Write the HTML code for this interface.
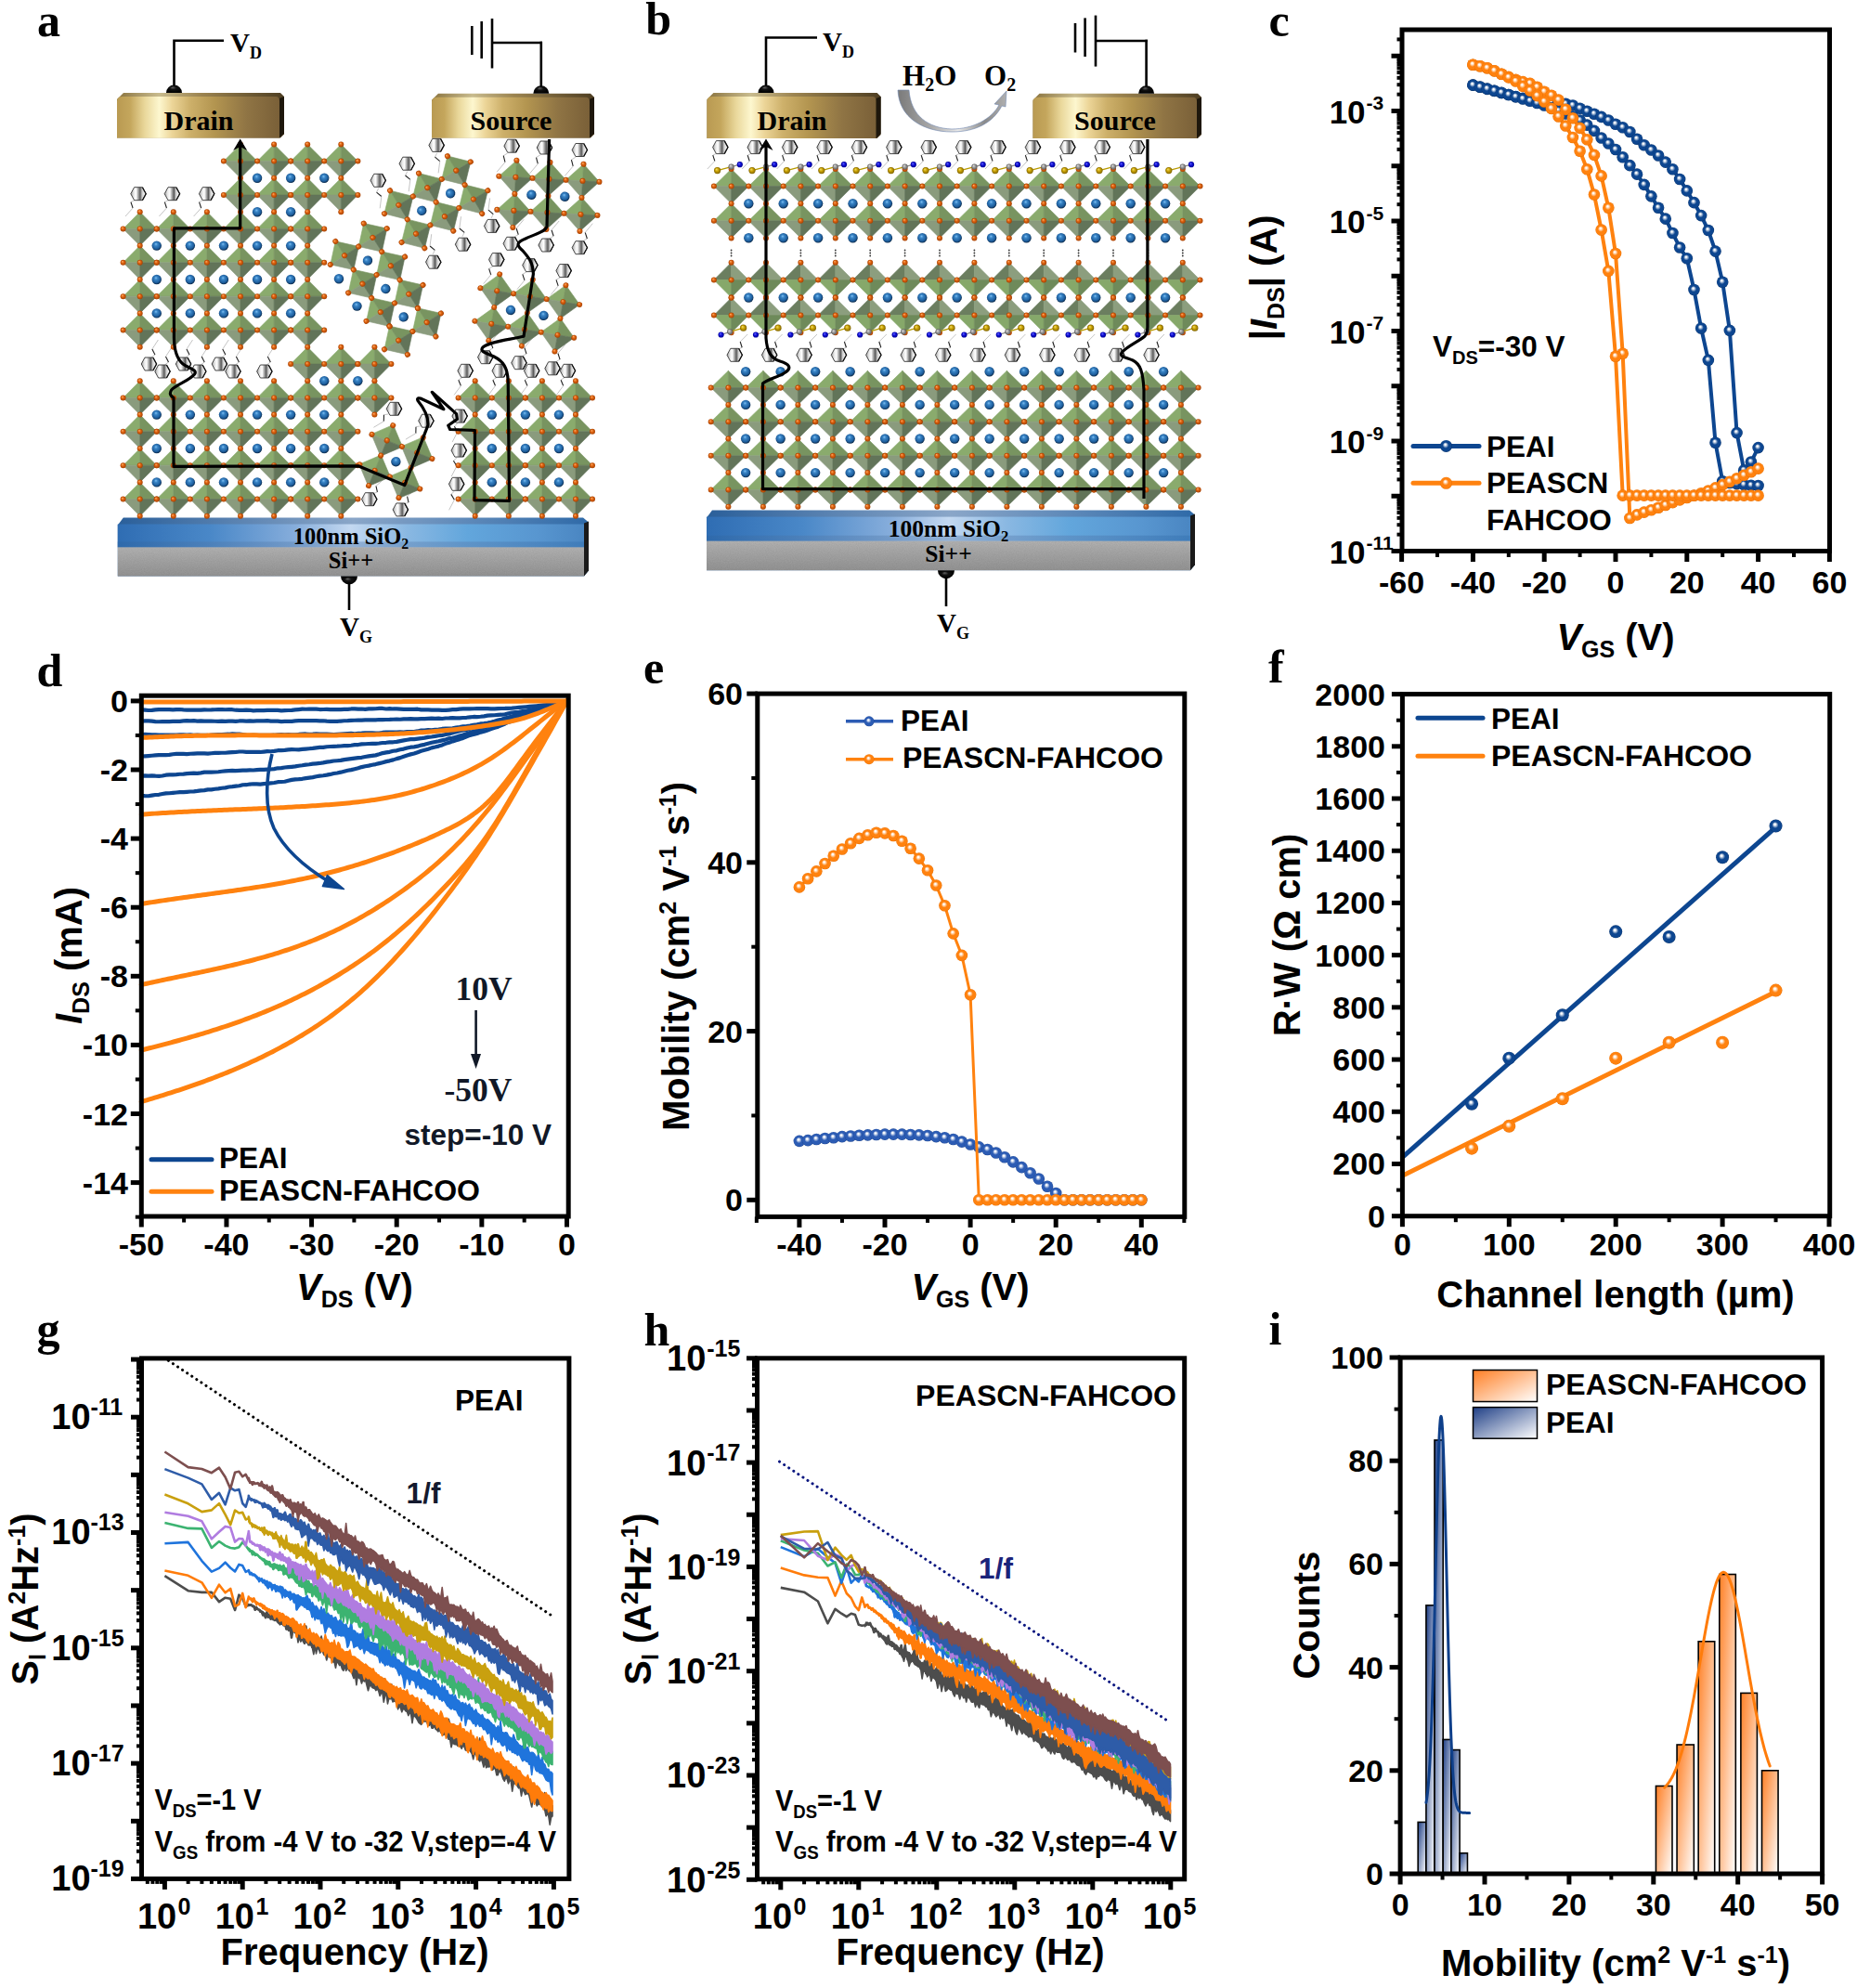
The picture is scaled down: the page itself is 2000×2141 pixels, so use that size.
<!DOCTYPE html><html><head><meta charset="utf-8"><title>Figure</title><style>html,body{margin:0;padding:0;background:#fff;}svg{display:block;}</style></head><body>
<svg xmlns="http://www.w3.org/2000/svg" width="2000" height="2141" viewBox="0 0 2000 2141">
<rect width="2000" height="2141" fill="#fff"/>
<defs>
<radialGradient id="bO" cx="0.5" cy="0.5" r="0.5" fx="0.42" fy="0.36"><stop offset="0" stop-color="#fff"/><stop offset="0.12" stop-color="#fff" stop-opacity="0.95"/><stop offset="0.5" stop-color="#ff820f"/><stop offset="0.88" stop-color="#ff820f"/><stop offset="1" stop-color="#e86e00"/></radialGradient>
<radialGradient id="bN" cx="0.5" cy="0.5" r="0.5" fx="0.42" fy="0.36"><stop offset="0" stop-color="#fff"/><stop offset="0.12" stop-color="#fff" stop-opacity="0.95"/><stop offset="0.5" stop-color="#0d4690"/><stop offset="0.88" stop-color="#0d4690"/><stop offset="1" stop-color="#08336c"/></radialGradient>
<radialGradient id="bR" cx="0.5" cy="0.5" r="0.5" fx="0.42" fy="0.36"><stop offset="0" stop-color="#fff"/><stop offset="0.12" stop-color="#fff" stop-opacity="0.95"/><stop offset="0.5" stop-color="#2c5cb4"/><stop offset="0.88" stop-color="#2c5cb4"/><stop offset="1" stop-color="#1d4590"/></radialGradient>
<linearGradient id="hO" x1="0" y1="0" x2="1" y2="1"><stop offset="0" stop-color="#ff7f24"/><stop offset="1" stop-color="#fff"/></linearGradient>
<linearGradient id="hN" x1="0" y1="0" x2="1" y2="1"><stop offset="0" stop-color="#1f3f86"/><stop offset="1" stop-color="#fff"/></linearGradient>
<linearGradient id="hOb" x1="0" y1="0" x2="1" y2="0"><stop offset="0" stop-color="#ff8a3a"/><stop offset="1" stop-color="#fff"/></linearGradient>
<linearGradient id="hNb" x1="0" y1="0" x2="1" y2="0"><stop offset="0" stop-color="#2a4a8e"/><stop offset="1" stop-color="#fff"/></linearGradient>
</defs>
<defs>
<linearGradient id="gold" x1="0" y1="0" x2="1" y2="0"><stop offset="0" stop-color="#b99a52"/><stop offset="0.08" stop-color="#c4a65c"/><stop offset="0.17" stop-color="#e9d79a"/><stop offset="0.26" stop-color="#fdf7cf"/><stop offset="0.34" stop-color="#ecd598"/><stop offset="0.45" stop-color="#cdb06a"/><stop offset="0.6" stop-color="#b39550"/><stop offset="0.8" stop-color="#8f7444"/><stop offset="1" stop-color="#7a6038"/></linearGradient>
<linearGradient id="goldtop" x1="0" y1="0" x2="1" y2="0"><stop offset="0" stop-color="#8a733e"/><stop offset="0.25" stop-color="#c8bb8e"/><stop offset="0.5" stop-color="#9c8450"/><stop offset="1" stop-color="#4e3e22"/></linearGradient>
<linearGradient id="sio2" x1="0" y1="0" x2="1" y2="0"><stop offset="0" stop-color="#2f6db3"/><stop offset="0.2" stop-color="#4a88c8"/><stop offset="0.38" stop-color="#86addb"/><stop offset="0.5" stop-color="#c3d8f1"/><stop offset="0.62" stop-color="#8ab8e2"/><stop offset="0.75" stop-color="#62a6dc"/><stop offset="0.9" stop-color="#5896d0"/><stop offset="1" stop-color="#4a86c2"/></linearGradient>
<linearGradient id="sio2b" x1="0" y1="0" x2="1" y2="0"><stop offset="0" stop-color="#2e68a8"/><stop offset="0.5" stop-color="#7d9fc8"/><stop offset="1" stop-color="#3a78b6"/></linearGradient>
<linearGradient id="sio2t" x1="0" y1="0" x2="1" y2="0"><stop offset="0" stop-color="#2a5f9a"/><stop offset="0.5" stop-color="#8aa6c8"/><stop offset="1" stop-color="#2f6aa8"/></linearGradient>
<linearGradient id="si" x1="0" y1="0" x2="0" y2="1"><stop offset="0" stop-color="#b4b4b4"/><stop offset="0.5" stop-color="#a4a4a4"/><stop offset="1" stop-color="#959595"/></linearGradient>
<filter id="grain" x="0" y="0" width="1" height="1"><feTurbulence type="fractalNoise" baseFrequency="0.9" numOctaves="2" seed="3" result="n"/><feColorMatrix type="matrix" values="0 0 0 0 0.5  0 0 0 0 0.5  0 0 0 0 0.5  0 0 0 0.35 0" in="n" result="m"/><feComposite in="m" in2="SourceGraphic" operator="in" result="c"/><feBlend in="SourceGraphic" in2="c" mode="multiply"/></filter>
<radialGradient id="gOr" cx="0.5" cy="0.5" r="0.5" fx="0.35" fy="0.3"><stop offset="0" stop-color="#ffb070"/><stop offset="0.45" stop-color="#e06612"/><stop offset="1" stop-color="#a84000"/></radialGradient>
<radialGradient id="gBl" cx="0.46" cy="0.44" r="0.56" fx="0.42" fy="0.32"><stop offset="0" stop-color="#7fc0f4"/><stop offset="0.3" stop-color="#3a85c6"/><stop offset="0.75" stop-color="#1d5d9c"/><stop offset="1" stop-color="#0a2848"/></radialGradient>
<radialGradient id="gS" cx="0.5" cy="0.5" r="0.5" fx="0.35" fy="0.3"><stop offset="0" stop-color="#f4e070"/><stop offset="0.5" stop-color="#c8a000"/><stop offset="1" stop-color="#806400"/></radialGradient>
<radialGradient id="gN" cx="0.5" cy="0.5" r="0.5" fx="0.35" fy="0.3"><stop offset="0" stop-color="#7070ff"/><stop offset="0.5" stop-color="#1010d8"/><stop offset="1" stop-color="#000090"/></radialGradient>
<radialGradient id="gC" cx="0.5" cy="0.5" r="0.5" fx="0.35" fy="0.3"><stop offset="0" stop-color="#e0e0e0"/><stop offset="0.5" stop-color="#9a9a9a"/><stop offset="1" stop-color="#5a5a5a"/></radialGradient>
<radialGradient id="gK" cx="0.5" cy="0.5" r="0.5" fx="0.4" fy="0.3"><stop offset="0" stop-color="#666"/><stop offset="0.4" stop-color="#111"/><stop offset="1" stop-color="#000"/></radialGradient>
<linearGradient id="hx" x1="0" y1="0" x2="1" y2="0"><stop offset="0" stop-color="#9a9a9a"/><stop offset="0.2" stop-color="#e8e8e8"/><stop offset="0.35" stop-color="#fff"/><stop offset="0.5" stop-color="#a0a0a0"/><stop offset="0.62" stop-color="#5a5a5a"/><stop offset="0.75" stop-color="#d0d0d0"/><stop offset="0.9" stop-color="#f4f4f4"/><stop offset="1" stop-color="#b0b0b0"/></linearGradient>
<linearGradient id="arr" x1="0" y1="0" x2="1" y2="0"><stop offset="0" stop-color="#7a7a7a"/><stop offset="0.3" stop-color="#a8a8a8"/><stop offset="0.55" stop-color="#e8e8e8"/><stop offset="0.8" stop-color="#8a8a8a"/><stop offset="1" stop-color="#b0b0b0"/></linearGradient>
<g id="oA"><polygon points="-18.05,0 0,-18.2 0,0" fill="#8aab6d" stroke="#8aab6d" stroke-width="0.6" stroke-linejoin="bevel"/><polygon points="0,-18.2 18.05,0 0,0" fill="#789460" stroke="#789460" stroke-width="0.6" stroke-linejoin="bevel"/><polygon points="-18.05,0 0,18.2 0,0" fill="#8a9b7d" stroke="#8a9b7d" stroke-width="0.6" stroke-linejoin="bevel"/><polygon points="0,18.2 18.05,0 0,0" fill="#627459" stroke="#627459" stroke-width="0.6" stroke-linejoin="bevel"/></g>
<g id="oB"><polygon points="-18.7,0 0,-18.3 0,0" fill="#8aab6d" stroke="#8aab6d" stroke-width="0.6" stroke-linejoin="bevel"/><polygon points="0,-18.3 18.7,0 0,0" fill="#789460" stroke="#789460" stroke-width="0.6" stroke-linejoin="bevel"/><polygon points="-18.7,0 0,18.3 0,0" fill="#8a9b7d" stroke="#8a9b7d" stroke-width="0.6" stroke-linejoin="bevel"/><polygon points="0,18.3 18.7,0 0,0" fill="#627459" stroke="#627459" stroke-width="0.6" stroke-linejoin="bevel"/></g>
<g id="oB1"><polygon points="-18.7,0 0,-18.6 0,0" fill="#8aab6d" stroke="#8aab6d" stroke-width="0.6" stroke-linejoin="bevel"/><polygon points="0,-18.6 18.7,0 0,0" fill="#789460" stroke="#789460" stroke-width="0.6" stroke-linejoin="bevel"/><polygon points="-18.7,0 0,18.6 0,0" fill="#8a9b7d" stroke="#8a9b7d" stroke-width="0.6" stroke-linejoin="bevel"/><polygon points="0,18.6 18.7,0 0,0" fill="#627459" stroke="#627459" stroke-width="0.6" stroke-linejoin="bevel"/></g>
<g id="oB2"><polygon points="-18.7,0 0,-18.8 0,0" fill="#6b7e5f" stroke="#6b7e5f" stroke-width="0.6" stroke-linejoin="bevel"/><polygon points="0,-18.8 18.7,0 0,0" fill="#8c9e7e" stroke="#8c9e7e" stroke-width="0.6" stroke-linejoin="bevel"/><polygon points="-18.7,0 0,18.8 0,0" fill="#86a86a" stroke="#86a86a" stroke-width="0.6" stroke-linejoin="bevel"/><polygon points="0,18.8 18.7,0 0,0" fill="#6e8a5a" stroke="#6e8a5a" stroke-width="0.6" stroke-linejoin="bevel"/></g>
<circle id="od" r="3" fill="url(#gOr)"/>
<circle id="bd" r="5.2" fill="url(#gBl)"/>
<g id="hex"><polygon points="-8.2,0 -4.4,-7 4.4,-7 8.2,0 4.4,7 -4.4,7" fill="url(#hx)" stroke="#333" stroke-width="0.9"/><polyline points="4.4,-7 8.2,0 4.4,7" fill="none" stroke="#111" stroke-width="1.3"/></g>
</defs>
<text x="40" y="38.6" font-size="50" text-anchor="start" fill="#000" font-family="'Liberation Serif','Times New Roman',serif" font-weight="bold" >a</text>
<polyline points="187.5,94 187.5,43.7 241,43.7" fill="none" stroke="#000" stroke-width="2.6"/>
<text x="248" y="56" font-size="29" font-family="'Liberation Serif','Times New Roman',serif" font-weight="bold">V<tspan font-size="18" dy="7">D</tspan></text>
<line x1="508.3" y1="28" x2="508.3" y2="59" stroke="#000" stroke-width="2.6" />
<line x1="518.7" y1="23" x2="518.7" y2="63" stroke="#000" stroke-width="2.6" />
<line x1="530" y1="20" x2="530" y2="73.5" stroke="#000" stroke-width="2.6" />
<line x1="530" y1="46" x2="584" y2="46" stroke="#000" stroke-width="2.6" />
<line x1="582.8" y1="44.7" x2="582.8" y2="94" stroke="#000" stroke-width="2.6" />
<path d="M126,107 L133,100 L302,100 L306,104 L306,144.5 L302,148.5 L126,148.5 Z" fill="url(#goldtop)"/>
<path d="M126,109 Q126,104 132,104 L297,104 Q301,104 301,109 L301,148.5 L126,148.5 Z" fill="url(#gold)"/>
<path d="M301,106 L306,104 L306,143.5 L301,148.5 Z" fill="#1e170c"/>
<text x="214" y="139.5" font-size="30" text-anchor="middle" fill="#000" font-family="'Liberation Serif','Times New Roman',serif" font-weight="bold" >Drain</text>
<path d="M465,107.8 L472,100.8 L636,100.8 L640,104.8 L640,144.5 L636,148.5 L465,148.5 Z" fill="url(#goldtop)"/>
<path d="M465,109.8 Q465,104.8 471,104.8 L631,104.8 Q635,104.8 635,109.8 L635,148.5 L465,148.5 Z" fill="url(#gold)"/>
<path d="M635,106.8 L640,104.8 L640,143.5 L635,148.5 Z" fill="#1e170c"/>
<text x="550.5" y="139.5" font-size="30" text-anchor="middle" fill="#000" font-family="'Liberation Serif','Times New Roman',serif" font-weight="bold" >Source</text>
<path d="M179,100 A8.5,8.5 0 0 1 196,100 Z" fill="url(#gK)"/>
<path d="M574.3,100.8 A8.5,8.5 0 0 1 591.3,100.8 Z" fill="url(#gK)"/>
<path d="M126.8,565.5 L132.8,557.5 L628,557.5 L634,562.5 L634,614.5 L629,620.5 L126.8,620.5 Z" fill="url(#sio2t)"/>
<rect x="126.8" y="564.5" width="502.2" height="24.9" fill="url(#sio2)"/>
<rect x="126.8" y="583.4" width="502.2" height="6" fill="url(#sio2b)" opacity="0.7"/>
<rect x="126.8" y="589.4" width="502.2" height="31.1" fill="url(#si)" filter="url(#grain)"/>
<path d="M629,563.5 L634,561.5 L634,614.5 L629,620.5 Z" fill="#1a1a1a"/>
<text x="378" y="586" font-size="24.5" text-anchor="middle" font-family="'Liberation Serif','Times New Roman',serif" font-weight="bold">100nm SiO<tspan font-size="15.9" dy="5">2</tspan></text>
<text x="378" y="612" font-size="24.5" text-anchor="middle" font-family="'Liberation Serif','Times New Roman',serif" font-weight="bold">Si++</text>
<path d="M367,620.5 A9,9 0 0 0 385,620.5 Z" fill="url(#gK)"/>
<line x1="376" y1="627" x2="376" y2="657" stroke="#000" stroke-width="2.6" />
<text x="366" y="684.5" font-size="29" font-family="'Liberation Serif','Times New Roman',serif" font-weight="bold">V<tspan font-size="18" dy="7">G</tspan></text>
<polyline points="145.08,215.5 140.95,217.66" fill="none" stroke="#bdbdbd" stroke-width="0.9"/>
<polyline points="140.95,217.66 143.05,224.04" fill="none" stroke="#222" stroke-width="1.1"/>
<polyline points="143.05,224.04 135,233" fill="none" stroke="#bdbdbd" stroke-width="0.9"/>
<use href="#hex" transform="translate(149,208.7)"/>
<polyline points="181.48,215.5 177.35,217.66" fill="none" stroke="#bdbdbd" stroke-width="0.9"/>
<polyline points="177.35,217.66 179.45,224.04" fill="none" stroke="#222" stroke-width="1.1"/>
<polyline points="179.45,224.04 171.4,233" fill="none" stroke="#bdbdbd" stroke-width="0.9"/>
<use href="#hex" transform="translate(185.4,208.7)"/>
<polyline points="218.68,215.5 214.55,217.66" fill="none" stroke="#bdbdbd" stroke-width="0.9"/>
<polyline points="214.55,217.66 216.65,224.04" fill="none" stroke="#222" stroke-width="1.1"/>
<polyline points="216.65,224.04 208.6,233" fill="none" stroke="#bdbdbd" stroke-width="0.9"/>
<use href="#hex" transform="translate(222.6,208.7)"/>
<polyline points="163.2,384.72 166.93,381.98" fill="none" stroke="#bdbdbd" stroke-width="0.9"/>
<polyline points="166.93,381.98 163.87,376.02" fill="none" stroke="#222" stroke-width="1.1"/>
<polyline points="163.87,376.02 170.4,366" fill="none" stroke="#bdbdbd" stroke-width="0.9"/>
<use href="#hex" transform="translate(160.4,392)"/>
<polyline points="177.8,392.72 181.53,389.98" fill="none" stroke="#bdbdbd" stroke-width="0.9"/>
<polyline points="181.53,389.98 178.47,384.02" fill="none" stroke="#222" stroke-width="1.1"/>
<polyline points="178.47,384.02 185,374" fill="none" stroke="#bdbdbd" stroke-width="0.9"/>
<use href="#hex" transform="translate(175,400)"/>
<polyline points="200.3,384.72 204.03,381.98" fill="none" stroke="#bdbdbd" stroke-width="0.9"/>
<polyline points="204.03,381.98 200.97,376.02" fill="none" stroke="#222" stroke-width="1.1"/>
<polyline points="200.97,376.02 207.5,366" fill="none" stroke="#bdbdbd" stroke-width="0.9"/>
<use href="#hex" transform="translate(197.5,392)"/>
<polyline points="216.5,392.72 220.23,389.98" fill="none" stroke="#bdbdbd" stroke-width="0.9"/>
<polyline points="220.23,389.98 217.17,384.02" fill="none" stroke="#222" stroke-width="1.1"/>
<polyline points="217.17,384.02 223.7,374" fill="none" stroke="#bdbdbd" stroke-width="0.9"/>
<use href="#hex" transform="translate(213.7,400)"/>
<polyline points="239.1,384.72 242.83,381.98" fill="none" stroke="#bdbdbd" stroke-width="0.9"/>
<polyline points="242.83,381.98 239.77,376.02" fill="none" stroke="#222" stroke-width="1.1"/>
<polyline points="239.77,376.02 246.3,366" fill="none" stroke="#bdbdbd" stroke-width="0.9"/>
<use href="#hex" transform="translate(236.3,392)"/>
<polyline points="253.7,392.72 257.43,389.98" fill="none" stroke="#bdbdbd" stroke-width="0.9"/>
<polyline points="257.43,389.98 254.37,384.02" fill="none" stroke="#222" stroke-width="1.1"/>
<polyline points="254.37,384.02 260.9,374" fill="none" stroke="#bdbdbd" stroke-width="0.9"/>
<use href="#hex" transform="translate(250.9,400)"/>
<polyline points="287.6,392.72 291.33,389.98" fill="none" stroke="#bdbdbd" stroke-width="0.9"/>
<polyline points="291.33,389.98 288.27,384.02" fill="none" stroke="#222" stroke-width="1.1"/>
<polyline points="288.27,384.02 294.8,374" fill="none" stroke="#bdbdbd" stroke-width="0.9"/>
<use href="#hex" transform="translate(284.8,400)"/>
<polyline points="470.66,164.8 468.45,169.17" fill="none" stroke="#bdbdbd" stroke-width="0.9"/>
<polyline points="468.45,169.17 473.75,173.63" fill="none" stroke="#222" stroke-width="1.1"/>
<polyline points="473.75,173.63 472.1,186.4" fill="none" stroke="#bdbdbd" stroke-width="0.9"/>
<use href="#hex" transform="translate(470.1,156.4)"/>
<polyline points="438.76,184.6 436.55,188.97" fill="none" stroke="#bdbdbd" stroke-width="0.9"/>
<polyline points="436.55,188.97 441.85,193.43" fill="none" stroke="#222" stroke-width="1.1"/>
<polyline points="441.85,193.43 440.2,206.2" fill="none" stroke="#bdbdbd" stroke-width="0.9"/>
<use href="#hex" transform="translate(438.2,176.2)"/>
<polyline points="407.76,202.7 405.55,207.07" fill="none" stroke="#bdbdbd" stroke-width="0.9"/>
<polyline points="405.55,207.07 410.85,211.53" fill="none" stroke="#222" stroke-width="1.1"/>
<polyline points="410.85,211.53 409.2,224.3" fill="none" stroke="#bdbdbd" stroke-width="0.9"/>
<use href="#hex" transform="translate(407.2,194.3)"/>
<polyline points="529.04,235 531.25,230.63" fill="none" stroke="#bdbdbd" stroke-width="0.9"/>
<polyline points="531.25,230.63 525.95,226.17" fill="none" stroke="#222" stroke-width="1.1"/>
<polyline points="525.95,226.17 527.6,213.4" fill="none" stroke="#bdbdbd" stroke-width="0.9"/>
<use href="#hex" transform="translate(529.6,243.4)"/>
<polyline points="497.94,254.8 500.15,250.43" fill="none" stroke="#bdbdbd" stroke-width="0.9"/>
<polyline points="500.15,250.43 494.85,245.97" fill="none" stroke="#222" stroke-width="1.1"/>
<polyline points="494.85,245.97 496.5,233.2" fill="none" stroke="#bdbdbd" stroke-width="0.9"/>
<use href="#hex" transform="translate(498.5,263.2)"/>
<polyline points="466.14,273.8 468.35,269.43" fill="none" stroke="#bdbdbd" stroke-width="0.9"/>
<polyline points="468.35,269.43 463.05,264.97" fill="none" stroke="#222" stroke-width="1.1"/>
<polyline points="463.05,264.97 464.7,252.2" fill="none" stroke="#bdbdbd" stroke-width="0.9"/>
<use href="#hex" transform="translate(466.7,282.2)"/>
<polyline points="546.62,165.04 542.21,167.72" fill="none" stroke="#bdbdbd" stroke-width="0.9"/>
<polyline points="542.21,167.72 543.99,174.68" fill="none" stroke="#222" stroke-width="1.1"/>
<polyline points="543.99,174.68 535.1,185.2" fill="none" stroke="#bdbdbd" stroke-width="0.9"/>
<use href="#hex" transform="translate(551.1,157.2)"/>
<polyline points="581.92,166.84 577.51,169.52" fill="none" stroke="#bdbdbd" stroke-width="0.9"/>
<polyline points="577.51,169.52 579.29,176.48" fill="none" stroke="#222" stroke-width="1.1"/>
<polyline points="579.29,176.48 570.4,187" fill="none" stroke="#bdbdbd" stroke-width="0.9"/>
<use href="#hex" transform="translate(586.4,159)"/>
<polyline points="619.82,169.34 615.41,172.02" fill="none" stroke="#bdbdbd" stroke-width="0.9"/>
<polyline points="615.41,172.02 617.19,178.98" fill="none" stroke="#222" stroke-width="1.1"/>
<polyline points="617.19,178.98 608.3,189.5" fill="none" stroke="#bdbdbd" stroke-width="0.9"/>
<use href="#hex" transform="translate(624.3,161.5)"/>
<polyline points="554.12,255.02 558.28,252.57" fill="none" stroke="#bdbdbd" stroke-width="0.9"/>
<polyline points="558.28,252.57 556.12,246.03" fill="none" stroke="#222" stroke-width="1.1"/>
<polyline points="556.12,246.03 564.2,236.3" fill="none" stroke="#bdbdbd" stroke-width="0.9"/>
<use href="#hex" transform="translate(550.2,262.3)"/>
<polyline points="592.02,256.72 596.18,254.27" fill="none" stroke="#bdbdbd" stroke-width="0.9"/>
<polyline points="596.18,254.27 594.02,247.73" fill="none" stroke="#222" stroke-width="1.1"/>
<polyline points="594.02,247.73 602.1,238" fill="none" stroke="#bdbdbd" stroke-width="0.9"/>
<use href="#hex" transform="translate(588.1,264)"/>
<polyline points="628.22,259.42 632.38,256.97" fill="none" stroke="#bdbdbd" stroke-width="0.9"/>
<polyline points="632.38,256.97 630.22,250.43" fill="none" stroke="#222" stroke-width="1.1"/>
<polyline points="630.22,250.43 638.3,240.7" fill="none" stroke="#bdbdbd" stroke-width="0.9"/>
<use href="#hex" transform="translate(624.3,266.7)"/>
<polyline points="530.78,286.88 526.62,289.33" fill="none" stroke="#bdbdbd" stroke-width="0.9"/>
<polyline points="526.62,289.33 528.78,295.87" fill="none" stroke="#222" stroke-width="1.1"/>
<polyline points="528.78,295.87 520.7,305.6" fill="none" stroke="#bdbdbd" stroke-width="0.9"/>
<use href="#hex" transform="translate(534.7,279.6)"/>
<polyline points="566.98,292.88 562.82,295.33" fill="none" stroke="#bdbdbd" stroke-width="0.9"/>
<polyline points="562.82,295.33 564.98,301.87" fill="none" stroke="#222" stroke-width="1.1"/>
<polyline points="564.98,301.87 556.9,311.6" fill="none" stroke="#bdbdbd" stroke-width="0.9"/>
<use href="#hex" transform="translate(570.9,285.6)"/>
<polyline points="603.18,298.88 599.02,301.33" fill="none" stroke="#bdbdbd" stroke-width="0.9"/>
<polyline points="599.02,301.33 601.18,307.87" fill="none" stroke="#222" stroke-width="1.1"/>
<polyline points="601.18,307.87 593.1,317.6" fill="none" stroke="#bdbdbd" stroke-width="0.9"/>
<use href="#hex" transform="translate(607.1,291.6)"/>
<polyline points="526.62,377.42 530.78,374.97" fill="none" stroke="#bdbdbd" stroke-width="0.9"/>
<polyline points="530.78,374.97 528.62,368.43" fill="none" stroke="#222" stroke-width="1.1"/>
<polyline points="528.62,368.43 536.7,358.7" fill="none" stroke="#bdbdbd" stroke-width="0.9"/>
<use href="#hex" transform="translate(522.7,384.7)"/>
<polyline points="562.82,383.42 566.98,380.97" fill="none" stroke="#bdbdbd" stroke-width="0.9"/>
<polyline points="566.98,380.97 564.82,374.43" fill="none" stroke="#222" stroke-width="1.1"/>
<polyline points="564.82,374.43 572.9,364.7" fill="none" stroke="#bdbdbd" stroke-width="0.9"/>
<use href="#hex" transform="translate(558.9,390.7)"/>
<polyline points="598.92,389.52 603.08,387.07" fill="none" stroke="#bdbdbd" stroke-width="0.9"/>
<polyline points="603.08,387.07 600.92,380.53" fill="none" stroke="#222" stroke-width="1.1"/>
<polyline points="600.92,380.53 609,370.8" fill="none" stroke="#bdbdbd" stroke-width="0.9"/>
<use href="#hex" transform="translate(595,396.8)"/>
<polyline points="497.74,406.58 493.79,409.17" fill="none" stroke="#bdbdbd" stroke-width="0.9"/>
<polyline points="493.79,409.17 496.41,415.43" fill="none" stroke="#222" stroke-width="1.1"/>
<polyline points="496.41,415.43 489.1,425.3" fill="none" stroke="#bdbdbd" stroke-width="0.9"/>
<use href="#hex" transform="translate(501.1,399.3)"/>
<polyline points="534.84,406.58 530.89,409.17" fill="none" stroke="#bdbdbd" stroke-width="0.9"/>
<polyline points="530.89,409.17 533.51,415.43" fill="none" stroke="#222" stroke-width="1.1"/>
<polyline points="533.51,415.43 526.2,425.3" fill="none" stroke="#bdbdbd" stroke-width="0.9"/>
<use href="#hex" transform="translate(538.2,399.3)"/>
<polyline points="569.24,406.58 565.29,409.17" fill="none" stroke="#bdbdbd" stroke-width="0.9"/>
<polyline points="565.29,409.17 567.91,415.43" fill="none" stroke="#222" stroke-width="1.1"/>
<polyline points="567.91,415.43 560.6,425.3" fill="none" stroke="#bdbdbd" stroke-width="0.9"/>
<use href="#hex" transform="translate(572.6,399.3)"/>
<polyline points="608.04,406.58 604.09,409.17" fill="none" stroke="#bdbdbd" stroke-width="0.9"/>
<polyline points="604.09,409.17 606.71,415.43" fill="none" stroke="#222" stroke-width="1.1"/>
<polyline points="606.71,415.43 599.4,425.3" fill="none" stroke="#bdbdbd" stroke-width="0.9"/>
<use href="#hex" transform="translate(611.4,399.3)"/>
<polyline points="492.86,455.94 489.34,459.17" fill="none" stroke="#bdbdbd" stroke-width="0.9"/>
<polyline points="489.34,459.17 492.86,465.03" fill="none" stroke="#222" stroke-width="1.1"/>
<polyline points="492.86,465.03 487.1,476.1" fill="none" stroke="#bdbdbd" stroke-width="0.9"/>
<use href="#hex" transform="translate(495.1,448.1)"/>
<polyline points="491.96,492.94 488.44,496.17" fill="none" stroke="#bdbdbd" stroke-width="0.9"/>
<polyline points="488.44,496.17 491.96,502.03" fill="none" stroke="#222" stroke-width="1.1"/>
<polyline points="491.96,502.03 486.2,513.1" fill="none" stroke="#bdbdbd" stroke-width="0.9"/>
<use href="#hex" transform="translate(494.2,485.1)"/>
<polyline points="489.36,529.14 485.84,532.37" fill="none" stroke="#bdbdbd" stroke-width="0.9"/>
<polyline points="485.84,532.37 489.36,538.23" fill="none" stroke="#222" stroke-width="1.1"/>
<polyline points="489.36,538.23 483.6,549.3" fill="none" stroke="#bdbdbd" stroke-width="0.9"/>
<use href="#hex" transform="translate(491.6,521.3)"/>
<polyline points="418.24,445.9 413.48,446.85" fill="none" stroke="#bdbdbd" stroke-width="0.9"/>
<polyline points="413.48,446.85 413.32,453.75" fill="none" stroke="#222" stroke-width="1.1"/>
<polyline points="413.32,453.75 402.4,460.3" fill="none" stroke="#bdbdbd" stroke-width="0.9"/>
<use href="#hex" transform="translate(424.4,440.3)"/>
<polyline points="452.74,458.8 447.98,459.75" fill="none" stroke="#bdbdbd" stroke-width="0.9"/>
<polyline points="447.98,459.75 447.82,466.65" fill="none" stroke="#222" stroke-width="1.1"/>
<polyline points="447.82,466.65 436.9,473.2" fill="none" stroke="#bdbdbd" stroke-width="0.9"/>
<use href="#hex" transform="translate(458.9,453.2)"/>
<polyline points="402.18,531.54 406.44,529.93" fill="none" stroke="#bdbdbd" stroke-width="0.9"/>
<polyline points="406.44,529.93 404.96,523.47" fill="none" stroke="#222" stroke-width="1.1"/>
<polyline points="404.96,523.47 413.7,515.7" fill="none" stroke="#bdbdbd" stroke-width="0.9"/>
<use href="#hex" transform="translate(397.7,537.7)"/>
<polyline points="435.78,542.74 440.04,541.13" fill="none" stroke="#bdbdbd" stroke-width="0.9"/>
<polyline points="440.04,541.13 438.56,534.67" fill="none" stroke="#222" stroke-width="1.1"/>
<polyline points="438.56,534.67 447.3,526.9" fill="none" stroke="#bdbdbd" stroke-width="0.9"/>
<use href="#hex" transform="translate(431.3,548.9)"/>
<use href="#oA" x="259" y="173.6" />
<use href="#oA" x="295.1" y="173.6" />
<use href="#oA" x="331.2" y="173.6" />
<use href="#oA" x="367.3" y="173.6" />
<use href="#oA" x="259" y="210" />
<use href="#oA" x="295.1" y="210" />
<use href="#oA" x="331.2" y="210" />
<use href="#oA" x="367.3" y="210" />
<use href="#oA" x="150.7" y="246.4" />
<use href="#oA" x="186.8" y="246.4" />
<use href="#oA" x="222.9" y="246.4" />
<use href="#oA" x="259" y="246.4" />
<use href="#oA" x="295.1" y="246.4" />
<use href="#oA" x="331.2" y="246.4" />
<use href="#oA" x="150.7" y="282.8" />
<use href="#oA" x="186.8" y="282.8" />
<use href="#oA" x="222.9" y="282.8" />
<use href="#oA" x="259" y="282.8" />
<use href="#oA" x="295.1" y="282.8" />
<use href="#oA" x="331.2" y="282.8" />
<use href="#oA" x="150.7" y="319.2" />
<use href="#oA" x="186.8" y="319.2" />
<use href="#oA" x="222.9" y="319.2" />
<use href="#oA" x="259" y="319.2" />
<use href="#oA" x="295.1" y="319.2" />
<use href="#oA" x="331.2" y="319.2" />
<use href="#oA" x="150.7" y="355.6" />
<use href="#oA" x="186.8" y="355.6" />
<use href="#oA" x="222.9" y="355.6" />
<use href="#oA" x="259" y="355.6" />
<use href="#oA" x="295.1" y="355.6" />
<use href="#oA" x="331.2" y="355.6" />
<use href="#oA" x="331.2" y="392" />
<use href="#oA" x="367.3" y="392" />
<use href="#oA" x="403.4" y="392" />
<use href="#oA" x="150.7" y="428.4" />
<use href="#oA" x="186.8" y="428.4" />
<use href="#oA" x="222.9" y="428.4" />
<use href="#oA" x="259" y="428.4" />
<use href="#oA" x="295.1" y="428.4" />
<use href="#oA" x="331.2" y="428.4" />
<use href="#oA" x="367.3" y="428.4" />
<use href="#oA" x="403.4" y="428.4" />
<use href="#oA" x="150.7" y="464.8" />
<use href="#oA" x="186.8" y="464.8" />
<use href="#oA" x="222.9" y="464.8" />
<use href="#oA" x="259" y="464.8" />
<use href="#oA" x="295.1" y="464.8" />
<use href="#oA" x="331.2" y="464.8" />
<use href="#oA" x="367.3" y="464.8" />
<use href="#oA" x="150.7" y="501.2" />
<use href="#oA" x="186.8" y="501.2" />
<use href="#oA" x="222.9" y="501.2" />
<use href="#oA" x="259" y="501.2" />
<use href="#oA" x="295.1" y="501.2" />
<use href="#oA" x="331.2" y="501.2" />
<use href="#oA" x="367.3" y="501.2" />
<use href="#oA" x="150.7" y="537.6" />
<use href="#oA" x="186.8" y="537.6" />
<use href="#oA" x="222.9" y="537.6" />
<use href="#oA" x="259" y="537.6" />
<use href="#oA" x="295.1" y="537.6" />
<use href="#oA" x="331.2" y="537.6" />
<use href="#oA" x="367.3" y="537.6" />
<use href="#bd" x="313.15" y="191.8" />
<use href="#bd" x="313.15" y="519.4" />
<use href="#bd" x="277.05" y="446.6" />
<use href="#bd" x="240.95" y="264.6" />
<use href="#bd" x="204.85" y="519.4" />
<use href="#bd" x="240.95" y="483" />
<use href="#bd" x="313.15" y="264.6" />
<use href="#bd" x="277.05" y="191.8" />
<use href="#bd" x="277.05" y="519.4" />
<use href="#bd" x="349.25" y="410.2" />
<use href="#bd" x="313.15" y="483" />
<use href="#bd" x="168.75" y="446.6" />
<use href="#bd" x="240.95" y="337.4" />
<use href="#bd" x="204.85" y="264.6" />
<use href="#bd" x="168.75" y="337.4" />
<use href="#bd" x="204.85" y="483" />
<use href="#bd" x="277.05" y="264.6" />
<use href="#bd" x="313.15" y="228.2" />
<use href="#bd" x="277.05" y="483" />
<use href="#bd" x="168.75" y="519.4" />
<use href="#bd" x="204.85" y="337.4" />
<use href="#bd" x="240.95" y="301" />
<use href="#bd" x="385.35" y="410.2" />
<use href="#bd" x="277.05" y="337.4" />
<use href="#bd" x="313.15" y="301" />
<use href="#bd" x="277.05" y="228.2" />
<use href="#bd" x="349.25" y="446.6" />
<use href="#bd" x="168.75" y="264.6" />
<use href="#bd" x="168.75" y="483" />
<use href="#bd" x="204.85" y="301" />
<use href="#bd" x="277.05" y="301" />
<use href="#bd" x="349.25" y="191.8" />
<use href="#bd" x="349.25" y="519.4" />
<use href="#bd" x="240.95" y="446.6" />
<use href="#bd" x="313.15" y="446.6" />
<use href="#bd" x="313.15" y="337.4" />
<use href="#bd" x="349.25" y="483" />
<use href="#bd" x="168.75" y="301" />
<use href="#bd" x="240.95" y="519.4" />
<use href="#bd" x="204.85" y="446.6" />
<use href="#od" x="259" y="155.4" />
<use href="#od" x="295.1" y="155.4" />
<use href="#od" x="367.3" y="155.4" />
<use href="#od" x="331.2" y="155.4" />
<use href="#od" x="277.1" y="173.6" />
<use href="#od" x="331.2" y="173.6" />
<use href="#od" x="259" y="173.6" />
<use href="#od" x="295.1" y="173.6" />
<use href="#od" x="240.9" y="173.6" />
<use href="#od" x="367.3" y="173.6" />
<use href="#od" x="349.2" y="173.6" />
<use href="#od" x="385.4" y="173.6" />
<use href="#od" x="313.1" y="173.6" />
<use href="#od" x="313.2" y="173.6" />
<use href="#od" x="367.3" y="191.8" />
<use href="#od" x="259" y="191.8" />
<use href="#od" x="295.1" y="191.8" />
<use href="#od" x="331.2" y="191.8" />
<use href="#od" x="295.1" y="210" />
<use href="#od" x="240.9" y="210" />
<use href="#od" x="367.3" y="210" />
<use href="#od" x="349.2" y="210" />
<use href="#od" x="259" y="210" />
<use href="#od" x="385.4" y="210" />
<use href="#od" x="313.1" y="210" />
<use href="#od" x="313.2" y="210" />
<use href="#od" x="277.1" y="210" />
<use href="#od" x="331.2" y="210" />
<use href="#od" x="222.9" y="228.2" />
<use href="#od" x="331.2" y="228.2" />
<use href="#od" x="295.1" y="228.2" />
<use href="#od" x="367.3" y="228.2" />
<use href="#od" x="259" y="228.2" />
<use href="#od" x="150.7" y="228.2" />
<use href="#od" x="186.8" y="228.2" />
<use href="#od" x="168.8" y="246.4" />
<use href="#od" x="204.8" y="246.4" />
<use href="#od" x="259" y="246.4" />
<use href="#od" x="349.2" y="246.4" />
<use href="#od" x="150.7" y="246.4" />
<use href="#od" x="295.1" y="246.4" />
<use href="#od" x="186.8" y="246.4" />
<use href="#od" x="240.9" y="246.4" />
<use href="#od" x="132.6" y="246.4" />
<use href="#od" x="313.1" y="246.4" />
<use href="#od" x="313.2" y="246.4" />
<use href="#od" x="168.7" y="246.4" />
<use href="#od" x="331.2" y="246.4" />
<use href="#od" x="277.1" y="246.4" />
<use href="#od" x="222.9" y="246.4" />
<use href="#od" x="295.1" y="264.6" />
<use href="#od" x="259" y="264.6" />
<use href="#od" x="150.7" y="264.6" />
<use href="#od" x="186.8" y="264.6" />
<use href="#od" x="222.9" y="264.6" />
<use href="#od" x="331.2" y="264.6" />
<use href="#od" x="168.8" y="282.8" />
<use href="#od" x="331.2" y="282.8" />
<use href="#od" x="204.8" y="282.8" />
<use href="#od" x="295.1" y="282.8" />
<use href="#od" x="240.9" y="282.8" />
<use href="#od" x="132.6" y="282.8" />
<use href="#od" x="349.2" y="282.8" />
<use href="#od" x="259" y="282.8" />
<use href="#od" x="150.7" y="282.8" />
<use href="#od" x="186.8" y="282.8" />
<use href="#od" x="168.7" y="282.8" />
<use href="#od" x="313.1" y="282.8" />
<use href="#od" x="313.2" y="282.8" />
<use href="#od" x="277.1" y="282.8" />
<use href="#od" x="222.9" y="282.8" />
<use href="#od" x="222.9" y="301" />
<use href="#od" x="259" y="301" />
<use href="#od" x="150.7" y="301" />
<use href="#od" x="186.8" y="301" />
<use href="#od" x="295.1" y="301" />
<use href="#od" x="331.2" y="301" />
<use href="#od" x="313.1" y="319.2" />
<use href="#od" x="168.7" y="319.2" />
<use href="#od" x="331.2" y="319.2" />
<use href="#od" x="313.2" y="319.2" />
<use href="#od" x="277.1" y="319.2" />
<use href="#od" x="222.9" y="319.2" />
<use href="#od" x="168.8" y="319.2" />
<use href="#od" x="204.8" y="319.2" />
<use href="#od" x="349.2" y="319.2" />
<use href="#od" x="259" y="319.2" />
<use href="#od" x="150.7" y="319.2" />
<use href="#od" x="186.8" y="319.2" />
<use href="#od" x="295.1" y="319.2" />
<use href="#od" x="240.9" y="319.2" />
<use href="#od" x="132.6" y="319.2" />
<use href="#od" x="259" y="337.4" />
<use href="#od" x="150.7" y="337.4" />
<use href="#od" x="295.1" y="337.4" />
<use href="#od" x="186.8" y="337.4" />
<use href="#od" x="331.2" y="337.4" />
<use href="#od" x="222.9" y="337.4" />
<use href="#od" x="204.8" y="355.6" />
<use href="#od" x="349.2" y="355.6" />
<use href="#od" x="259" y="355.6" />
<use href="#od" x="150.7" y="355.6" />
<use href="#od" x="295.1" y="355.6" />
<use href="#od" x="186.8" y="355.6" />
<use href="#od" x="240.9" y="355.6" />
<use href="#od" x="132.6" y="355.6" />
<use href="#od" x="313.1" y="355.6" />
<use href="#od" x="313.2" y="355.6" />
<use href="#od" x="168.7" y="355.6" />
<use href="#od" x="331.2" y="355.6" />
<use href="#od" x="277.1" y="355.6" />
<use href="#od" x="222.9" y="355.6" />
<use href="#od" x="168.8" y="355.6" />
<use href="#od" x="331.2" y="373.8" />
<use href="#od" x="403.4" y="373.8" />
<use href="#od" x="222.9" y="373.8" />
<use href="#od" x="367.3" y="373.8" />
<use href="#od" x="259" y="373.8" />
<use href="#od" x="150.7" y="373.8" />
<use href="#od" x="295.1" y="373.8" />
<use href="#od" x="186.8" y="373.8" />
<use href="#od" x="385.4" y="392" />
<use href="#od" x="331.2" y="392" />
<use href="#od" x="367.3" y="392" />
<use href="#od" x="349.2" y="392" />
<use href="#od" x="421.4" y="392" />
<use href="#od" x="385.3" y="392" />
<use href="#od" x="313.1" y="392" />
<use href="#od" x="403.4" y="392" />
<use href="#od" x="367.3" y="410.2" />
<use href="#od" x="259" y="410.2" />
<use href="#od" x="150.7" y="410.2" />
<use href="#od" x="186.8" y="410.2" />
<use href="#od" x="403.4" y="410.2" />
<use href="#od" x="222.9" y="410.2" />
<use href="#od" x="331.2" y="410.2" />
<use href="#od" x="295.1" y="410.2" />
<use href="#od" x="204.8" y="428.4" />
<use href="#od" x="295.1" y="428.4" />
<use href="#od" x="240.9" y="428.4" />
<use href="#od" x="132.6" y="428.4" />
<use href="#od" x="367.3" y="428.4" />
<use href="#od" x="259" y="428.4" />
<use href="#od" x="349.2" y="428.4" />
<use href="#od" x="421.4" y="428.4" />
<use href="#od" x="150.7" y="428.4" />
<use href="#od" x="385.3" y="428.4" />
<use href="#od" x="186.8" y="428.4" />
<use href="#od" x="168.7" y="428.4" />
<use href="#od" x="313.1" y="428.4" />
<use href="#od" x="403.4" y="428.4" />
<use href="#od" x="313.2" y="428.4" />
<use href="#od" x="385.4" y="428.4" />
<use href="#od" x="277.1" y="428.4" />
<use href="#od" x="222.9" y="428.4" />
<use href="#od" x="168.8" y="428.4" />
<use href="#od" x="331.2" y="428.4" />
<use href="#od" x="331.2" y="446.6" />
<use href="#od" x="295.1" y="446.6" />
<use href="#od" x="367.3" y="446.6" />
<use href="#od" x="259" y="446.6" />
<use href="#od" x="150.7" y="446.6" />
<use href="#od" x="186.8" y="446.6" />
<use href="#od" x="403.4" y="446.6" />
<use href="#od" x="222.9" y="446.6" />
<use href="#od" x="186.8" y="464.8" />
<use href="#od" x="168.7" y="464.8" />
<use href="#od" x="313.1" y="464.8" />
<use href="#od" x="313.2" y="464.8" />
<use href="#od" x="385.4" y="464.8" />
<use href="#od" x="277.1" y="464.8" />
<use href="#od" x="222.9" y="464.8" />
<use href="#od" x="168.8" y="464.8" />
<use href="#od" x="331.2" y="464.8" />
<use href="#od" x="204.8" y="464.8" />
<use href="#od" x="295.1" y="464.8" />
<use href="#od" x="240.9" y="464.8" />
<use href="#od" x="132.6" y="464.8" />
<use href="#od" x="367.3" y="464.8" />
<use href="#od" x="349.2" y="464.8" />
<use href="#od" x="259" y="464.8" />
<use href="#od" x="150.7" y="464.8" />
<use href="#od" x="186.8" y="483" />
<use href="#od" x="222.9" y="483" />
<use href="#od" x="331.2" y="483" />
<use href="#od" x="367.3" y="483" />
<use href="#od" x="259" y="483" />
<use href="#od" x="150.7" y="483" />
<use href="#od" x="295.1" y="483" />
<use href="#od" x="367.3" y="501.2" />
<use href="#od" x="259" y="501.2" />
<use href="#od" x="150.7" y="501.2" />
<use href="#od" x="295.1" y="501.2" />
<use href="#od" x="240.9" y="501.2" />
<use href="#od" x="132.6" y="501.2" />
<use href="#od" x="349.2" y="501.2" />
<use href="#od" x="313.1" y="501.2" />
<use href="#od" x="385.4" y="501.2" />
<use href="#od" x="186.8" y="501.2" />
<use href="#od" x="168.7" y="501.2" />
<use href="#od" x="313.2" y="501.2" />
<use href="#od" x="277.1" y="501.2" />
<use href="#od" x="222.9" y="501.2" />
<use href="#od" x="168.8" y="501.2" />
<use href="#od" x="331.2" y="501.2" />
<use href="#od" x="204.8" y="501.2" />
<use href="#od" x="222.9" y="519.4" />
<use href="#od" x="331.2" y="519.4" />
<use href="#od" x="367.3" y="519.4" />
<use href="#od" x="259" y="519.4" />
<use href="#od" x="150.7" y="519.4" />
<use href="#od" x="295.1" y="519.4" />
<use href="#od" x="186.8" y="519.4" />
<use href="#od" x="331.2" y="537.6" />
<use href="#od" x="313.2" y="537.6" />
<use href="#od" x="277.1" y="537.6" />
<use href="#od" x="222.9" y="537.6" />
<use href="#od" x="168.8" y="537.6" />
<use href="#od" x="204.8" y="537.6" />
<use href="#od" x="367.3" y="537.6" />
<use href="#od" x="259" y="537.6" />
<use href="#od" x="150.7" y="537.6" />
<use href="#od" x="295.1" y="537.6" />
<use href="#od" x="240.9" y="537.6" />
<use href="#od" x="132.6" y="537.6" />
<use href="#od" x="349.2" y="537.6" />
<use href="#od" x="313.1" y="537.6" />
<use href="#od" x="385.4" y="537.6" />
<use href="#od" x="186.8" y="537.6" />
<use href="#od" x="168.7" y="537.6" />
<use href="#od" x="331.2" y="555.8" />
<use href="#od" x="367.3" y="555.8" />
<use href="#od" x="259" y="555.8" />
<use href="#od" x="150.7" y="555.8" />
<use href="#od" x="295.1" y="555.8" />
<use href="#od" x="186.8" y="555.8" />
<use href="#od" x="222.9" y="555.8" />
<use href="#oA" x="511.7" y="428.4" />
<use href="#oA" x="547.8" y="428.4" />
<use href="#oA" x="583.9" y="428.4" />
<use href="#oA" x="620" y="428.4" />
<use href="#oA" x="511.7" y="464.8" />
<use href="#oA" x="547.8" y="464.8" />
<use href="#oA" x="583.9" y="464.8" />
<use href="#oA" x="620" y="464.8" />
<use href="#oA" x="511.7" y="501.2" />
<use href="#oA" x="547.8" y="501.2" />
<use href="#oA" x="583.9" y="501.2" />
<use href="#oA" x="620" y="501.2" />
<use href="#oA" x="511.7" y="537.6" />
<use href="#oA" x="547.8" y="537.6" />
<use href="#oA" x="583.9" y="537.6" />
<use href="#oA" x="620" y="537.6" />
<use href="#bd" x="565.85" y="446.6" />
<use href="#bd" x="601.95" y="446.6" />
<use href="#bd" x="529.75" y="483" />
<use href="#bd" x="529.75" y="519.4" />
<use href="#bd" x="565.85" y="483" />
<use href="#bd" x="601.95" y="483" />
<use href="#bd" x="565.85" y="519.4" />
<use href="#bd" x="529.75" y="446.6" />
<use href="#bd" x="601.95" y="519.4" />
<use href="#od" x="620" y="410.2" />
<use href="#od" x="511.7" y="410.2" />
<use href="#od" x="583.9" y="410.2" />
<use href="#od" x="547.8" y="410.2" />
<use href="#od" x="583.9" y="428.4" />
<use href="#od" x="565.9" y="428.4" />
<use href="#od" x="565.8" y="428.4" />
<use href="#od" x="547.8" y="428.4" />
<use href="#od" x="638" y="428.4" />
<use href="#od" x="529.8" y="428.4" />
<use href="#od" x="620" y="428.4" />
<use href="#od" x="511.7" y="428.4" />
<use href="#od" x="493.6" y="428.4" />
<use href="#od" x="602" y="428.4" />
<use href="#od" x="583.9" y="446.6" />
<use href="#od" x="511.7" y="446.6" />
<use href="#od" x="547.8" y="446.6" />
<use href="#od" x="620" y="446.6" />
<use href="#od" x="565.9" y="464.8" />
<use href="#od" x="565.8" y="464.8" />
<use href="#od" x="547.8" y="464.8" />
<use href="#od" x="638" y="464.8" />
<use href="#od" x="529.8" y="464.8" />
<use href="#od" x="620" y="464.8" />
<use href="#od" x="511.7" y="464.8" />
<use href="#od" x="493.6" y="464.8" />
<use href="#od" x="602" y="464.8" />
<use href="#od" x="583.9" y="464.8" />
<use href="#od" x="583.9" y="483" />
<use href="#od" x="547.8" y="483" />
<use href="#od" x="620" y="483" />
<use href="#od" x="511.7" y="483" />
<use href="#od" x="547.8" y="501.2" />
<use href="#od" x="638" y="501.2" />
<use href="#od" x="529.8" y="501.2" />
<use href="#od" x="620" y="501.2" />
<use href="#od" x="511.7" y="501.2" />
<use href="#od" x="493.6" y="501.2" />
<use href="#od" x="602" y="501.2" />
<use href="#od" x="583.9" y="501.2" />
<use href="#od" x="565.9" y="501.2" />
<use href="#od" x="565.8" y="501.2" />
<use href="#od" x="583.9" y="519.4" />
<use href="#od" x="547.8" y="519.4" />
<use href="#od" x="620" y="519.4" />
<use href="#od" x="511.7" y="519.4" />
<use href="#od" x="529.8" y="537.6" />
<use href="#od" x="620" y="537.6" />
<use href="#od" x="511.7" y="537.6" />
<use href="#od" x="493.6" y="537.6" />
<use href="#od" x="602" y="537.6" />
<use href="#od" x="583.9" y="537.6" />
<use href="#od" x="565.9" y="537.6" />
<use href="#od" x="565.8" y="537.6" />
<use href="#od" x="547.8" y="537.6" />
<use href="#od" x="638" y="537.6" />
<use href="#od" x="620" y="555.8" />
<use href="#od" x="511.7" y="555.8" />
<use href="#od" x="583.9" y="555.8" />
<use href="#od" x="547.8" y="555.8" />
<g transform="translate(491.3,183.6) rotate(-31)">
<use href="#oA" x="0" y="0" />
<use href="#oA" x="-36.1" y="0" />
<use href="#oA" x="-72.2" y="0" />
<use href="#oA" x="0" y="36.1" />
<use href="#oA" x="-36.1" y="36.1" />
<use href="#oA" x="-72.2" y="36.1" />
<use href="#bd" x="-18" y="18" />
<use href="#bd" x="-54" y="18" />
<use href="#od" x="-36.1" y="36.1" />
<use href="#od" x="18.1" y="36.1" />
<use href="#od" x="-90.2" y="0" />
<use href="#od" x="-36.1" y="54.2" />
<use href="#od" x="-90.2" y="36.1" />
<use href="#od" x="-18.1" y="0" />
<use href="#od" x="-54.2" y="0" />
<use href="#od" x="-72.2" y="-18.1" />
<use href="#od" x="-18.1" y="36.1" />
<use href="#od" x="-72.2" y="0" />
<use href="#od" x="0" y="-18.1" />
<use href="#od" x="-72.2" y="18.1" />
<use href="#od" x="-54.2" y="36.1" />
<use href="#od" x="0" y="0" />
<use href="#od" x="-72.2" y="36.1" />
<use href="#od" x="-36.1" y="-18.1" />
<use href="#od" x="0" y="18.1" />
<use href="#od" x="-72.2" y="54.2" />
<use href="#od" x="18.1" y="0" />
<use href="#od" x="-36.1" y="0" />
<use href="#od" x="0" y="36.1" />
<use href="#od" x="-36.1" y="18.1" />
<use href="#od" x="0" y="54.2" />
</g>
<g transform="translate(401.5,255.8) rotate(-32.5)">
<use href="#oA" x="0" y="0" />
<use href="#oA" x="-36.1" y="0" />
<use href="#oA" x="0" y="36.1" />
<use href="#oA" x="-36.1" y="36.1" />
<use href="#oA" x="0" y="72.2" />
<use href="#oA" x="-36.1" y="72.2" />
<use href="#oA" x="0" y="108.3" />
<use href="#oA" x="-36.1" y="108.3" />
<use href="#bd" x="-18" y="18" />
<use href="#bd" x="-18" y="54" />
<use href="#bd" x="-18" y="90" />
<use href="#od" x="-36.1" y="36.1" />
<use href="#od" x="18.1" y="36.1" />
<use href="#od" x="0" y="72.2" />
<use href="#od" x="-36.1" y="54.2" />
<use href="#od" x="18.1" y="72.2" />
<use href="#od" x="0" y="90.2" />
<use href="#od" x="-36.1" y="72.2" />
<use href="#od" x="-36.1" y="90.2" />
<use href="#od" x="-18.1" y="108.3" />
<use href="#od" x="0" y="126.4" />
<use href="#od" x="-54.2" y="108.3" />
<use href="#od" x="-36.1" y="126.4" />
<use href="#od" x="0" y="90.3" />
<use href="#od" x="-18.1" y="0" />
<use href="#od" x="0" y="108.3" />
<use href="#od" x="-36.1" y="90.3" />
<use href="#od" x="-54.2" y="0" />
<use href="#od" x="-36.1" y="108.3" />
<use href="#od" x="18.1" y="108.3" />
<use href="#od" x="-18.1" y="36.1" />
<use href="#od" x="0" y="-18.1" />
<use href="#od" x="-54.2" y="36.1" />
<use href="#od" x="0" y="0" />
<use href="#od" x="-18.1" y="72.2" />
<use href="#od" x="-36.1" y="-18.1" />
<use href="#od" x="0" y="18.1" />
<use href="#od" x="18.1" y="0" />
<use href="#od" x="-54.2" y="72.2" />
<use href="#od" x="-36.1" y="0" />
<use href="#od" x="0" y="36.1" />
<use href="#od" x="-36.1" y="18.1" />
<use href="#od" x="0" y="54.2" />
</g>
<use href="#bd" x="365" y="300.3" />
<use href="#bd" x="384.5" y="329.6" />
<g transform="translate(416.7,474.4) rotate(22)">
<use href="#oA" x="0" y="0" />
<use href="#oA" x="35" y="0" />
<use href="#oA" x="0" y="35" />
<use href="#oA" x="35" y="35" />
<use href="#bd" x="17.5" y="17.5" />
<use href="#od" x="0" y="52.5" />
<use href="#od" x="17.5" y="0" />
<use href="#od" x="35" y="17.5" />
<use href="#od" x="17.5" y="35" />
<use href="#od" x="0" y="0" />
<use href="#od" x="35" y="52.5" />
<use href="#od" x="52.5" y="0" />
<use href="#od" x="0" y="35" />
<use href="#od" x="-17.5" y="0" />
<use href="#od" x="52.5" y="35" />
<use href="#od" x="35" y="0" />
<use href="#od" x="0" y="-17.5" />
<use href="#od" x="35" y="35" />
<use href="#od" x="-17.5" y="35" />
<use href="#od" x="35" y="-17.5" />
<use href="#od" x="0" y="17.5" />
</g>
<g transform="translate(555.4,190.8) rotate(3.2)">
<use href="#oA" x="0" y="0" />
<use href="#oA" x="36.1" y="0" />
<use href="#oA" x="72.2" y="0" />
<use href="#oA" x="0" y="36.1" />
<use href="#oA" x="36.1" y="36.1" />
<use href="#oA" x="72.2" y="36.1" />
<use href="#bd" x="18" y="18" />
<use href="#bd" x="54" y="18" />
<use href="#od" x="18.1" y="36.1" />
<use href="#od" x="72.2" y="54.2" />
<use href="#od" x="-18.1" y="0" />
<use href="#od" x="90.2" y="0" />
<use href="#od" x="90.2" y="36.1" />
<use href="#od" x="72.2" y="-18.1" />
<use href="#od" x="-18.1" y="36.1" />
<use href="#od" x="36.1" y="-18.1" />
<use href="#od" x="36.1" y="0" />
<use href="#od" x="36.1" y="18.1" />
<use href="#od" x="72.2" y="0" />
<use href="#od" x="0" y="-18.1" />
<use href="#od" x="72.2" y="18.1" />
<use href="#od" x="0" y="0" />
<use href="#od" x="54.2" y="0" />
<use href="#od" x="36.1" y="36.1" />
<use href="#od" x="0" y="18.1" />
<use href="#od" x="36.1" y="54.2" />
<use href="#od" x="72.2" y="36.1" />
<use href="#od" x="18.1" y="0" />
<use href="#od" x="54.2" y="36.1" />
<use href="#od" x="0" y="36.1" />
<use href="#od" x="0" y="54.2" />
</g>
<g transform="translate(535.2,313.2) rotate(9.5)">
<use href="#oA" x="0" y="0" />
<use href="#oA" x="36.1" y="0" />
<use href="#oA" x="72.2" y="0" />
<use href="#oA" x="0" y="36.1" />
<use href="#oA" x="36.1" y="36.1" />
<use href="#oA" x="72.2" y="36.1" />
<use href="#bd" x="18" y="18" />
<use href="#bd" x="54" y="18" />
<use href="#od" x="18.1" y="36.1" />
<use href="#od" x="72.2" y="54.2" />
<use href="#od" x="-18.1" y="0" />
<use href="#od" x="90.2" y="0" />
<use href="#od" x="90.2" y="36.1" />
<use href="#od" x="72.2" y="-18.1" />
<use href="#od" x="-18.1" y="36.1" />
<use href="#od" x="36.1" y="-18.1" />
<use href="#od" x="36.1" y="0" />
<use href="#od" x="36.1" y="18.1" />
<use href="#od" x="72.2" y="0" />
<use href="#od" x="0" y="-18.1" />
<use href="#od" x="72.2" y="18.1" />
<use href="#od" x="0" y="0" />
<use href="#od" x="54.2" y="0" />
<use href="#od" x="36.1" y="36.1" />
<use href="#od" x="0" y="18.1" />
<use href="#od" x="36.1" y="54.2" />
<use href="#od" x="72.2" y="36.1" />
<use href="#od" x="18.1" y="0" />
<use href="#od" x="54.2" y="36.1" />
<use href="#od" x="0" y="36.1" />
<use href="#od" x="0" y="54.2" />
</g>
<path d="M258.7,158 L258.7,245.8 L187.4,245.8 L187.4,364 C187.6,376 190,386 197,392 C204,397 213,398 209.5,403 C204,410 190,414 184.6,420 C182,424 184,427 187,428.5 L187,502.3 L385.8,501.8 L435.7,522.6 L460.9,458.2 C461.5,450 457,440 450,431.5 C448.5,428.5 451.5,428 455,430 L477.9,440.7 L465.3,422.3 L491.5,445.6 L492.4,451.4 L482.7,458.2 L484.7,462.5 L511.5,463.5 L511,538.6 L548.5,539.4 L547.2,410 C546.5,396 542,389 532,384 C524,380 516,379 520,374 C527,368 548,366 564,362.3 L574.4,295 C574,283 570,278 563,270 C556,264 556,261 566,257 C576,252 588,250 589,243.4 L591.6,150" fill="none" stroke="#000" stroke-width="3.2" stroke-linejoin="round"/>
<path d="M258.7,149.5 L266.2,162 L258.7,158 L251.2,162 Z" fill="#000"/>
<text x="695.3" y="36.7" font-size="50" text-anchor="start" fill="#000" font-family="'Liberation Serif','Times New Roman',serif" font-weight="bold" >b</text>
<polyline points="825,94 825,40.5 880,40.5" fill="none" stroke="#000" stroke-width="2.6"/>
<text x="886" y="55" font-size="29" font-family="'Liberation Serif','Times New Roman',serif" font-weight="bold">V<tspan font-size="18" dy="7">D</tspan></text>
<line x1="1158" y1="25" x2="1158" y2="56.5" stroke="#000" stroke-width="2.6" />
<line x1="1168.6" y1="19.4" x2="1168.6" y2="61" stroke="#000" stroke-width="2.6" />
<line x1="1180" y1="16.6" x2="1180" y2="71.6" stroke="#000" stroke-width="2.6" />
<line x1="1180" y1="44" x2="1236" y2="44" stroke="#000" stroke-width="2.6" />
<line x1="1234.6" y1="42.7" x2="1234.6" y2="94" stroke="#000" stroke-width="2.6" />
<path d="M761.4,107 L768.4,100 L944.6,100 L948.6,104 L948.6,145 L944.6,149 L761.4,149 Z" fill="url(#goldtop)"/>
<path d="M761.4,109 Q761.4,104 767.4,104 L939.6,104 Q943.6,104 943.6,109 L943.6,149 L761.4,149 Z" fill="url(#gold)"/>
<path d="M943.6,106 L948.6,104 L948.6,144 L943.6,149 Z" fill="#1e170c"/>
<text x="853" y="139.5" font-size="30" text-anchor="middle" fill="#000" font-family="'Liberation Serif','Times New Roman',serif" font-weight="bold" >Drain</text>
<path d="M1112.5,107.8 L1119.5,100.8 L1290,100.8 L1294,104.8 L1294,145 L1290,149 L1112.5,149 Z" fill="url(#goldtop)"/>
<path d="M1112.5,109.8 Q1112.5,104.8 1118.5,104.8 L1285,104.8 Q1289,104.8 1289,109.8 L1289,149 L1112.5,149 Z" fill="url(#gold)"/>
<path d="M1289,106.8 L1294,104.8 L1294,144 L1289,149 Z" fill="#1e170c"/>
<text x="1201" y="139.5" font-size="30" text-anchor="middle" fill="#000" font-family="'Liberation Serif','Times New Roman',serif" font-weight="bold" >Source</text>
<path d="M816.5,100 A8.5,8.5 0 0 1 833.5,100 Z" fill="url(#gK)"/>
<path d="M1226.1,100.8 A8.5,8.5 0 0 1 1243.1,100.8 Z" fill="url(#gK)"/>
<path d="M967,97 L979,97 C981,125 1000,138 1025,139 C1048,139 1068,128 1076,113 L1071,112 L1084,98 L1083,115 L1079,114 C1069,133 1050,142 1025,142 C995,142 968,127 967,97 Z" fill="url(#arr)" stroke="#6f86b0" stroke-width="0.6"/>
<text x="972" y="92" font-size="31" font-family="'Liberation Serif','Times New Roman',serif" font-weight="bold">H<tspan font-size="20" dy="6">2</tspan><tspan dy="-6">O</tspan></text>
<text x="1060" y="92" font-size="31" font-family="'Liberation Serif','Times New Roman',serif" font-weight="bold">O<tspan font-size="20" dy="6">2</tspan></text>
<path d="M761,557.6 L767,549.6 L1281,549.6 L1287,554.6 L1287,608.2 L1282,614.2 L761,614.2 Z" fill="url(#sio2t)"/>
<rect x="761" y="556.6" width="521" height="26.1" fill="url(#sio2)"/>
<rect x="761" y="576.7" width="521" height="6" fill="url(#sio2b)" opacity="0.7"/>
<rect x="761" y="582.7" width="521" height="31.5" fill="url(#si)" filter="url(#grain)"/>
<path d="M1282,555.6 L1287,553.6 L1287,608.2 L1282,614.2 Z" fill="#1a1a1a"/>
<text x="1021.5" y="578" font-size="25.5" text-anchor="middle" font-family="'Liberation Serif','Times New Roman',serif" font-weight="bold">100nm SiO<tspan font-size="16.6" dy="5">2</tspan></text>
<text x="1021.5" y="605.4" font-size="25.5" text-anchor="middle" font-family="'Liberation Serif','Times New Roman',serif" font-weight="bold">Si++</text>
<path d="M1010,614.2 A9,9 0 0 0 1028,614.2 Z" fill="url(#gK)"/>
<line x1="1019" y1="621" x2="1019" y2="653" stroke="#000" stroke-width="2.6" />
<text x="1009" y="680.5" font-size="29" font-family="'Liberation Serif','Times New Roman',serif" font-weight="bold">V<tspan font-size="18" dy="7">G</tspan></text>
<polyline points="771.88,165.15 767.77,167.14" fill="none" stroke="#bdbdbd" stroke-width="0.9"/>
<polyline points="767.77,167.14 769.83,173.46" fill="none" stroke="#222" stroke-width="1.1"/>
<polyline points="769.83,173.46 761.8,182" fill="none" stroke="#bdbdbd" stroke-width="0.9"/>
<use href="#hex" transform="translate(775.8,158.6)"/>
<polyline points="809.28,165.15 805.17,167.14" fill="none" stroke="#bdbdbd" stroke-width="0.9"/>
<polyline points="805.17,167.14 807.23,173.46" fill="none" stroke="#222" stroke-width="1.1"/>
<polyline points="807.23,173.46 799.2,182" fill="none" stroke="#bdbdbd" stroke-width="0.9"/>
<use href="#hex" transform="translate(813.2,158.6)"/>
<polyline points="846.68,165.15 842.57,167.14" fill="none" stroke="#bdbdbd" stroke-width="0.9"/>
<polyline points="842.57,167.14 844.63,173.46" fill="none" stroke="#222" stroke-width="1.1"/>
<polyline points="844.63,173.46 836.6,182" fill="none" stroke="#bdbdbd" stroke-width="0.9"/>
<use href="#hex" transform="translate(850.6,158.6)"/>
<polyline points="884.08,165.15 879.97,167.14" fill="none" stroke="#bdbdbd" stroke-width="0.9"/>
<polyline points="879.97,167.14 882.03,173.46" fill="none" stroke="#222" stroke-width="1.1"/>
<polyline points="882.03,173.46 874,182" fill="none" stroke="#bdbdbd" stroke-width="0.9"/>
<use href="#hex" transform="translate(888,158.6)"/>
<polyline points="921.48,165.15 917.37,167.14" fill="none" stroke="#bdbdbd" stroke-width="0.9"/>
<polyline points="917.37,167.14 919.43,173.46" fill="none" stroke="#222" stroke-width="1.1"/>
<polyline points="919.43,173.46 911.4,182" fill="none" stroke="#bdbdbd" stroke-width="0.9"/>
<use href="#hex" transform="translate(925.4,158.6)"/>
<polyline points="958.88,165.15 954.77,167.14" fill="none" stroke="#bdbdbd" stroke-width="0.9"/>
<polyline points="954.77,167.14 956.83,173.46" fill="none" stroke="#222" stroke-width="1.1"/>
<polyline points="956.83,173.46 948.8,182" fill="none" stroke="#bdbdbd" stroke-width="0.9"/>
<use href="#hex" transform="translate(962.8,158.6)"/>
<polyline points="996.28,165.15 992.17,167.14" fill="none" stroke="#bdbdbd" stroke-width="0.9"/>
<polyline points="992.17,167.14 994.23,173.46" fill="none" stroke="#222" stroke-width="1.1"/>
<polyline points="994.23,173.46 986.2,182" fill="none" stroke="#bdbdbd" stroke-width="0.9"/>
<use href="#hex" transform="translate(1000.2,158.6)"/>
<polyline points="1033.68,165.15 1029.57,167.14" fill="none" stroke="#bdbdbd" stroke-width="0.9"/>
<polyline points="1029.57,167.14 1031.63,173.46" fill="none" stroke="#222" stroke-width="1.1"/>
<polyline points="1031.63,173.46 1023.6,182" fill="none" stroke="#bdbdbd" stroke-width="0.9"/>
<use href="#hex" transform="translate(1037.6,158.6)"/>
<polyline points="1071.08,165.15 1066.97,167.14" fill="none" stroke="#bdbdbd" stroke-width="0.9"/>
<polyline points="1066.97,167.14 1069.03,173.46" fill="none" stroke="#222" stroke-width="1.1"/>
<polyline points="1069.03,173.46 1061,182" fill="none" stroke="#bdbdbd" stroke-width="0.9"/>
<use href="#hex" transform="translate(1075,158.6)"/>
<polyline points="1108.48,165.15 1104.37,167.14" fill="none" stroke="#bdbdbd" stroke-width="0.9"/>
<polyline points="1104.37,167.14 1106.43,173.46" fill="none" stroke="#222" stroke-width="1.1"/>
<polyline points="1106.43,173.46 1098.4,182" fill="none" stroke="#bdbdbd" stroke-width="0.9"/>
<use href="#hex" transform="translate(1112.4,158.6)"/>
<polyline points="1145.88,165.15 1141.77,167.14" fill="none" stroke="#bdbdbd" stroke-width="0.9"/>
<polyline points="1141.77,167.14 1143.83,173.46" fill="none" stroke="#222" stroke-width="1.1"/>
<polyline points="1143.83,173.46 1135.8,182" fill="none" stroke="#bdbdbd" stroke-width="0.9"/>
<use href="#hex" transform="translate(1149.8,158.6)"/>
<polyline points="1183.28,165.15 1179.17,167.14" fill="none" stroke="#bdbdbd" stroke-width="0.9"/>
<polyline points="1179.17,167.14 1181.23,173.46" fill="none" stroke="#222" stroke-width="1.1"/>
<polyline points="1181.23,173.46 1173.2,182" fill="none" stroke="#bdbdbd" stroke-width="0.9"/>
<use href="#hex" transform="translate(1187.2,158.6)"/>
<polyline points="1220.68,165.15 1216.57,167.14" fill="none" stroke="#bdbdbd" stroke-width="0.9"/>
<polyline points="1216.57,167.14 1218.63,173.46" fill="none" stroke="#222" stroke-width="1.1"/>
<polyline points="1218.63,173.46 1210.6,182" fill="none" stroke="#bdbdbd" stroke-width="0.9"/>
<use href="#hex" transform="translate(1224.6,158.6)"/>
<line x1="772.6" y1="183.6" x2="787.6" y2="179.6" stroke="#b89a00" stroke-width="1.3"/>
<line x1="787.6" y1="179.6" x2="796.8" y2="177.2" stroke="#888" stroke-width="1.3"/>
<line x1="810" y1="183.6" x2="825" y2="179.6" stroke="#b89a00" stroke-width="1.3"/>
<line x1="825" y1="179.6" x2="834.2" y2="177.2" stroke="#888" stroke-width="1.3"/>
<line x1="847.4" y1="183.6" x2="862.4" y2="179.6" stroke="#b89a00" stroke-width="1.3"/>
<line x1="862.4" y1="179.6" x2="871.6" y2="177.2" stroke="#888" stroke-width="1.3"/>
<line x1="884.8" y1="183.6" x2="899.8" y2="179.6" stroke="#b89a00" stroke-width="1.3"/>
<line x1="899.8" y1="179.6" x2="909" y2="177.2" stroke="#888" stroke-width="1.3"/>
<line x1="922.2" y1="183.6" x2="937.2" y2="179.6" stroke="#b89a00" stroke-width="1.3"/>
<line x1="937.2" y1="179.6" x2="946.4" y2="177.2" stroke="#888" stroke-width="1.3"/>
<line x1="959.6" y1="183.6" x2="974.6" y2="179.6" stroke="#b89a00" stroke-width="1.3"/>
<line x1="974.6" y1="179.6" x2="983.8" y2="177.2" stroke="#888" stroke-width="1.3"/>
<line x1="997" y1="183.6" x2="1012" y2="179.6" stroke="#b89a00" stroke-width="1.3"/>
<line x1="1012" y1="179.6" x2="1021.2" y2="177.2" stroke="#888" stroke-width="1.3"/>
<line x1="1034.4" y1="183.6" x2="1049.4" y2="179.6" stroke="#b89a00" stroke-width="1.3"/>
<line x1="1049.4" y1="179.6" x2="1058.6" y2="177.2" stroke="#888" stroke-width="1.3"/>
<line x1="1071.8" y1="183.6" x2="1086.8" y2="179.6" stroke="#b89a00" stroke-width="1.3"/>
<line x1="1086.8" y1="179.6" x2="1096" y2="177.2" stroke="#888" stroke-width="1.3"/>
<line x1="1109.2" y1="183.6" x2="1124.2" y2="179.6" stroke="#b89a00" stroke-width="1.3"/>
<line x1="1124.2" y1="179.6" x2="1133.4" y2="177.2" stroke="#888" stroke-width="1.3"/>
<line x1="1146.6" y1="183.6" x2="1161.6" y2="179.6" stroke="#b89a00" stroke-width="1.3"/>
<line x1="1161.6" y1="179.6" x2="1170.8" y2="177.2" stroke="#888" stroke-width="1.3"/>
<line x1="1184" y1="183.6" x2="1199" y2="179.6" stroke="#b89a00" stroke-width="1.3"/>
<line x1="1199" y1="179.6" x2="1208.2" y2="177.2" stroke="#888" stroke-width="1.3"/>
<line x1="1221.4" y1="183.6" x2="1236.4" y2="179.6" stroke="#b89a00" stroke-width="1.3"/>
<line x1="1236.4" y1="179.6" x2="1245.6" y2="177.2" stroke="#888" stroke-width="1.3"/>
<line x1="1258.8" y1="183.6" x2="1273.8" y2="179.6" stroke="#b89a00" stroke-width="1.3"/>
<line x1="1273.8" y1="179.6" x2="1283" y2="177.2" stroke="#888" stroke-width="1.3"/>
<use href="#oB1" x="787.6" y="200.6" />
<use href="#oB1" x="825" y="200.6" />
<use href="#oB1" x="862.4" y="200.6" />
<use href="#oB1" x="899.8" y="200.6" />
<use href="#oB1" x="937.2" y="200.6" />
<use href="#oB1" x="974.6" y="200.6" />
<use href="#oB1" x="1012" y="200.6" />
<use href="#oB1" x="1049.4" y="200.6" />
<use href="#oB1" x="1086.8" y="200.6" />
<use href="#oB1" x="1124.2" y="200.6" />
<use href="#oB1" x="1161.6" y="200.6" />
<use href="#oB1" x="1199" y="200.6" />
<use href="#oB1" x="1236.4" y="200.6" />
<use href="#oB1" x="1273.8" y="200.6" />
<use href="#oB1" x="787.6" y="237.8" />
<use href="#oB1" x="825" y="237.8" />
<use href="#oB1" x="862.4" y="237.8" />
<use href="#oB1" x="899.8" y="237.8" />
<use href="#oB1" x="937.2" y="237.8" />
<use href="#oB1" x="974.6" y="237.8" />
<use href="#oB1" x="1012" y="237.8" />
<use href="#oB1" x="1049.4" y="237.8" />
<use href="#oB1" x="1086.8" y="237.8" />
<use href="#oB1" x="1124.2" y="237.8" />
<use href="#oB1" x="1161.6" y="237.8" />
<use href="#oB1" x="1199" y="237.8" />
<use href="#oB1" x="1236.4" y="237.8" />
<use href="#oB1" x="1273.8" y="237.8" />
<use href="#bd" x="955.9" y="219.2" />
<use href="#bd" x="1068.1" y="219.2" />
<use href="#bd" x="1105.5" y="219.2" />
<use href="#bd" x="1180.3" y="219.2" />
<use href="#bd" x="843.7" y="219.2" />
<use href="#bd" x="1142.9" y="219.2" />
<use href="#bd" x="806.3" y="219.2" />
<use href="#bd" x="1217.7" y="219.2" />
<use href="#bd" x="1255.1" y="219.2" />
<use href="#bd" x="881.1" y="219.2" />
<use href="#bd" x="918.5" y="219.2" />
<use href="#bd" x="993.3" y="219.2" />
<use href="#bd" x="1030.7" y="219.2" />
<use href="#od" x="974.6" y="182" />
<use href="#od" x="1273.8" y="182" />
<use href="#od" x="787.6" y="182" />
<use href="#od" x="825" y="182" />
<use href="#od" x="1012" y="182" />
<use href="#od" x="1086.8" y="182" />
<use href="#od" x="1199" y="182" />
<use href="#od" x="1161.6" y="182" />
<use href="#od" x="1049.4" y="182" />
<use href="#od" x="1236.4" y="182" />
<use href="#od" x="937.2" y="182" />
<use href="#od" x="1124.2" y="182" />
<use href="#od" x="862.4" y="182" />
<use href="#od" x="899.8" y="182" />
<use href="#od" x="1255.1" y="200.6" />
<use href="#od" x="768.9" y="200.6" />
<use href="#od" x="955.9" y="200.6" />
<use href="#od" x="993.3" y="200.6" />
<use href="#od" x="1068.1" y="200.6" />
<use href="#od" x="974.6" y="200.6" />
<use href="#od" x="1012" y="200.6" />
<use href="#od" x="1273.8" y="200.6" />
<use href="#od" x="1161.6" y="200.6" />
<use href="#od" x="1292.5" y="200.6" />
<use href="#od" x="806.3" y="200.6" />
<use href="#od" x="1180.3" y="200.6" />
<use href="#od" x="787.6" y="200.6" />
<use href="#od" x="1124.2" y="200.6" />
<use href="#od" x="825" y="200.6" />
<use href="#od" x="899.8" y="200.6" />
<use href="#od" x="1086.8" y="200.6" />
<use href="#od" x="1199" y="200.6" />
<use href="#od" x="1030.7" y="200.6" />
<use href="#od" x="1105.5" y="200.6" />
<use href="#od" x="918.5" y="200.6" />
<use href="#od" x="1049.4" y="200.6" />
<use href="#od" x="1236.4" y="200.6" />
<use href="#od" x="937.2" y="200.6" />
<use href="#od" x="862.4" y="200.6" />
<use href="#od" x="1142.9" y="200.6" />
<use href="#od" x="843.7" y="200.6" />
<use href="#od" x="881.1" y="200.6" />
<use href="#od" x="1217.7" y="200.6" />
<use href="#od" x="974.6" y="219.2" />
<use href="#od" x="1273.8" y="219.2" />
<use href="#od" x="787.6" y="219.2" />
<use href="#od" x="825" y="219.2" />
<use href="#od" x="1012" y="219.2" />
<use href="#od" x="1086.8" y="219.2" />
<use href="#od" x="1199" y="219.2" />
<use href="#od" x="1161.6" y="219.2" />
<use href="#od" x="1049.4" y="219.2" />
<use href="#od" x="1236.4" y="219.2" />
<use href="#od" x="937.2" y="219.2" />
<use href="#od" x="1124.2" y="219.2" />
<use href="#od" x="862.4" y="219.2" />
<use href="#od" x="899.8" y="219.2" />
<use href="#od" x="1161.6" y="237.8" />
<use href="#od" x="1105.5" y="237.8" />
<use href="#od" x="1292.5" y="237.8" />
<use href="#od" x="918.5" y="237.8" />
<use href="#od" x="1049.4" y="237.8" />
<use href="#od" x="937.2" y="237.8" />
<use href="#od" x="1124.2" y="237.8" />
<use href="#od" x="899.8" y="237.8" />
<use href="#od" x="843.7" y="237.8" />
<use href="#od" x="1030.7" y="237.8" />
<use href="#od" x="1217.7" y="237.8" />
<use href="#od" x="1236.4" y="237.8" />
<use href="#od" x="862.4" y="237.8" />
<use href="#od" x="1142.9" y="237.8" />
<use href="#od" x="881.1" y="237.8" />
<use href="#od" x="955.9" y="237.8" />
<use href="#od" x="974.6" y="237.8" />
<use href="#od" x="1068.1" y="237.8" />
<use href="#od" x="1255.1" y="237.8" />
<use href="#od" x="1273.8" y="237.8" />
<use href="#od" x="768.9" y="237.8" />
<use href="#od" x="806.3" y="237.8" />
<use href="#od" x="993.3" y="237.8" />
<use href="#od" x="1180.3" y="237.8" />
<use href="#od" x="787.6" y="237.8" />
<use href="#od" x="825" y="237.8" />
<use href="#od" x="1012" y="237.8" />
<use href="#od" x="1086.8" y="237.8" />
<use href="#od" x="1199" y="237.8" />
<use href="#od" x="974.6" y="256.4" />
<use href="#od" x="1273.8" y="256.4" />
<use href="#od" x="787.6" y="256.4" />
<use href="#od" x="825" y="256.4" />
<use href="#od" x="1012" y="256.4" />
<use href="#od" x="1086.8" y="256.4" />
<use href="#od" x="1199" y="256.4" />
<use href="#od" x="1161.6" y="256.4" />
<use href="#od" x="1049.4" y="256.4" />
<use href="#od" x="1236.4" y="256.4" />
<use href="#od" x="937.2" y="256.4" />
<use href="#od" x="1124.2" y="256.4" />
<use href="#od" x="862.4" y="256.4" />
<use href="#od" x="899.8" y="256.4" />
<use href="#bd" x="806.3" y="256.3" />
<use href="#bd" x="843.7" y="256.3" />
<use href="#bd" x="881.1" y="256.3" />
<use href="#bd" x="918.5" y="256.3" />
<use href="#bd" x="955.9" y="256.3" />
<use href="#bd" x="993.3" y="256.3" />
<use href="#bd" x="1030.7" y="256.3" />
<use href="#bd" x="1068.1" y="256.3" />
<use href="#bd" x="1105.5" y="256.3" />
<use href="#bd" x="1142.9" y="256.3" />
<use href="#bd" x="1180.3" y="256.3" />
<use href="#bd" x="1217.7" y="256.3" />
<use href="#bd" x="1255.1" y="256.3" />
<circle cx="772.6" cy="183.6" r="3.6" fill="url(#gS)"/>
<circle cx="787.6" cy="179.6" r="3.1" fill="url(#gC)"/>
<circle cx="796.8" cy="177.2" r="3.1" fill="url(#gN)"/>
<circle cx="810" cy="183.6" r="3.6" fill="url(#gS)"/>
<circle cx="825" cy="179.6" r="3.1" fill="url(#gC)"/>
<circle cx="834.2" cy="177.2" r="3.1" fill="url(#gN)"/>
<circle cx="847.4" cy="183.6" r="3.6" fill="url(#gS)"/>
<circle cx="862.4" cy="179.6" r="3.1" fill="url(#gC)"/>
<circle cx="871.6" cy="177.2" r="3.1" fill="url(#gN)"/>
<circle cx="884.8" cy="183.6" r="3.6" fill="url(#gS)"/>
<circle cx="899.8" cy="179.6" r="3.1" fill="url(#gC)"/>
<circle cx="909" cy="177.2" r="3.1" fill="url(#gN)"/>
<circle cx="922.2" cy="183.6" r="3.6" fill="url(#gS)"/>
<circle cx="937.2" cy="179.6" r="3.1" fill="url(#gC)"/>
<circle cx="946.4" cy="177.2" r="3.1" fill="url(#gN)"/>
<circle cx="959.6" cy="183.6" r="3.6" fill="url(#gS)"/>
<circle cx="974.6" cy="179.6" r="3.1" fill="url(#gC)"/>
<circle cx="983.8" cy="177.2" r="3.1" fill="url(#gN)"/>
<circle cx="997" cy="183.6" r="3.6" fill="url(#gS)"/>
<circle cx="1012" cy="179.6" r="3.1" fill="url(#gC)"/>
<circle cx="1021.2" cy="177.2" r="3.1" fill="url(#gN)"/>
<circle cx="1034.4" cy="183.6" r="3.6" fill="url(#gS)"/>
<circle cx="1049.4" cy="179.6" r="3.1" fill="url(#gC)"/>
<circle cx="1058.6" cy="177.2" r="3.1" fill="url(#gN)"/>
<circle cx="1071.8" cy="183.6" r="3.6" fill="url(#gS)"/>
<circle cx="1086.8" cy="179.6" r="3.1" fill="url(#gC)"/>
<circle cx="1096" cy="177.2" r="3.1" fill="url(#gN)"/>
<circle cx="1109.2" cy="183.6" r="3.6" fill="url(#gS)"/>
<circle cx="1124.2" cy="179.6" r="3.1" fill="url(#gC)"/>
<circle cx="1133.4" cy="177.2" r="3.1" fill="url(#gN)"/>
<circle cx="1146.6" cy="183.6" r="3.6" fill="url(#gS)"/>
<circle cx="1161.6" cy="179.6" r="3.1" fill="url(#gC)"/>
<circle cx="1170.8" cy="177.2" r="3.1" fill="url(#gN)"/>
<circle cx="1184" cy="183.6" r="3.6" fill="url(#gS)"/>
<circle cx="1199" cy="179.6" r="3.1" fill="url(#gC)"/>
<circle cx="1208.2" cy="177.2" r="3.1" fill="url(#gN)"/>
<circle cx="1221.4" cy="183.6" r="3.6" fill="url(#gS)"/>
<circle cx="1236.4" cy="179.6" r="3.1" fill="url(#gC)"/>
<circle cx="1245.6" cy="177.2" r="3.1" fill="url(#gN)"/>
<circle cx="1258.8" cy="183.6" r="3.6" fill="url(#gS)"/>
<circle cx="1273.8" cy="179.6" r="3.1" fill="url(#gC)"/>
<circle cx="1283" cy="177.2" r="3.1" fill="url(#gN)"/>
<circle cx="787.6" cy="269.5" r="0.9" fill="#333"/>
<circle cx="787.6" cy="272.5" r="0.9" fill="#333"/>
<circle cx="787.6" cy="275.5" r="0.9" fill="#333"/>
<circle cx="825" cy="269.5" r="0.9" fill="#333"/>
<circle cx="825" cy="272.5" r="0.9" fill="#333"/>
<circle cx="825" cy="275.5" r="0.9" fill="#333"/>
<circle cx="862.4" cy="269.5" r="0.9" fill="#333"/>
<circle cx="862.4" cy="272.5" r="0.9" fill="#333"/>
<circle cx="862.4" cy="275.5" r="0.9" fill="#333"/>
<circle cx="899.8" cy="269.5" r="0.9" fill="#333"/>
<circle cx="899.8" cy="272.5" r="0.9" fill="#333"/>
<circle cx="899.8" cy="275.5" r="0.9" fill="#333"/>
<circle cx="937.2" cy="269.5" r="0.9" fill="#333"/>
<circle cx="937.2" cy="272.5" r="0.9" fill="#333"/>
<circle cx="937.2" cy="275.5" r="0.9" fill="#333"/>
<circle cx="974.6" cy="269.5" r="0.9" fill="#333"/>
<circle cx="974.6" cy="272.5" r="0.9" fill="#333"/>
<circle cx="974.6" cy="275.5" r="0.9" fill="#333"/>
<circle cx="1012" cy="269.5" r="0.9" fill="#333"/>
<circle cx="1012" cy="272.5" r="0.9" fill="#333"/>
<circle cx="1012" cy="275.5" r="0.9" fill="#333"/>
<circle cx="1049.4" cy="269.5" r="0.9" fill="#333"/>
<circle cx="1049.4" cy="272.5" r="0.9" fill="#333"/>
<circle cx="1049.4" cy="275.5" r="0.9" fill="#333"/>
<circle cx="1086.8" cy="269.5" r="0.9" fill="#333"/>
<circle cx="1086.8" cy="272.5" r="0.9" fill="#333"/>
<circle cx="1086.8" cy="275.5" r="0.9" fill="#333"/>
<circle cx="1124.2" cy="269.5" r="0.9" fill="#333"/>
<circle cx="1124.2" cy="272.5" r="0.9" fill="#333"/>
<circle cx="1124.2" cy="275.5" r="0.9" fill="#333"/>
<circle cx="1161.6" cy="269.5" r="0.9" fill="#333"/>
<circle cx="1161.6" cy="272.5" r="0.9" fill="#333"/>
<circle cx="1161.6" cy="275.5" r="0.9" fill="#333"/>
<circle cx="1199" cy="269.5" r="0.9" fill="#333"/>
<circle cx="1199" cy="272.5" r="0.9" fill="#333"/>
<circle cx="1199" cy="275.5" r="0.9" fill="#333"/>
<circle cx="1236.4" cy="269.5" r="0.9" fill="#333"/>
<circle cx="1236.4" cy="272.5" r="0.9" fill="#333"/>
<circle cx="1236.4" cy="275.5" r="0.9" fill="#333"/>
<circle cx="1273.8" cy="269.5" r="0.9" fill="#333"/>
<circle cx="1273.8" cy="272.5" r="0.9" fill="#333"/>
<circle cx="1273.8" cy="275.5" r="0.9" fill="#333"/>
<use href="#oB2" x="787.6" y="301.5" />
<use href="#oB2" x="825" y="301.5" />
<use href="#oB2" x="862.4" y="301.5" />
<use href="#oB2" x="899.8" y="301.5" />
<use href="#oB2" x="937.2" y="301.5" />
<use href="#oB2" x="974.6" y="301.5" />
<use href="#oB2" x="1012" y="301.5" />
<use href="#oB2" x="1049.4" y="301.5" />
<use href="#oB2" x="1086.8" y="301.5" />
<use href="#oB2" x="1124.2" y="301.5" />
<use href="#oB2" x="1161.6" y="301.5" />
<use href="#oB2" x="1199" y="301.5" />
<use href="#oB2" x="1236.4" y="301.5" />
<use href="#oB2" x="1273.8" y="301.5" />
<use href="#oB2" x="787.6" y="339.5" />
<use href="#oB2" x="825" y="339.5" />
<use href="#oB2" x="862.4" y="339.5" />
<use href="#oB2" x="899.8" y="339.5" />
<use href="#oB2" x="937.2" y="339.5" />
<use href="#oB2" x="974.6" y="339.5" />
<use href="#oB2" x="1012" y="339.5" />
<use href="#oB2" x="1049.4" y="339.5" />
<use href="#oB2" x="1086.8" y="339.5" />
<use href="#oB2" x="1124.2" y="339.5" />
<use href="#oB2" x="1161.6" y="339.5" />
<use href="#oB2" x="1199" y="339.5" />
<use href="#oB2" x="1236.4" y="339.5" />
<use href="#oB2" x="1273.8" y="339.5" />
<use href="#bd" x="955.9" y="320.5" />
<use href="#bd" x="1068.1" y="320.5" />
<use href="#bd" x="1105.5" y="320.5" />
<use href="#bd" x="1180.3" y="320.5" />
<use href="#bd" x="843.7" y="320.5" />
<use href="#bd" x="1142.9" y="320.5" />
<use href="#bd" x="806.3" y="320.5" />
<use href="#bd" x="1217.7" y="320.5" />
<use href="#bd" x="1255.1" y="320.5" />
<use href="#bd" x="881.1" y="320.5" />
<use href="#bd" x="918.5" y="320.5" />
<use href="#bd" x="993.3" y="320.5" />
<use href="#bd" x="1030.7" y="320.5" />
<use href="#od" x="1199" y="282.7" />
<use href="#od" x="1236.4" y="282.7" />
<use href="#od" x="937.2" y="282.7" />
<use href="#od" x="862.4" y="282.7" />
<use href="#od" x="787.6" y="282.7" />
<use href="#od" x="974.6" y="282.7" />
<use href="#od" x="1012" y="282.7" />
<use href="#od" x="1086.8" y="282.7" />
<use href="#od" x="1273.8" y="282.7" />
<use href="#od" x="1161.6" y="282.7" />
<use href="#od" x="1049.4" y="282.7" />
<use href="#od" x="1124.2" y="282.7" />
<use href="#od" x="825" y="282.7" />
<use href="#od" x="899.8" y="282.7" />
<use href="#od" x="974.6" y="301.5" />
<use href="#od" x="1068.1" y="301.5" />
<use href="#od" x="1012" y="301.5" />
<use href="#od" x="1273.8" y="301.5" />
<use href="#od" x="1161.6" y="301.5" />
<use href="#od" x="1292.5" y="301.5" />
<use href="#od" x="768.9" y="301.5" />
<use href="#od" x="806.3" y="301.5" />
<use href="#od" x="1180.3" y="301.5" />
<use href="#od" x="787.6" y="301.5" />
<use href="#od" x="1124.2" y="301.5" />
<use href="#od" x="825" y="301.5" />
<use href="#od" x="899.8" y="301.5" />
<use href="#od" x="1086.8" y="301.5" />
<use href="#od" x="1199" y="301.5" />
<use href="#od" x="1030.7" y="301.5" />
<use href="#od" x="1105.5" y="301.5" />
<use href="#od" x="918.5" y="301.5" />
<use href="#od" x="1049.4" y="301.5" />
<use href="#od" x="1236.4" y="301.5" />
<use href="#od" x="937.2" y="301.5" />
<use href="#od" x="862.4" y="301.5" />
<use href="#od" x="1142.9" y="301.5" />
<use href="#od" x="843.7" y="301.5" />
<use href="#od" x="881.1" y="301.5" />
<use href="#od" x="1217.7" y="301.5" />
<use href="#od" x="1255.1" y="301.5" />
<use href="#od" x="955.9" y="301.5" />
<use href="#od" x="993.3" y="301.5" />
<use href="#od" x="1236.4" y="320.3" />
<use href="#od" x="862.4" y="320.3" />
<use href="#od" x="974.6" y="320.3" />
<use href="#od" x="1273.8" y="320.3" />
<use href="#od" x="787.6" y="320.3" />
<use href="#od" x="825" y="320.3" />
<use href="#od" x="1012" y="320.3" />
<use href="#od" x="1086.8" y="320.3" />
<use href="#od" x="1199" y="320.3" />
<use href="#od" x="1161.6" y="320.3" />
<use href="#od" x="1049.4" y="320.3" />
<use href="#od" x="937.2" y="320.3" />
<use href="#od" x="1124.2" y="320.3" />
<use href="#od" x="899.8" y="320.3" />
<use href="#od" x="787.6" y="320.7" />
<use href="#od" x="974.6" y="320.7" />
<use href="#od" x="1012" y="320.7" />
<use href="#od" x="1086.8" y="320.7" />
<use href="#od" x="1273.8" y="320.7" />
<use href="#od" x="1199" y="320.7" />
<use href="#od" x="1161.6" y="320.7" />
<use href="#od" x="1049.4" y="320.7" />
<use href="#od" x="1124.2" y="320.7" />
<use href="#od" x="825" y="320.7" />
<use href="#od" x="899.8" y="320.7" />
<use href="#od" x="1236.4" y="320.7" />
<use href="#od" x="937.2" y="320.7" />
<use href="#od" x="862.4" y="320.7" />
<use href="#od" x="881.1" y="339.5" />
<use href="#od" x="1217.7" y="339.5" />
<use href="#od" x="1255.1" y="339.5" />
<use href="#od" x="768.9" y="339.5" />
<use href="#od" x="955.9" y="339.5" />
<use href="#od" x="993.3" y="339.5" />
<use href="#od" x="974.6" y="339.5" />
<use href="#od" x="1068.1" y="339.5" />
<use href="#od" x="1012" y="339.5" />
<use href="#od" x="1273.8" y="339.5" />
<use href="#od" x="1161.6" y="339.5" />
<use href="#od" x="1292.5" y="339.5" />
<use href="#od" x="806.3" y="339.5" />
<use href="#od" x="1180.3" y="339.5" />
<use href="#od" x="787.6" y="339.5" />
<use href="#od" x="1124.2" y="339.5" />
<use href="#od" x="825" y="339.5" />
<use href="#od" x="899.8" y="339.5" />
<use href="#od" x="1086.8" y="339.5" />
<use href="#od" x="1199" y="339.5" />
<use href="#od" x="1030.7" y="339.5" />
<use href="#od" x="1105.5" y="339.5" />
<use href="#od" x="918.5" y="339.5" />
<use href="#od" x="1049.4" y="339.5" />
<use href="#od" x="1236.4" y="339.5" />
<use href="#od" x="937.2" y="339.5" />
<use href="#od" x="862.4" y="339.5" />
<use href="#od" x="1142.9" y="339.5" />
<use href="#od" x="843.7" y="339.5" />
<use href="#od" x="825" y="358.3" />
<use href="#od" x="1012" y="358.3" />
<use href="#od" x="1086.8" y="358.3" />
<use href="#od" x="1199" y="358.3" />
<use href="#od" x="1161.6" y="358.3" />
<use href="#od" x="1049.4" y="358.3" />
<use href="#od" x="937.2" y="358.3" />
<use href="#od" x="1124.2" y="358.3" />
<use href="#od" x="899.8" y="358.3" />
<use href="#od" x="1236.4" y="358.3" />
<use href="#od" x="862.4" y="358.3" />
<use href="#od" x="974.6" y="358.3" />
<use href="#od" x="1273.8" y="358.3" />
<use href="#od" x="787.6" y="358.3" />
<polyline points="795.12,376.06 799.2,374.26" fill="none" stroke="#bdbdbd" stroke-width="0.9"/>
<polyline points="799.2,374.26 797.2,368.04" fill="none" stroke="#222" stroke-width="1.1"/>
<polyline points="797.2,368.04 805.2,360" fill="none" stroke="#bdbdbd" stroke-width="0.9"/>
<use href="#hex" transform="translate(791.2,382.3)"/>
<polyline points="832.52,376.06 836.6,374.26" fill="none" stroke="#bdbdbd" stroke-width="0.9"/>
<polyline points="836.6,374.26 834.6,368.04" fill="none" stroke="#222" stroke-width="1.1"/>
<polyline points="834.6,368.04 842.6,360" fill="none" stroke="#bdbdbd" stroke-width="0.9"/>
<use href="#hex" transform="translate(828.6,382.3)"/>
<polyline points="869.92,376.06 874,374.26" fill="none" stroke="#bdbdbd" stroke-width="0.9"/>
<polyline points="874,374.26 872,368.04" fill="none" stroke="#222" stroke-width="1.1"/>
<polyline points="872,368.04 880,360" fill="none" stroke="#bdbdbd" stroke-width="0.9"/>
<use href="#hex" transform="translate(866,382.3)"/>
<polyline points="907.32,376.06 911.4,374.26" fill="none" stroke="#bdbdbd" stroke-width="0.9"/>
<polyline points="911.4,374.26 909.4,368.04" fill="none" stroke="#222" stroke-width="1.1"/>
<polyline points="909.4,368.04 917.4,360" fill="none" stroke="#bdbdbd" stroke-width="0.9"/>
<use href="#hex" transform="translate(903.4,382.3)"/>
<polyline points="944.72,376.06 948.8,374.26" fill="none" stroke="#bdbdbd" stroke-width="0.9"/>
<polyline points="948.8,374.26 946.8,368.04" fill="none" stroke="#222" stroke-width="1.1"/>
<polyline points="946.8,368.04 954.8,360" fill="none" stroke="#bdbdbd" stroke-width="0.9"/>
<use href="#hex" transform="translate(940.8,382.3)"/>
<polyline points="982.12,376.06 986.2,374.26" fill="none" stroke="#bdbdbd" stroke-width="0.9"/>
<polyline points="986.2,374.26 984.2,368.04" fill="none" stroke="#222" stroke-width="1.1"/>
<polyline points="984.2,368.04 992.2,360" fill="none" stroke="#bdbdbd" stroke-width="0.9"/>
<use href="#hex" transform="translate(978.2,382.3)"/>
<polyline points="1019.52,376.06 1023.6,374.26" fill="none" stroke="#bdbdbd" stroke-width="0.9"/>
<polyline points="1023.6,374.26 1021.6,368.04" fill="none" stroke="#222" stroke-width="1.1"/>
<polyline points="1021.6,368.04 1029.6,360" fill="none" stroke="#bdbdbd" stroke-width="0.9"/>
<use href="#hex" transform="translate(1015.6,382.3)"/>
<polyline points="1056.92,376.06 1061,374.26" fill="none" stroke="#bdbdbd" stroke-width="0.9"/>
<polyline points="1061,374.26 1059,368.04" fill="none" stroke="#222" stroke-width="1.1"/>
<polyline points="1059,368.04 1067,360" fill="none" stroke="#bdbdbd" stroke-width="0.9"/>
<use href="#hex" transform="translate(1053,382.3)"/>
<polyline points="1094.32,376.06 1098.4,374.26" fill="none" stroke="#bdbdbd" stroke-width="0.9"/>
<polyline points="1098.4,374.26 1096.4,368.04" fill="none" stroke="#222" stroke-width="1.1"/>
<polyline points="1096.4,368.04 1104.4,360" fill="none" stroke="#bdbdbd" stroke-width="0.9"/>
<use href="#hex" transform="translate(1090.4,382.3)"/>
<polyline points="1131.72,376.06 1135.8,374.26" fill="none" stroke="#bdbdbd" stroke-width="0.9"/>
<polyline points="1135.8,374.26 1133.8,368.04" fill="none" stroke="#222" stroke-width="1.1"/>
<polyline points="1133.8,368.04 1141.8,360" fill="none" stroke="#bdbdbd" stroke-width="0.9"/>
<use href="#hex" transform="translate(1127.8,382.3)"/>
<polyline points="1169.12,376.06 1173.2,374.26" fill="none" stroke="#bdbdbd" stroke-width="0.9"/>
<polyline points="1173.2,374.26 1171.2,368.04" fill="none" stroke="#222" stroke-width="1.1"/>
<polyline points="1171.2,368.04 1179.2,360" fill="none" stroke="#bdbdbd" stroke-width="0.9"/>
<use href="#hex" transform="translate(1165.2,382.3)"/>
<polyline points="1206.52,376.06 1210.6,374.26" fill="none" stroke="#bdbdbd" stroke-width="0.9"/>
<polyline points="1210.6,374.26 1208.6,368.04" fill="none" stroke="#222" stroke-width="1.1"/>
<polyline points="1208.6,368.04 1216.6,360" fill="none" stroke="#bdbdbd" stroke-width="0.9"/>
<use href="#hex" transform="translate(1202.6,382.3)"/>
<polyline points="1243.92,376.06 1248,374.26" fill="none" stroke="#bdbdbd" stroke-width="0.9"/>
<polyline points="1248,374.26 1246,368.04" fill="none" stroke="#222" stroke-width="1.1"/>
<polyline points="1246,368.04 1254,360" fill="none" stroke="#bdbdbd" stroke-width="0.9"/>
<use href="#hex" transform="translate(1240,382.3)"/>
<line x1="800.6" y1="353.2" x2="786.1" y2="357.3" stroke="#b89a00" stroke-width="1.3"/>
<line x1="786.1" y1="357.3" x2="776.6" y2="360.5" stroke="#888" stroke-width="1.3"/>
<circle cx="800.6" cy="353.2" r="3.6" fill="url(#gS)"/>
<circle cx="786.1" cy="357.3" r="3.1" fill="url(#gC)"/>
<circle cx="776.6" cy="360.5" r="3.1" fill="url(#gN)"/>
<line x1="838" y1="353.2" x2="823.5" y2="357.3" stroke="#b89a00" stroke-width="1.3"/>
<line x1="823.5" y1="357.3" x2="814" y2="360.5" stroke="#888" stroke-width="1.3"/>
<circle cx="838" cy="353.2" r="3.6" fill="url(#gS)"/>
<circle cx="823.5" cy="357.3" r="3.1" fill="url(#gC)"/>
<circle cx="814" cy="360.5" r="3.1" fill="url(#gN)"/>
<line x1="875.4" y1="353.2" x2="860.9" y2="357.3" stroke="#b89a00" stroke-width="1.3"/>
<line x1="860.9" y1="357.3" x2="851.4" y2="360.5" stroke="#888" stroke-width="1.3"/>
<circle cx="875.4" cy="353.2" r="3.6" fill="url(#gS)"/>
<circle cx="860.9" cy="357.3" r="3.1" fill="url(#gC)"/>
<circle cx="851.4" cy="360.5" r="3.1" fill="url(#gN)"/>
<line x1="912.8" y1="353.2" x2="898.3" y2="357.3" stroke="#b89a00" stroke-width="1.3"/>
<line x1="898.3" y1="357.3" x2="888.8" y2="360.5" stroke="#888" stroke-width="1.3"/>
<circle cx="912.8" cy="353.2" r="3.6" fill="url(#gS)"/>
<circle cx="898.3" cy="357.3" r="3.1" fill="url(#gC)"/>
<circle cx="888.8" cy="360.5" r="3.1" fill="url(#gN)"/>
<line x1="950.2" y1="353.2" x2="935.7" y2="357.3" stroke="#b89a00" stroke-width="1.3"/>
<line x1="935.7" y1="357.3" x2="926.2" y2="360.5" stroke="#888" stroke-width="1.3"/>
<circle cx="950.2" cy="353.2" r="3.6" fill="url(#gS)"/>
<circle cx="935.7" cy="357.3" r="3.1" fill="url(#gC)"/>
<circle cx="926.2" cy="360.5" r="3.1" fill="url(#gN)"/>
<line x1="987.6" y1="353.2" x2="973.1" y2="357.3" stroke="#b89a00" stroke-width="1.3"/>
<line x1="973.1" y1="357.3" x2="963.6" y2="360.5" stroke="#888" stroke-width="1.3"/>
<circle cx="987.6" cy="353.2" r="3.6" fill="url(#gS)"/>
<circle cx="973.1" cy="357.3" r="3.1" fill="url(#gC)"/>
<circle cx="963.6" cy="360.5" r="3.1" fill="url(#gN)"/>
<line x1="1025" y1="353.2" x2="1010.5" y2="357.3" stroke="#b89a00" stroke-width="1.3"/>
<line x1="1010.5" y1="357.3" x2="1001" y2="360.5" stroke="#888" stroke-width="1.3"/>
<circle cx="1025" cy="353.2" r="3.6" fill="url(#gS)"/>
<circle cx="1010.5" cy="357.3" r="3.1" fill="url(#gC)"/>
<circle cx="1001" cy="360.5" r="3.1" fill="url(#gN)"/>
<line x1="1062.4" y1="353.2" x2="1047.9" y2="357.3" stroke="#b89a00" stroke-width="1.3"/>
<line x1="1047.9" y1="357.3" x2="1038.4" y2="360.5" stroke="#888" stroke-width="1.3"/>
<circle cx="1062.4" cy="353.2" r="3.6" fill="url(#gS)"/>
<circle cx="1047.9" cy="357.3" r="3.1" fill="url(#gC)"/>
<circle cx="1038.4" cy="360.5" r="3.1" fill="url(#gN)"/>
<line x1="1099.8" y1="353.2" x2="1085.3" y2="357.3" stroke="#b89a00" stroke-width="1.3"/>
<line x1="1085.3" y1="357.3" x2="1075.8" y2="360.5" stroke="#888" stroke-width="1.3"/>
<circle cx="1099.8" cy="353.2" r="3.6" fill="url(#gS)"/>
<circle cx="1085.3" cy="357.3" r="3.1" fill="url(#gC)"/>
<circle cx="1075.8" cy="360.5" r="3.1" fill="url(#gN)"/>
<line x1="1137.2" y1="353.2" x2="1122.7" y2="357.3" stroke="#b89a00" stroke-width="1.3"/>
<line x1="1122.7" y1="357.3" x2="1113.2" y2="360.5" stroke="#888" stroke-width="1.3"/>
<circle cx="1137.2" cy="353.2" r="3.6" fill="url(#gS)"/>
<circle cx="1122.7" cy="357.3" r="3.1" fill="url(#gC)"/>
<circle cx="1113.2" cy="360.5" r="3.1" fill="url(#gN)"/>
<line x1="1174.6" y1="353.2" x2="1160.1" y2="357.3" stroke="#b89a00" stroke-width="1.3"/>
<line x1="1160.1" y1="357.3" x2="1150.6" y2="360.5" stroke="#888" stroke-width="1.3"/>
<circle cx="1174.6" cy="353.2" r="3.6" fill="url(#gS)"/>
<circle cx="1160.1" cy="357.3" r="3.1" fill="url(#gC)"/>
<circle cx="1150.6" cy="360.5" r="3.1" fill="url(#gN)"/>
<line x1="1212" y1="353.2" x2="1197.5" y2="357.3" stroke="#b89a00" stroke-width="1.3"/>
<line x1="1197.5" y1="357.3" x2="1188" y2="360.5" stroke="#888" stroke-width="1.3"/>
<circle cx="1212" cy="353.2" r="3.6" fill="url(#gS)"/>
<circle cx="1197.5" cy="357.3" r="3.1" fill="url(#gC)"/>
<circle cx="1188" cy="360.5" r="3.1" fill="url(#gN)"/>
<line x1="1249.4" y1="353.2" x2="1234.9" y2="357.3" stroke="#b89a00" stroke-width="1.3"/>
<line x1="1234.9" y1="357.3" x2="1225.4" y2="360.5" stroke="#888" stroke-width="1.3"/>
<circle cx="1249.4" cy="353.2" r="3.6" fill="url(#gS)"/>
<circle cx="1234.9" cy="357.3" r="3.1" fill="url(#gC)"/>
<circle cx="1225.4" cy="360.5" r="3.1" fill="url(#gN)"/>
<line x1="1286.8" y1="353.2" x2="1272.3" y2="357.3" stroke="#b89a00" stroke-width="1.3"/>
<line x1="1272.3" y1="357.3" x2="1262.8" y2="360.5" stroke="#888" stroke-width="1.3"/>
<circle cx="1286.8" cy="353.2" r="3.6" fill="url(#gS)"/>
<circle cx="1272.3" cy="357.3" r="3.1" fill="url(#gC)"/>
<circle cx="1262.8" cy="360.5" r="3.1" fill="url(#gN)"/>
<use href="#bd" x="803.15" y="400.2" />
<use href="#bd" x="840.65" y="400.2" />
<use href="#bd" x="878.15" y="400.2" />
<use href="#bd" x="915.65" y="400.2" />
<use href="#bd" x="953.15" y="400.2" />
<use href="#bd" x="990.65" y="400.2" />
<use href="#bd" x="1028.15" y="400.2" />
<use href="#bd" x="1065.65" y="400.2" />
<use href="#bd" x="1103.15" y="400.2" />
<use href="#bd" x="1140.65" y="400.2" />
<use href="#bd" x="1178.15" y="400.2" />
<use href="#bd" x="1215.65" y="400.2" />
<use href="#bd" x="1253.15" y="400.2" />
<use href="#oB" x="784.4" y="417.6" />
<use href="#oB" x="821.9" y="417.6" />
<use href="#oB" x="859.4" y="417.6" />
<use href="#oB" x="896.9" y="417.6" />
<use href="#oB" x="934.4" y="417.6" />
<use href="#oB" x="971.9" y="417.6" />
<use href="#oB" x="1009.4" y="417.6" />
<use href="#oB" x="1046.9" y="417.6" />
<use href="#oB" x="1084.4" y="417.6" />
<use href="#oB" x="1121.9" y="417.6" />
<use href="#oB" x="1159.4" y="417.6" />
<use href="#oB" x="1196.9" y="417.6" />
<use href="#oB" x="1234.4" y="417.6" />
<use href="#oB" x="1271.9" y="417.6" />
<use href="#oB" x="784.4" y="454.2" />
<use href="#oB" x="821.9" y="454.2" />
<use href="#oB" x="859.4" y="454.2" />
<use href="#oB" x="896.9" y="454.2" />
<use href="#oB" x="934.4" y="454.2" />
<use href="#oB" x="971.9" y="454.2" />
<use href="#oB" x="1009.4" y="454.2" />
<use href="#oB" x="1046.9" y="454.2" />
<use href="#oB" x="1084.4" y="454.2" />
<use href="#oB" x="1121.9" y="454.2" />
<use href="#oB" x="1159.4" y="454.2" />
<use href="#oB" x="1196.9" y="454.2" />
<use href="#oB" x="1234.4" y="454.2" />
<use href="#oB" x="1271.9" y="454.2" />
<use href="#oB" x="784.4" y="490.8" />
<use href="#oB" x="821.9" y="490.8" />
<use href="#oB" x="859.4" y="490.8" />
<use href="#oB" x="896.9" y="490.8" />
<use href="#oB" x="934.4" y="490.8" />
<use href="#oB" x="971.9" y="490.8" />
<use href="#oB" x="1009.4" y="490.8" />
<use href="#oB" x="1046.9" y="490.8" />
<use href="#oB" x="1084.4" y="490.8" />
<use href="#oB" x="1121.9" y="490.8" />
<use href="#oB" x="1159.4" y="490.8" />
<use href="#oB" x="1196.9" y="490.8" />
<use href="#oB" x="1234.4" y="490.8" />
<use href="#oB" x="1271.9" y="490.8" />
<use href="#oB" x="784.4" y="527.4" />
<use href="#oB" x="821.9" y="527.4" />
<use href="#oB" x="859.4" y="527.4" />
<use href="#oB" x="896.9" y="527.4" />
<use href="#oB" x="934.4" y="527.4" />
<use href="#oB" x="971.9" y="527.4" />
<use href="#oB" x="1009.4" y="527.4" />
<use href="#oB" x="1046.9" y="527.4" />
<use href="#oB" x="1084.4" y="527.4" />
<use href="#oB" x="1121.9" y="527.4" />
<use href="#oB" x="1159.4" y="527.4" />
<use href="#oB" x="1196.9" y="527.4" />
<use href="#oB" x="1234.4" y="527.4" />
<use href="#oB" x="1271.9" y="527.4" />
<use href="#bd" x="953.15" y="435.9" />
<use href="#bd" x="1253.15" y="472.5" />
<use href="#bd" x="915.65" y="472.5" />
<use href="#bd" x="990.65" y="472.5" />
<use href="#bd" x="1103.15" y="435.9" />
<use href="#bd" x="1140.65" y="509.1" />
<use href="#bd" x="803.15" y="509.1" />
<use href="#bd" x="1178.15" y="435.9" />
<use href="#bd" x="1215.65" y="509.1" />
<use href="#bd" x="878.15" y="509.1" />
<use href="#bd" x="840.65" y="435.9" />
<use href="#bd" x="1028.15" y="509.1" />
<use href="#bd" x="1065.65" y="472.5" />
<use href="#bd" x="1253.15" y="435.9" />
<use href="#bd" x="953.15" y="509.1" />
<use href="#bd" x="915.65" y="435.9" />
<use href="#bd" x="990.65" y="435.9" />
<use href="#bd" x="1103.15" y="509.1" />
<use href="#bd" x="1140.65" y="472.5" />
<use href="#bd" x="1178.15" y="509.1" />
<use href="#bd" x="803.15" y="472.5" />
<use href="#bd" x="1215.65" y="472.5" />
<use href="#bd" x="840.65" y="509.1" />
<use href="#bd" x="878.15" y="472.5" />
<use href="#bd" x="1028.15" y="472.5" />
<use href="#bd" x="1065.65" y="435.9" />
<use href="#bd" x="1253.15" y="509.1" />
<use href="#bd" x="915.65" y="509.1" />
<use href="#bd" x="953.15" y="472.5" />
<use href="#bd" x="990.65" y="509.1" />
<use href="#bd" x="1140.65" y="435.9" />
<use href="#bd" x="803.15" y="435.9" />
<use href="#bd" x="1103.15" y="472.5" />
<use href="#bd" x="1215.65" y="435.9" />
<use href="#bd" x="840.65" y="472.5" />
<use href="#bd" x="878.15" y="435.9" />
<use href="#bd" x="1178.15" y="472.5" />
<use href="#bd" x="1065.65" y="509.1" />
<use href="#bd" x="1028.15" y="435.9" />
<use href="#od" x="1159.4" y="417.6" />
<use href="#od" x="1140.6" y="417.6" />
<use href="#od" x="878.1" y="417.6" />
<use href="#od" x="1046.9" y="417.6" />
<use href="#od" x="803.1" y="417.6" />
<use href="#od" x="1215.7" y="417.6" />
<use href="#od" x="971.9" y="417.6" />
<use href="#od" x="859.4" y="417.6" />
<use href="#od" x="1103.2" y="417.6" />
<use href="#od" x="990.6" y="417.6" />
<use href="#od" x="915.7" y="417.6" />
<use href="#od" x="1234.4" y="417.6" />
<use href="#od" x="803.2" y="417.6" />
<use href="#od" x="1215.6" y="417.6" />
<use href="#od" x="953.1" y="417.6" />
<use href="#od" x="1103.1" y="417.6" />
<use href="#od" x="934.4" y="417.6" />
<use href="#od" x="1178.2" y="417.6" />
<use href="#od" x="990.7" y="417.6" />
<use href="#od" x="1121.9" y="417.6" />
<use href="#od" x="878.2" y="417.6" />
<use href="#od" x="1290.6" y="417.6" />
<use href="#od" x="840.6" y="417.6" />
<use href="#od" x="1178.1" y="417.6" />
<use href="#od" x="1084.4" y="417.6" />
<use href="#od" x="1253.2" y="417.6" />
<use href="#od" x="821.9" y="417.6" />
<use href="#od" x="1009.4" y="417.6" />
<use href="#od" x="1065.7" y="417.6" />
<use href="#od" x="784.4" y="417.6" />
<use href="#od" x="1196.9" y="417.6" />
<use href="#od" x="953.2" y="417.6" />
<use href="#od" x="765.7" y="417.6" />
<use href="#od" x="915.6" y="417.6" />
<use href="#od" x="1253.1" y="417.6" />
<use href="#od" x="1028.1" y="417.6" />
<use href="#od" x="1065.6" y="417.6" />
<use href="#od" x="896.9" y="417.6" />
<use href="#od" x="1140.7" y="417.6" />
<use href="#od" x="1028.2" y="417.6" />
<use href="#od" x="1271.9" y="417.6" />
<use href="#od" x="840.7" y="417.6" />
<use href="#od" x="971.9" y="435.9" />
<use href="#od" x="896.9" y="435.9" />
<use href="#od" x="1271.9" y="435.9" />
<use href="#od" x="1159.4" y="435.9" />
<use href="#od" x="1046.9" y="435.9" />
<use href="#od" x="859.4" y="435.9" />
<use href="#od" x="1234.4" y="435.9" />
<use href="#od" x="1009.4" y="435.9" />
<use href="#od" x="934.4" y="435.9" />
<use href="#od" x="1121.9" y="435.9" />
<use href="#od" x="1084.4" y="435.9" />
<use href="#od" x="821.9" y="435.9" />
<use href="#od" x="784.4" y="435.9" />
<use href="#od" x="1196.9" y="435.9" />
<use href="#od" x="1121.9" y="454.2" />
<use href="#od" x="878.2" y="454.2" />
<use href="#od" x="1290.6" y="454.2" />
<use href="#od" x="1178.1" y="454.2" />
<use href="#od" x="1009.4" y="454.2" />
<use href="#od" x="821.9" y="454.2" />
<use href="#od" x="1065.7" y="454.2" />
<use href="#od" x="990.7" y="454.2" />
<use href="#od" x="1196.9" y="454.2" />
<use href="#od" x="953.2" y="454.2" />
<use href="#od" x="765.7" y="454.2" />
<use href="#od" x="915.6" y="454.2" />
<use href="#od" x="1253.1" y="454.2" />
<use href="#od" x="840.6" y="454.2" />
<use href="#od" x="1028.1" y="454.2" />
<use href="#od" x="1084.4" y="454.2" />
<use href="#od" x="1065.6" y="454.2" />
<use href="#od" x="896.9" y="454.2" />
<use href="#od" x="1253.2" y="454.2" />
<use href="#od" x="1140.7" y="454.2" />
<use href="#od" x="784.4" y="454.2" />
<use href="#od" x="1271.9" y="454.2" />
<use href="#od" x="840.7" y="454.2" />
<use href="#od" x="1159.4" y="454.2" />
<use href="#od" x="1140.6" y="454.2" />
<use href="#od" x="803.1" y="454.2" />
<use href="#od" x="971.9" y="454.2" />
<use href="#od" x="859.4" y="454.2" />
<use href="#od" x="1103.2" y="454.2" />
<use href="#od" x="1028.2" y="454.2" />
<use href="#od" x="990.6" y="454.2" />
<use href="#od" x="915.7" y="454.2" />
<use href="#od" x="1234.4" y="454.2" />
<use href="#od" x="803.2" y="454.2" />
<use href="#od" x="1215.6" y="454.2" />
<use href="#od" x="953.1" y="454.2" />
<use href="#od" x="878.1" y="454.2" />
<use href="#od" x="1046.9" y="454.2" />
<use href="#od" x="1103.1" y="454.2" />
<use href="#od" x="1215.7" y="454.2" />
<use href="#od" x="934.4" y="454.2" />
<use href="#od" x="1178.2" y="454.2" />
<use href="#od" x="1084.4" y="472.5" />
<use href="#od" x="1009.4" y="472.5" />
<use href="#od" x="821.9" y="472.5" />
<use href="#od" x="784.4" y="472.5" />
<use href="#od" x="1196.9" y="472.5" />
<use href="#od" x="896.9" y="472.5" />
<use href="#od" x="1271.9" y="472.5" />
<use href="#od" x="1159.4" y="472.5" />
<use href="#od" x="971.9" y="472.5" />
<use href="#od" x="859.4" y="472.5" />
<use href="#od" x="1234.4" y="472.5" />
<use href="#od" x="1046.9" y="472.5" />
<use href="#od" x="934.4" y="472.5" />
<use href="#od" x="1121.9" y="472.5" />
<use href="#od" x="1253.2" y="490.8" />
<use href="#od" x="821.9" y="490.8" />
<use href="#od" x="1065.7" y="490.8" />
<use href="#od" x="784.4" y="490.8" />
<use href="#od" x="1271.9" y="490.8" />
<use href="#od" x="1196.9" y="490.8" />
<use href="#od" x="765.7" y="490.8" />
<use href="#od" x="953.2" y="490.8" />
<use href="#od" x="915.6" y="490.8" />
<use href="#od" x="1253.1" y="490.8" />
<use href="#od" x="803.1" y="490.8" />
<use href="#od" x="971.9" y="490.8" />
<use href="#od" x="896.9" y="490.8" />
<use href="#od" x="1140.7" y="490.8" />
<use href="#od" x="1028.2" y="490.8" />
<use href="#od" x="990.6" y="490.8" />
<use href="#od" x="840.7" y="490.8" />
<use href="#od" x="1159.4" y="490.8" />
<use href="#od" x="1140.6" y="490.8" />
<use href="#od" x="878.1" y="490.8" />
<use href="#od" x="1046.9" y="490.8" />
<use href="#od" x="1103.1" y="490.8" />
<use href="#od" x="1215.7" y="490.8" />
<use href="#od" x="859.4" y="490.8" />
<use href="#od" x="1103.2" y="490.8" />
<use href="#od" x="915.7" y="490.8" />
<use href="#od" x="1234.4" y="490.8" />
<use href="#od" x="803.2" y="490.8" />
<use href="#od" x="1215.6" y="490.8" />
<use href="#od" x="953.1" y="490.8" />
<use href="#od" x="1009.4" y="490.8" />
<use href="#od" x="934.4" y="490.8" />
<use href="#od" x="1178.2" y="490.8" />
<use href="#od" x="990.7" y="490.8" />
<use href="#od" x="1121.9" y="490.8" />
<use href="#od" x="878.2" y="490.8" />
<use href="#od" x="1290.6" y="490.8" />
<use href="#od" x="840.6" y="490.8" />
<use href="#od" x="1178.1" y="490.8" />
<use href="#od" x="1028.1" y="490.8" />
<use href="#od" x="1084.4" y="490.8" />
<use href="#od" x="1065.6" y="490.8" />
<use href="#od" x="1046.9" y="509.1" />
<use href="#od" x="934.4" y="509.1" />
<use href="#od" x="1121.9" y="509.1" />
<use href="#od" x="821.9" y="509.1" />
<use href="#od" x="1009.4" y="509.1" />
<use href="#od" x="1196.9" y="509.1" />
<use href="#od" x="1084.4" y="509.1" />
<use href="#od" x="896.9" y="509.1" />
<use href="#od" x="784.4" y="509.1" />
<use href="#od" x="1271.9" y="509.1" />
<use href="#od" x="1159.4" y="509.1" />
<use href="#od" x="971.9" y="509.1" />
<use href="#od" x="859.4" y="509.1" />
<use href="#od" x="1234.4" y="509.1" />
<use href="#od" x="971.9" y="527.4" />
<use href="#od" x="859.4" y="527.4" />
<use href="#od" x="1103.2" y="527.4" />
<use href="#od" x="990.6" y="527.4" />
<use href="#od" x="915.7" y="527.4" />
<use href="#od" x="1234.4" y="527.4" />
<use href="#od" x="803.2" y="527.4" />
<use href="#od" x="1215.6" y="527.4" />
<use href="#od" x="953.1" y="527.4" />
<use href="#od" x="1046.9" y="527.4" />
<use href="#od" x="1103.1" y="527.4" />
<use href="#od" x="1215.7" y="527.4" />
<use href="#od" x="934.4" y="527.4" />
<use href="#od" x="1178.2" y="527.4" />
<use href="#od" x="990.7" y="527.4" />
<use href="#od" x="1121.9" y="527.4" />
<use href="#od" x="878.2" y="527.4" />
<use href="#od" x="1290.6" y="527.4" />
<use href="#od" x="840.6" y="527.4" />
<use href="#od" x="1178.1" y="527.4" />
<use href="#od" x="821.9" y="527.4" />
<use href="#od" x="1009.4" y="527.4" />
<use href="#od" x="1065.7" y="527.4" />
<use href="#od" x="784.4" y="527.4" />
<use href="#od" x="1196.9" y="527.4" />
<use href="#od" x="953.2" y="527.4" />
<use href="#od" x="765.7" y="527.4" />
<use href="#od" x="915.6" y="527.4" />
<use href="#od" x="1253.1" y="527.4" />
<use href="#od" x="1028.1" y="527.4" />
<use href="#od" x="1084.4" y="527.4" />
<use href="#od" x="1065.6" y="527.4" />
<use href="#od" x="896.9" y="527.4" />
<use href="#od" x="1253.2" y="527.4" />
<use href="#od" x="1140.7" y="527.4" />
<use href="#od" x="1028.2" y="527.4" />
<use href="#od" x="1271.9" y="527.4" />
<use href="#od" x="840.7" y="527.4" />
<use href="#od" x="1159.4" y="527.4" />
<use href="#od" x="1140.6" y="527.4" />
<use href="#od" x="878.1" y="527.4" />
<use href="#od" x="803.1" y="527.4" />
<use href="#od" x="1121.9" y="545.7" />
<use href="#od" x="1084.4" y="545.7" />
<use href="#od" x="896.9" y="545.7" />
<use href="#od" x="821.9" y="545.7" />
<use href="#od" x="784.4" y="545.7" />
<use href="#od" x="1271.9" y="545.7" />
<use href="#od" x="1196.9" y="545.7" />
<use href="#od" x="971.9" y="545.7" />
<use href="#od" x="1159.4" y="545.7" />
<use href="#od" x="1046.9" y="545.7" />
<use href="#od" x="934.4" y="545.7" />
<use href="#od" x="859.4" y="545.7" />
<use href="#od" x="1234.4" y="545.7" />
<use href="#od" x="1009.4" y="545.7" />
<path d="M825,158 L825,364 C826,378 830,386 840,389 C850,392 853,396 846,401 C838,406 826,409 821.5,413 L821.5,526.7 L1232,526.7 L1232,537 M1232,526.7 L1232,420 C1231,400 1228,392 1220,388 C1213,385 1205,384 1208,380 C1212,374 1226,368 1233,362 C1235.5,359 1235.9,357 1235.9,352 L1235.9,150" fill="none" stroke="#000" stroke-width="3.2" stroke-linejoin="round"/>
<path d="M825,149.5 L832.5,162 L825,158 L817.5,162 Z" fill="#000"/>
<text x="1366.6" y="38.8" font-size="50" text-anchor="start" fill="#000" font-family="'Liberation Serif','Times New Roman',serif" font-weight="bold" >c</text>
<line x1="1509.6" y1="593.5" x2="1509.6" y2="605" stroke="#000" stroke-width="5" />
<line x1="1586.4" y1="593.5" x2="1586.4" y2="605" stroke="#000" stroke-width="5" />
<line x1="1663.2" y1="593.5" x2="1663.2" y2="605" stroke="#000" stroke-width="5" />
<line x1="1740" y1="593.5" x2="1740" y2="605" stroke="#000" stroke-width="5" />
<line x1="1816.8" y1="593.5" x2="1816.8" y2="605" stroke="#000" stroke-width="5" />
<line x1="1893.6" y1="593.5" x2="1893.6" y2="605" stroke="#000" stroke-width="5" />
<line x1="1970.4" y1="593.5" x2="1970.4" y2="605" stroke="#000" stroke-width="5" />
<line x1="1548" y1="593.5" x2="1548" y2="600" stroke="#000" stroke-width="4" />
<line x1="1624.8" y1="593.5" x2="1624.8" y2="600" stroke="#000" stroke-width="4" />
<line x1="1701.6" y1="593.5" x2="1701.6" y2="600" stroke="#000" stroke-width="4" />
<line x1="1778.4" y1="593.5" x2="1778.4" y2="600" stroke="#000" stroke-width="4" />
<line x1="1855.2" y1="593.5" x2="1855.2" y2="600" stroke="#000" stroke-width="4" />
<line x1="1932" y1="593.5" x2="1932" y2="600" stroke="#000" stroke-width="4" />
<line x1="1510" y1="593.5" x2="1498.5" y2="593.5" stroke="#000" stroke-width="5" />
<line x1="1510" y1="534.25" x2="1498.5" y2="534.25" stroke="#000" stroke-width="5" />
<line x1="1510" y1="475" x2="1498.5" y2="475" stroke="#000" stroke-width="5" />
<line x1="1510" y1="415.75" x2="1498.5" y2="415.75" stroke="#000" stroke-width="5" />
<line x1="1510" y1="356.5" x2="1498.5" y2="356.5" stroke="#000" stroke-width="5" />
<line x1="1510" y1="297.25" x2="1498.5" y2="297.25" stroke="#000" stroke-width="5" />
<line x1="1510" y1="238" x2="1498.5" y2="238" stroke="#000" stroke-width="5" />
<line x1="1510" y1="178.75" x2="1498.5" y2="178.75" stroke="#000" stroke-width="5" />
<line x1="1510" y1="119.5" x2="1498.5" y2="119.5" stroke="#000" stroke-width="5" />
<line x1="1510" y1="60.25" x2="1498.5" y2="60.25" stroke="#000" stroke-width="5" />
<line x1="1510" y1="575.66" x2="1504.5" y2="575.66" stroke="#000" stroke-width="4" />
<line x1="1510" y1="565.23" x2="1504.5" y2="565.23" stroke="#000" stroke-width="4" />
<line x1="1510" y1="557.83" x2="1504.5" y2="557.83" stroke="#000" stroke-width="4" />
<line x1="1510" y1="552.09" x2="1504.5" y2="552.09" stroke="#000" stroke-width="4" />
<line x1="1510" y1="547.39" x2="1504.5" y2="547.39" stroke="#000" stroke-width="4" />
<line x1="1510" y1="543.43" x2="1504.5" y2="543.43" stroke="#000" stroke-width="4" />
<line x1="1510" y1="539.99" x2="1504.5" y2="539.99" stroke="#000" stroke-width="4" />
<line x1="1510" y1="536.96" x2="1504.5" y2="536.96" stroke="#000" stroke-width="4" />
<line x1="1510" y1="516.41" x2="1504.5" y2="516.41" stroke="#000" stroke-width="4" />
<line x1="1510" y1="505.98" x2="1504.5" y2="505.98" stroke="#000" stroke-width="4" />
<line x1="1510" y1="498.58" x2="1504.5" y2="498.58" stroke="#000" stroke-width="4" />
<line x1="1510" y1="492.84" x2="1504.5" y2="492.84" stroke="#000" stroke-width="4" />
<line x1="1510" y1="488.14" x2="1504.5" y2="488.14" stroke="#000" stroke-width="4" />
<line x1="1510" y1="484.18" x2="1504.5" y2="484.18" stroke="#000" stroke-width="4" />
<line x1="1510" y1="480.74" x2="1504.5" y2="480.74" stroke="#000" stroke-width="4" />
<line x1="1510" y1="477.71" x2="1504.5" y2="477.71" stroke="#000" stroke-width="4" />
<line x1="1510" y1="457.16" x2="1504.5" y2="457.16" stroke="#000" stroke-width="4" />
<line x1="1510" y1="446.73" x2="1504.5" y2="446.73" stroke="#000" stroke-width="4" />
<line x1="1510" y1="439.33" x2="1504.5" y2="439.33" stroke="#000" stroke-width="4" />
<line x1="1510" y1="433.59" x2="1504.5" y2="433.59" stroke="#000" stroke-width="4" />
<line x1="1510" y1="428.89" x2="1504.5" y2="428.89" stroke="#000" stroke-width="4" />
<line x1="1510" y1="424.93" x2="1504.5" y2="424.93" stroke="#000" stroke-width="4" />
<line x1="1510" y1="421.49" x2="1504.5" y2="421.49" stroke="#000" stroke-width="4" />
<line x1="1510" y1="418.46" x2="1504.5" y2="418.46" stroke="#000" stroke-width="4" />
<line x1="1510" y1="397.91" x2="1504.5" y2="397.91" stroke="#000" stroke-width="4" />
<line x1="1510" y1="387.48" x2="1504.5" y2="387.48" stroke="#000" stroke-width="4" />
<line x1="1510" y1="380.08" x2="1504.5" y2="380.08" stroke="#000" stroke-width="4" />
<line x1="1510" y1="374.34" x2="1504.5" y2="374.34" stroke="#000" stroke-width="4" />
<line x1="1510" y1="369.64" x2="1504.5" y2="369.64" stroke="#000" stroke-width="4" />
<line x1="1510" y1="365.68" x2="1504.5" y2="365.68" stroke="#000" stroke-width="4" />
<line x1="1510" y1="362.24" x2="1504.5" y2="362.24" stroke="#000" stroke-width="4" />
<line x1="1510" y1="359.21" x2="1504.5" y2="359.21" stroke="#000" stroke-width="4" />
<line x1="1510" y1="338.66" x2="1504.5" y2="338.66" stroke="#000" stroke-width="4" />
<line x1="1510" y1="328.23" x2="1504.5" y2="328.23" stroke="#000" stroke-width="4" />
<line x1="1510" y1="320.83" x2="1504.5" y2="320.83" stroke="#000" stroke-width="4" />
<line x1="1510" y1="315.09" x2="1504.5" y2="315.09" stroke="#000" stroke-width="4" />
<line x1="1510" y1="310.39" x2="1504.5" y2="310.39" stroke="#000" stroke-width="4" />
<line x1="1510" y1="306.43" x2="1504.5" y2="306.43" stroke="#000" stroke-width="4" />
<line x1="1510" y1="302.99" x2="1504.5" y2="302.99" stroke="#000" stroke-width="4" />
<line x1="1510" y1="299.96" x2="1504.5" y2="299.96" stroke="#000" stroke-width="4" />
<line x1="1510" y1="279.41" x2="1504.5" y2="279.41" stroke="#000" stroke-width="4" />
<line x1="1510" y1="268.98" x2="1504.5" y2="268.98" stroke="#000" stroke-width="4" />
<line x1="1510" y1="261.58" x2="1504.5" y2="261.58" stroke="#000" stroke-width="4" />
<line x1="1510" y1="255.84" x2="1504.5" y2="255.84" stroke="#000" stroke-width="4" />
<line x1="1510" y1="251.14" x2="1504.5" y2="251.14" stroke="#000" stroke-width="4" />
<line x1="1510" y1="247.18" x2="1504.5" y2="247.18" stroke="#000" stroke-width="4" />
<line x1="1510" y1="243.74" x2="1504.5" y2="243.74" stroke="#000" stroke-width="4" />
<line x1="1510" y1="240.71" x2="1504.5" y2="240.71" stroke="#000" stroke-width="4" />
<line x1="1510" y1="220.16" x2="1504.5" y2="220.16" stroke="#000" stroke-width="4" />
<line x1="1510" y1="209.73" x2="1504.5" y2="209.73" stroke="#000" stroke-width="4" />
<line x1="1510" y1="202.33" x2="1504.5" y2="202.33" stroke="#000" stroke-width="4" />
<line x1="1510" y1="196.59" x2="1504.5" y2="196.59" stroke="#000" stroke-width="4" />
<line x1="1510" y1="191.89" x2="1504.5" y2="191.89" stroke="#000" stroke-width="4" />
<line x1="1510" y1="187.93" x2="1504.5" y2="187.93" stroke="#000" stroke-width="4" />
<line x1="1510" y1="184.49" x2="1504.5" y2="184.49" stroke="#000" stroke-width="4" />
<line x1="1510" y1="181.46" x2="1504.5" y2="181.46" stroke="#000" stroke-width="4" />
<line x1="1510" y1="160.91" x2="1504.5" y2="160.91" stroke="#000" stroke-width="4" />
<line x1="1510" y1="150.48" x2="1504.5" y2="150.48" stroke="#000" stroke-width="4" />
<line x1="1510" y1="143.08" x2="1504.5" y2="143.08" stroke="#000" stroke-width="4" />
<line x1="1510" y1="137.34" x2="1504.5" y2="137.34" stroke="#000" stroke-width="4" />
<line x1="1510" y1="132.64" x2="1504.5" y2="132.64" stroke="#000" stroke-width="4" />
<line x1="1510" y1="128.68" x2="1504.5" y2="128.68" stroke="#000" stroke-width="4" />
<line x1="1510" y1="125.24" x2="1504.5" y2="125.24" stroke="#000" stroke-width="4" />
<line x1="1510" y1="122.21" x2="1504.5" y2="122.21" stroke="#000" stroke-width="4" />
<line x1="1510" y1="101.66" x2="1504.5" y2="101.66" stroke="#000" stroke-width="4" />
<line x1="1510" y1="91.23" x2="1504.5" y2="91.23" stroke="#000" stroke-width="4" />
<line x1="1510" y1="83.83" x2="1504.5" y2="83.83" stroke="#000" stroke-width="4" />
<line x1="1510" y1="78.09" x2="1504.5" y2="78.09" stroke="#000" stroke-width="4" />
<line x1="1510" y1="73.39" x2="1504.5" y2="73.39" stroke="#000" stroke-width="4" />
<line x1="1510" y1="69.43" x2="1504.5" y2="69.43" stroke="#000" stroke-width="4" />
<line x1="1510" y1="65.99" x2="1504.5" y2="65.99" stroke="#000" stroke-width="4" />
<line x1="1510" y1="62.96" x2="1504.5" y2="62.96" stroke="#000" stroke-width="4" />
<line x1="1510" y1="42.41" x2="1504.5" y2="42.41" stroke="#000" stroke-width="4" />
<text x="1509.6" y="639" font-size="34" text-anchor="middle" fill="#000" font-family="'Liberation Sans',Arial,sans-serif" font-weight="bold" >-60</text>
<text x="1586.4" y="639" font-size="34" text-anchor="middle" fill="#000" font-family="'Liberation Sans',Arial,sans-serif" font-weight="bold" >-40</text>
<text x="1663.2" y="639" font-size="34" text-anchor="middle" fill="#000" font-family="'Liberation Sans',Arial,sans-serif" font-weight="bold" >-20</text>
<text x="1740" y="639" font-size="34" text-anchor="middle" fill="#000" font-family="'Liberation Sans',Arial,sans-serif" font-weight="bold" >0</text>
<text x="1816.8" y="639" font-size="34" text-anchor="middle" fill="#000" font-family="'Liberation Sans',Arial,sans-serif" font-weight="bold" >20</text>
<text x="1893.6" y="639" font-size="34" text-anchor="middle" fill="#000" font-family="'Liberation Sans',Arial,sans-serif" font-weight="bold" >40</text>
<text x="1970.4" y="639" font-size="34" text-anchor="middle" fill="#000" font-family="'Liberation Sans',Arial,sans-serif" font-weight="bold" >60</text>
<text x="1470.6" y="132.5" font-size="35" text-anchor="end" font-family="'Liberation Sans',Arial,sans-serif" font-weight="bold">10</text>
<text x="1471.4" y="118" font-size="21" text-anchor="start" font-family="'Liberation Sans',Arial,sans-serif" font-weight="bold">-3</text>
<text x="1470.6" y="251" font-size="35" text-anchor="end" font-family="'Liberation Sans',Arial,sans-serif" font-weight="bold">10</text>
<text x="1471.4" y="236.5" font-size="21" text-anchor="start" font-family="'Liberation Sans',Arial,sans-serif" font-weight="bold">-5</text>
<text x="1470.6" y="369.5" font-size="35" text-anchor="end" font-family="'Liberation Sans',Arial,sans-serif" font-weight="bold">10</text>
<text x="1471.4" y="355" font-size="21" text-anchor="start" font-family="'Liberation Sans',Arial,sans-serif" font-weight="bold">-7</text>
<text x="1470.6" y="488" font-size="35" text-anchor="end" font-family="'Liberation Sans',Arial,sans-serif" font-weight="bold">10</text>
<text x="1471.4" y="473.5" font-size="21" text-anchor="start" font-family="'Liberation Sans',Arial,sans-serif" font-weight="bold">-9</text>
<text x="1470.6" y="606.5" font-size="35" text-anchor="end" font-family="'Liberation Sans',Arial,sans-serif" font-weight="bold">10</text>
<text x="1471.4" y="592" font-size="21" text-anchor="start" font-family="'Liberation Sans',Arial,sans-serif" font-weight="bold">-11</text>
<text x="1740" y="700" font-size="40" text-anchor="middle" font-family="'Liberation Sans',Arial,sans-serif" font-weight="bold"><tspan font-style="italic">V</tspan><tspan font-size="25" dy="8">GS</tspan><tspan dy="-8"> (V)</tspan></text>
<text transform="translate(1374.5,298.8) rotate(-90)" font-size="40" text-anchor="middle" font-family="'Liberation Sans',Arial,sans-serif" font-weight="bold">|<tspan font-style="italic">I</tspan><tspan font-size="25" dy="8">DS</tspan><tspan dy="-8">| (A)</tspan></text>
<polyline points="1586.4,91.65 1594.08,93.77 1601.76,95.85 1609.44,97.91 1617.12,99.95 1624.8,102.05 1632.48,104.13 1640.16,105.87 1647.84,107.23 1655.52,108.39 1663.2,109.43 1670.88,110.24 1678.56,110.91 1686.24,111.78 1693.92,113.43 1701.6,116.69 1709.28,119.77 1716.96,122.68 1724.64,125.92 1732.32,129.57 1740,133.72 1747.68,137.27 1755.36,142.01 1763.04,149.72 1770.72,156.24 1778.4,161.57 1786.08,167.49 1793.76,174.6 1801.44,182.3 1809.12,193.02 1816.8,205.41 1824.48,218.17 1832.16,232.08 1839.84,248.07 1847.52,270.59 1855.2,303.77 1862.88,355.91 1870.56,466.11 1878.24,506.4 1885.92,497.52 1893.6,482.11" fill="none" stroke="#0d4690" stroke-width="4" stroke-linejoin="round" stroke-linecap="round" />
<polyline points="1586.4,91.65 1594.08,93.62 1601.76,95.65 1609.44,97.73 1617.12,99.85 1624.8,102.02 1632.48,104.23 1640.16,106.46 1647.84,108.72 1655.52,111.06 1663.2,113.57 1670.88,116.33 1678.56,119.3 1686.24,122.46 1693.92,125.74 1701.6,129.57 1709.28,134.64 1716.96,140.83 1724.64,148.53 1732.32,154.46 1740,160.98 1747.68,169.27 1755.36,178.16 1763.04,187.64 1770.72,198.89 1778.4,211.34 1786.08,223.78 1793.76,235.63 1801.44,251.03 1809.12,266.44 1816.8,278.29 1824.48,312.06 1832.16,353.54 1839.84,387.9 1847.52,476.78 1855.2,518.25 1862.88,520.03 1870.56,521.13 1878.24,522.08 1885.92,522.74 1893.6,522.99" fill="none" stroke="#0d4690" stroke-width="4" stroke-linejoin="round" stroke-linecap="round" />
<circle cx="1586.4" cy="91.65" r="6.3" fill="url(#bN)"/>
<circle cx="1594.08" cy="93.77" r="6.3" fill="url(#bN)"/>
<circle cx="1601.76" cy="95.85" r="6.3" fill="url(#bN)"/>
<circle cx="1609.44" cy="97.91" r="6.3" fill="url(#bN)"/>
<circle cx="1617.12" cy="99.95" r="6.3" fill="url(#bN)"/>
<circle cx="1624.8" cy="102.05" r="6.3" fill="url(#bN)"/>
<circle cx="1632.48" cy="104.13" r="6.3" fill="url(#bN)"/>
<circle cx="1640.16" cy="105.87" r="6.3" fill="url(#bN)"/>
<circle cx="1647.84" cy="107.23" r="6.3" fill="url(#bN)"/>
<circle cx="1655.52" cy="108.39" r="6.3" fill="url(#bN)"/>
<circle cx="1663.2" cy="109.43" r="6.3" fill="url(#bN)"/>
<circle cx="1670.88" cy="110.24" r="6.3" fill="url(#bN)"/>
<circle cx="1678.56" cy="110.91" r="6.3" fill="url(#bN)"/>
<circle cx="1686.24" cy="111.78" r="6.3" fill="url(#bN)"/>
<circle cx="1693.92" cy="113.43" r="6.3" fill="url(#bN)"/>
<circle cx="1701.6" cy="116.69" r="6.3" fill="url(#bN)"/>
<circle cx="1709.28" cy="119.77" r="6.3" fill="url(#bN)"/>
<circle cx="1716.96" cy="122.68" r="6.3" fill="url(#bN)"/>
<circle cx="1724.64" cy="125.92" r="6.3" fill="url(#bN)"/>
<circle cx="1732.32" cy="129.57" r="6.3" fill="url(#bN)"/>
<circle cx="1740" cy="133.72" r="6.3" fill="url(#bN)"/>
<circle cx="1747.68" cy="137.27" r="6.3" fill="url(#bN)"/>
<circle cx="1755.36" cy="142.01" r="6.3" fill="url(#bN)"/>
<circle cx="1763.04" cy="149.72" r="6.3" fill="url(#bN)"/>
<circle cx="1770.72" cy="156.24" r="6.3" fill="url(#bN)"/>
<circle cx="1778.4" cy="161.57" r="6.3" fill="url(#bN)"/>
<circle cx="1786.08" cy="167.49" r="6.3" fill="url(#bN)"/>
<circle cx="1793.76" cy="174.6" r="6.3" fill="url(#bN)"/>
<circle cx="1801.44" cy="182.3" r="6.3" fill="url(#bN)"/>
<circle cx="1809.12" cy="193.02" r="6.3" fill="url(#bN)"/>
<circle cx="1816.8" cy="205.41" r="6.3" fill="url(#bN)"/>
<circle cx="1824.48" cy="218.17" r="6.3" fill="url(#bN)"/>
<circle cx="1832.16" cy="232.08" r="6.3" fill="url(#bN)"/>
<circle cx="1839.84" cy="248.07" r="6.3" fill="url(#bN)"/>
<circle cx="1847.52" cy="270.59" r="6.3" fill="url(#bN)"/>
<circle cx="1855.2" cy="303.77" r="6.3" fill="url(#bN)"/>
<circle cx="1862.88" cy="355.91" r="6.3" fill="url(#bN)"/>
<circle cx="1870.56" cy="466.11" r="6.3" fill="url(#bN)"/>
<circle cx="1878.24" cy="506.4" r="6.3" fill="url(#bN)"/>
<circle cx="1885.92" cy="497.52" r="6.3" fill="url(#bN)"/>
<circle cx="1893.6" cy="482.11" r="6.3" fill="url(#bN)"/>
<circle cx="1586.4" cy="91.65" r="6.3" fill="url(#bN)"/>
<circle cx="1594.08" cy="93.62" r="6.3" fill="url(#bN)"/>
<circle cx="1601.76" cy="95.65" r="6.3" fill="url(#bN)"/>
<circle cx="1609.44" cy="97.73" r="6.3" fill="url(#bN)"/>
<circle cx="1617.12" cy="99.85" r="6.3" fill="url(#bN)"/>
<circle cx="1624.8" cy="102.02" r="6.3" fill="url(#bN)"/>
<circle cx="1632.48" cy="104.23" r="6.3" fill="url(#bN)"/>
<circle cx="1640.16" cy="106.46" r="6.3" fill="url(#bN)"/>
<circle cx="1647.84" cy="108.72" r="6.3" fill="url(#bN)"/>
<circle cx="1655.52" cy="111.06" r="6.3" fill="url(#bN)"/>
<circle cx="1663.2" cy="113.57" r="6.3" fill="url(#bN)"/>
<circle cx="1670.88" cy="116.33" r="6.3" fill="url(#bN)"/>
<circle cx="1678.56" cy="119.3" r="6.3" fill="url(#bN)"/>
<circle cx="1686.24" cy="122.46" r="6.3" fill="url(#bN)"/>
<circle cx="1693.92" cy="125.74" r="6.3" fill="url(#bN)"/>
<circle cx="1701.6" cy="129.57" r="6.3" fill="url(#bN)"/>
<circle cx="1709.28" cy="134.64" r="6.3" fill="url(#bN)"/>
<circle cx="1716.96" cy="140.83" r="6.3" fill="url(#bN)"/>
<circle cx="1724.64" cy="148.53" r="6.3" fill="url(#bN)"/>
<circle cx="1732.32" cy="154.46" r="6.3" fill="url(#bN)"/>
<circle cx="1740" cy="160.98" r="6.3" fill="url(#bN)"/>
<circle cx="1747.68" cy="169.27" r="6.3" fill="url(#bN)"/>
<circle cx="1755.36" cy="178.16" r="6.3" fill="url(#bN)"/>
<circle cx="1763.04" cy="187.64" r="6.3" fill="url(#bN)"/>
<circle cx="1770.72" cy="198.89" r="6.3" fill="url(#bN)"/>
<circle cx="1778.4" cy="211.34" r="6.3" fill="url(#bN)"/>
<circle cx="1786.08" cy="223.78" r="6.3" fill="url(#bN)"/>
<circle cx="1793.76" cy="235.63" r="6.3" fill="url(#bN)"/>
<circle cx="1801.44" cy="251.03" r="6.3" fill="url(#bN)"/>
<circle cx="1809.12" cy="266.44" r="6.3" fill="url(#bN)"/>
<circle cx="1816.8" cy="278.29" r="6.3" fill="url(#bN)"/>
<circle cx="1824.48" cy="312.06" r="6.3" fill="url(#bN)"/>
<circle cx="1832.16" cy="353.54" r="6.3" fill="url(#bN)"/>
<circle cx="1839.84" cy="387.9" r="6.3" fill="url(#bN)"/>
<circle cx="1847.52" cy="476.78" r="6.3" fill="url(#bN)"/>
<circle cx="1855.2" cy="518.25" r="6.3" fill="url(#bN)"/>
<circle cx="1862.88" cy="520.03" r="6.3" fill="url(#bN)"/>
<circle cx="1870.56" cy="521.13" r="6.3" fill="url(#bN)"/>
<circle cx="1878.24" cy="522.08" r="6.3" fill="url(#bN)"/>
<circle cx="1885.92" cy="522.74" r="6.3" fill="url(#bN)"/>
<circle cx="1893.6" cy="522.99" r="6.3" fill="url(#bN)"/>
<polyline points="1586.4,69.73 1594.08,71.19 1601.76,73.29 1609.44,76.34 1617.12,79.8 1624.8,82.89 1632.48,85.73 1640.16,88.1 1647.84,89.88 1655.52,93.81 1663.2,98.76 1670.88,102.71 1678.56,107.65 1686.24,117.72 1693.92,127.2 1701.6,137.87 1709.28,150.31 1716.96,166.9 1724.64,189.41 1732.32,223.78 1740,272.96 1747.68,380.79 1755.36,557.95 1763.04,554.39 1770.72,551.63 1778.4,549.19 1786.08,546.69 1793.76,543.93 1801.44,541.09 1809.12,538.4 1816.8,536.01 1824.48,533.74 1832.16,531.29 1839.84,528.45 1847.52,525.36 1855.2,522.13 1862.88,518.74 1870.56,515.29 1878.24,511.8 1885.92,508.25 1893.6,504.62" fill="none" stroke="#ff820f" stroke-width="4" stroke-linejoin="round" stroke-linecap="round" />
<polyline points="1586.4,69.73 1594.08,71.19 1601.76,73.29 1609.44,76.24 1617.12,79.8 1624.8,83.4 1632.48,87.5 1640.16,92.84 1647.84,97.58 1655.52,103.1 1663.2,109.43 1670.88,116.87 1678.56,125.43 1686.24,135.5 1693.92,147.94 1701.6,162.75 1709.28,182.3 1716.96,209.56 1724.64,247.48 1732.32,291.92 1740,383.75 1747.68,533.66 1755.36,533.66 1763.04,533.66 1770.72,533.66 1778.4,533.66 1786.08,533.66 1793.76,533.66 1801.44,533.66 1809.12,533.66 1816.8,533.66 1824.48,533.66 1832.16,533.66 1839.84,533.66 1847.52,533.66 1855.2,533.66 1862.88,533.66 1870.56,533.66 1878.24,533.66 1885.92,533.66 1893.6,533.66" fill="none" stroke="#ff820f" stroke-width="4" stroke-linejoin="round" stroke-linecap="round" />
<circle cx="1586.4" cy="69.73" r="6.3" fill="url(#bO)"/>
<circle cx="1594.08" cy="71.19" r="6.3" fill="url(#bO)"/>
<circle cx="1601.76" cy="73.29" r="6.3" fill="url(#bO)"/>
<circle cx="1609.44" cy="76.34" r="6.3" fill="url(#bO)"/>
<circle cx="1617.12" cy="79.8" r="6.3" fill="url(#bO)"/>
<circle cx="1624.8" cy="82.89" r="6.3" fill="url(#bO)"/>
<circle cx="1632.48" cy="85.73" r="6.3" fill="url(#bO)"/>
<circle cx="1640.16" cy="88.1" r="6.3" fill="url(#bO)"/>
<circle cx="1647.84" cy="89.88" r="6.3" fill="url(#bO)"/>
<circle cx="1655.52" cy="93.81" r="6.3" fill="url(#bO)"/>
<circle cx="1663.2" cy="98.76" r="6.3" fill="url(#bO)"/>
<circle cx="1670.88" cy="102.71" r="6.3" fill="url(#bO)"/>
<circle cx="1678.56" cy="107.65" r="6.3" fill="url(#bO)"/>
<circle cx="1686.24" cy="117.72" r="6.3" fill="url(#bO)"/>
<circle cx="1693.92" cy="127.2" r="6.3" fill="url(#bO)"/>
<circle cx="1701.6" cy="137.87" r="6.3" fill="url(#bO)"/>
<circle cx="1709.28" cy="150.31" r="6.3" fill="url(#bO)"/>
<circle cx="1716.96" cy="166.9" r="6.3" fill="url(#bO)"/>
<circle cx="1724.64" cy="189.41" r="6.3" fill="url(#bO)"/>
<circle cx="1732.32" cy="223.78" r="6.3" fill="url(#bO)"/>
<circle cx="1740" cy="272.96" r="6.3" fill="url(#bO)"/>
<circle cx="1747.68" cy="380.79" r="6.3" fill="url(#bO)"/>
<circle cx="1755.36" cy="557.95" r="6.3" fill="url(#bO)"/>
<circle cx="1763.04" cy="554.39" r="6.3" fill="url(#bO)"/>
<circle cx="1770.72" cy="551.63" r="6.3" fill="url(#bO)"/>
<circle cx="1778.4" cy="549.19" r="6.3" fill="url(#bO)"/>
<circle cx="1786.08" cy="546.69" r="6.3" fill="url(#bO)"/>
<circle cx="1793.76" cy="543.93" r="6.3" fill="url(#bO)"/>
<circle cx="1801.44" cy="541.09" r="6.3" fill="url(#bO)"/>
<circle cx="1809.12" cy="538.4" r="6.3" fill="url(#bO)"/>
<circle cx="1816.8" cy="536.01" r="6.3" fill="url(#bO)"/>
<circle cx="1824.48" cy="533.74" r="6.3" fill="url(#bO)"/>
<circle cx="1832.16" cy="531.29" r="6.3" fill="url(#bO)"/>
<circle cx="1839.84" cy="528.45" r="6.3" fill="url(#bO)"/>
<circle cx="1847.52" cy="525.36" r="6.3" fill="url(#bO)"/>
<circle cx="1855.2" cy="522.13" r="6.3" fill="url(#bO)"/>
<circle cx="1862.88" cy="518.74" r="6.3" fill="url(#bO)"/>
<circle cx="1870.56" cy="515.29" r="6.3" fill="url(#bO)"/>
<circle cx="1878.24" cy="511.8" r="6.3" fill="url(#bO)"/>
<circle cx="1885.92" cy="508.25" r="6.3" fill="url(#bO)"/>
<circle cx="1893.6" cy="504.62" r="6.3" fill="url(#bO)"/>
<circle cx="1586.4" cy="69.73" r="6.3" fill="url(#bO)"/>
<circle cx="1594.08" cy="71.19" r="6.3" fill="url(#bO)"/>
<circle cx="1601.76" cy="73.29" r="6.3" fill="url(#bO)"/>
<circle cx="1609.44" cy="76.24" r="6.3" fill="url(#bO)"/>
<circle cx="1617.12" cy="79.8" r="6.3" fill="url(#bO)"/>
<circle cx="1624.8" cy="83.4" r="6.3" fill="url(#bO)"/>
<circle cx="1632.48" cy="87.5" r="6.3" fill="url(#bO)"/>
<circle cx="1640.16" cy="92.84" r="6.3" fill="url(#bO)"/>
<circle cx="1647.84" cy="97.58" r="6.3" fill="url(#bO)"/>
<circle cx="1655.52" cy="103.1" r="6.3" fill="url(#bO)"/>
<circle cx="1663.2" cy="109.43" r="6.3" fill="url(#bO)"/>
<circle cx="1670.88" cy="116.87" r="6.3" fill="url(#bO)"/>
<circle cx="1678.56" cy="125.43" r="6.3" fill="url(#bO)"/>
<circle cx="1686.24" cy="135.5" r="6.3" fill="url(#bO)"/>
<circle cx="1693.92" cy="147.94" r="6.3" fill="url(#bO)"/>
<circle cx="1701.6" cy="162.75" r="6.3" fill="url(#bO)"/>
<circle cx="1709.28" cy="182.3" r="6.3" fill="url(#bO)"/>
<circle cx="1716.96" cy="209.56" r="6.3" fill="url(#bO)"/>
<circle cx="1724.64" cy="247.48" r="6.3" fill="url(#bO)"/>
<circle cx="1732.32" cy="291.92" r="6.3" fill="url(#bO)"/>
<circle cx="1740" cy="383.75" r="6.3" fill="url(#bO)"/>
<circle cx="1747.68" cy="533.66" r="6.3" fill="url(#bO)"/>
<circle cx="1755.36" cy="533.66" r="6.3" fill="url(#bO)"/>
<circle cx="1763.04" cy="533.66" r="6.3" fill="url(#bO)"/>
<circle cx="1770.72" cy="533.66" r="6.3" fill="url(#bO)"/>
<circle cx="1778.4" cy="533.66" r="6.3" fill="url(#bO)"/>
<circle cx="1786.08" cy="533.66" r="6.3" fill="url(#bO)"/>
<circle cx="1793.76" cy="533.66" r="6.3" fill="url(#bO)"/>
<circle cx="1801.44" cy="533.66" r="6.3" fill="url(#bO)"/>
<circle cx="1809.12" cy="533.66" r="6.3" fill="url(#bO)"/>
<circle cx="1816.8" cy="533.66" r="6.3" fill="url(#bO)"/>
<circle cx="1824.48" cy="533.66" r="6.3" fill="url(#bO)"/>
<circle cx="1832.16" cy="533.66" r="6.3" fill="url(#bO)"/>
<circle cx="1839.84" cy="533.66" r="6.3" fill="url(#bO)"/>
<circle cx="1847.52" cy="533.66" r="6.3" fill="url(#bO)"/>
<circle cx="1855.2" cy="533.66" r="6.3" fill="url(#bO)"/>
<circle cx="1862.88" cy="533.66" r="6.3" fill="url(#bO)"/>
<circle cx="1870.56" cy="533.66" r="6.3" fill="url(#bO)"/>
<circle cx="1878.24" cy="533.66" r="6.3" fill="url(#bO)"/>
<circle cx="1885.92" cy="533.66" r="6.3" fill="url(#bO)"/>
<circle cx="1893.6" cy="533.66" r="6.3" fill="url(#bO)"/>
<rect x="1510" y="32" width="460.5" height="561.5" fill="none" stroke="#000" stroke-width="5" stroke-linejoin="miter"/>
<text x="1543" y="384" font-size="31.5" font-family="'Liberation Sans',Arial,sans-serif" font-weight="bold">V<tspan font-size="20" dy="8">DS</tspan><tspan dy="-8">=-30 V</tspan></text>
<line x1="1522" y1="480.4" x2="1593" y2="480.4" stroke="#0d4690" stroke-width="5" stroke-linecap="round"/>
<circle cx="1557.5" cy="480.4" r="6.5" fill="url(#bN)"/>
<line x1="1522" y1="520.3" x2="1593" y2="520.3" stroke="#ff820f" stroke-width="5" stroke-linecap="round"/>
<circle cx="1557.5" cy="520.3" r="6.5" fill="url(#bO)"/>
<text x="1601" y="491.7" font-size="31.5" text-anchor="start" fill="#000" font-family="'Liberation Sans',Arial,sans-serif" font-weight="bold" >PEAI</text>
<text x="1601" y="531.3" font-size="31.5" text-anchor="start" fill="#000" font-family="'Liberation Sans',Arial,sans-serif" font-weight="bold" >PEASCN</text>
<text x="1601" y="571" font-size="31.5" text-anchor="start" fill="#000" font-family="'Liberation Sans',Arial,sans-serif" font-weight="bold" >FAHCOO</text>
<text x="39.6" y="738.8" font-size="50" text-anchor="start" fill="#000" font-family="'Liberation Serif','Times New Roman',serif" font-weight="bold" >d</text>
<line x1="152.3" y1="1310" x2="152.3" y2="1321.5" stroke="#000" stroke-width="5" />
<line x1="243.94" y1="1310" x2="243.94" y2="1321.5" stroke="#000" stroke-width="5" />
<line x1="335.58" y1="1310" x2="335.58" y2="1321.5" stroke="#000" stroke-width="5" />
<line x1="427.22" y1="1310" x2="427.22" y2="1321.5" stroke="#000" stroke-width="5" />
<line x1="518.86" y1="1310" x2="518.86" y2="1321.5" stroke="#000" stroke-width="5" />
<line x1="610.5" y1="1310" x2="610.5" y2="1321.5" stroke="#000" stroke-width="5" />
<line x1="198.12" y1="1310" x2="198.12" y2="1316.5" stroke="#000" stroke-width="4" />
<line x1="289.76" y1="1310" x2="289.76" y2="1316.5" stroke="#000" stroke-width="4" />
<line x1="381.4" y1="1310" x2="381.4" y2="1316.5" stroke="#000" stroke-width="4" />
<line x1="473.04" y1="1310" x2="473.04" y2="1316.5" stroke="#000" stroke-width="4" />
<line x1="564.68" y1="1310" x2="564.68" y2="1316.5" stroke="#000" stroke-width="4" />
<line x1="152.3" y1="754.9" x2="140.8" y2="754.9" stroke="#000" stroke-width="5" />
<line x1="152.3" y1="829" x2="140.8" y2="829" stroke="#000" stroke-width="5" />
<line x1="152.3" y1="903.1" x2="140.8" y2="903.1" stroke="#000" stroke-width="5" />
<line x1="152.3" y1="977.2" x2="140.8" y2="977.2" stroke="#000" stroke-width="5" />
<line x1="152.3" y1="1051.3" x2="140.8" y2="1051.3" stroke="#000" stroke-width="5" />
<line x1="152.3" y1="1125.4" x2="140.8" y2="1125.4" stroke="#000" stroke-width="5" />
<line x1="152.3" y1="1199.5" x2="140.8" y2="1199.5" stroke="#000" stroke-width="5" />
<line x1="152.3" y1="1273.6" x2="140.8" y2="1273.6" stroke="#000" stroke-width="5" />
<line x1="152.3" y1="791.95" x2="145.8" y2="791.95" stroke="#000" stroke-width="4" />
<line x1="152.3" y1="866.05" x2="145.8" y2="866.05" stroke="#000" stroke-width="4" />
<line x1="152.3" y1="940.15" x2="145.8" y2="940.15" stroke="#000" stroke-width="4" />
<line x1="152.3" y1="1014.25" x2="145.8" y2="1014.25" stroke="#000" stroke-width="4" />
<line x1="152.3" y1="1088.35" x2="145.8" y2="1088.35" stroke="#000" stroke-width="4" />
<line x1="152.3" y1="1162.45" x2="145.8" y2="1162.45" stroke="#000" stroke-width="4" />
<line x1="152.3" y1="1236.55" x2="145.8" y2="1236.55" stroke="#000" stroke-width="4" />
<line x1="152.3" y1="1310.65" x2="145.8" y2="1310.65" stroke="#000" stroke-width="4" />
<text x="152.3" y="1352" font-size="34" text-anchor="middle" fill="#000" font-family="'Liberation Sans',Arial,sans-serif" font-weight="bold" >-50</text>
<text x="243.94" y="1352" font-size="34" text-anchor="middle" fill="#000" font-family="'Liberation Sans',Arial,sans-serif" font-weight="bold" >-40</text>
<text x="335.58" y="1352" font-size="34" text-anchor="middle" fill="#000" font-family="'Liberation Sans',Arial,sans-serif" font-weight="bold" >-30</text>
<text x="427.22" y="1352" font-size="34" text-anchor="middle" fill="#000" font-family="'Liberation Sans',Arial,sans-serif" font-weight="bold" >-20</text>
<text x="518.86" y="1352" font-size="34" text-anchor="middle" fill="#000" font-family="'Liberation Sans',Arial,sans-serif" font-weight="bold" >-10</text>
<text x="610.5" y="1352" font-size="34" text-anchor="middle" fill="#000" font-family="'Liberation Sans',Arial,sans-serif" font-weight="bold" >0</text>
<text x="138" y="766.9" font-size="34" text-anchor="end" fill="#000" font-family="'Liberation Sans',Arial,sans-serif" font-weight="bold" >0</text>
<text x="138" y="841" font-size="34" text-anchor="end" fill="#000" font-family="'Liberation Sans',Arial,sans-serif" font-weight="bold" >-2</text>
<text x="138" y="915.1" font-size="34" text-anchor="end" fill="#000" font-family="'Liberation Sans',Arial,sans-serif" font-weight="bold" >-4</text>
<text x="138" y="989.2" font-size="34" text-anchor="end" fill="#000" font-family="'Liberation Sans',Arial,sans-serif" font-weight="bold" >-6</text>
<text x="138" y="1063.3" font-size="34" text-anchor="end" fill="#000" font-family="'Liberation Sans',Arial,sans-serif" font-weight="bold" >-8</text>
<text x="138" y="1137.4" font-size="34" text-anchor="end" fill="#000" font-family="'Liberation Sans',Arial,sans-serif" font-weight="bold" >-10</text>
<text x="138" y="1211.5" font-size="34" text-anchor="end" fill="#000" font-family="'Liberation Sans',Arial,sans-serif" font-weight="bold" >-12</text>
<text x="138" y="1285.6" font-size="34" text-anchor="end" fill="#000" font-family="'Liberation Sans',Arial,sans-serif" font-weight="bold" >-14</text>
<text x="382" y="1400" font-size="40" text-anchor="middle" font-family="'Liberation Sans',Arial,sans-serif" font-weight="bold"><tspan font-style="italic">V</tspan><tspan font-size="25" dy="8">DS</tspan><tspan dy="-8"> (V)</tspan></text>
<text transform="translate(88,1029) rotate(-90)" font-size="40" text-anchor="middle" font-family="'Liberation Sans',Arial,sans-serif" font-weight="bold"><tspan font-style="italic">I</tspan><tspan font-size="25" dy="8">DS</tspan><tspan dy="-8"> (mA)</tspan></text>
<polyline points="152.3,764.32 156.07,764.69 159.83,764.98 163.6,764.85 167.36,764.39 171.13,764.07 174.89,764 178.66,764.05 182.43,764.04 186.19,764.29 189.96,764.04 193.72,764.01 197.49,764.35 201.25,764.53 205.02,764.56 208.79,764.53 212.55,764.63 216.32,764.66 220.08,764.3 223.85,764.48 227.61,764.43 231.38,764.27 235.15,764.11 238.91,764.03 242.68,764.27 246.44,764.2 250.21,764.22 253.97,764.71 257.74,764.84 261.51,764.88 265.27,764.65 269.04,764.79 272.8,765.38 276.57,765.07 280.33,765.02 284.1,765.17 287.87,764.87 291.63,764.81 295.4,764.78 299.16,764.95 302.93,765.3 306.69,765.07 310.46,765.01 314.23,764.8 317.99,764.33 321.76,764.04 325.52,763.69 329.29,763.73 333.05,763.59 336.82,763.52 340.59,763.57 344.35,764.04 348.12,764 351.88,763.96 355.65,764.17 359.41,764.11 363.18,764.03 366.95,764.14 370.71,763.8 374.48,763.87 378.24,763.47 382.01,763.32 385.77,763.7 389.54,763.51 393.31,763.82 397.07,763.41 400.84,763.34 404.6,763.25 408.37,762.95 412.13,762.97 415.9,763.51 419.67,763.1 423.43,763.47 427.2,763.39 430.96,763.57 434.73,763.78 438.49,763.85 442.26,763.75 446.03,763.79 449.79,763.69 453.56,764.39 457.32,764.31 461.09,764.43 464.85,764.6 468.62,764.61 472.39,764.56 476.15,764.83 479.92,764.83 483.68,764.55 487.45,764.2 491.21,764.07 494.98,763.6 498.75,763.36 502.51,763.4 506.28,763.45 510.04,763.25 513.81,763.01 517.57,763.08 521.34,763.01 525.11,763.06 528.87,763.29 532.64,763.34 536.4,763.12 540.17,762.99 543.93,762.96 547.7,762.81 551.47,762.68 555.23,762.23 559,761.87 562.76,761.57 566.53,761.27 570.29,760.96 574.06,760.63 577.83,760.25 581.59,759.85 585.36,759.42 589.12,758.97 592.89,758.5 596.65,758 600.42,757.49" fill="none" stroke="#0d4690" stroke-width="4.2" stroke-linejoin="round" stroke-linecap="round" />
<polyline points="152.3,776.71 156.07,776.47 159.83,776.43 163.6,776.68 167.36,777.14 171.13,777.26 174.89,777.15 178.66,777.03 182.43,777.07 186.19,776.87 189.96,776.93 193.72,776.86 197.49,776.44 201.25,776.21 205.02,776.36 208.79,776.19 212.55,776.59 216.32,776.46 220.08,776.57 223.85,776.56 227.61,776.64 231.38,776.77 235.15,776.87 238.91,776.55 242.68,776.84 246.44,776.62 250.21,776.66 253.97,776.86 257.74,776.47 261.51,776.35 265.27,776.58 269.04,776.3 272.8,776.63 276.57,776.42 280.33,776.27 284.1,776.32 287.87,776.16 291.63,776.67 295.4,776.66 299.16,776.66 302.93,777.08 306.69,776.9 310.46,776.77 314.23,776.79 317.99,776.38 321.76,776.17 325.52,776.14 329.29,776.12 333.05,776.16 336.82,776.09 340.59,776.21 344.35,776.31 348.12,776.28 351.88,776.63 355.65,776.82 359.41,776.96 363.18,776.94 366.95,776.53 370.71,776.27 374.48,776.2 378.24,775.89 382.01,775.77 385.77,775.67 389.54,775.63 393.31,775.39 397.07,775.32 400.84,775.33 404.6,775.29 408.37,774.99 412.13,775.05 415.9,775.01 419.67,774.96 423.43,774.75 427.2,774.7 430.96,774.75 434.73,774.36 438.49,774.43 442.26,774.14 446.03,774.33 449.79,774.38 453.56,774.08 457.32,774.03 461.09,773.78 464.85,773.6 468.62,773.87 472.39,773.68 476.15,773.98 479.92,773.5 483.68,773.42 487.45,773.15 491.21,773.43 494.98,773.32 498.75,773 502.51,772.78 506.28,772.38 510.04,771.97 513.81,772.07 517.57,771.76 521.34,771.35 525.11,770.64 528.87,770.36 532.64,770.25 536.4,769.8 540.17,769.72 543.93,769.3 547.7,768.24 551.47,767.47 555.23,767.12 559,766.88 562.76,766.16 566.53,765.44 570.29,764.73 574.06,763.98 577.83,763.2 581.59,762.38 585.36,761.53 589.12,760.65 592.89,759.75 596.65,758.82 600.42,757.86" fill="none" stroke="#0d4690" stroke-width="4.2" stroke-linejoin="round" stroke-linecap="round" />
<polyline points="152.3,791.24 156.07,790.87 159.83,790.99 163.6,791.31 167.36,791.39 171.13,791.56 174.89,791.6 178.66,791.7 182.43,791.57 186.19,791.53 189.96,791.67 193.72,791.41 197.49,791.37 201.25,791.69 205.02,791.47 208.79,791.73 212.55,791.52 216.32,791.77 220.08,791.74 223.85,791.97 227.61,791.65 231.38,791.4 235.15,791.1 238.91,791.09 242.68,790.91 246.44,790.72 250.21,790.37 253.97,790.64 257.74,790.57 261.51,791.01 265.27,791.54 269.04,791.74 272.8,791.64 276.57,791.84 280.33,791.76 284.1,791.88 287.87,791.81 291.63,791.84 295.4,791.72 299.16,791.26 302.93,791.08 306.69,791.34 310.46,791.11 314.23,791.24 317.99,791.45 321.76,790.96 325.52,790.7 329.29,790.47 333.05,790.79 336.82,790.6 340.59,790.32 344.35,790.62 348.12,790.58 351.88,790.7 355.65,790.91 359.41,791.13 363.18,790.81 366.95,790.55 370.71,790.33 374.48,790.09 378.24,789.86 382.01,790.22 385.77,789.9 389.54,789.68 393.31,789.35 397.07,789.47 400.84,789.3 404.6,789.61 408.37,789.61 412.13,788.95 415.9,788.53 419.67,788.65 423.43,788.66 427.2,788.55 430.96,788.41 434.73,788.48 438.49,787.98 442.26,788.14 446.03,788.06 449.79,787.43 453.56,786.59 457.32,786.5 461.09,786.07 464.85,786.31 468.62,785.8 472.39,785.49 476.15,784.96 479.92,784.7 483.68,784.57 487.45,784.22 491.21,783.52 494.98,783.07 498.75,782.4 502.51,782.11 506.28,781.63 510.04,780.83 513.81,780.29 517.57,779.43 521.34,779.07 525.11,778.46 528.87,777.75 532.64,776.73 536.4,775.61 540.17,774.71 543.93,773.54 547.7,772.55 551.47,771.54 555.23,770.31 559,769.52 562.76,768.43 566.53,767.37 570.29,766.34 574.06,765.3 577.83,764.26 581.59,763.21 585.36,762.15 589.12,761.09 592.89,760.02 596.65,758.94 600.42,757.86" fill="none" stroke="#0d4690" stroke-width="4.2" stroke-linejoin="round" stroke-linecap="round" />
<polyline points="152.3,814.51 156.07,814.33 159.83,814.07 163.6,813.77 167.36,813.43 171.13,813.15 174.89,812.98 178.66,813.05 182.43,812.9 186.19,812.24 189.96,811.87 193.72,811.93 197.49,811.96 201.25,812.05 205.02,811.74 208.79,811.59 212.55,811.4 216.32,811.4 220.08,811.46 223.85,811.64 227.61,811.22 231.38,810.94 235.15,810.81 238.91,810.77 242.68,810.74 246.44,810.43 250.21,810.22 253.97,810 257.74,809.52 261.51,809.5 265.27,809.82 269.04,809.81 272.8,809.95 276.57,809.95 280.33,809.97 284.1,809.57 287.87,809.13 291.63,809.23 295.4,808.88 299.16,808.2 302.93,808.16 306.69,807.87 310.46,807.43 314.23,807.06 317.99,807.27 321.76,807.39 325.52,806.91 329.29,806.63 333.05,806.28 336.82,805.9 340.59,805.33 344.35,804.95 348.12,804.93 351.88,804.27 355.65,803.99 359.41,803.78 363.18,803.71 366.95,803.51 370.71,803.11 374.48,803.15 378.24,802.78 382.01,802.19 385.77,802.05 389.54,801.44 393.31,801.25 397.07,800.99 400.84,800.92 404.6,800.84 408.37,800.52 412.13,799.99 415.9,799.78 419.67,799.31 423.43,799.28 427.2,798.88 430.96,798.08 434.73,797.38 438.49,796.77 442.26,796.19 446.03,796.13 449.79,795.59 453.56,795.21 457.32,794.62 461.09,793.9 464.85,793.47 468.62,792.94 472.39,792.25 476.15,791.83 479.92,791.05 483.68,790.36 487.45,789.28 491.21,788.21 494.98,787.25 498.75,786.49 502.51,785.91 506.28,784.74 510.04,783.32 513.81,782.54 517.57,781.35 521.34,780.28 525.11,779.55 528.87,778.4 532.64,777.44 536.4,776.35 540.17,775.32 543.93,774.5 547.7,773.38 551.47,772.26 555.23,771.77 559,770.61 562.76,769.57 566.53,768.5 570.29,767.4 574.06,766.29 577.83,765.14 581.59,763.98 585.36,762.8 589.12,761.59 592.89,760.37 596.65,759.12 600.42,757.86" fill="none" stroke="#0d4690" stroke-width="4.2" stroke-linejoin="round" stroke-linecap="round" />
<polyline points="152.3,835.59 156.07,835.38 159.83,835.59 163.6,835.3 167.36,835.67 171.13,835.83 174.89,835.52 178.66,834.71 182.43,834.38 186.19,834.44 189.96,834.18 193.72,833.76 197.49,833.59 201.25,833.18 205.02,832.91 208.79,832.71 212.55,832.79 216.32,832.37 220.08,831.64 223.85,831.62 227.61,831.58 231.38,831.5 235.15,831.23 238.91,830.76 242.68,830.44 246.44,830.2 250.21,829.97 253.97,830.06 257.74,829.83 261.51,829.72 265.27,829.59 269.04,829.43 272.8,829.52 276.57,829.19 280.33,828.9 284.1,828.89 287.87,828.71 291.63,828.48 295.4,828.07 299.16,827.28 302.93,827.16 306.69,826.5 310.46,826.14 314.23,825.79 317.99,825.4 321.76,824.74 325.52,824.26 329.29,823.61 333.05,823.25 336.82,822.62 340.59,822.32 344.35,821.96 348.12,821.34 351.88,820.58 355.65,820.09 359.41,819.51 363.18,819.26 366.95,818.93 370.71,818.15 374.48,817.64 378.24,817.1 382.01,816.64 385.77,816.11 389.54,815.8 393.31,815.01 397.07,814.41 400.84,813.92 404.6,813.38 408.37,812.31 412.13,811.11 415.9,810.44 419.67,809.83 423.43,808.77 427.2,808.34 430.96,807.25 434.73,806.6 438.49,805.52 442.26,804.71 446.03,804.33 449.79,803.66 453.56,802.6 457.32,801.84 461.09,800.71 464.85,799.83 468.62,798.99 472.39,798.26 476.15,797.4 479.92,796.48 483.68,795.34 487.45,794.76 491.21,793.65 494.98,792.55 498.75,791.54 502.51,790.23 506.28,789.01 510.04,787.82 513.81,786.64 517.57,785.34 521.34,783.78 525.11,782.45 528.87,781.27 532.64,780.13 536.4,778.93 540.17,777.87 543.93,776.78 547.7,775.48 551.47,774.47 555.23,773.42 559,772.57 562.76,771.31 566.53,770.03 570.29,768.74 574.06,767.43 577.83,766.1 581.59,764.77 585.36,763.41 589.12,762.05 592.89,760.67 596.65,759.27 600.42,757.86" fill="none" stroke="#0d4690" stroke-width="4.2" stroke-linejoin="round" stroke-linecap="round" />
<polyline points="152.3,857.08 156.07,857.22 159.83,857.23 163.6,856.59 167.36,856.02 171.13,855.8 174.89,855.04 178.66,854.39 182.43,854.24 186.19,853.9 189.96,853.51 193.72,853.07 197.49,853.11 201.25,852.8 205.02,852.48 208.79,852.32 212.55,851.92 216.32,851.34 220.08,851.11 223.85,850.36 227.61,850.41 231.38,849.73 235.15,849.38 238.91,848.78 242.68,848.41 246.44,847.49 250.21,847.12 253.97,846.55 257.74,846.26 261.51,845.26 265.27,845.21 269.04,844.53 272.8,844.27 276.57,844.31 280.33,844.63 284.1,844.2 287.87,843.82 291.63,843.37 295.4,843 299.16,842.18 302.93,841.98 306.69,841.72 310.46,840.75 314.23,839.88 317.99,839.38 321.76,839.17 325.52,838.81 329.29,838.1 333.05,837.6 336.82,837.1 340.59,836.27 344.35,835.61 348.12,835.23 351.88,834.65 355.65,833.92 359.41,833.04 363.18,832.46 366.95,831.68 370.71,830.7 374.48,829.8 378.24,829.14 382.01,828.25 385.77,827.33 389.54,826.12 393.31,825.21 397.07,824.65 400.84,823.77 404.6,823.07 408.37,822.12 412.13,821.16 415.9,820.13 419.67,819.34 423.43,818.37 427.2,817.13 430.96,816.12 434.73,814.71 438.49,813.47 442.26,812.38 446.03,811.49 449.79,810.16 453.56,808.84 457.32,807.76 461.09,806.65 464.85,805.37 468.62,804.57 472.39,803.6 476.15,802.4 479.92,800.83 483.68,799.78 487.45,798.4 491.21,797.21 494.98,796.12 498.75,794.9 502.51,793.24 506.28,791.84 510.04,790.95 513.81,790.02 517.57,788.61 521.34,787.66 525.11,786.42 528.87,785.1 532.64,783.85 536.4,782.66 540.17,781.04 543.93,779.45 547.7,777.66 551.47,776.63 555.23,775.13 559,773.68 562.76,772.24 566.53,770.8 570.29,769.38 574.06,767.95 577.83,766.52 581.59,765.08 585.36,763.64 589.12,762.2 592.89,760.76 596.65,759.31 600.42,757.86" fill="none" stroke="#0d4690" stroke-width="4.2" stroke-linejoin="round" stroke-linecap="round" />
<polyline points="152.3,756.01 155.18,756.01 158.06,756.01 160.95,756.01 163.83,756.01 166.71,756.01 169.59,756.01 172.47,756.01 175.35,756.01 178.24,756.01 181.12,756.01 184,756.01 186.88,756.01 189.76,756.01 192.64,756.01 195.53,756.01 198.41,756.01 201.29,756.01 204.17,756.01 207.05,756.01 209.94,756.01 212.82,756.01 215.7,756 218.58,756 221.46,756 224.34,756 227.23,756 230.11,756 232.99,755.99 235.87,755.99 238.75,755.99 241.63,755.99 244.52,755.99 247.4,755.98 250.28,755.98 253.16,755.98 256.04,755.98 258.93,755.97 261.81,755.97 264.69,755.97 267.57,755.96 270.45,755.96 273.33,755.96 276.22,755.95 279.1,755.95 281.98,755.95 284.86,755.94 287.74,755.94 290.62,755.94 293.51,755.93 296.39,755.93 299.27,755.92 302.15,755.92 305.03,755.92 307.92,755.91 310.8,755.91 313.68,755.9 316.56,755.9 319.44,755.89 322.32,755.89 325.21,755.88 328.09,755.88 330.97,755.87 333.85,755.87 336.73,755.86 339.61,755.86 342.5,755.85 345.38,755.84 348.26,755.84 351.14,755.83 354.02,755.83 356.91,755.82 359.79,755.81 362.67,755.81 365.55,755.8 368.43,755.79 371.31,755.79 374.2,755.78 377.08,755.77 379.96,755.77 382.84,755.76 385.72,755.75 388.6,755.75 391.49,755.74 394.37,755.73 397.25,755.72 400.13,755.72 403.01,755.71 405.89,755.7 408.78,755.69 411.66,755.69 414.54,755.68 417.42,755.67 420.3,755.66 423.19,755.65 426.07,755.64 428.95,755.64 431.83,755.63 434.71,755.62 437.59,755.61 440.48,755.6 443.36,755.59 446.24,755.58 449.12,755.57 452,755.56 454.88,755.55 457.77,755.54 460.65,755.54 463.53,755.53 466.41,755.52 469.29,755.51 472.18,755.5 475.06,755.49 477.94,755.48 480.82,755.47 483.7,755.45 486.58,755.44 489.47,755.43 492.35,755.42 495.23,755.41 498.11,755.4 500.99,755.39 503.87,755.38 506.76,755.37 509.64,755.36 512.52,755.35 515.4,755.33 518.28,755.32 521.17,755.31 524.05,755.3 526.93,755.29 529.81,755.27 532.69,755.26 535.57,755.25 538.46,755.24 541.34,755.23 544.22,755.21 547.1,755.2 549.98,755.19 552.86,755.18 555.75,755.16 558.63,755.15 561.51,755.14 564.39,755.12 567.27,755.11 570.16,755.1 573.04,755.08 575.92,755.07 578.8,755.06 581.68,755.04 584.56,755.03 587.45,755.01 590.33,755 593.21,754.99 596.09,754.97 598.97,754.96 601.85,754.94 604.74,754.93 607.62,754.91 610.5,754.9" fill="none" stroke="#ff820f" stroke-width="5" stroke-linejoin="round" stroke-linecap="round" />
<polyline points="152.3,794.54 155.18,794.37 158.06,794.21 160.95,794.06 163.83,793.91 166.71,793.77 169.59,793.63 172.47,793.5 175.35,793.38 178.24,793.26 181.12,793.15 184,793.05 186.88,792.95 189.76,792.85 192.64,792.76 195.53,792.68 198.41,792.6 201.29,792.53 204.17,792.46 207.05,792.39 209.94,792.33 212.82,792.28 215.7,792.23 218.58,792.18 221.46,792.14 224.34,792.1 227.23,792.06 230.11,792.03 232.99,792 235.87,791.97 238.75,791.95 241.63,791.93 244.52,791.91 247.4,791.9 250.28,791.89 253.16,791.88 256.04,791.87 258.93,791.87 261.81,791.86 264.69,791.86 267.57,791.86 270.45,791.86 273.33,791.87 276.22,791.87 279.1,791.88 281.98,791.88 284.86,791.89 287.74,791.9 290.62,791.91 293.51,791.91 296.39,791.92 299.27,791.93 302.15,791.94 305.03,791.95 307.92,791.96 310.8,791.97 313.68,791.98 316.56,791.98 319.44,791.99 322.32,791.99 325.21,792 328.09,792 330.97,792 333.85,792 336.73,792 339.61,791.99 342.5,791.99 345.38,791.98 348.26,791.97 351.14,791.95 354.02,791.94 356.91,791.92 359.79,791.9 362.67,791.88 365.55,791.85 368.43,791.82 371.31,791.78 374.2,791.75 377.08,791.7 379.96,791.66 382.84,791.61 385.72,791.56 388.6,791.5 391.49,791.44 394.37,791.37 397.25,791.3 400.13,791.22 403.01,791.14 405.89,791.05 408.78,790.96 411.66,790.87 414.54,790.76 417.42,790.66 420.3,790.54 423.19,790.42 426.07,790.29 428.95,790.16 431.83,790.02 434.71,789.88 437.59,789.73 440.48,789.57 443.36,789.4 446.24,789.23 449.12,789.05 452,788.86 454.88,788.67 457.77,788.46 460.65,788.25 463.53,788.03 466.41,787.81 469.29,787.57 472.18,787.33 475.06,787.08 477.94,786.82 480.82,786.55 483.7,786.27 486.58,785.98 489.47,785.69 492.35,785.38 495.23,785.07 498.11,784.74 500.99,784.41 503.87,784.06 506.76,783.7 509.64,783.34 512.52,782.96 515.4,782.57 518.28,782.18 521.17,781.77 524.05,781.35 526.93,780.92 529.81,780.47 532.69,780.02 535.57,779.55 538.46,779.06 541.34,778.54 544.22,778.01 547.1,777.44 549.98,776.84 552.86,776.21 555.75,775.53 558.63,774.81 561.51,774.05 564.39,773.23 567.27,772.36 570.16,771.44 573.04,770.46 575.92,769.43 578.8,768.36 581.68,767.25 584.56,766.1 587.45,764.92 590.33,763.71 593.21,762.49 596.09,761.24 598.97,759.98 601.85,758.71 604.74,757.44 607.62,756.17 610.5,754.9" fill="none" stroke="#ff820f" stroke-width="5" stroke-linejoin="round" stroke-linecap="round" />
<polyline points="152.3,877.16 155.18,876.95 158.06,876.73 160.95,876.53 163.83,876.33 166.71,876.13 169.59,875.94 172.47,875.75 175.35,875.57 178.24,875.39 181.12,875.22 184,875.05 186.88,874.89 189.76,874.73 192.64,874.57 195.53,874.42 198.41,874.27 201.29,874.13 204.17,873.98 207.05,873.84 209.94,873.71 212.82,873.57 215.7,873.44 218.58,873.31 221.46,873.18 224.34,873.06 227.23,872.93 230.11,872.81 232.99,872.69 235.87,872.57 238.75,872.45 241.63,872.33 244.52,872.21 247.4,872.1 250.28,871.98 253.16,871.87 256.04,871.75 258.93,871.63 261.81,871.52 264.69,871.4 267.57,871.28 270.45,871.16 273.33,871.05 276.22,870.93 279.1,870.8 281.98,870.68 284.86,870.56 287.74,870.43 290.62,870.3 293.51,870.17 296.39,870.04 299.27,869.9 302.15,869.77 305.03,869.63 307.92,869.48 310.8,869.34 313.68,869.19 316.56,869.03 319.44,868.87 322.32,868.71 325.21,868.55 328.09,868.38 330.97,868.21 333.85,868.03 336.73,867.85 339.61,867.66 342.5,867.47 345.38,867.27 348.26,867.07 351.14,866.86 354.02,866.65 356.91,866.43 359.79,866.2 362.67,865.96 365.55,865.72 368.43,865.47 371.31,865.2 374.2,864.93 377.08,864.65 379.96,864.35 382.84,864.04 385.72,863.71 388.6,863.37 391.49,863.01 394.37,862.64 397.25,862.25 400.13,861.84 403.01,861.42 405.89,860.97 408.78,860.51 411.66,860.02 414.54,859.51 417.42,858.98 420.3,858.42 423.19,857.84 426.07,857.24 428.95,856.61 431.83,855.95 434.71,855.27 437.59,854.56 440.48,853.82 443.36,853.06 446.24,852.27 449.12,851.45 452,850.61 454.88,849.74 457.77,848.85 460.65,847.92 463.53,846.97 466.41,846 469.29,845 472.18,843.97 475.06,842.91 477.94,841.83 480.82,840.72 483.7,839.58 486.58,838.41 489.47,837.21 492.35,835.97 495.23,834.7 498.11,833.4 500.99,832.05 503.87,830.66 506.76,829.23 509.64,827.76 512.52,826.24 515.4,824.67 518.28,823.06 521.17,821.39 524.05,819.67 526.93,817.89 529.81,816.06 532.69,814.17 535.57,812.23 538.46,810.23 541.34,808.19 544.22,806.11 547.1,803.99 549.98,801.83 552.86,799.64 555.75,797.43 558.63,795.19 561.51,792.93 564.39,790.65 567.27,788.37 570.16,786.08 573.04,783.78 575.92,781.48 578.8,779.18 581.68,776.89 584.56,774.6 587.45,772.33 590.33,770.07 593.21,767.83 596.09,765.6 598.97,763.4 601.85,761.23 604.74,759.09 607.62,756.98 610.5,754.9" fill="none" stroke="#ff820f" stroke-width="5" stroke-linejoin="round" stroke-linecap="round" />
<polyline points="152.3,973.5 155.18,973.02 158.06,972.55 160.95,972.09 163.83,971.64 166.71,971.19 169.59,970.75 172.47,970.31 175.35,969.88 178.24,969.45 181.12,969.03 184,968.61 186.88,968.19 189.76,967.78 192.64,967.38 195.53,966.97 198.41,966.57 201.29,966.17 204.17,965.77 207.05,965.38 209.94,964.98 212.82,964.59 215.7,964.2 218.58,963.8 221.46,963.41 224.34,963.02 227.23,962.63 230.11,962.23 232.99,961.84 235.87,961.44 238.75,961.04 241.63,960.64 244.52,960.24 247.4,959.84 250.28,959.43 253.16,959.01 256.04,958.6 258.93,958.18 261.81,957.76 264.69,957.33 267.57,956.89 270.45,956.46 273.33,956.01 276.22,955.56 279.1,955.11 281.98,954.64 284.86,954.17 287.74,953.7 290.62,953.21 293.51,952.72 296.39,952.22 299.27,951.71 302.15,951.19 305.03,950.67 307.92,950.13 310.8,949.59 313.68,949.03 316.56,948.47 319.44,947.89 322.32,947.3 325.21,946.7 328.09,946.09 330.97,945.47 333.85,944.84 336.73,944.19 339.61,943.53 342.5,942.86 345.38,942.17 348.26,941.47 351.14,940.76 354.02,940.03 356.91,939.28 359.79,938.53 362.67,937.75 365.55,936.97 368.43,936.17 371.31,935.35 374.2,934.52 377.08,933.68 379.96,932.82 382.84,931.95 385.72,931.06 388.6,930.16 391.49,929.25 394.37,928.32 397.25,927.38 400.13,926.43 403.01,925.46 405.89,924.47 408.78,923.48 411.66,922.47 414.54,921.45 417.42,920.41 420.3,919.36 423.19,918.3 426.07,917.22 428.95,916.13 431.83,915.03 434.71,913.91 437.59,912.78 440.48,911.63 443.36,910.47 446.24,909.3 449.12,908.1 452,906.9 454.88,905.67 457.77,904.43 460.65,903.17 463.53,901.9 466.41,900.6 469.29,899.29 472.18,897.96 475.06,896.61 477.94,895.24 480.82,893.85 483.7,892.43 486.58,890.97 489.47,889.48 492.35,887.93 495.23,886.32 498.11,884.65 500.99,882.9 503.87,881.07 506.76,879.14 509.64,877.11 512.52,874.98 515.4,872.73 518.28,870.35 521.17,867.84 524.05,865.19 526.93,862.39 529.81,859.43 532.69,856.31 535.57,853.04 538.46,849.63 541.34,846.1 544.22,842.47 547.1,838.75 549.98,834.95 552.86,831.09 555.75,827.19 558.63,823.25 561.51,819.31 564.39,815.36 567.27,811.43 570.16,807.53 573.04,803.65 575.92,799.81 578.8,795.99 581.68,792.19 584.56,788.41 587.45,784.65 590.33,780.9 593.21,777.17 596.09,773.45 598.97,769.73 601.85,766.02 604.74,762.31 607.62,758.61 610.5,754.9" fill="none" stroke="#ff820f" stroke-width="5" stroke-linejoin="round" stroke-linecap="round" />
<polyline points="152.3,1060.56 155.18,1059.91 158.06,1059.26 160.95,1058.62 163.83,1057.99 166.71,1057.36 169.59,1056.74 172.47,1056.12 175.35,1055.51 178.24,1054.9 181.12,1054.29 184,1053.69 186.88,1053.09 189.76,1052.49 192.64,1051.89 195.53,1051.29 198.41,1050.7 201.29,1050.1 204.17,1049.5 207.05,1048.9 209.94,1048.3 212.82,1047.7 215.7,1047.1 218.58,1046.49 221.46,1045.88 224.34,1045.26 227.23,1044.64 230.11,1044.02 232.99,1043.39 235.87,1042.75 238.75,1042.11 241.63,1041.46 244.52,1040.8 247.4,1040.13 250.28,1039.46 253.16,1038.78 256.04,1038.09 258.93,1037.39 261.81,1036.68 264.69,1035.95 267.57,1035.22 270.45,1034.47 273.33,1033.72 276.22,1032.95 279.1,1032.16 281.98,1031.37 284.86,1030.56 287.74,1029.73 290.62,1028.89 293.51,1028.03 296.39,1027.16 299.27,1026.27 302.15,1025.37 305.03,1024.44 307.92,1023.5 310.8,1022.54 313.68,1021.56 316.56,1020.56 319.44,1019.54 322.32,1018.51 325.21,1017.45 328.09,1016.36 330.97,1015.26 333.85,1014.14 336.73,1012.99 339.61,1011.82 342.5,1010.62 345.38,1009.4 348.26,1008.16 351.14,1006.89 354.02,1005.59 356.91,1004.27 359.79,1002.92 362.67,1001.55 365.55,1000.15 368.43,998.72 371.31,997.27 374.2,995.79 377.08,994.29 379.96,992.75 382.84,991.2 385.72,989.61 388.6,988 391.49,986.36 394.37,984.69 397.25,983 400.13,981.28 403.01,979.53 405.89,977.75 408.78,975.95 411.66,974.12 414.54,972.26 417.42,970.38 420.3,968.46 423.19,966.52 426.07,964.55 428.95,962.55 431.83,960.53 434.71,958.47 437.59,956.39 440.48,954.27 443.36,952.12 446.24,949.93 449.12,947.71 452,945.45 454.88,943.16 457.77,940.82 460.65,938.45 463.53,936.03 466.41,933.57 469.29,931.07 472.18,928.52 475.06,925.93 477.94,923.29 480.82,920.6 483.7,917.87 486.58,915.08 489.47,912.24 492.35,909.35 495.23,906.41 498.11,903.42 500.99,900.37 503.87,897.27 506.76,894.12 509.64,890.91 512.52,887.64 515.4,884.32 518.28,880.94 521.17,877.51 524.05,874.01 526.93,870.46 529.81,866.85 532.69,863.18 535.57,859.45 538.46,855.67 541.34,851.85 544.22,847.99 547.1,844.09 549.98,840.16 552.86,836.21 555.75,832.24 558.63,828.25 561.51,824.25 564.39,820.25 567.27,816.25 570.16,812.25 573.04,808.25 575.92,804.26 578.8,800.26 581.68,796.25 584.56,792.22 587.45,788.19 590.33,784.13 593.21,780.05 596.09,775.94 598.97,771.81 601.85,767.64 604.74,763.43 607.62,759.19 610.5,754.9" fill="none" stroke="#ff820f" stroke-width="5" stroke-linejoin="round" stroke-linecap="round" />
<polyline points="152.3,1130.96 155.18,1130.24 158.06,1129.52 160.95,1128.79 163.83,1128.06 166.71,1127.33 169.59,1126.59 172.47,1125.84 175.35,1125.09 178.24,1124.34 181.12,1123.58 184,1122.81 186.88,1122.04 189.76,1121.26 192.64,1120.47 195.53,1119.68 198.41,1118.88 201.29,1118.07 204.17,1117.25 207.05,1116.43 209.94,1115.59 212.82,1114.75 215.7,1113.9 218.58,1113.03 221.46,1112.16 224.34,1111.28 227.23,1110.39 230.11,1109.48 232.99,1108.57 235.87,1107.64 238.75,1106.7 241.63,1105.75 244.52,1104.79 247.4,1103.81 250.28,1102.83 253.16,1101.82 256.04,1100.81 258.93,1099.78 261.81,1098.74 264.69,1097.68 267.57,1096.61 270.45,1095.52 273.33,1094.42 276.22,1093.3 279.1,1092.16 281.98,1091.01 284.86,1089.85 287.74,1088.66 290.62,1087.46 293.51,1086.24 296.39,1085.01 299.27,1083.75 302.15,1082.48 305.03,1081.19 307.92,1079.88 310.8,1078.55 313.68,1077.2 316.56,1075.84 319.44,1074.45 322.32,1073.04 325.21,1071.61 328.09,1070.16 330.97,1068.69 333.85,1067.19 336.73,1065.68 339.61,1064.14 342.5,1062.58 345.38,1061 348.26,1059.39 351.14,1057.76 354.02,1056.11 356.91,1054.43 359.79,1052.73 362.67,1051 365.55,1049.25 368.43,1047.47 371.31,1045.67 374.2,1043.83 377.08,1041.97 379.96,1040.08 382.84,1038.17 385.72,1036.22 388.6,1034.24 391.49,1032.24 394.37,1030.2 397.25,1028.13 400.13,1026.03 403.01,1023.9 405.89,1021.74 408.78,1019.54 411.66,1017.31 414.54,1015.04 417.42,1012.74 420.3,1010.41 423.19,1008.03 426.07,1005.63 428.95,1003.18 431.83,1000.7 434.71,998.18 437.59,995.63 440.48,993.04 443.36,990.42 446.24,987.76 449.12,985.06 452,982.34 454.88,979.57 457.77,976.78 460.65,973.95 463.53,971.1 466.41,968.21 469.29,965.29 472.18,962.33 475.06,959.35 477.94,956.34 480.82,953.3 483.7,950.23 486.58,947.11 489.47,943.96 492.35,940.75 495.23,937.5 498.11,934.18 500.99,930.8 503.87,927.35 506.76,923.83 509.64,920.23 512.52,916.55 515.4,912.78 518.28,908.92 521.17,904.95 524.05,900.89 526.93,896.71 529.81,892.43 532.69,888.02 535.57,883.51 538.46,878.89 541.34,874.19 544.22,869.4 547.1,864.54 549.98,859.62 552.86,854.64 555.75,849.62 558.63,844.56 561.51,839.48 564.39,834.38 567.27,829.28 570.16,824.17 573.04,819.07 575.92,813.98 578.8,808.9 581.68,803.84 584.56,798.8 587.45,793.78 590.33,788.79 593.21,783.83 596.09,778.9 598.97,774.01 601.85,769.16 604.74,764.36 607.62,759.6 610.5,754.9" fill="none" stroke="#ff820f" stroke-width="5" stroke-linejoin="round" stroke-linecap="round" />
<polyline points="152.3,1186.53 155.18,1185.68 158.06,1184.82 160.95,1183.96 163.83,1183.09 166.71,1182.22 169.59,1181.34 172.47,1180.45 175.35,1179.56 178.24,1178.65 181.12,1177.74 184,1176.82 186.88,1175.9 189.76,1174.96 192.64,1174.02 195.53,1173.06 198.41,1172.1 201.29,1171.12 204.17,1170.14 207.05,1169.14 209.94,1168.14 212.82,1167.12 215.7,1166.09 218.58,1165.05 221.46,1163.99 224.34,1162.92 227.23,1161.84 230.11,1160.75 232.99,1159.64 235.87,1158.52 238.75,1157.39 241.63,1156.23 244.52,1155.07 247.4,1153.89 250.28,1152.69 253.16,1151.48 256.04,1150.25 258.93,1149.01 261.81,1147.74 264.69,1146.46 267.57,1145.17 270.45,1143.85 273.33,1142.52 276.22,1141.17 279.1,1139.79 281.98,1138.4 284.86,1136.99 287.74,1135.57 290.62,1134.12 293.51,1132.65 296.39,1131.15 299.27,1129.64 302.15,1128.11 305.03,1126.55 307.92,1124.97 310.8,1123.37 313.68,1121.74 316.56,1120.09 319.44,1118.42 322.32,1116.71 325.21,1114.98 328.09,1113.22 330.97,1111.43 333.85,1109.61 336.73,1107.76 339.61,1105.88 342.5,1103.96 345.38,1102.01 348.26,1100.03 351.14,1098.01 354.02,1095.96 356.91,1093.87 359.79,1091.74 362.67,1089.58 365.55,1087.37 368.43,1085.13 371.31,1082.85 374.2,1080.52 377.08,1078.15 379.96,1075.74 382.84,1073.29 385.72,1070.79 388.6,1068.25 391.49,1065.66 394.37,1063.04 397.25,1060.37 400.13,1057.65 403.01,1054.9 405.89,1052.1 408.78,1049.26 411.66,1046.37 414.54,1043.45 417.42,1040.48 420.3,1037.47 423.19,1034.41 426.07,1031.32 428.95,1028.18 431.83,1025 434.71,1021.78 437.59,1018.52 440.48,1015.22 443.36,1011.88 446.24,1008.5 449.12,1005.09 452,1001.63 454.88,998.15 457.77,994.63 460.65,991.07 463.53,987.49 466.41,983.87 469.29,980.22 472.18,976.54 475.06,972.83 477.94,969.09 480.82,965.32 483.7,961.53 486.58,957.7 489.47,953.84 492.35,949.94 495.23,946.01 498.11,942.03 500.99,938.01 503.87,933.95 506.76,929.84 509.64,925.68 512.52,921.47 515.4,917.21 518.28,912.89 521.17,908.52 524.05,904.08 526.93,899.58 529.81,895.02 532.69,890.4 535.57,885.71 538.46,880.96 541.34,876.17 544.22,871.32 547.1,866.44 549.98,861.52 552.86,856.56 555.75,851.58 558.63,846.58 561.51,841.56 564.39,836.53 567.27,831.5 570.16,826.45 573.04,821.41 575.92,816.36 578.8,811.31 581.68,806.25 584.56,801.18 587.45,796.1 590.33,791 593.21,785.9 596.09,780.78 598.97,775.64 601.85,770.49 604.74,765.31 607.62,760.12 610.5,754.9" fill="none" stroke="#ff820f" stroke-width="5" stroke-linejoin="round" stroke-linecap="round" />
<rect x="152.3" y="749.2" width="459.9" height="560.8" fill="none" stroke="#000" stroke-width="5" stroke-linejoin="miter"/>
<path d="M293,812 C286,840 285,870 295,892 C306,914 325,932 355,950" fill="none" stroke="#0d4690" stroke-width="3.6"/>
<path d="M370.5,957.5 L352.5,942.5 L347.4,954.6 Z" fill="#0d4690" stroke="#0d4690" stroke-width="1.5" stroke-linejoin="round"/>
<text x="521" y="1077" font-size="35.5" text-anchor="middle" fill="#111827" font-family="'Liberation Serif','Times New Roman',serif" font-weight="bold" >10V</text>
<line x1="512.6" y1="1088" x2="512.6" y2="1140" stroke="#111827" stroke-width="2.6" />
<path d="M507,1135 L518,1135 L512.6,1151 Z" fill="#111827"/>
<text x="515" y="1186" font-size="35.5" text-anchor="middle" fill="#111827" font-family="'Liberation Serif','Times New Roman',serif" font-weight="bold" >-50V</text>
<text x="594" y="1232.5" font-size="31.5" text-anchor="end" fill="#111827" font-family="'Liberation Sans',Arial,sans-serif" font-weight="bold" >step=-10 V</text>
<line x1="163" y1="1248.8" x2="228" y2="1248.8" stroke="#0d4690" stroke-width="5" stroke-linecap="round"/>
<line x1="163" y1="1283.2" x2="228" y2="1283.2" stroke="#ff820f" stroke-width="5" stroke-linecap="round"/>
<text x="236" y="1258" font-size="31.5" text-anchor="start" fill="#000" font-family="'Liberation Sans',Arial,sans-serif" font-weight="bold" >PEAI</text>
<text x="236" y="1292.5" font-size="32" text-anchor="start" fill="#000" font-family="'Liberation Sans',Arial,sans-serif" font-weight="bold" >PEASCN-FAHCOO</text>
<text x="692.9" y="736" font-size="50" text-anchor="start" fill="#000" font-family="'Liberation Serif','Times New Roman',serif" font-weight="bold" >e</text>
<line x1="860.9" y1="1310.4" x2="860.9" y2="1321.9" stroke="#000" stroke-width="5" />
<line x1="953" y1="1310.4" x2="953" y2="1321.9" stroke="#000" stroke-width="5" />
<line x1="1045.1" y1="1310.4" x2="1045.1" y2="1321.9" stroke="#000" stroke-width="5" />
<line x1="1137.2" y1="1310.4" x2="1137.2" y2="1321.9" stroke="#000" stroke-width="5" />
<line x1="1229.3" y1="1310.4" x2="1229.3" y2="1321.9" stroke="#000" stroke-width="5" />
<line x1="814.85" y1="1310.4" x2="814.85" y2="1316.9" stroke="#000" stroke-width="4" />
<line x1="906.95" y1="1310.4" x2="906.95" y2="1316.9" stroke="#000" stroke-width="4" />
<line x1="999.05" y1="1310.4" x2="999.05" y2="1316.9" stroke="#000" stroke-width="4" />
<line x1="1091.15" y1="1310.4" x2="1091.15" y2="1316.9" stroke="#000" stroke-width="4" />
<line x1="1183.25" y1="1310.4" x2="1183.25" y2="1316.9" stroke="#000" stroke-width="4" />
<line x1="1275.35" y1="1310.4" x2="1275.35" y2="1316.9" stroke="#000" stroke-width="4" />
<line x1="815.8" y1="1292.3" x2="804.3" y2="1292.3" stroke="#000" stroke-width="5" />
<line x1="815.8" y1="1110.56" x2="804.3" y2="1110.56" stroke="#000" stroke-width="5" />
<line x1="815.8" y1="928.82" x2="804.3" y2="928.82" stroke="#000" stroke-width="5" />
<line x1="815.8" y1="747.08" x2="804.3" y2="747.08" stroke="#000" stroke-width="5" />
<line x1="815.8" y1="1201.43" x2="809.3" y2="1201.43" stroke="#000" stroke-width="4" />
<line x1="815.8" y1="1019.69" x2="809.3" y2="1019.69" stroke="#000" stroke-width="4" />
<line x1="815.8" y1="837.95" x2="809.3" y2="837.95" stroke="#000" stroke-width="4" />
<text x="860.9" y="1352" font-size="34" text-anchor="middle" fill="#000" font-family="'Liberation Sans',Arial,sans-serif" font-weight="bold" >-40</text>
<text x="953" y="1352" font-size="34" text-anchor="middle" fill="#000" font-family="'Liberation Sans',Arial,sans-serif" font-weight="bold" >-20</text>
<text x="1045.1" y="1352" font-size="34" text-anchor="middle" fill="#000" font-family="'Liberation Sans',Arial,sans-serif" font-weight="bold" >0</text>
<text x="1137.2" y="1352" font-size="34" text-anchor="middle" fill="#000" font-family="'Liberation Sans',Arial,sans-serif" font-weight="bold" >20</text>
<text x="1229.3" y="1352" font-size="34" text-anchor="middle" fill="#000" font-family="'Liberation Sans',Arial,sans-serif" font-weight="bold" >40</text>
<text x="800" y="1304.3" font-size="34" text-anchor="end" fill="#000" font-family="'Liberation Sans',Arial,sans-serif" font-weight="bold" >0</text>
<text x="800" y="1122.56" font-size="34" text-anchor="end" fill="#000" font-family="'Liberation Sans',Arial,sans-serif" font-weight="bold" >20</text>
<text x="800" y="940.82" font-size="34" text-anchor="end" fill="#000" font-family="'Liberation Sans',Arial,sans-serif" font-weight="bold" >40</text>
<text x="800" y="759.08" font-size="34" text-anchor="end" fill="#000" font-family="'Liberation Sans',Arial,sans-serif" font-weight="bold" >60</text>
<text x="1045" y="1400" font-size="40" text-anchor="middle" font-family="'Liberation Sans',Arial,sans-serif" font-weight="bold"><tspan font-style="italic">V</tspan><tspan font-size="25" dy="8">GS</tspan><tspan dy="-8"> (V)</tspan></text>
<text transform="translate(742,1030) rotate(-90)" font-size="40" text-anchor="middle" font-family="'Liberation Sans',Arial,sans-serif" font-weight="bold">Mobility (cm<tspan font-size="25" dy="-14">2</tspan><tspan dy="14"> V</tspan><tspan font-size="25" dy="-14">-1</tspan><tspan dy="14"> s</tspan><tspan font-size="25" dy="-14">-1</tspan><tspan dy="14">)</tspan></text>
<polyline points="860.9,1228.87 870.11,1228.15 879.32,1227.06 888.53,1225.97 897.74,1225.25 906.95,1224.16 916.16,1223.44 925.37,1222.71 934.58,1222.35 943.79,1221.99 953,1221.63 962.21,1221.63 971.42,1221.63 980.63,1221.99 989.84,1222.35 999.05,1223.07 1008.26,1224.16 1017.47,1225.25 1026.68,1227.06 1035.89,1229.6 1045.1,1232.49 1054.31,1235.39 1063.52,1237.93 1072.73,1241.55 1081.94,1246.26 1091.15,1251.33 1100.36,1257.13 1109.57,1263.28 1118.78,1269.44 1127.99,1277.77 1137.2,1285.02 1146.41,1292.26 1155.62,1292.26 1164.83,1292.26 1174.04,1292.26 1183.25,1292.26 1192.46,1292.26 1201.67,1292.26 1210.88,1292.26 1220.09,1292.26 1229.3,1292.26" fill="none" stroke="#2c5cb4" stroke-width="3" stroke-linejoin="round" stroke-linecap="round" />
<circle cx="860.9" cy="1228.87" r="6.3" fill="url(#bR)"/>
<circle cx="870.11" cy="1228.15" r="6.3" fill="url(#bR)"/>
<circle cx="879.32" cy="1227.06" r="6.3" fill="url(#bR)"/>
<circle cx="888.53" cy="1225.97" r="6.3" fill="url(#bR)"/>
<circle cx="897.74" cy="1225.25" r="6.3" fill="url(#bR)"/>
<circle cx="906.95" cy="1224.16" r="6.3" fill="url(#bR)"/>
<circle cx="916.16" cy="1223.44" r="6.3" fill="url(#bR)"/>
<circle cx="925.37" cy="1222.71" r="6.3" fill="url(#bR)"/>
<circle cx="934.58" cy="1222.35" r="6.3" fill="url(#bR)"/>
<circle cx="943.79" cy="1221.99" r="6.3" fill="url(#bR)"/>
<circle cx="953" cy="1221.63" r="6.3" fill="url(#bR)"/>
<circle cx="962.21" cy="1221.63" r="6.3" fill="url(#bR)"/>
<circle cx="971.42" cy="1221.63" r="6.3" fill="url(#bR)"/>
<circle cx="980.63" cy="1221.99" r="6.3" fill="url(#bR)"/>
<circle cx="989.84" cy="1222.35" r="6.3" fill="url(#bR)"/>
<circle cx="999.05" cy="1223.07" r="6.3" fill="url(#bR)"/>
<circle cx="1008.26" cy="1224.16" r="6.3" fill="url(#bR)"/>
<circle cx="1017.47" cy="1225.25" r="6.3" fill="url(#bR)"/>
<circle cx="1026.68" cy="1227.06" r="6.3" fill="url(#bR)"/>
<circle cx="1035.89" cy="1229.6" r="6.3" fill="url(#bR)"/>
<circle cx="1045.1" cy="1232.49" r="6.3" fill="url(#bR)"/>
<circle cx="1054.31" cy="1235.39" r="6.3" fill="url(#bR)"/>
<circle cx="1063.52" cy="1237.93" r="6.3" fill="url(#bR)"/>
<circle cx="1072.73" cy="1241.55" r="6.3" fill="url(#bR)"/>
<circle cx="1081.94" cy="1246.26" r="6.3" fill="url(#bR)"/>
<circle cx="1091.15" cy="1251.33" r="6.3" fill="url(#bR)"/>
<circle cx="1100.36" cy="1257.13" r="6.3" fill="url(#bR)"/>
<circle cx="1109.57" cy="1263.28" r="6.3" fill="url(#bR)"/>
<circle cx="1118.78" cy="1269.44" r="6.3" fill="url(#bR)"/>
<circle cx="1127.99" cy="1277.77" r="6.3" fill="url(#bR)"/>
<circle cx="1137.2" cy="1285.02" r="6.3" fill="url(#bR)"/>
<circle cx="1146.41" cy="1292.26" r="6.3" fill="url(#bR)"/>
<circle cx="1155.62" cy="1292.26" r="6.3" fill="url(#bR)"/>
<circle cx="1164.83" cy="1292.26" r="6.3" fill="url(#bR)"/>
<circle cx="1174.04" cy="1292.26" r="6.3" fill="url(#bR)"/>
<circle cx="1183.25" cy="1292.26" r="6.3" fill="url(#bR)"/>
<circle cx="1192.46" cy="1292.26" r="6.3" fill="url(#bR)"/>
<circle cx="1201.67" cy="1292.26" r="6.3" fill="url(#bR)"/>
<circle cx="1210.88" cy="1292.26" r="6.3" fill="url(#bR)"/>
<circle cx="1220.09" cy="1292.26" r="6.3" fill="url(#bR)"/>
<circle cx="1229.3" cy="1292.26" r="6.3" fill="url(#bR)"/>
<polyline points="860.9,955.38 870.11,946.32 879.32,938.35 888.53,930.02 897.74,921.69 906.95,914.45 916.16,908.29 925.37,902.85 934.58,899.23 943.79,896.7 953,897.42 962.21,899.96 971.42,905.75 980.63,913.72 989.84,924.59 999.05,937.27 1008.26,953.57 1017.47,975.3 1026.68,1005.37 1035.89,1028.91 1045.1,1071.3 1054.31,1292.26 1063.52,1292.26 1072.73,1292.26 1081.94,1292.26 1091.15,1292.26 1100.36,1292.26 1109.57,1292.26 1118.78,1292.26 1127.99,1292.26 1137.2,1292.26 1146.41,1292.26 1155.62,1292.26 1164.83,1292.26 1174.04,1292.26 1183.25,1292.26 1192.46,1292.26 1201.67,1292.26 1210.88,1292.26 1220.09,1292.26 1229.3,1292.26" fill="none" stroke="#ff820f" stroke-width="3" stroke-linejoin="round" stroke-linecap="round" />
<circle cx="860.9" cy="955.38" r="6.3" fill="url(#bO)"/>
<circle cx="870.11" cy="946.32" r="6.3" fill="url(#bO)"/>
<circle cx="879.32" cy="938.35" r="6.3" fill="url(#bO)"/>
<circle cx="888.53" cy="930.02" r="6.3" fill="url(#bO)"/>
<circle cx="897.74" cy="921.69" r="6.3" fill="url(#bO)"/>
<circle cx="906.95" cy="914.45" r="6.3" fill="url(#bO)"/>
<circle cx="916.16" cy="908.29" r="6.3" fill="url(#bO)"/>
<circle cx="925.37" cy="902.85" r="6.3" fill="url(#bO)"/>
<circle cx="934.58" cy="899.23" r="6.3" fill="url(#bO)"/>
<circle cx="943.79" cy="896.7" r="6.3" fill="url(#bO)"/>
<circle cx="953" cy="897.42" r="6.3" fill="url(#bO)"/>
<circle cx="962.21" cy="899.96" r="6.3" fill="url(#bO)"/>
<circle cx="971.42" cy="905.75" r="6.3" fill="url(#bO)"/>
<circle cx="980.63" cy="913.72" r="6.3" fill="url(#bO)"/>
<circle cx="989.84" cy="924.59" r="6.3" fill="url(#bO)"/>
<circle cx="999.05" cy="937.27" r="6.3" fill="url(#bO)"/>
<circle cx="1008.26" cy="953.57" r="6.3" fill="url(#bO)"/>
<circle cx="1017.47" cy="975.3" r="6.3" fill="url(#bO)"/>
<circle cx="1026.68" cy="1005.37" r="6.3" fill="url(#bO)"/>
<circle cx="1035.89" cy="1028.91" r="6.3" fill="url(#bO)"/>
<circle cx="1045.1" cy="1071.3" r="6.3" fill="url(#bO)"/>
<circle cx="1054.31" cy="1292.26" r="6.3" fill="url(#bO)"/>
<circle cx="1063.52" cy="1292.26" r="6.3" fill="url(#bO)"/>
<circle cx="1072.73" cy="1292.26" r="6.3" fill="url(#bO)"/>
<circle cx="1081.94" cy="1292.26" r="6.3" fill="url(#bO)"/>
<circle cx="1091.15" cy="1292.26" r="6.3" fill="url(#bO)"/>
<circle cx="1100.36" cy="1292.26" r="6.3" fill="url(#bO)"/>
<circle cx="1109.57" cy="1292.26" r="6.3" fill="url(#bO)"/>
<circle cx="1118.78" cy="1292.26" r="6.3" fill="url(#bO)"/>
<circle cx="1127.99" cy="1292.26" r="6.3" fill="url(#bO)"/>
<circle cx="1137.2" cy="1292.26" r="6.3" fill="url(#bO)"/>
<circle cx="1146.41" cy="1292.26" r="6.3" fill="url(#bO)"/>
<circle cx="1155.62" cy="1292.26" r="6.3" fill="url(#bO)"/>
<circle cx="1164.83" cy="1292.26" r="6.3" fill="url(#bO)"/>
<circle cx="1174.04" cy="1292.26" r="6.3" fill="url(#bO)"/>
<circle cx="1183.25" cy="1292.26" r="6.3" fill="url(#bO)"/>
<circle cx="1192.46" cy="1292.26" r="6.3" fill="url(#bO)"/>
<circle cx="1201.67" cy="1292.26" r="6.3" fill="url(#bO)"/>
<circle cx="1210.88" cy="1292.26" r="6.3" fill="url(#bO)"/>
<circle cx="1220.09" cy="1292.26" r="6.3" fill="url(#bO)"/>
<circle cx="1229.3" cy="1292.26" r="6.3" fill="url(#bO)"/>
<rect x="815.8" y="747.1" width="460" height="563.3" fill="none" stroke="#000" stroke-width="5" stroke-linejoin="miter"/>
<line x1="911" y1="776.8" x2="962" y2="776.8" stroke="#2c5cb4" stroke-width="3.5" />
<circle cx="936" cy="776.8" r="5.5" fill="url(#bR)"/>
<line x1="911" y1="817.7" x2="962" y2="817.7" stroke="#ff820f" stroke-width="3.5" />
<circle cx="936" cy="817.7" r="5.5" fill="url(#bO)"/>
<text x="970" y="786.5" font-size="31.5" text-anchor="start" fill="#000" font-family="'Liberation Sans',Arial,sans-serif" font-weight="bold" >PEAI</text>
<text x="972" y="826.5" font-size="32" text-anchor="start" fill="#000" font-family="'Liberation Sans',Arial,sans-serif" font-weight="bold" >PEASCN-FAHCOO</text>
<text x="1366" y="734.8" font-size="50" text-anchor="start" fill="#000" font-family="'Liberation Serif','Times New Roman',serif" font-weight="bold" >f</text>
<line x1="1510.4" y1="1309.7" x2="1510.4" y2="1321.2" stroke="#000" stroke-width="5" />
<line x1="1625.3" y1="1309.7" x2="1625.3" y2="1321.2" stroke="#000" stroke-width="5" />
<line x1="1740.2" y1="1309.7" x2="1740.2" y2="1321.2" stroke="#000" stroke-width="5" />
<line x1="1855.1" y1="1309.7" x2="1855.1" y2="1321.2" stroke="#000" stroke-width="5" />
<line x1="1970" y1="1309.7" x2="1970" y2="1321.2" stroke="#000" stroke-width="5" />
<line x1="1567.85" y1="1309.7" x2="1567.85" y2="1316.2" stroke="#000" stroke-width="4" />
<line x1="1682.75" y1="1309.7" x2="1682.75" y2="1316.2" stroke="#000" stroke-width="4" />
<line x1="1797.65" y1="1309.7" x2="1797.65" y2="1316.2" stroke="#000" stroke-width="4" />
<line x1="1912.55" y1="1309.7" x2="1912.55" y2="1316.2" stroke="#000" stroke-width="4" />
<line x1="1510.4" y1="1309.7" x2="1498.9" y2="1309.7" stroke="#000" stroke-width="5" />
<line x1="1510.4" y1="1253.49" x2="1498.9" y2="1253.49" stroke="#000" stroke-width="5" />
<line x1="1510.4" y1="1197.28" x2="1498.9" y2="1197.28" stroke="#000" stroke-width="5" />
<line x1="1510.4" y1="1141.07" x2="1498.9" y2="1141.07" stroke="#000" stroke-width="5" />
<line x1="1510.4" y1="1084.86" x2="1498.9" y2="1084.86" stroke="#000" stroke-width="5" />
<line x1="1510.4" y1="1028.65" x2="1498.9" y2="1028.65" stroke="#000" stroke-width="5" />
<line x1="1510.4" y1="972.44" x2="1498.9" y2="972.44" stroke="#000" stroke-width="5" />
<line x1="1510.4" y1="916.23" x2="1498.9" y2="916.23" stroke="#000" stroke-width="5" />
<line x1="1510.4" y1="860.02" x2="1498.9" y2="860.02" stroke="#000" stroke-width="5" />
<line x1="1510.4" y1="803.81" x2="1498.9" y2="803.81" stroke="#000" stroke-width="5" />
<line x1="1510.4" y1="747.6" x2="1498.9" y2="747.6" stroke="#000" stroke-width="5" />
<line x1="1510.4" y1="1281.6" x2="1503.9" y2="1281.6" stroke="#000" stroke-width="4" />
<line x1="1510.4" y1="1225.38" x2="1503.9" y2="1225.38" stroke="#000" stroke-width="4" />
<line x1="1510.4" y1="1169.17" x2="1503.9" y2="1169.17" stroke="#000" stroke-width="4" />
<line x1="1510.4" y1="1112.97" x2="1503.9" y2="1112.97" stroke="#000" stroke-width="4" />
<line x1="1510.4" y1="1056.76" x2="1503.9" y2="1056.76" stroke="#000" stroke-width="4" />
<line x1="1510.4" y1="1000.55" x2="1503.9" y2="1000.55" stroke="#000" stroke-width="4" />
<line x1="1510.4" y1="944.34" x2="1503.9" y2="944.34" stroke="#000" stroke-width="4" />
<line x1="1510.4" y1="888.12" x2="1503.9" y2="888.12" stroke="#000" stroke-width="4" />
<line x1="1510.4" y1="831.91" x2="1503.9" y2="831.91" stroke="#000" stroke-width="4" />
<line x1="1510.4" y1="775.71" x2="1503.9" y2="775.71" stroke="#000" stroke-width="4" />
<text x="1510.4" y="1352" font-size="34" text-anchor="middle" fill="#000" font-family="'Liberation Sans',Arial,sans-serif" font-weight="bold" >0</text>
<text x="1625.3" y="1352" font-size="34" text-anchor="middle" fill="#000" font-family="'Liberation Sans',Arial,sans-serif" font-weight="bold" >100</text>
<text x="1740.2" y="1352" font-size="34" text-anchor="middle" fill="#000" font-family="'Liberation Sans',Arial,sans-serif" font-weight="bold" >200</text>
<text x="1855.1" y="1352" font-size="34" text-anchor="middle" fill="#000" font-family="'Liberation Sans',Arial,sans-serif" font-weight="bold" >300</text>
<text x="1970" y="1352" font-size="34" text-anchor="middle" fill="#000" font-family="'Liberation Sans',Arial,sans-serif" font-weight="bold" >400</text>
<text x="1492" y="1321.7" font-size="34" text-anchor="end" fill="#000" font-family="'Liberation Sans',Arial,sans-serif" font-weight="bold" >0</text>
<text x="1492" y="1265.49" font-size="34" text-anchor="end" fill="#000" font-family="'Liberation Sans',Arial,sans-serif" font-weight="bold" >200</text>
<text x="1492" y="1209.28" font-size="34" text-anchor="end" fill="#000" font-family="'Liberation Sans',Arial,sans-serif" font-weight="bold" >400</text>
<text x="1492" y="1153.07" font-size="34" text-anchor="end" fill="#000" font-family="'Liberation Sans',Arial,sans-serif" font-weight="bold" >600</text>
<text x="1492" y="1096.86" font-size="34" text-anchor="end" fill="#000" font-family="'Liberation Sans',Arial,sans-serif" font-weight="bold" >800</text>
<text x="1492" y="1040.65" font-size="34" text-anchor="end" fill="#000" font-family="'Liberation Sans',Arial,sans-serif" font-weight="bold" >1000</text>
<text x="1492" y="984.44" font-size="34" text-anchor="end" fill="#000" font-family="'Liberation Sans',Arial,sans-serif" font-weight="bold" >1200</text>
<text x="1492" y="928.23" font-size="34" text-anchor="end" fill="#000" font-family="'Liberation Sans',Arial,sans-serif" font-weight="bold" >1400</text>
<text x="1492" y="872.02" font-size="34" text-anchor="end" fill="#000" font-family="'Liberation Sans',Arial,sans-serif" font-weight="bold" >1600</text>
<text x="1492" y="815.81" font-size="34" text-anchor="end" fill="#000" font-family="'Liberation Sans',Arial,sans-serif" font-weight="bold" >1800</text>
<text x="1492" y="759.6" font-size="34" text-anchor="end" fill="#000" font-family="'Liberation Sans',Arial,sans-serif" font-weight="bold" >2000</text>
<text x="1740" y="1408" font-size="40" text-anchor="middle" fill="#000" font-family="'Liberation Sans',Arial,sans-serif" font-weight="bold" >Channel length (µm)</text>
<text transform="translate(1400,1007) rotate(-90)" font-size="40" text-anchor="middle" font-family="'Liberation Sans',Arial,sans-serif" font-weight="bold">R·W (Ω cm)</text>
<line x1="1510.4" y1="1246.46" x2="1912.55" y2="890.94" stroke="#0d4690" stroke-width="5" />
<line x1="1510.4" y1="1266.14" x2="1912.55" y2="1068" stroke="#ff820f" stroke-width="5" />
<circle cx="1585.09" cy="1188.85" r="7" fill="url(#bN)"/>
<circle cx="1625.3" cy="1139.66" r="7" fill="url(#bN)"/>
<circle cx="1682.75" cy="1093.29" r="7" fill="url(#bN)"/>
<circle cx="1740.2" cy="1003.36" r="7" fill="url(#bN)"/>
<circle cx="1797.65" cy="1008.98" r="7" fill="url(#bN)"/>
<circle cx="1855.1" cy="923.26" r="7" fill="url(#bN)"/>
<circle cx="1912.55" cy="889.53" r="7" fill="url(#bN)"/>
<circle cx="1585.09" cy="1236.63" r="7" fill="url(#bO)"/>
<circle cx="1625.3" cy="1212.74" r="7" fill="url(#bO)"/>
<circle cx="1682.75" cy="1183.23" r="7" fill="url(#bO)"/>
<circle cx="1740.2" cy="1139.66" r="7" fill="url(#bO)"/>
<circle cx="1797.65" cy="1122.8" r="7" fill="url(#bO)"/>
<circle cx="1855.1" cy="1122.8" r="7" fill="url(#bO)"/>
<circle cx="1912.55" cy="1066.59" r="7" fill="url(#bO)"/>
<rect x="1510.4" y="747.6" width="460.3" height="562.1" fill="none" stroke="#000" stroke-width="5" stroke-linejoin="miter"/>
<line x1="1527" y1="773.2" x2="1597" y2="773.2" stroke="#0d4690" stroke-width="5" stroke-linecap="round"/>
<line x1="1527" y1="814.2" x2="1597" y2="814.2" stroke="#ff820f" stroke-width="5" stroke-linecap="round"/>
<text x="1606" y="784.5" font-size="31.5" text-anchor="start" fill="#000" font-family="'Liberation Sans',Arial,sans-serif" font-weight="bold" >PEAI</text>
<text x="1606" y="825" font-size="32" text-anchor="start" fill="#000" font-family="'Liberation Sans',Arial,sans-serif" font-weight="bold" >PEASCN-FAHCOO</text>
<text x="39.5" y="1447.6" font-size="50" text-anchor="start" fill="#000" font-family="'Liberation Serif','Times New Roman',serif" font-weight="bold" >g</text>
<line x1="177.4" y1="2023.4" x2="177.4" y2="2034.9" stroke="#000" stroke-width="5" />
<line x1="261.2" y1="2023.4" x2="261.2" y2="2034.9" stroke="#000" stroke-width="5" />
<line x1="345" y1="2023.4" x2="345" y2="2034.9" stroke="#000" stroke-width="5" />
<line x1="428.8" y1="2023.4" x2="428.8" y2="2034.9" stroke="#000" stroke-width="5" />
<line x1="512.6" y1="2023.4" x2="512.6" y2="2034.9" stroke="#000" stroke-width="5" />
<line x1="596.4" y1="2023.4" x2="596.4" y2="2034.9" stroke="#000" stroke-width="5" />
<line x1="158.81" y1="2023.4" x2="158.81" y2="2028.9" stroke="#000" stroke-width="4" />
<line x1="164.42" y1="2023.4" x2="164.42" y2="2028.9" stroke="#000" stroke-width="4" />
<line x1="169.28" y1="2023.4" x2="169.28" y2="2028.9" stroke="#000" stroke-width="4" />
<line x1="173.57" y1="2023.4" x2="173.57" y2="2028.9" stroke="#000" stroke-width="4" />
<line x1="202.63" y1="2023.4" x2="202.63" y2="2028.9" stroke="#000" stroke-width="4" />
<line x1="217.38" y1="2023.4" x2="217.38" y2="2028.9" stroke="#000" stroke-width="4" />
<line x1="227.85" y1="2023.4" x2="227.85" y2="2028.9" stroke="#000" stroke-width="4" />
<line x1="235.97" y1="2023.4" x2="235.97" y2="2028.9" stroke="#000" stroke-width="4" />
<line x1="242.61" y1="2023.4" x2="242.61" y2="2028.9" stroke="#000" stroke-width="4" />
<line x1="248.22" y1="2023.4" x2="248.22" y2="2028.9" stroke="#000" stroke-width="4" />
<line x1="253.08" y1="2023.4" x2="253.08" y2="2028.9" stroke="#000" stroke-width="4" />
<line x1="257.37" y1="2023.4" x2="257.37" y2="2028.9" stroke="#000" stroke-width="4" />
<line x1="286.43" y1="2023.4" x2="286.43" y2="2028.9" stroke="#000" stroke-width="4" />
<line x1="301.18" y1="2023.4" x2="301.18" y2="2028.9" stroke="#000" stroke-width="4" />
<line x1="311.65" y1="2023.4" x2="311.65" y2="2028.9" stroke="#000" stroke-width="4" />
<line x1="319.77" y1="2023.4" x2="319.77" y2="2028.9" stroke="#000" stroke-width="4" />
<line x1="326.41" y1="2023.4" x2="326.41" y2="2028.9" stroke="#000" stroke-width="4" />
<line x1="332.02" y1="2023.4" x2="332.02" y2="2028.9" stroke="#000" stroke-width="4" />
<line x1="336.88" y1="2023.4" x2="336.88" y2="2028.9" stroke="#000" stroke-width="4" />
<line x1="341.17" y1="2023.4" x2="341.17" y2="2028.9" stroke="#000" stroke-width="4" />
<line x1="370.23" y1="2023.4" x2="370.23" y2="2028.9" stroke="#000" stroke-width="4" />
<line x1="384.98" y1="2023.4" x2="384.98" y2="2028.9" stroke="#000" stroke-width="4" />
<line x1="395.45" y1="2023.4" x2="395.45" y2="2028.9" stroke="#000" stroke-width="4" />
<line x1="403.57" y1="2023.4" x2="403.57" y2="2028.9" stroke="#000" stroke-width="4" />
<line x1="410.21" y1="2023.4" x2="410.21" y2="2028.9" stroke="#000" stroke-width="4" />
<line x1="415.82" y1="2023.4" x2="415.82" y2="2028.9" stroke="#000" stroke-width="4" />
<line x1="420.68" y1="2023.4" x2="420.68" y2="2028.9" stroke="#000" stroke-width="4" />
<line x1="424.97" y1="2023.4" x2="424.97" y2="2028.9" stroke="#000" stroke-width="4" />
<line x1="454.03" y1="2023.4" x2="454.03" y2="2028.9" stroke="#000" stroke-width="4" />
<line x1="468.78" y1="2023.4" x2="468.78" y2="2028.9" stroke="#000" stroke-width="4" />
<line x1="479.25" y1="2023.4" x2="479.25" y2="2028.9" stroke="#000" stroke-width="4" />
<line x1="487.37" y1="2023.4" x2="487.37" y2="2028.9" stroke="#000" stroke-width="4" />
<line x1="494.01" y1="2023.4" x2="494.01" y2="2028.9" stroke="#000" stroke-width="4" />
<line x1="499.62" y1="2023.4" x2="499.62" y2="2028.9" stroke="#000" stroke-width="4" />
<line x1="504.48" y1="2023.4" x2="504.48" y2="2028.9" stroke="#000" stroke-width="4" />
<line x1="508.77" y1="2023.4" x2="508.77" y2="2028.9" stroke="#000" stroke-width="4" />
<line x1="537.83" y1="2023.4" x2="537.83" y2="2028.9" stroke="#000" stroke-width="4" />
<line x1="552.58" y1="2023.4" x2="552.58" y2="2028.9" stroke="#000" stroke-width="4" />
<line x1="563.05" y1="2023.4" x2="563.05" y2="2028.9" stroke="#000" stroke-width="4" />
<line x1="571.17" y1="2023.4" x2="571.17" y2="2028.9" stroke="#000" stroke-width="4" />
<line x1="577.81" y1="2023.4" x2="577.81" y2="2028.9" stroke="#000" stroke-width="4" />
<line x1="583.42" y1="2023.4" x2="583.42" y2="2028.9" stroke="#000" stroke-width="4" />
<line x1="588.28" y1="2023.4" x2="588.28" y2="2028.9" stroke="#000" stroke-width="4" />
<line x1="592.57" y1="2023.4" x2="592.57" y2="2028.9" stroke="#000" stroke-width="4" />
<line x1="152.5" y1="2023.4" x2="141" y2="2023.4" stroke="#000" stroke-width="5" />
<line x1="152.5" y1="1961.25" x2="141" y2="1961.25" stroke="#000" stroke-width="5" />
<line x1="152.5" y1="1899.1" x2="141" y2="1899.1" stroke="#000" stroke-width="5" />
<line x1="152.5" y1="1836.95" x2="141" y2="1836.95" stroke="#000" stroke-width="5" />
<line x1="152.5" y1="1774.8" x2="141" y2="1774.8" stroke="#000" stroke-width="5" />
<line x1="152.5" y1="1712.65" x2="141" y2="1712.65" stroke="#000" stroke-width="5" />
<line x1="152.5" y1="1650.5" x2="141" y2="1650.5" stroke="#000" stroke-width="5" />
<line x1="152.5" y1="1588.35" x2="141" y2="1588.35" stroke="#000" stroke-width="5" />
<line x1="152.5" y1="1526.2" x2="141" y2="1526.2" stroke="#000" stroke-width="5" />
<line x1="152.5" y1="1464.05" x2="141" y2="1464.05" stroke="#000" stroke-width="5" />
<line x1="152.5" y1="2004.69" x2="147" y2="2004.69" stroke="#000" stroke-width="4" />
<line x1="152.5" y1="1993.75" x2="147" y2="1993.75" stroke="#000" stroke-width="4" />
<line x1="152.5" y1="1985.98" x2="147" y2="1985.98" stroke="#000" stroke-width="4" />
<line x1="152.5" y1="1979.96" x2="147" y2="1979.96" stroke="#000" stroke-width="4" />
<line x1="152.5" y1="1975.04" x2="147" y2="1975.04" stroke="#000" stroke-width="4" />
<line x1="152.5" y1="1970.88" x2="147" y2="1970.88" stroke="#000" stroke-width="4" />
<line x1="152.5" y1="1967.27" x2="147" y2="1967.27" stroke="#000" stroke-width="4" />
<line x1="152.5" y1="1964.09" x2="147" y2="1964.09" stroke="#000" stroke-width="4" />
<line x1="152.5" y1="1942.54" x2="147" y2="1942.54" stroke="#000" stroke-width="4" />
<line x1="152.5" y1="1931.6" x2="147" y2="1931.6" stroke="#000" stroke-width="4" />
<line x1="152.5" y1="1923.83" x2="147" y2="1923.83" stroke="#000" stroke-width="4" />
<line x1="152.5" y1="1917.81" x2="147" y2="1917.81" stroke="#000" stroke-width="4" />
<line x1="152.5" y1="1912.89" x2="147" y2="1912.89" stroke="#000" stroke-width="4" />
<line x1="152.5" y1="1908.73" x2="147" y2="1908.73" stroke="#000" stroke-width="4" />
<line x1="152.5" y1="1905.12" x2="147" y2="1905.12" stroke="#000" stroke-width="4" />
<line x1="152.5" y1="1901.94" x2="147" y2="1901.94" stroke="#000" stroke-width="4" />
<line x1="152.5" y1="1880.39" x2="147" y2="1880.39" stroke="#000" stroke-width="4" />
<line x1="152.5" y1="1869.45" x2="147" y2="1869.45" stroke="#000" stroke-width="4" />
<line x1="152.5" y1="1861.68" x2="147" y2="1861.68" stroke="#000" stroke-width="4" />
<line x1="152.5" y1="1855.66" x2="147" y2="1855.66" stroke="#000" stroke-width="4" />
<line x1="152.5" y1="1850.74" x2="147" y2="1850.74" stroke="#000" stroke-width="4" />
<line x1="152.5" y1="1846.58" x2="147" y2="1846.58" stroke="#000" stroke-width="4" />
<line x1="152.5" y1="1842.97" x2="147" y2="1842.97" stroke="#000" stroke-width="4" />
<line x1="152.5" y1="1839.79" x2="147" y2="1839.79" stroke="#000" stroke-width="4" />
<line x1="152.5" y1="1818.24" x2="147" y2="1818.24" stroke="#000" stroke-width="4" />
<line x1="152.5" y1="1807.3" x2="147" y2="1807.3" stroke="#000" stroke-width="4" />
<line x1="152.5" y1="1799.53" x2="147" y2="1799.53" stroke="#000" stroke-width="4" />
<line x1="152.5" y1="1793.51" x2="147" y2="1793.51" stroke="#000" stroke-width="4" />
<line x1="152.5" y1="1788.59" x2="147" y2="1788.59" stroke="#000" stroke-width="4" />
<line x1="152.5" y1="1784.43" x2="147" y2="1784.43" stroke="#000" stroke-width="4" />
<line x1="152.5" y1="1780.82" x2="147" y2="1780.82" stroke="#000" stroke-width="4" />
<line x1="152.5" y1="1777.64" x2="147" y2="1777.64" stroke="#000" stroke-width="4" />
<line x1="152.5" y1="1756.09" x2="147" y2="1756.09" stroke="#000" stroke-width="4" />
<line x1="152.5" y1="1745.15" x2="147" y2="1745.15" stroke="#000" stroke-width="4" />
<line x1="152.5" y1="1737.38" x2="147" y2="1737.38" stroke="#000" stroke-width="4" />
<line x1="152.5" y1="1731.36" x2="147" y2="1731.36" stroke="#000" stroke-width="4" />
<line x1="152.5" y1="1726.44" x2="147" y2="1726.44" stroke="#000" stroke-width="4" />
<line x1="152.5" y1="1722.28" x2="147" y2="1722.28" stroke="#000" stroke-width="4" />
<line x1="152.5" y1="1718.67" x2="147" y2="1718.67" stroke="#000" stroke-width="4" />
<line x1="152.5" y1="1715.49" x2="147" y2="1715.49" stroke="#000" stroke-width="4" />
<line x1="152.5" y1="1693.94" x2="147" y2="1693.94" stroke="#000" stroke-width="4" />
<line x1="152.5" y1="1683" x2="147" y2="1683" stroke="#000" stroke-width="4" />
<line x1="152.5" y1="1675.23" x2="147" y2="1675.23" stroke="#000" stroke-width="4" />
<line x1="152.5" y1="1669.21" x2="147" y2="1669.21" stroke="#000" stroke-width="4" />
<line x1="152.5" y1="1664.29" x2="147" y2="1664.29" stroke="#000" stroke-width="4" />
<line x1="152.5" y1="1660.13" x2="147" y2="1660.13" stroke="#000" stroke-width="4" />
<line x1="152.5" y1="1656.52" x2="147" y2="1656.52" stroke="#000" stroke-width="4" />
<line x1="152.5" y1="1653.34" x2="147" y2="1653.34" stroke="#000" stroke-width="4" />
<line x1="152.5" y1="1631.79" x2="147" y2="1631.79" stroke="#000" stroke-width="4" />
<line x1="152.5" y1="1620.85" x2="147" y2="1620.85" stroke="#000" stroke-width="4" />
<line x1="152.5" y1="1613.08" x2="147" y2="1613.08" stroke="#000" stroke-width="4" />
<line x1="152.5" y1="1607.06" x2="147" y2="1607.06" stroke="#000" stroke-width="4" />
<line x1="152.5" y1="1602.14" x2="147" y2="1602.14" stroke="#000" stroke-width="4" />
<line x1="152.5" y1="1597.98" x2="147" y2="1597.98" stroke="#000" stroke-width="4" />
<line x1="152.5" y1="1594.37" x2="147" y2="1594.37" stroke="#000" stroke-width="4" />
<line x1="152.5" y1="1591.19" x2="147" y2="1591.19" stroke="#000" stroke-width="4" />
<line x1="152.5" y1="1569.64" x2="147" y2="1569.64" stroke="#000" stroke-width="4" />
<line x1="152.5" y1="1558.7" x2="147" y2="1558.7" stroke="#000" stroke-width="4" />
<line x1="152.5" y1="1550.93" x2="147" y2="1550.93" stroke="#000" stroke-width="4" />
<line x1="152.5" y1="1544.91" x2="147" y2="1544.91" stroke="#000" stroke-width="4" />
<line x1="152.5" y1="1539.99" x2="147" y2="1539.99" stroke="#000" stroke-width="4" />
<line x1="152.5" y1="1535.83" x2="147" y2="1535.83" stroke="#000" stroke-width="4" />
<line x1="152.5" y1="1532.22" x2="147" y2="1532.22" stroke="#000" stroke-width="4" />
<line x1="152.5" y1="1529.04" x2="147" y2="1529.04" stroke="#000" stroke-width="4" />
<line x1="152.5" y1="1507.49" x2="147" y2="1507.49" stroke="#000" stroke-width="4" />
<line x1="152.5" y1="1496.55" x2="147" y2="1496.55" stroke="#000" stroke-width="4" />
<line x1="152.5" y1="1488.78" x2="147" y2="1488.78" stroke="#000" stroke-width="4" />
<line x1="152.5" y1="1482.76" x2="147" y2="1482.76" stroke="#000" stroke-width="4" />
<line x1="152.5" y1="1477.84" x2="147" y2="1477.84" stroke="#000" stroke-width="4" />
<line x1="152.5" y1="1473.68" x2="147" y2="1473.68" stroke="#000" stroke-width="4" />
<line x1="152.5" y1="1470.07" x2="147" y2="1470.07" stroke="#000" stroke-width="4" />
<line x1="152.5" y1="1466.89" x2="147" y2="1466.89" stroke="#000" stroke-width="4" />
<text x="190.2" y="2076.8" font-size="38" text-anchor="end" font-family="'Liberation Sans',Arial,sans-serif" font-weight="bold">10</text>
<text x="191.6" y="2061.5" font-size="25" font-family="'Liberation Sans',Arial,sans-serif" font-weight="bold">0</text>
<text x="274" y="2076.8" font-size="38" text-anchor="end" font-family="'Liberation Sans',Arial,sans-serif" font-weight="bold">10</text>
<text x="275.4" y="2061.5" font-size="25" font-family="'Liberation Sans',Arial,sans-serif" font-weight="bold">1</text>
<text x="357.8" y="2076.8" font-size="38" text-anchor="end" font-family="'Liberation Sans',Arial,sans-serif" font-weight="bold">10</text>
<text x="359.2" y="2061.5" font-size="25" font-family="'Liberation Sans',Arial,sans-serif" font-weight="bold">2</text>
<text x="441.6" y="2076.8" font-size="38" text-anchor="end" font-family="'Liberation Sans',Arial,sans-serif" font-weight="bold">10</text>
<text x="443" y="2061.5" font-size="25" font-family="'Liberation Sans',Arial,sans-serif" font-weight="bold">3</text>
<text x="525.4" y="2076.8" font-size="38" text-anchor="end" font-family="'Liberation Sans',Arial,sans-serif" font-weight="bold">10</text>
<text x="526.8" y="2061.5" font-size="25" font-family="'Liberation Sans',Arial,sans-serif" font-weight="bold">4</text>
<text x="609.2" y="2076.8" font-size="38" text-anchor="end" font-family="'Liberation Sans',Arial,sans-serif" font-weight="bold">10</text>
<text x="610.6" y="2061.5" font-size="25" font-family="'Liberation Sans',Arial,sans-serif" font-weight="bold">5</text>
<text x="97.6" y="1539" font-size="38" text-anchor="end" font-family="'Liberation Sans',Arial,sans-serif" font-weight="bold">10</text>
<text x="97.5" y="1524" font-size="25" font-family="'Liberation Sans',Arial,sans-serif" font-weight="bold">-11</text>
<text x="97.6" y="1663.3" font-size="38" text-anchor="end" font-family="'Liberation Sans',Arial,sans-serif" font-weight="bold">10</text>
<text x="97.5" y="1648.3" font-size="25" font-family="'Liberation Sans',Arial,sans-serif" font-weight="bold">-13</text>
<text x="97.6" y="1787.6" font-size="38" text-anchor="end" font-family="'Liberation Sans',Arial,sans-serif" font-weight="bold">10</text>
<text x="97.5" y="1772.6" font-size="25" font-family="'Liberation Sans',Arial,sans-serif" font-weight="bold">-15</text>
<text x="97.6" y="1911.9" font-size="38" text-anchor="end" font-family="'Liberation Sans',Arial,sans-serif" font-weight="bold">10</text>
<text x="97.5" y="1896.9" font-size="25" font-family="'Liberation Sans',Arial,sans-serif" font-weight="bold">-17</text>
<text x="97.6" y="2036.2" font-size="38" text-anchor="end" font-family="'Liberation Sans',Arial,sans-serif" font-weight="bold">10</text>
<text x="97.5" y="2021.2" font-size="25" font-family="'Liberation Sans',Arial,sans-serif" font-weight="bold">-19</text>
<text x="382" y="2116" font-size="40" text-anchor="middle" fill="#000" font-family="'Liberation Sans',Arial,sans-serif" font-weight="bold" >Frequency (Hz)</text>
<text transform="translate(41,1722) rotate(-90)" font-size="40" text-anchor="middle" font-family="'Liberation Sans',Arial,sans-serif" font-weight="bold">S<tspan font-size="25" dy="8">I</tspan><tspan dy="-8"> (A</tspan><tspan font-size="25" dy="-14">2</tspan><tspan dy="14">Hz</tspan><tspan font-size="25" dy="-14">-1</tspan><tspan dy="14">)</tspan></text>
<polyline points="177.4,1697.1 202.6,1713.2 217.4,1714.9 227.9,1714.9 236.0,1725.1 242.6,1720.7 248.2,1721.8 253.1,1734.0 257.4,1717.7 261.2,1721.5 264.7,1730.0 267.8,1728.6 267.8,1728.1 269.2,1728.7 270.6,1728.3 272.0,1729.9 273.4,1729.7 274.8,1733.7 276.2,1731.2 277.6,1733.3 279.0,1733.6 280.4,1735.7 281.8,1735.6 283.2,1739.5 284.6,1737.6 286.0,1742.2 287.4,1736.3 288.8,1741.8 290.2,1738.6 291.6,1743.6 293.0,1738.8 294.4,1744.1 295.8,1741.6 297.2,1744.6 298.6,1742.9 300.0,1747.5 301.4,1742.5 302.8,1748.8 304.2,1745.5 305.6,1750.3 307.0,1747.2 308.4,1754.4 309.8,1747.4 311.2,1756.0 312.6,1749.1 314.0,1763.5 315.4,1751.4 316.8,1757.2 318.2,1752.1 319.6,1759.9 321.0,1753.2 322.4,1763.0 323.8,1753.8 325.2,1765.5 326.6,1757.9 328.0,1769.8 329.4,1751.5 330.8,1768.6 332.2,1762.3 333.6,1771.2 335.0,1764.3 336.4,1774.8" fill="none" stroke="#4d4d4d" stroke-width="2.6" stroke-linejoin="round"/>
<polygon points="267.8,1728.1 269.2,1728.0 270.6,1728.3 272.0,1729.0 273.4,1729.7 274.8,1730.7 276.2,1731.2 277.6,1732.3 279.0,1733.6 280.4,1733.9 281.8,1735.6 283.2,1735.7 284.6,1737.6 286.0,1738.9 287.4,1736.3 288.8,1739.2 290.2,1738.6 291.6,1739.0 293.0,1738.8 294.4,1739.6 295.8,1741.6 297.2,1739.7 298.6,1742.9 300.0,1743.8 301.4,1742.5 302.8,1738.9 304.2,1745.5 305.6,1746.2 307.0,1747.2 308.4,1747.6 309.8,1747.4 311.2,1747.9 312.6,1749.1 314.0,1750.0 315.4,1751.4 316.8,1748.0 318.2,1752.1 319.6,1753.4 321.0,1753.2 322.4,1753.6 323.8,1753.8 325.2,1752.8 326.6,1757.9 328.0,1759.3 329.4,1751.5 330.8,1758.7 332.2,1762.3 333.6,1762.1 335.0,1764.3 336.4,1765.2 337.8,1763.0 339.2,1763.6 340.5,1764.0 341.9,1766.4 343.3,1765.2 344.7,1765.8 346.1,1762.0 347.5,1768.5 348.9,1769.3 350.3,1766.1 351.7,1770.9 353.1,1767.4 354.5,1773.9 355.9,1774.2 357.3,1776.4 358.7,1775.6 360.1,1775.6 361.5,1777.5 362.9,1778.7 364.3,1776.7 365.7,1778.8 367.1,1779.8 368.5,1782.4 369.9,1783.3 371.3,1780.7 372.7,1783.3 374.1,1779.6 375.5,1786.9 376.9,1786.2 378.3,1787.8 379.7,1788.2 381.1,1792.0 382.5,1792.8 383.9,1788.0 385.3,1792.5 386.7,1793.4 388.1,1795.5 389.5,1795.6 390.9,1794.5 392.3,1798.4 393.7,1798.5 395.1,1797.8 396.5,1800.4 397.9,1797.8 399.3,1799.8 400.7,1804.6 402.1,1801.9 403.5,1806.9 404.9,1807.8 406.3,1804.8 407.7,1809.8 409.1,1808.8 410.5,1810.7 411.9,1811.4 413.3,1808.0 414.7,1813.3 416.1,1812.0 417.5,1814.2 418.9,1815.6 420.3,1817.8 421.7,1813.8 423.1,1818.6 424.4,1817.0 425.8,1821.4 427.2,1820.6 428.6,1824.8 430.0,1823.3 431.4,1827.7 432.8,1826.7 434.2,1826.8 435.6,1828.3 437.0,1831.6 438.4,1828.7 439.8,1832.0 441.2,1834.1 442.6,1834.8 444.0,1834.2 445.4,1831.1 446.8,1833.5 448.2,1838.9 449.6,1839.9 451.0,1840.0 452.4,1835.7 453.8,1840.9 455.2,1840.9 456.6,1841.4 458.0,1842.8 459.4,1840.9 460.8,1842.9 462.2,1845.5 463.6,1844.5 465.0,1843.8 466.4,1845.7 467.8,1846.9 469.2,1844.8 470.6,1847.9 472.0,1851.2 473.4,1853.1 474.8,1851.9 476.2,1853.0 477.6,1855.3 479.0,1856.5 480.4,1857.7 481.8,1857.8 483.2,1851.2 484.6,1856.4 486.0,1859.7 487.4,1862.7 488.8,1862.2 490.2,1860.6 491.6,1864.1 493.0,1864.9 494.4,1861.8 495.8,1865.1 497.2,1864.3 498.6,1869.8 500.0,1870.2 501.4,1869.7 502.8,1872.1 504.2,1869.7 505.6,1874.5 507.0,1874.5 508.3,1877.0 509.7,1876.7 511.1,1877.3 512.5,1879.2 513.9,1878.9 515.3,1880.3 516.7,1871.7 518.1,1882.6 519.5,1884.2 520.9,1885.9 522.3,1886.6 523.7,1886.8 525.1,1887.6 526.5,1885.3 527.9,1887.8 529.3,1891.0 530.7,1892.7 532.1,1891.7 533.5,1894.4 534.9,1893.9 536.3,1891.2 537.7,1896.4 539.1,1897.2 540.5,1899.9 541.9,1900.2 543.3,1897.2 544.7,1902.0 546.1,1900.0 547.5,1896.9 548.9,1904.0 550.3,1903.0 551.7,1905.5 553.1,1902.9 554.5,1907.9 555.9,1909.8 557.3,1911.1 558.7,1911.8 560.1,1915.0 561.5,1914.9 562.9,1917.4 564.3,1915.3 565.7,1918.1 567.1,1919.7 568.5,1920.2 569.9,1922.2 571.3,1921.4 572.7,1923.5 574.1,1921.0 575.5,1925.2 576.9,1928.1 578.3,1928.1 579.7,1929.6 581.1,1930.8 582.5,1934.1 583.9,1933.9 585.3,1936.4 586.7,1930.5 588.1,1938.9 589.5,1940.5 590.8,1941.8 592.2,1943.4 593.6,1943.8 595.0,1944.7 595.0,1955.9 593.6,1957.3 592.2,1965.1 590.8,1956.0 589.5,1952.4 588.1,1955.8 586.7,1949.1 585.3,1947.3 583.9,1945.7 582.5,1944.1 581.1,1943.2 579.7,1942.7 578.3,1944.8 576.9,1941.5 575.5,1939.7 574.1,1938.0 572.7,1946.0 571.3,1939.8 569.9,1933.9 568.5,1930.8 567.1,1931.8 565.7,1932.7 564.3,1928.9 562.9,1927.4 561.5,1934.2 560.1,1924.9 558.7,1925.8 557.3,1923.7 555.9,1920.9 554.5,1920.7 553.1,1921.3 551.7,1929.1 550.3,1918.3 548.9,1917.1 547.5,1920.8 546.1,1915.7 544.7,1914.5 543.3,1918.2 541.9,1915.9 540.5,1911.5 539.1,1908.4 537.7,1907.1 536.3,1911.6 534.9,1911.8 533.5,1905.2 532.1,1904.3 530.7,1906.1 529.3,1902.0 527.9,1902.2 526.5,1903.0 525.1,1902.4 523.7,1903.8 522.3,1897.2 520.9,1903.0 519.5,1897.4 518.1,1893.4 516.7,1896.9 515.3,1894.8 513.9,1892.3 512.5,1889.2 511.1,1888.6 509.7,1894.6 508.3,1888.7 507.0,1886.9 505.6,1884.7 504.2,1885.9 502.8,1885.3 501.4,1885.0 500.0,1881.0 498.6,1879.9 497.2,1883.2 495.8,1880.9 494.4,1876.6 493.0,1880.4 491.6,1878.5 490.2,1878.7 488.8,1878.0 487.4,1876.2 486.0,1881.7 484.6,1872.8 483.2,1873.3 481.8,1870.7 480.4,1868.0 479.0,1867.8 477.6,1868.4 476.2,1865.1 474.8,1866.1 473.4,1862.9 472.0,1864.9 470.6,1863.2 469.2,1862.3 467.8,1858.5 466.4,1861.1 465.0,1861.1 463.6,1855.9 462.2,1858.4 460.8,1857.5 459.4,1854.3 458.0,1853.7 456.6,1854.1 455.2,1853.7 453.8,1857.3 452.4,1856.3 451.0,1855.1 449.6,1852.3 448.2,1850.1 446.8,1848.4 445.4,1847.1 444.0,1855.6 442.6,1846.2 441.2,1844.1 439.8,1847.6 438.4,1843.4 437.0,1842.8 435.6,1840.7 434.2,1840.2 432.8,1843.8 431.4,1839.2 430.0,1837.6 428.6,1840.8 427.2,1833.7 425.8,1832.4 424.4,1831.8 423.1,1832.9 421.7,1828.9 420.3,1829.8 418.9,1828.9 417.5,1834.9 416.1,1824.7 414.7,1826.1 413.3,1833.2 411.9,1823.5 410.5,1823.3 409.1,1826.4 407.7,1821.1 406.3,1818.8 404.9,1820.6 403.5,1818.4 402.1,1818.0 400.7,1817.2 399.3,1814.8 397.9,1816.2 396.5,1820.7 395.1,1815.4 393.7,1809.5 392.3,1810.9 390.9,1808.6 389.5,1813.0 388.1,1808.0 386.7,1807.2 385.3,1804.8 383.9,1814.7 382.5,1803.6 381.1,1807.6 379.7,1803.9 378.3,1799.6 376.9,1800.0 375.5,1798.4 374.1,1796.4 372.7,1799.3 371.3,1794.0 369.9,1799.3 368.5,1797.5 367.1,1792.7 365.7,1793.6 364.3,1791.2 362.9,1788.5 361.5,1796.3 360.1,1790.1 358.7,1789.9 357.3,1787.3 355.9,1785.1 354.5,1783.5 353.1,1783.8 351.7,1787.9 350.3,1781.5 348.9,1782.2 347.5,1779.0 346.1,1777.2 344.7,1780.2 343.3,1775.9 341.9,1775.1 340.5,1780.9 339.2,1772.9 337.8,1781.6 336.4,1774.8 335.0,1771.9 333.6,1771.2 332.2,1771.9 330.8,1768.6 329.4,1767.5 328.0,1769.8 326.6,1768.2 325.2,1765.5 323.8,1768.1 322.4,1763.0 321.0,1768.9 319.6,1759.9 318.2,1759.1 316.8,1757.2 315.4,1756.7 314.0,1763.5 312.6,1755.7 311.2,1756.0 309.8,1754.9 308.4,1754.4 307.0,1750.5 305.6,1750.3 304.2,1749.6 302.8,1748.8 301.4,1749.8 300.0,1747.5 298.6,1746.8 297.2,1744.6 295.8,1745.5 294.4,1744.1 293.0,1743.5 291.6,1743.6 290.2,1741.5 288.8,1741.8 287.4,1740.8 286.0,1742.2 284.6,1739.8 283.2,1739.5 281.8,1736.5 280.4,1735.7 279.0,1733.8 277.6,1733.3 276.2,1733.2 274.8,1733.7 273.4,1730.9 272.0,1729.9 270.6,1728.8 269.2,1728.7 267.8,1729.5" fill="#4d4d4d" stroke="#4d4d4d" stroke-width="1.6" stroke-linejoin="round"/>
<polyline points="177.4,1691.5 202.6,1696.8 217.4,1704.3 227.9,1720.9 236.0,1706.7 242.6,1715.3 248.2,1710.9 253.1,1729.9 257.4,1727.9 261.2,1715.9 264.7,1731.2 267.8,1719.9 267.8,1719.5 269.2,1722.1 270.6,1721.6 272.0,1725.1 273.4,1721.4 274.8,1725.4 276.2,1725.5 277.6,1726.8 279.0,1727.4 280.4,1729.2 281.8,1728.0 283.2,1731.9 284.6,1729.6 286.0,1733.3 287.4,1732.1 288.8,1735.0 290.2,1733.5 291.6,1738.4 293.0,1734.3 294.4,1738.9 295.8,1735.7 297.2,1740.9 298.6,1734.7 300.0,1742.3 301.4,1737.2 302.8,1744.5 304.2,1738.0 305.6,1749.7 307.0,1741.5 308.4,1747.5 309.8,1742.0 311.2,1748.5 312.6,1744.4 314.0,1751.0 315.4,1743.3 316.8,1756.6 318.2,1746.9 319.6,1762.6 321.0,1750.0 322.4,1759.4 323.8,1749.6 325.2,1763.8 326.6,1752.1 328.0,1763.2 329.4,1754.7 330.8,1766.9 332.2,1756.5 333.6,1764.8 335.0,1759.1 336.4,1768.6" fill="none" stroke="#ff7c0a" stroke-width="2.6" stroke-linejoin="round"/>
<polygon points="267.8,1719.5 269.2,1721.2 270.6,1721.6 272.0,1722.3 273.4,1721.4 274.8,1724.0 276.2,1725.5 277.6,1726.2 279.0,1727.4 280.4,1726.6 281.8,1728.0 283.2,1728.5 284.6,1729.6 286.0,1731.0 287.4,1732.1 288.8,1732.7 290.2,1733.5 291.6,1733.7 293.0,1734.3 294.4,1734.9 295.8,1735.7 297.2,1737.2 298.6,1734.7 300.0,1737.9 301.4,1737.2 302.8,1739.3 304.2,1738.0 305.6,1738.7 307.0,1741.5 308.4,1740.5 309.8,1742.0 311.2,1742.5 312.6,1744.4 314.0,1743.2 315.4,1743.3 316.8,1744.1 318.2,1746.9 319.6,1746.4 321.0,1750.0 322.4,1750.5 323.8,1749.6 325.2,1752.1 326.6,1752.1 328.0,1748.6 329.4,1754.7 330.8,1754.8 332.2,1756.5 333.6,1753.9 335.0,1759.1 336.4,1759.6 337.8,1758.3 339.2,1761.0 340.5,1759.4 341.9,1760.9 343.3,1763.0 344.7,1764.8 346.1,1765.2 347.5,1766.8 348.9,1767.0 350.3,1760.2 351.7,1765.3 353.1,1766.0 354.5,1769.3 355.9,1770.0 357.3,1768.8 358.7,1770.9 360.1,1766.3 361.5,1772.8 362.9,1772.9 364.3,1768.6 365.7,1770.8 367.1,1776.5 368.5,1776.0 369.9,1777.7 371.3,1779.4 372.7,1778.8 374.1,1778.8 375.5,1779.2 376.9,1777.0 378.3,1783.5 379.7,1784.1 381.1,1784.1 382.5,1784.5 383.9,1786.3 385.3,1786.8 386.7,1787.9 388.1,1789.4 389.5,1790.5 390.9,1791.4 392.3,1793.3 393.7,1792.0 395.1,1793.5 396.5,1795.1 397.9,1796.1 399.3,1796.7 400.7,1798.0 402.1,1797.0 403.5,1801.5 404.9,1801.4 406.3,1803.4 407.7,1803.8 409.1,1805.7 410.5,1806.0 411.9,1806.9 413.3,1809.3 414.7,1807.6 416.1,1810.3 417.5,1811.4 418.9,1813.3 420.3,1813.4 421.7,1814.5 423.1,1815.8 424.4,1815.9 425.8,1818.2 427.2,1816.3 428.6,1818.8 430.0,1818.4 431.4,1817.8 432.8,1821.8 434.2,1820.3 435.6,1820.9 437.0,1822.8 438.4,1819.8 439.8,1824.5 441.2,1826.3 442.6,1826.0 444.0,1825.4 445.4,1827.3 446.8,1829.3 448.2,1828.7 449.6,1828.2 451.0,1833.8 452.4,1834.7 453.8,1829.7 455.2,1834.5 456.6,1833.6 458.0,1836.3 459.4,1837.9 460.8,1836.9 462.2,1840.5 463.6,1841.9 465.0,1841.8 466.4,1840.8 467.8,1843.5 469.2,1845.0 470.6,1844.9 472.0,1848.3 473.4,1847.4 474.8,1842.8 476.2,1845.6 477.6,1851.0 479.0,1850.2 480.4,1850.3 481.8,1850.2 483.2,1855.1 484.6,1855.7 486.0,1856.7 487.4,1856.7 488.8,1856.8 490.2,1858.0 491.6,1858.9 493.0,1858.7 494.4,1858.8 495.8,1855.6 497.2,1863.4 498.6,1861.7 500.0,1862.3 501.4,1866.2 502.8,1864.8 504.2,1866.1 505.6,1869.1 507.0,1863.2 508.3,1870.5 509.7,1869.1 511.1,1872.9 512.5,1874.1 513.9,1870.6 515.3,1875.4 516.7,1875.4 518.1,1875.5 519.5,1869.7 520.9,1875.4 522.3,1875.7 523.7,1879.5 525.1,1882.5 526.5,1883.1 527.9,1883.9 529.3,1886.1 530.7,1882.9 532.1,1887.2 533.5,1889.4 534.9,1887.5 536.3,1887.8 537.7,1891.4 539.1,1886.5 540.5,1891.5 541.9,1893.4 543.3,1895.7 544.7,1896.5 546.1,1896.8 547.5,1896.6 548.9,1900.5 550.3,1899.8 551.7,1902.1 553.1,1903.5 554.5,1904.2 555.9,1902.4 557.3,1906.5 558.7,1906.6 560.1,1907.3 561.5,1910.6 562.9,1912.2 564.3,1913.5 565.7,1914.4 567.1,1914.6 568.5,1911.6 569.9,1917.1 571.3,1915.9 572.7,1920.7 574.1,1920.0 575.5,1920.0 576.9,1924.2 578.3,1923.1 579.7,1924.5 581.1,1926.0 582.5,1929.5 583.9,1930.5 585.3,1931.6 586.7,1932.5 588.1,1930.7 589.5,1933.7 590.8,1933.3 592.2,1935.5 593.6,1937.2 595.0,1939.3 595.0,1950.4 593.6,1950.5 592.2,1948.2 590.8,1951.4 589.5,1945.1 588.1,1948.0 586.7,1942.6 585.3,1949.0 583.9,1945.0 582.5,1944.1 581.1,1938.3 579.7,1936.9 578.3,1935.7 576.9,1937.1 575.5,1943.2 574.1,1934.8 572.7,1941.0 571.3,1933.3 569.9,1929.6 568.5,1930.1 567.1,1926.6 565.7,1926.0 564.3,1925.3 562.9,1922.7 561.5,1925.4 560.1,1922.3 558.7,1918.2 557.3,1918.5 555.9,1922.4 554.5,1918.0 553.1,1916.7 551.7,1913.3 550.3,1916.0 548.9,1910.9 547.5,1911.7 546.1,1909.4 544.7,1910.2 543.3,1912.7 541.9,1907.0 540.5,1904.5 539.1,1903.1 537.7,1905.6 536.3,1903.0 534.9,1904.1 533.5,1902.5 532.1,1900.5 530.7,1900.2 529.3,1906.5 527.9,1897.1 526.5,1894.1 525.1,1893.6 523.7,1892.3 522.3,1891.4 520.9,1892.7 519.5,1889.3 518.1,1890.2 516.7,1888.4 515.3,1887.4 513.9,1895.3 512.5,1886.6 511.1,1883.6 509.7,1889.3 508.3,1881.3 507.0,1880.6 505.6,1882.7 504.2,1887.6 502.8,1884.6 501.4,1876.2 500.0,1876.3 498.6,1874.1 497.2,1878.9 495.8,1875.6 494.4,1881.3 493.0,1871.6 491.6,1870.7 490.2,1871.7 488.8,1872.6 487.4,1868.3 486.0,1870.1 484.6,1865.9 483.2,1865.6 481.8,1865.4 480.4,1872.2 479.0,1863.8 477.6,1864.9 476.2,1869.4 474.8,1864.4 473.4,1859.6 472.0,1859.4 470.6,1861.1 469.2,1856.2 467.8,1857.2 466.4,1856.4 465.0,1853.3 463.6,1853.4 462.2,1852.2 460.8,1859.9 459.4,1849.4 458.0,1852.8 456.6,1848.3 455.2,1855.8 453.8,1847.2 452.4,1844.6 451.0,1847.9 449.6,1844.4 448.2,1843.8 446.8,1844.9 445.4,1839.8 444.0,1839.6 442.6,1836.9 441.2,1839.3 439.8,1840.7 438.4,1834.8 437.0,1834.9 435.6,1835.6 434.2,1833.6 432.8,1833.2 431.4,1833.2 430.0,1834.6 428.6,1832.0 427.2,1838.7 425.8,1829.3 424.4,1828.5 423.1,1827.4 421.7,1824.8 420.3,1828.3 418.9,1827.5 417.5,1822.7 416.1,1821.8 414.7,1820.5 413.3,1819.9 411.9,1818.4 410.5,1818.9 409.1,1818.3 407.7,1815.9 406.3,1813.6 404.9,1815.2 403.5,1812.5 402.1,1812.0 400.7,1810.2 399.3,1809.2 397.9,1806.6 396.5,1808.0 395.1,1806.9 393.7,1803.7 392.3,1808.4 390.9,1802.7 389.5,1802.1 388.1,1802.1 386.7,1801.7 385.3,1797.9 383.9,1797.9 382.5,1796.6 381.1,1795.9 379.7,1796.5 378.3,1801.7 376.9,1796.4 375.5,1797.4 374.1,1790.1 372.7,1789.8 371.3,1792.3 369.9,1790.2 368.5,1789.3 367.1,1787.4 365.7,1787.0 364.3,1786.6 362.9,1785.6 361.5,1783.8 360.1,1783.5 358.7,1784.3 357.3,1791.0 355.9,1779.6 354.5,1784.7 353.1,1780.3 351.7,1778.5 350.3,1783.7 348.9,1776.2 347.5,1778.6 346.1,1778.4 344.7,1773.0 343.3,1773.0 341.9,1771.4 340.5,1773.6 339.2,1769.8 337.8,1770.6 336.4,1768.6 335.0,1766.6 333.6,1764.8 332.2,1769.6 330.8,1766.9 329.4,1764.7 328.0,1763.2 326.6,1761.1 325.2,1763.8 323.8,1757.5 322.4,1759.4 321.0,1756.9 319.6,1762.6 318.2,1752.7 316.8,1756.6 315.4,1754.0 314.0,1751.0 312.6,1751.3 311.2,1748.5 309.8,1749.6 308.4,1747.5 307.0,1750.4 305.6,1749.7 304.2,1745.8 302.8,1744.5 301.4,1746.2 300.0,1742.3 298.6,1740.3 297.2,1740.9 295.8,1743.4 294.4,1738.9 293.0,1736.7 291.6,1738.4 290.2,1736.0 288.8,1735.0 287.4,1734.4 286.0,1733.3 284.6,1733.0 283.2,1731.9 281.8,1729.7 280.4,1729.2 279.0,1728.6 277.6,1726.8 276.2,1728.8 274.8,1725.4 273.4,1723.4 272.0,1725.1 270.6,1723.3 269.2,1722.1 267.8,1720.6" fill="#ff7c0a" stroke="#ff7c0a" stroke-width="1.6" stroke-linejoin="round"/>
<polyline points="177.4,1662.3 202.6,1660.9 217.4,1681.1 227.9,1692.6 236.0,1688.9 242.6,1682.7 248.2,1688.5 253.1,1692.4 257.4,1684.9 261.2,1686.1 264.7,1692.8 267.8,1691.4 267.8,1691.0 269.2,1695.3 270.6,1694.0 272.0,1696.2 273.4,1695.6 274.8,1697.2 276.2,1697.7 277.6,1700.5 279.0,1699.5 280.4,1701.9 281.8,1700.3 283.2,1704.2 284.6,1701.9 286.0,1706.5 287.4,1702.9 288.8,1710.3 290.2,1704.6 291.6,1708.7 293.0,1706.9 294.4,1710.0 295.8,1707.0 297.2,1713.8 298.6,1708.5 300.0,1713.5 301.4,1708.8 302.8,1715.4 304.2,1709.7 305.6,1716.1 307.0,1712.5 308.4,1718.7 309.8,1714.8 311.2,1719.8 312.6,1714.7 314.0,1721.6 315.4,1716.9 316.8,1725.5 318.2,1718.5 319.6,1733.5 321.0,1718.4 322.4,1729.5 323.8,1720.2 325.2,1728.4 326.6,1721.3 328.0,1730.5 329.4,1720.6 330.8,1732.6 332.2,1722.7 333.6,1733.5 335.0,1727.5 336.4,1741.9" fill="none" stroke="#1f74dc" stroke-width="2.6" stroke-linejoin="round"/>
<polygon points="267.8,1691.0 269.2,1693.9 270.6,1694.0 272.0,1695.0 273.4,1695.6 274.8,1695.6 276.2,1697.7 277.6,1698.9 279.0,1699.5 280.4,1701.0 281.8,1700.3 283.2,1701.5 284.6,1701.9 286.0,1702.8 287.4,1702.9 288.8,1704.0 290.2,1704.6 291.6,1704.5 293.0,1706.9 294.4,1706.9 295.8,1707.0 297.2,1707.8 298.6,1708.5 300.0,1710.1 301.4,1708.8 302.8,1708.5 304.2,1709.7 305.6,1712.4 307.0,1712.5 308.4,1713.3 309.8,1714.8 311.2,1714.4 312.6,1714.7 314.0,1716.4 315.4,1716.9 316.8,1716.3 318.2,1718.5 319.6,1718.0 321.0,1718.4 322.4,1718.9 323.8,1720.2 325.2,1721.0 326.6,1721.3 328.0,1721.1 329.4,1720.6 330.8,1718.1 332.2,1722.7 333.6,1722.2 335.0,1727.5 336.4,1725.7 337.8,1728.6 339.2,1731.0 340.5,1729.4 341.9,1731.7 343.3,1734.2 344.7,1735.3 346.1,1730.5 347.5,1736.5 348.9,1732.4 350.3,1736.4 351.7,1738.4 353.1,1737.2 354.5,1739.1 355.9,1740.4 357.3,1739.8 358.7,1744.0 360.1,1742.2 361.5,1741.5 362.9,1745.2 364.3,1747.1 365.7,1744.9 367.1,1744.7 368.5,1747.9 369.9,1749.2 371.3,1750.6 372.7,1749.1 374.1,1753.5 375.5,1753.9 376.9,1752.8 378.3,1746.1 379.7,1756.5 381.1,1755.9 382.5,1756.7 383.9,1759.5 385.3,1758.9 386.7,1760.9 388.1,1759.6 389.5,1761.4 390.9,1754.5 392.3,1764.4 393.7,1764.3 395.1,1765.6 396.5,1761.6 397.9,1768.2 399.3,1768.9 400.7,1768.8 402.1,1769.7 403.5,1769.9 404.9,1770.2 406.3,1770.9 407.7,1769.8 409.1,1773.6 410.5,1768.4 411.9,1772.6 413.3,1775.2 414.7,1774.9 416.1,1773.0 417.5,1780.2 418.9,1776.9 420.3,1780.8 421.7,1776.6 423.1,1783.1 424.4,1781.3 425.8,1783.3 427.2,1787.3 428.6,1787.5 430.0,1788.2 431.4,1790.6 432.8,1790.6 434.2,1792.9 435.6,1789.2 437.0,1794.4 438.4,1795.4 439.8,1796.9 441.2,1797.0 442.6,1798.3 444.0,1799.3 445.4,1799.5 446.8,1799.5 448.2,1801.2 449.6,1801.1 451.0,1797.8 452.4,1802.0 453.8,1804.7 455.2,1806.6 456.6,1806.0 458.0,1807.5 459.4,1807.9 460.8,1808.8 462.2,1810.2 463.6,1809.8 465.0,1811.9 466.4,1807.8 467.8,1810.6 469.2,1809.4 470.6,1814.7 472.0,1813.7 473.4,1817.1 474.8,1819.4 476.2,1814.9 477.6,1820.1 479.0,1816.1 480.4,1822.1 481.8,1820.5 483.2,1825.3 484.6,1825.2 486.0,1826.5 487.4,1824.9 488.8,1829.2 490.2,1825.5 491.6,1830.1 493.0,1831.1 494.4,1831.7 495.8,1834.4 497.2,1833.9 498.6,1833.5 500.0,1836.8 501.4,1834.1 502.8,1838.0 504.2,1836.5 505.6,1835.2 507.0,1839.5 508.3,1839.0 509.7,1842.5 511.1,1842.9 512.5,1840.9 513.9,1844.7 515.3,1845.7 516.7,1846.9 518.1,1848.1 519.5,1846.5 520.9,1850.3 522.3,1851.1 523.7,1852.9 525.1,1851.7 526.5,1852.8 527.9,1854.8 529.3,1855.6 530.7,1857.9 532.1,1857.8 533.5,1860.5 534.9,1861.4 536.3,1858.8 537.7,1864.6 539.1,1853.2 540.5,1865.9 541.9,1865.9 543.3,1866.5 544.7,1865.8 546.1,1866.3 547.5,1869.5 548.9,1870.9 550.3,1871.7 551.7,1873.4 553.1,1868.0 554.5,1872.5 555.9,1875.2 557.3,1876.6 558.7,1878.8 560.1,1879.7 561.5,1880.9 562.9,1880.3 564.3,1883.8 565.7,1879.0 567.1,1883.2 568.5,1881.5 569.9,1886.7 571.3,1888.0 572.7,1887.2 574.1,1887.6 575.5,1889.0 576.9,1891.4 578.3,1894.5 579.7,1889.0 581.1,1894.2 582.5,1897.7 583.9,1892.6 585.3,1899.6 586.7,1900.1 588.1,1904.2 589.5,1905.6 590.8,1905.2 592.2,1908.5 593.6,1908.3 595.0,1910.1 595.0,1933.0 593.6,1928.5 592.2,1918.7 590.8,1918.4 589.5,1917.9 588.1,1916.8 586.7,1914.0 585.3,1911.2 583.9,1910.1 582.5,1909.8 581.1,1909.4 579.7,1907.2 578.3,1907.8 576.9,1906.1 575.5,1900.7 574.1,1900.8 572.7,1911.4 571.3,1899.5 569.9,1900.2 568.5,1896.7 567.1,1897.2 565.7,1895.8 564.3,1895.2 562.9,1896.6 561.5,1894.0 560.1,1890.9 558.7,1889.0 557.3,1890.4 555.9,1888.2 554.5,1888.5 553.1,1886.6 551.7,1887.4 550.3,1883.9 548.9,1884.8 547.5,1880.8 546.1,1885.9 544.7,1878.9 543.3,1878.9 541.9,1880.2 540.5,1879.7 539.1,1876.8 537.7,1874.5 536.3,1876.4 534.9,1872.2 533.5,1873.7 532.1,1870.4 530.7,1868.7 529.3,1878.8 527.9,1866.2 526.5,1866.2 525.1,1867.3 523.7,1864.1 522.3,1862.3 520.9,1862.8 519.5,1859.8 518.1,1858.5 516.7,1859.3 515.3,1856.8 513.9,1856.0 512.5,1859.2 511.1,1855.2 509.7,1856.4 508.3,1853.8 507.0,1851.8 505.6,1851.5 504.2,1850.1 502.8,1852.1 501.4,1858.4 500.0,1846.5 498.6,1844.7 497.2,1853.2 495.8,1848.0 494.4,1847.9 493.0,1845.1 491.6,1841.8 490.2,1841.5 488.8,1841.1 487.4,1838.4 486.0,1840.9 484.6,1839.7 483.2,1837.9 481.8,1837.2 480.4,1834.7 479.0,1832.1 477.6,1830.0 476.2,1832.1 474.8,1829.8 473.4,1830.2 472.0,1827.0 470.6,1825.4 469.2,1824.6 467.8,1829.4 466.4,1823.2 465.0,1825.5 463.6,1824.4 462.2,1823.6 460.8,1823.7 459.4,1819.0 458.0,1819.4 456.6,1818.2 455.2,1816.8 453.8,1819.0 452.4,1818.1 451.0,1814.5 449.6,1813.0 448.2,1817.8 446.8,1811.0 445.4,1810.1 444.0,1809.1 442.6,1808.8 441.2,1814.2 439.8,1808.5 438.4,1807.1 437.0,1809.3 435.6,1817.9 434.2,1807.8 432.8,1803.5 431.4,1801.0 430.0,1804.4 428.6,1800.6 427.2,1797.3 425.8,1796.3 424.4,1794.0 423.1,1795.5 421.7,1794.4 420.3,1794.7 418.9,1792.0 417.5,1793.1 416.1,1792.1 414.7,1793.9 413.3,1791.2 411.9,1790.7 410.5,1786.4 409.1,1790.7 407.7,1784.3 406.3,1783.7 404.9,1781.7 403.5,1782.3 402.1,1781.4 400.7,1780.5 399.3,1780.5 397.9,1778.8 396.5,1777.7 395.1,1777.0 393.7,1776.5 392.3,1780.7 390.9,1774.8 389.5,1774.9 388.1,1776.5 386.7,1774.5 385.3,1771.7 383.9,1772.9 382.5,1773.3 381.1,1774.4 379.7,1767.4 378.3,1766.1 376.9,1765.8 375.5,1772.1 374.1,1774.2 372.7,1765.1 371.3,1761.9 369.9,1761.8 368.5,1761.4 367.1,1762.0 365.7,1760.8 364.3,1761.4 362.9,1756.6 361.5,1762.5 360.1,1757.5 358.7,1759.1 357.3,1753.5 355.9,1752.9 354.5,1751.4 353.1,1752.1 351.7,1754.7 350.3,1758.8 348.9,1751.0 347.5,1746.8 346.1,1748.6 344.7,1742.8 343.3,1743.7 341.9,1743.5 340.5,1741.0 339.2,1744.8 337.8,1737.7 336.4,1741.9 335.0,1736.8 333.6,1733.5 332.2,1733.3 330.8,1732.6 329.4,1731.0 328.0,1730.5 326.6,1729.1 325.2,1728.4 323.8,1726.6 322.4,1729.5 321.0,1732.0 319.6,1733.5 318.2,1724.6 316.8,1725.5 315.4,1721.5 314.0,1721.6 312.6,1723.1 311.2,1719.8 309.8,1718.6 308.4,1718.7 307.0,1720.3 305.6,1716.1 304.2,1721.0 302.8,1715.4 301.4,1714.1 300.0,1713.5 298.6,1713.0 297.2,1713.8 295.8,1711.0 294.4,1710.0 293.0,1713.0 291.6,1708.7 290.2,1709.2 288.8,1710.3 287.4,1708.9 286.0,1706.5 284.6,1704.9 283.2,1704.2 281.8,1702.9 280.4,1701.9 279.0,1703.7 277.6,1700.5 276.2,1699.4 274.8,1697.2 273.4,1696.8 272.0,1696.2 270.6,1695.8 269.2,1695.3 267.8,1692.2" fill="#1f74dc" stroke="#1f74dc" stroke-width="1.6" stroke-linejoin="round"/>
<polyline points="177.4,1639.9 202.6,1645.9 217.4,1646.4 227.9,1666.9 236.0,1660.0 242.6,1664.6 248.2,1667.0 253.1,1667.6 257.4,1666.2 261.2,1660.9 264.7,1664.6 267.8,1668.9 267.8,1667.7 269.2,1670.7 270.6,1670.3 272.0,1674.2 273.4,1671.9 274.8,1675.0 276.2,1673.9 277.6,1674.9 279.0,1676.3 280.4,1677.9 281.8,1678.5 283.2,1680.3 284.6,1679.5 286.0,1684.5 287.4,1681.6 288.8,1684.3 290.2,1682.1 291.6,1686.9 293.0,1685.1 294.4,1690.0 295.8,1684.6 297.2,1688.4 298.6,1685.7 300.0,1691.0 301.4,1685.8 302.8,1690.5 304.2,1686.8 305.6,1695.5 307.0,1689.1 308.4,1695.0 309.8,1688.4 311.2,1699.1 312.6,1693.1 314.0,1698.5 315.4,1684.9 316.8,1700.4 318.2,1696.2 319.6,1704.4 321.0,1696.9 322.4,1707.9 323.8,1699.0 325.2,1709.0 326.6,1695.7 328.0,1710.0 329.4,1700.9 330.8,1713.9 332.2,1703.0 333.6,1714.8 335.0,1706.4 336.4,1719.6" fill="none" stroke="#3cb371" stroke-width="2.6" stroke-linejoin="round"/>
<polygon points="267.8,1667.7 269.2,1668.4 270.6,1670.3 272.0,1670.0 273.4,1671.9 274.8,1672.7 276.2,1673.9 277.6,1674.7 279.0,1676.3 280.4,1676.7 281.8,1678.5 283.2,1678.5 284.6,1679.5 286.0,1680.2 287.4,1681.6 288.8,1681.5 290.2,1682.1 291.6,1684.1 293.0,1685.1 294.4,1684.1 295.8,1684.6 297.2,1685.0 298.6,1685.7 300.0,1686.9 301.4,1685.8 302.8,1687.2 304.2,1686.8 305.6,1685.3 307.0,1689.1 308.4,1690.5 309.8,1688.4 311.2,1691.5 312.6,1693.1 314.0,1688.6 315.4,1684.9 316.8,1695.3 318.2,1696.2 319.6,1693.5 321.0,1696.9 322.4,1700.1 323.8,1699.0 325.2,1697.6 326.6,1695.7 328.0,1703.3 329.4,1700.9 330.8,1705.6 332.2,1703.0 333.6,1705.0 335.0,1706.4 336.4,1706.4 337.8,1705.7 339.2,1707.9 340.5,1707.8 341.9,1708.6 343.3,1711.4 344.7,1709.9 346.1,1712.3 347.5,1712.1 348.9,1713.1 350.3,1714.4 351.7,1713.6 353.1,1715.0 354.5,1714.3 355.9,1717.3 357.3,1718.3 358.7,1716.6 360.1,1719.7 361.5,1717.5 362.9,1721.1 364.3,1721.8 365.7,1723.1 367.1,1722.9 368.5,1725.5 369.9,1722.9 371.3,1728.1 372.7,1727.9 374.1,1728.5 375.5,1729.1 376.9,1731.7 378.3,1730.6 379.7,1729.3 381.1,1733.3 382.5,1732.4 383.9,1733.8 385.3,1734.9 386.7,1733.3 388.1,1739.1 389.5,1736.2 390.9,1741.5 392.3,1741.5 393.7,1736.3 395.1,1744.5 396.5,1744.7 397.9,1747.1 399.3,1748.4 400.7,1741.8 402.1,1749.7 403.5,1751.2 404.9,1748.0 406.3,1752.1 407.7,1747.6 409.1,1754.9 410.5,1754.9 411.9,1751.6 413.3,1756.9 414.7,1756.8 416.1,1757.6 417.5,1755.1 418.9,1755.2 420.3,1759.7 421.7,1755.5 423.1,1760.8 424.4,1762.7 425.8,1762.2 427.2,1765.1 428.6,1763.4 430.0,1766.7 431.4,1764.1 432.8,1762.5 434.2,1768.0 435.6,1757.4 437.0,1763.5 438.4,1772.1 439.8,1775.1 441.2,1773.5 442.6,1774.2 444.0,1774.7 445.4,1777.9 446.8,1778.1 448.2,1778.5 449.6,1775.9 451.0,1779.0 452.4,1781.0 453.8,1782.5 455.2,1783.3 456.6,1784.6 458.0,1785.2 459.4,1784.3 460.8,1787.8 462.2,1786.9 463.6,1789.2 465.0,1791.1 466.4,1788.1 467.8,1793.4 469.2,1781.2 470.6,1793.9 472.0,1794.5 473.4,1793.0 474.8,1795.8 476.2,1796.4 477.6,1791.8 479.0,1799.3 480.4,1798.9 481.8,1788.7 483.2,1800.2 484.6,1801.3 486.0,1801.5 487.4,1802.5 488.8,1805.1 490.2,1806.4 491.6,1805.2 493.0,1803.3 494.4,1808.9 495.8,1810.9 497.2,1812.0 498.6,1809.8 500.0,1810.3 501.4,1813.5 502.8,1815.6 504.2,1813.4 505.6,1816.0 507.0,1817.0 508.3,1815.5 509.7,1806.7 511.1,1816.3 512.5,1819.2 513.9,1818.8 515.3,1806.9 516.7,1823.5 518.1,1820.5 519.5,1823.8 520.9,1827.6 522.3,1828.8 523.7,1828.9 525.1,1831.2 526.5,1829.4 527.9,1830.4 529.3,1830.1 530.7,1831.9 532.1,1829.8 533.5,1833.8 534.9,1837.0 536.3,1838.2 537.7,1837.2 539.1,1840.6 540.5,1833.1 541.9,1842.1 543.3,1842.9 544.7,1843.3 546.1,1845.3 547.5,1839.3 548.9,1845.2 550.3,1848.0 551.7,1848.6 553.1,1851.4 554.5,1851.2 555.9,1844.4 557.3,1854.9 558.7,1856.0 560.1,1849.1 561.5,1858.7 562.9,1860.1 564.3,1862.0 565.7,1862.6 567.1,1863.3 568.5,1862.5 569.9,1865.3 571.3,1867.6 572.7,1869.3 574.1,1870.3 575.5,1869.0 576.9,1871.8 578.3,1872.9 579.7,1872.9 581.1,1874.5 582.5,1871.8 583.9,1877.8 585.3,1878.1 586.7,1880.2 588.1,1880.3 589.5,1882.9 590.8,1885.5 592.2,1885.1 593.6,1887.4 595.0,1886.3 595.0,1900.6 593.6,1900.2 592.2,1896.8 590.8,1902.5 589.5,1898.5 588.1,1897.8 586.7,1894.9 585.3,1894.2 583.9,1889.3 582.5,1887.4 581.1,1886.1 579.7,1889.4 578.3,1883.2 576.9,1882.9 575.5,1882.1 574.1,1881.2 572.7,1881.3 571.3,1877.5 569.9,1880.9 568.5,1877.7 567.1,1874.2 565.7,1882.5 564.3,1882.7 562.9,1873.8 561.5,1870.4 560.1,1871.3 558.7,1873.8 557.3,1873.3 555.9,1864.8 554.5,1864.5 553.1,1862.1 551.7,1860.7 550.3,1860.8 548.9,1858.3 547.5,1859.6 546.1,1857.6 544.7,1854.7 543.3,1858.9 541.9,1854.9 540.5,1852.2 539.1,1851.7 537.7,1852.3 536.3,1850.8 534.9,1847.7 533.5,1854.6 532.1,1849.8 530.7,1848.8 529.3,1843.8 527.9,1844.0 526.5,1845.0 525.1,1844.8 523.7,1841.1 522.3,1842.5 520.9,1840.3 519.5,1838.7 518.1,1840.0 516.7,1834.5 515.3,1834.0 513.9,1832.0 512.5,1834.4 511.1,1829.8 509.7,1828.1 508.3,1829.8 507.0,1828.7 505.6,1829.6 504.2,1830.8 502.8,1825.6 501.4,1823.8 500.0,1828.4 498.6,1824.7 497.2,1825.4 495.8,1821.0 494.4,1828.6 493.0,1821.0 491.6,1817.9 490.2,1816.6 488.8,1824.7 487.4,1820.5 486.0,1816.7 484.6,1817.3 483.2,1812.1 481.8,1814.9 480.4,1810.4 479.0,1812.1 477.6,1809.3 476.2,1812.8 474.8,1806.4 473.4,1805.5 472.0,1808.9 470.6,1804.0 469.2,1805.9 467.8,1806.6 466.4,1803.9 465.0,1802.1 463.6,1801.3 462.2,1806.1 460.8,1799.2 459.4,1801.1 458.0,1800.2 456.6,1799.0 455.2,1797.8 453.8,1797.1 452.4,1793.7 451.0,1793.0 449.6,1795.6 448.2,1792.2 446.8,1791.0 445.4,1792.6 444.0,1793.1 442.6,1791.9 441.2,1793.0 439.8,1784.7 438.4,1784.9 437.0,1792.6 435.6,1783.3 434.2,1780.6 432.8,1779.5 431.4,1782.0 430.0,1777.7 428.6,1780.0 427.2,1775.3 425.8,1783.4 424.4,1773.5 423.1,1779.0 421.7,1782.6 420.3,1772.2 418.9,1776.0 417.5,1771.0 416.1,1771.5 414.7,1775.4 413.3,1766.6 411.9,1771.9 410.5,1771.9 409.1,1776.4 407.7,1765.4 406.3,1763.2 404.9,1763.4 403.5,1762.1 402.1,1767.8 400.7,1763.7 399.3,1758.5 397.9,1762.7 396.5,1757.1 395.1,1763.2 393.7,1764.6 392.3,1756.1 390.9,1751.8 389.5,1750.2 388.1,1752.8 386.7,1752.0 385.3,1747.3 383.9,1746.9 382.5,1746.8 381.1,1744.9 379.7,1747.5 378.3,1748.6 376.9,1742.4 375.5,1740.9 374.1,1748.6 372.7,1739.8 371.3,1738.4 369.9,1747.2 368.5,1735.7 367.1,1744.3 365.7,1735.0 364.3,1737.6 362.9,1733.4 361.5,1732.9 360.1,1734.0 358.7,1729.9 357.3,1727.9 355.9,1729.4 354.5,1727.5 353.1,1727.0 351.7,1737.2 350.3,1726.6 348.9,1724.0 347.5,1728.7 346.1,1723.9 344.7,1721.7 343.3,1724.2 341.9,1720.0 340.5,1719.7 339.2,1717.9 337.8,1715.3 336.4,1719.6 335.0,1713.5 333.6,1714.8 332.2,1714.7 330.8,1713.9 329.4,1717.7 328.0,1710.0 326.6,1708.7 325.2,1709.0 323.8,1708.6 322.4,1707.9 321.0,1705.2 319.6,1704.4 318.2,1703.6 316.8,1700.4 315.4,1699.2 314.0,1698.5 312.6,1698.7 311.2,1699.1 309.8,1696.9 308.4,1695.0 307.0,1694.9 305.6,1695.5 304.2,1691.8 302.8,1690.5 301.4,1691.0 300.0,1691.0 298.6,1689.3 297.2,1688.4 295.8,1688.5 294.4,1690.0 293.0,1687.7 291.6,1686.9 290.2,1686.3 288.8,1684.3 287.4,1684.9 286.0,1684.5 284.6,1681.9 283.2,1680.3 281.8,1679.5 280.4,1677.9 279.0,1676.9 277.6,1674.9 276.2,1674.6 274.8,1675.0 273.4,1672.4 272.0,1674.2 270.6,1671.3 269.2,1670.7 267.8,1669.1" fill="#3cb371" stroke="#3cb371" stroke-width="1.6" stroke-linejoin="round"/>
<polyline points="177.4,1628.7 202.6,1632.8 217.4,1638.3 227.9,1657.4 236.0,1649.7 242.6,1643.9 248.2,1645.1 253.1,1660.6 257.4,1657.0 261.2,1657.4 264.7,1664.6 267.8,1649.7 267.8,1649.1 269.2,1660.5 270.6,1660.3 272.0,1662.6 273.4,1662.4 274.8,1664.2 276.2,1663.9 277.6,1664.8 279.0,1664.4 280.4,1669.2 281.8,1665.4 283.2,1669.4 284.6,1666.5 286.0,1671.3 287.4,1668.8 288.8,1675.2 290.2,1669.4 291.6,1674.4 293.0,1671.5 294.4,1680.6 295.8,1672.8 297.2,1676.3 298.6,1673.9 300.0,1678.3 301.4,1671.8 302.8,1680.2 304.2,1674.1 305.6,1680.8 307.0,1677.5 308.4,1682.5 309.8,1678.8 311.2,1694.1 312.6,1679.7 314.0,1687.5 315.4,1682.5 316.8,1688.4 318.2,1683.1 319.6,1695.6 321.0,1684.7 322.4,1701.0 323.8,1685.2 325.2,1696.4 326.6,1686.6 328.0,1701.8 329.4,1685.1 330.8,1700.0 332.2,1690.4 333.6,1700.1 335.0,1693.8 336.4,1701.1" fill="none" stroke="#b07ce0" stroke-width="2.6" stroke-linejoin="round"/>
<polygon points="267.8,1649.1 269.2,1659.9 270.6,1660.3 272.0,1661.0 273.4,1662.4 274.8,1663.5 276.2,1663.9 277.6,1663.3 279.0,1664.4 280.4,1663.7 281.8,1665.4 283.2,1666.1 284.6,1666.5 286.0,1667.5 287.4,1668.8 288.8,1667.8 290.2,1669.4 291.6,1670.7 293.0,1671.5 294.4,1672.4 295.8,1672.8 297.2,1673.2 298.6,1673.9 300.0,1673.8 301.4,1671.8 302.8,1675.2 304.2,1674.1 305.6,1676.5 307.0,1677.5 308.4,1678.1 309.8,1678.8 311.2,1677.1 312.6,1679.7 314.0,1681.9 315.4,1682.5 316.8,1682.5 318.2,1683.1 319.6,1683.7 321.0,1684.7 322.4,1685.2 323.8,1685.2 325.2,1686.9 326.6,1686.6 328.0,1687.9 329.4,1685.1 330.8,1688.0 332.2,1690.4 333.6,1691.6 335.0,1693.8 336.4,1691.3 337.8,1695.0 339.2,1691.7 340.5,1694.6 341.9,1697.8 343.3,1697.9 344.7,1695.8 346.1,1701.8 347.5,1699.6 348.9,1702.3 350.3,1704.0 351.7,1705.8 353.1,1707.4 354.5,1707.6 355.9,1704.4 357.3,1709.4 358.7,1709.8 360.1,1706.7 361.5,1706.4 362.9,1711.3 364.3,1713.1 365.7,1709.8 367.1,1711.8 368.5,1714.7 369.9,1713.9 371.3,1714.0 372.7,1713.3 374.1,1709.8 375.5,1716.3 376.9,1720.2 378.3,1720.1 379.7,1717.7 381.1,1723.1 382.5,1724.4 383.9,1724.6 385.3,1726.0 386.7,1727.6 388.1,1726.6 389.5,1730.3 390.9,1731.4 392.3,1731.9 393.7,1733.5 395.1,1733.7 396.5,1726.6 397.9,1733.8 399.3,1732.4 400.7,1733.5 402.1,1728.7 403.5,1733.9 404.9,1734.3 406.3,1737.7 407.7,1731.6 409.1,1741.1 410.5,1741.1 411.9,1734.8 413.3,1743.6 414.7,1744.3 416.1,1744.1 417.5,1745.5 418.9,1745.3 420.3,1747.8 421.7,1744.2 423.1,1749.7 424.4,1743.8 425.8,1742.5 427.2,1750.3 428.6,1751.1 430.0,1754.9 431.4,1749.0 432.8,1755.2 434.2,1757.6 435.6,1759.5 437.0,1759.4 438.4,1761.5 439.8,1762.6 441.2,1762.9 442.6,1748.5 444.0,1765.6 445.4,1765.1 446.8,1767.3 448.2,1766.4 449.6,1767.3 451.0,1767.4 452.4,1769.2 453.8,1770.6 455.2,1770.3 456.6,1770.4 458.0,1773.2 459.4,1768.0 460.8,1774.8 462.2,1775.7 463.6,1776.2 465.0,1777.4 466.4,1779.4 467.8,1778.5 469.2,1778.6 470.6,1782.6 472.0,1782.0 473.4,1775.8 474.8,1784.0 476.2,1786.0 477.6,1787.6 479.0,1787.9 480.4,1788.6 481.8,1785.5 483.2,1786.7 484.6,1790.4 486.0,1791.1 487.4,1789.7 488.8,1791.9 490.2,1793.5 491.6,1795.2 493.0,1795.7 494.4,1794.0 495.8,1797.1 497.2,1798.2 498.6,1797.1 500.0,1799.9 501.4,1802.0 502.8,1803.4 504.2,1804.7 505.6,1803.2 507.0,1806.7 508.3,1805.4 509.7,1808.2 511.1,1808.5 512.5,1809.5 513.9,1810.9 515.3,1813.1 516.7,1811.8 518.1,1815.1 519.5,1811.7 520.9,1814.8 522.3,1815.1 523.7,1819.8 525.1,1818.6 526.5,1820.3 527.9,1823.8 529.3,1823.1 530.7,1824.4 532.1,1824.8 533.5,1827.3 534.9,1823.3 536.3,1828.0 537.7,1826.5 539.1,1830.4 540.5,1830.7 541.9,1831.0 543.3,1831.4 544.7,1833.7 546.1,1833.4 547.5,1835.4 548.9,1834.0 550.3,1838.6 551.7,1838.3 553.1,1838.5 554.5,1840.3 555.9,1840.6 557.3,1843.1 558.7,1845.1 560.1,1845.3 561.5,1847.6 562.9,1845.8 564.3,1848.3 565.7,1849.9 567.1,1851.5 568.5,1852.0 569.9,1853.6 571.3,1854.9 572.7,1853.8 574.1,1858.1 575.5,1857.4 576.9,1861.7 578.3,1861.2 579.7,1863.0 581.1,1866.4 582.5,1865.1 583.9,1866.5 585.3,1866.0 586.7,1869.1 588.1,1870.7 589.5,1868.4 590.8,1869.7 592.2,1872.7 593.6,1874.9 595.0,1876.2 595.0,1886.8 593.6,1888.3 592.2,1886.3 590.8,1885.6 589.5,1886.6 588.1,1889.1 586.7,1880.5 585.3,1879.9 583.9,1879.1 582.5,1877.2 581.1,1879.3 579.7,1876.7 578.3,1873.1 576.9,1874.3 575.5,1880.0 574.1,1870.9 572.7,1869.6 571.3,1868.0 569.9,1864.7 568.5,1866.5 567.1,1862.8 565.7,1864.5 564.3,1860.3 562.9,1863.6 561.5,1859.4 560.1,1858.0 558.7,1860.2 557.3,1857.6 555.9,1856.0 554.5,1853.9 553.1,1851.2 551.7,1852.9 550.3,1852.0 548.9,1847.6 547.5,1849.1 546.1,1846.0 544.7,1848.9 543.3,1844.7 541.9,1842.5 540.5,1844.2 539.1,1840.3 537.7,1849.8 536.3,1847.7 534.9,1839.4 533.5,1841.1 532.1,1839.1 530.7,1834.8 529.3,1834.1 527.9,1834.1 526.5,1833.1 525.1,1832.0 523.7,1832.6 522.3,1832.0 520.9,1832.8 519.5,1833.4 518.1,1827.7 516.7,1826.6 515.3,1823.2 513.9,1824.9 512.5,1820.6 511.1,1822.3 509.7,1827.4 508.3,1819.9 507.0,1820.6 505.6,1816.8 504.2,1817.3 502.8,1814.5 501.4,1812.8 500.0,1811.0 498.6,1812.4 497.2,1808.5 495.8,1811.1 494.4,1809.4 493.0,1807.9 491.6,1811.9 490.2,1806.7 488.8,1803.3 487.4,1803.9 486.0,1802.8 484.6,1803.3 483.2,1802.8 481.8,1807.7 480.4,1799.3 479.0,1800.0 477.6,1798.6 476.2,1798.3 474.8,1795.5 473.4,1798.5 472.0,1793.6 470.6,1802.8 469.2,1796.3 467.8,1799.4 466.4,1790.8 465.0,1788.7 463.6,1787.8 462.2,1785.9 460.8,1793.2 459.4,1785.1 458.0,1786.5 456.6,1784.2 455.2,1787.1 453.8,1783.6 452.4,1795.6 451.0,1780.7 449.6,1787.4 448.2,1780.3 446.8,1780.9 445.4,1777.4 444.0,1775.2 442.6,1777.4 441.2,1774.9 439.8,1772.4 438.4,1785.5 437.0,1771.6 435.6,1772.1 434.2,1771.7 432.8,1767.5 431.4,1771.5 430.0,1766.8 428.6,1766.2 427.2,1764.7 425.8,1764.6 424.4,1765.4 423.1,1767.3 421.7,1762.0 420.3,1760.9 418.9,1758.5 417.5,1758.5 416.1,1755.7 414.7,1755.0 413.3,1756.5 411.9,1753.2 410.5,1753.2 409.1,1752.8 407.7,1751.6 406.3,1749.7 404.9,1748.8 403.5,1748.5 402.1,1760.5 400.7,1747.5 399.3,1753.6 397.9,1748.7 396.5,1745.3 395.1,1747.2 393.7,1746.4 392.3,1745.4 390.9,1745.1 389.5,1747.2 388.1,1743.5 386.7,1738.4 385.3,1740.4 383.9,1736.8 382.5,1736.0 381.1,1736.5 379.7,1735.1 378.3,1732.5 376.9,1731.1 375.5,1732.0 374.1,1730.0 372.7,1729.9 371.3,1728.5 369.9,1728.8 368.5,1726.4 367.1,1723.9 365.7,1725.9 364.3,1726.5 362.9,1724.5 361.5,1720.9 360.1,1720.4 358.7,1720.6 357.3,1729.3 355.9,1721.8 354.5,1719.5 353.1,1719.8 351.7,1716.0 350.3,1714.4 348.9,1711.5 347.5,1721.3 346.1,1712.0 344.7,1714.5 343.3,1708.0 341.9,1708.0 340.5,1705.5 339.2,1705.1 337.8,1707.7 336.4,1701.1 335.0,1700.5 333.6,1700.1 332.2,1700.9 330.8,1700.0 329.4,1698.0 328.0,1701.8 326.6,1703.5 325.2,1696.4 323.8,1696.2 322.4,1701.0 321.0,1690.2 319.6,1695.6 318.2,1693.8 316.8,1688.4 315.4,1688.0 314.0,1687.5 312.6,1694.1 311.2,1694.1 309.8,1684.4 308.4,1682.5 307.0,1681.4 305.6,1680.8 304.2,1679.9 302.8,1680.2 301.4,1679.1 300.0,1678.3 298.6,1678.1 297.2,1676.3 295.8,1676.6 294.4,1680.6 293.0,1674.2 291.6,1674.4 290.2,1672.3 288.8,1675.2 287.4,1671.1 286.0,1671.3 284.6,1668.6 283.2,1669.4 281.8,1667.0 280.4,1669.2 279.0,1665.0 277.6,1664.8 276.2,1664.4 274.8,1664.2 273.4,1663.1 272.0,1662.6 270.6,1661.2 269.2,1660.5 267.8,1651.0" fill="#b07ce0" stroke="#b07ce0" stroke-width="1.6" stroke-linejoin="round"/>
<polyline points="177.4,1609.5 202.6,1619.3 217.4,1628.1 227.9,1626.4 236.0,1619.1 242.6,1631.1 248.2,1642.1 253.1,1626.5 257.4,1629.5 261.2,1628.9 264.7,1636.5 267.8,1635.1 267.8,1633.5 269.2,1640.4 270.6,1640.5 272.0,1644.3 273.4,1642.6 274.8,1644.9 276.2,1643.8 277.6,1646.0 279.0,1645.2 280.4,1647.7 281.8,1645.6 283.2,1649.9 284.6,1645.2 286.0,1650.5 287.4,1648.7 288.8,1652.9 290.2,1649.9 291.6,1652.4 293.0,1650.8 294.4,1656.6 295.8,1652.3 297.2,1656.3 298.6,1654.0 300.0,1660.1 301.4,1656.8 302.8,1661.3 304.2,1657.7 305.6,1666.4 307.0,1659.9 308.4,1666.0 309.8,1662.8 311.2,1668.2 312.6,1663.9 314.0,1669.9 315.4,1663.8 316.8,1672.6 318.2,1663.8 319.6,1677.8 321.0,1663.2 322.4,1675.1 323.8,1668.1 325.2,1674.8 326.6,1667.8 328.0,1676.4 329.4,1660.8 330.8,1679.0 332.2,1670.0 333.6,1680.6 335.0,1672.1 336.4,1682.8" fill="none" stroke="#c9a00f" stroke-width="2.6" stroke-linejoin="round"/>
<polygon points="267.8,1633.5 269.2,1639.7 270.6,1640.5 272.0,1640.9 273.4,1642.6 274.8,1642.4 276.2,1643.8 277.6,1644.6 279.0,1645.2 280.4,1646.1 281.8,1645.6 283.2,1645.8 284.6,1645.2 286.0,1648.9 287.4,1648.7 288.8,1649.9 290.2,1649.9 291.6,1650.2 293.0,1650.8 294.4,1651.9 295.8,1652.3 297.2,1649.7 298.6,1654.0 300.0,1655.0 301.4,1656.8 302.8,1653.6 304.2,1657.7 305.6,1659.1 307.0,1659.9 308.4,1653.2 309.8,1662.8 311.2,1661.8 312.6,1663.9 314.0,1662.9 315.4,1663.8 316.8,1666.4 318.2,1663.8 319.6,1665.7 321.0,1663.2 322.4,1667.9 323.8,1668.1 325.2,1665.1 326.6,1667.8 328.0,1668.2 329.4,1660.8 330.8,1670.2 332.2,1670.0 333.6,1673.4 335.0,1672.1 336.4,1673.1 337.8,1675.4 339.2,1676.2 340.5,1672.3 341.9,1679.9 343.3,1680.4 344.7,1680.8 346.1,1679.6 347.5,1680.3 348.9,1678.7 350.3,1683.8 351.7,1685.6 353.1,1686.8 354.5,1688.2 355.9,1685.3 357.3,1686.9 358.7,1687.9 360.1,1688.1 361.5,1690.4 362.9,1691.6 364.3,1692.4 365.7,1687.3 367.1,1693.6 368.5,1693.1 369.9,1694.7 371.3,1692.6 372.7,1694.3 374.1,1697.0 375.5,1697.2 376.9,1696.0 378.3,1697.1 379.7,1698.4 381.1,1696.7 382.5,1704.3 383.9,1703.9 385.3,1703.2 386.7,1706.5 388.1,1708.2 389.5,1709.3 390.9,1709.5 392.3,1710.7 393.7,1712.2 395.1,1700.8 396.5,1712.5 397.9,1713.2 399.3,1714.1 400.7,1716.6 402.1,1717.9 403.5,1717.9 404.9,1720.0 406.3,1713.7 407.7,1722.3 409.1,1720.0 410.5,1715.0 411.9,1724.9 413.3,1725.9 414.7,1726.0 416.1,1725.2 417.5,1719.7 418.9,1726.1 420.3,1727.3 421.7,1729.2 423.1,1725.9 424.4,1731.0 425.8,1733.4 427.2,1734.4 428.6,1736.1 430.0,1733.5 431.4,1737.4 432.8,1738.7 434.2,1735.8 435.6,1742.6 437.0,1743.6 438.4,1742.7 439.8,1740.4 441.2,1745.4 442.6,1745.8 444.0,1747.1 445.4,1746.3 446.8,1747.9 448.2,1748.0 449.6,1749.2 451.0,1750.6 452.4,1750.3 453.8,1751.8 455.2,1752.2 456.6,1753.1 458.0,1747.9 459.4,1747.4 460.8,1756.9 462.2,1757.0 463.6,1759.3 465.0,1759.9 466.4,1761.2 467.8,1761.9 469.2,1763.3 470.6,1762.1 472.0,1765.0 473.4,1763.9 474.8,1765.5 476.2,1762.7 477.6,1769.1 479.0,1762.0 480.4,1769.0 481.8,1769.8 483.2,1772.3 484.6,1771.1 486.0,1771.8 487.4,1775.1 488.8,1772.6 490.2,1778.4 491.6,1779.0 493.0,1775.4 494.4,1777.8 495.8,1779.8 497.2,1782.4 498.6,1781.7 500.0,1782.7 501.4,1783.3 502.8,1783.6 504.2,1784.7 505.6,1786.2 507.0,1783.5 508.3,1788.3 509.7,1788.7 511.1,1785.5 512.5,1791.0 513.9,1792.0 515.3,1790.7 516.7,1791.9 518.1,1793.8 519.5,1794.2 520.9,1793.3 522.3,1791.5 523.7,1796.3 525.1,1796.7 526.5,1798.7 527.9,1800.8 529.3,1802.4 530.7,1804.0 532.1,1803.4 533.5,1806.9 534.9,1806.6 536.3,1807.8 537.7,1811.3 539.1,1810.0 540.5,1813.9 541.9,1808.9 543.3,1814.6 544.7,1815.2 546.1,1814.6 547.5,1811.0 548.9,1817.9 550.3,1818.7 551.7,1818.4 553.1,1820.1 554.5,1821.0 555.9,1819.5 557.3,1823.6 558.7,1820.3 560.1,1825.6 561.5,1823.0 562.9,1829.4 564.3,1825.9 565.7,1827.0 567.1,1832.9 568.5,1833.0 569.9,1833.5 571.3,1833.6 572.7,1835.4 574.1,1832.8 575.5,1837.6 576.9,1840.1 578.3,1841.7 579.7,1841.3 581.1,1843.9 582.5,1845.5 583.9,1843.6 585.3,1846.1 586.7,1849.1 588.1,1849.3 589.5,1852.3 590.8,1854.6 592.2,1853.5 593.6,1855.8 595.0,1850.1 595.0,1871.0 593.6,1872.7 592.2,1868.7 590.8,1867.7 589.5,1865.9 588.1,1868.0 586.7,1859.2 585.3,1859.6 583.9,1858.4 582.5,1862.4 581.1,1862.1 579.7,1854.2 578.3,1851.7 576.9,1858.2 575.5,1848.7 574.1,1847.7 572.7,1848.0 571.3,1850.5 569.9,1854.4 568.5,1846.2 567.1,1844.5 565.7,1846.9 564.3,1844.1 562.9,1840.4 561.5,1839.9 560.1,1839.7 558.7,1839.3 557.3,1834.5 555.9,1833.1 554.5,1831.3 553.1,1832.1 551.7,1830.2 550.3,1832.2 548.9,1834.4 547.5,1830.9 546.1,1831.6 544.7,1828.3 543.3,1836.5 541.9,1831.3 540.5,1827.0 539.1,1826.1 537.7,1825.2 536.3,1822.0 534.9,1824.9 533.5,1817.5 532.1,1818.5 530.7,1818.3 529.3,1821.9 527.9,1817.8 526.5,1814.1 525.1,1808.7 523.7,1815.6 522.3,1807.4 520.9,1809.9 519.5,1811.3 518.1,1807.2 516.7,1807.5 515.3,1802.3 513.9,1805.0 512.5,1801.5 511.1,1802.2 509.7,1806.6 508.3,1802.3 507.0,1798.5 505.6,1796.6 504.2,1797.2 502.8,1796.4 501.4,1793.9 500.0,1794.3 498.6,1793.5 497.2,1794.0 495.8,1792.3 494.4,1792.5 493.0,1790.4 491.6,1789.3 490.2,1790.1 488.8,1787.3 487.4,1787.0 486.0,1785.4 484.6,1787.6 483.2,1783.1 481.8,1788.5 480.4,1786.2 479.0,1781.5 477.6,1784.3 476.2,1790.1 474.8,1780.4 473.4,1778.4 472.0,1778.0 470.6,1777.8 469.2,1776.9 467.8,1774.4 466.4,1778.7 465.0,1770.0 463.6,1774.7 462.2,1772.5 460.8,1767.6 459.4,1766.6 458.0,1765.9 456.6,1766.2 455.2,1766.1 453.8,1765.3 452.4,1768.1 451.0,1765.8 449.6,1768.4 448.2,1761.1 446.8,1761.2 445.4,1762.2 444.0,1758.4 442.6,1759.7 441.2,1759.7 439.8,1760.1 438.4,1762.2 437.0,1760.7 435.6,1755.3 434.2,1758.0 432.8,1753.9 431.4,1751.9 430.0,1748.7 428.6,1746.3 427.2,1749.5 425.8,1744.6 424.4,1744.3 423.1,1740.8 421.7,1744.1 420.3,1744.9 418.9,1738.7 417.5,1740.6 416.1,1744.1 414.7,1739.3 413.3,1738.9 411.9,1740.0 410.5,1736.6 409.1,1733.7 407.7,1732.9 406.3,1732.5 404.9,1738.0 403.5,1729.8 402.1,1730.3 400.7,1728.8 399.3,1725.7 397.9,1729.0 396.5,1725.0 395.1,1725.7 393.7,1726.5 392.3,1723.2 390.9,1722.1 389.5,1719.4 388.1,1724.5 386.7,1719.1 385.3,1716.8 383.9,1718.5 382.5,1718.1 381.1,1720.5 379.7,1713.4 378.3,1710.3 376.9,1710.3 375.5,1711.3 374.1,1710.5 372.7,1712.2 371.3,1710.8 369.9,1713.1 368.5,1706.2 367.1,1704.1 365.7,1706.4 364.3,1707.2 362.9,1707.6 361.5,1703.3 360.1,1709.6 358.7,1700.0 357.3,1699.5 355.9,1701.2 354.5,1697.5 353.1,1697.3 351.7,1696.0 350.3,1695.5 348.9,1693.8 347.5,1695.9 346.1,1690.8 344.7,1693.8 343.3,1699.2 341.9,1700.6 340.5,1688.3 339.2,1686.5 337.8,1683.1 336.4,1682.8 335.0,1685.6 333.6,1680.6 332.2,1679.6 330.8,1679.0 329.4,1682.3 328.0,1676.4 326.6,1678.0 325.2,1674.8 323.8,1674.8 322.4,1675.1 321.0,1676.8 319.6,1677.8 318.2,1672.9 316.8,1672.6 315.4,1671.4 314.0,1669.9 312.6,1671.1 311.2,1668.2 309.8,1667.8 308.4,1666.0 307.0,1668.7 305.6,1666.4 304.2,1664.7 302.8,1661.3 301.4,1666.2 300.0,1660.1 298.6,1657.7 297.2,1656.3 295.8,1657.2 294.4,1656.6 293.0,1653.9 291.6,1652.4 290.2,1651.9 288.8,1652.9 287.4,1651.8 286.0,1650.5 284.6,1653.3 283.2,1649.9 281.8,1648.7 280.4,1647.7 279.0,1646.3 277.6,1646.0 276.2,1644.9 274.8,1644.9 273.4,1642.9 272.0,1644.3 270.6,1641.4 269.2,1640.4 267.8,1638.7" fill="#c9a00f" stroke="#c9a00f" stroke-width="1.6" stroke-linejoin="round"/>
<polyline points="177.4,1582.1 202.6,1591.6 217.4,1598.4 227.9,1615.0 236.0,1607.8 242.6,1620.4 248.2,1602.3 253.1,1605.3 257.4,1604.0 261.2,1619.0 264.7,1622.8 267.8,1612.3 267.8,1610.9 269.2,1614.6 270.6,1614.1 272.0,1615.2 273.4,1615.2 274.8,1617.9 276.2,1616.3 277.6,1617.3 279.0,1618.0 280.4,1619.0 281.8,1619.3 283.2,1623.3 284.6,1618.9 286.0,1622.7 287.4,1621.2 288.8,1624.6 290.2,1622.0 291.6,1626.5 293.0,1625.0 294.4,1633.9 295.8,1624.2 297.2,1633.1 298.6,1626.4 300.0,1635.4 301.4,1630.4 302.8,1636.7 304.2,1631.6 305.6,1636.0 307.0,1628.8 308.4,1636.8 309.8,1633.7 311.2,1637.7 312.6,1631.0 314.0,1643.7 315.4,1633.2 316.8,1642.8 318.2,1635.9 319.6,1646.4 321.0,1637.7 322.4,1646.6 323.8,1637.3 325.2,1655.1 326.6,1641.1 328.0,1652.6 329.4,1643.8 330.8,1652.6 332.2,1641.9 333.6,1656.5 335.0,1647.5 336.4,1656.5" fill="none" stroke="#2e5ca8" stroke-width="2.6" stroke-linejoin="round"/>
<polygon points="267.8,1610.9 269.2,1614.3 270.6,1614.1 272.0,1615.0 273.4,1615.2 274.8,1615.2 276.2,1616.3 277.6,1617.0 279.0,1618.0 280.4,1618.2 281.8,1619.3 283.2,1619.6 284.6,1618.9 286.0,1619.9 287.4,1621.2 288.8,1620.4 290.2,1622.0 291.6,1622.2 293.0,1625.0 294.4,1625.1 295.8,1624.2 297.2,1627.0 298.6,1626.4 300.0,1630.3 301.4,1630.4 302.8,1630.1 304.2,1631.6 305.6,1630.4 307.0,1628.8 308.4,1632.0 309.8,1633.7 311.2,1631.7 312.6,1631.0 314.0,1634.9 315.4,1633.2 316.8,1635.8 318.2,1635.9 319.6,1637.0 321.0,1637.7 322.4,1639.4 323.8,1637.3 325.2,1638.1 326.6,1641.1 328.0,1639.2 329.4,1643.8 330.8,1643.9 332.2,1641.9 333.6,1645.8 335.0,1647.5 336.4,1649.1 337.8,1647.6 339.2,1648.5 340.5,1646.9 341.9,1651.0 343.3,1652.4 344.7,1650.8 346.1,1654.6 347.5,1655.2 348.9,1653.3 350.3,1656.2 351.7,1655.4 353.1,1651.9 354.5,1657.6 355.9,1657.3 357.3,1657.7 358.7,1661.6 360.1,1661.7 361.5,1661.0 362.9,1660.5 364.3,1664.5 365.7,1665.7 367.1,1663.5 368.5,1668.2 369.9,1667.8 371.3,1666.0 372.7,1671.7 374.1,1669.1 375.5,1671.7 376.9,1669.8 378.3,1672.8 379.7,1671.0 381.1,1676.5 382.5,1677.2 383.9,1675.9 385.3,1679.5 386.7,1672.9 388.1,1680.1 389.5,1678.7 390.9,1681.4 392.3,1681.3 393.7,1685.7 395.1,1683.4 396.5,1688.3 397.9,1688.3 399.3,1688.3 400.7,1688.7 402.1,1688.6 403.5,1689.4 404.9,1690.5 406.3,1691.9 407.7,1687.2 409.1,1692.7 410.5,1688.1 411.9,1695.3 413.3,1692.3 414.7,1695.0 416.1,1695.5 417.5,1694.9 418.9,1699.8 420.3,1693.8 421.7,1700.6 423.1,1701.8 424.4,1699.7 425.8,1703.9 427.2,1706.3 428.6,1705.7 430.0,1705.7 431.4,1709.5 432.8,1710.6 434.2,1710.9 435.6,1712.3 437.0,1710.9 438.4,1712.2 439.8,1714.3 441.2,1711.8 442.6,1716.0 444.0,1717.8 445.4,1719.0 446.8,1718.9 448.2,1720.6 449.6,1720.8 451.0,1716.8 452.4,1722.2 453.8,1720.1 455.2,1722.0 456.6,1726.9 458.0,1724.5 459.4,1728.8 460.8,1726.2 462.2,1730.9 463.6,1732.3 465.0,1732.7 466.4,1734.2 467.8,1734.0 469.2,1734.9 470.6,1735.8 472.0,1736.6 473.4,1737.6 474.8,1737.6 476.2,1739.3 477.6,1740.7 479.0,1739.7 480.4,1739.5 481.8,1743.5 483.2,1740.9 484.6,1747.1 486.0,1747.6 487.4,1747.5 488.8,1749.5 490.2,1750.8 491.6,1751.0 493.0,1750.6 494.4,1753.0 495.8,1754.1 497.2,1754.3 498.6,1750.3 500.0,1755.0 501.4,1753.4 502.8,1755.8 504.2,1751.9 505.6,1758.5 507.0,1759.3 508.3,1756.4 509.7,1758.9 511.1,1756.4 512.5,1759.0 513.9,1763.4 515.3,1760.8 516.7,1767.3 518.1,1766.6 519.5,1767.0 520.9,1769.2 522.3,1768.5 523.7,1770.6 525.1,1773.2 526.5,1770.7 527.9,1773.6 529.3,1776.4 530.7,1776.1 532.1,1776.3 533.5,1775.3 534.9,1779.9 536.3,1776.6 537.7,1782.0 539.1,1783.5 540.5,1783.8 541.9,1781.7 543.3,1781.8 544.7,1784.9 546.1,1786.9 547.5,1789.6 548.9,1791.6 550.3,1792.8 551.7,1792.7 553.1,1791.7 554.5,1796.6 555.9,1795.8 557.3,1789.9 558.7,1799.2 560.1,1800.3 561.5,1801.3 562.9,1802.2 564.3,1803.4 565.7,1802.2 567.1,1804.1 568.5,1804.7 569.9,1808.4 571.3,1802.2 572.7,1808.6 574.1,1809.9 575.5,1810.2 576.9,1813.0 578.3,1814.0 579.7,1811.0 581.1,1816.7 582.5,1819.2 583.9,1817.9 585.3,1819.8 586.7,1821.1 588.1,1821.0 589.5,1825.1 590.8,1826.2 592.2,1824.1 593.6,1829.6 595.0,1831.5 595.0,1845.9 593.6,1840.4 592.2,1838.5 590.8,1837.5 589.5,1835.3 588.1,1835.8 586.7,1836.8 585.3,1831.5 583.9,1829.8 582.5,1831.7 581.1,1827.9 579.7,1835.7 578.3,1823.9 576.9,1824.1 575.5,1822.2 574.1,1824.0 572.7,1821.4 571.3,1822.8 569.9,1819.1 568.5,1819.6 567.1,1816.1 565.7,1822.7 564.3,1815.2 562.9,1816.6 561.5,1812.7 560.1,1821.6 558.7,1815.2 557.3,1809.1 555.9,1807.3 554.5,1811.9 553.1,1808.0 551.7,1810.1 550.3,1804.1 548.9,1802.8 547.5,1802.3 546.1,1801.8 544.7,1800.2 543.3,1798.6 541.9,1798.7 540.5,1795.8 539.1,1797.0 537.7,1803.2 536.3,1801.6 534.9,1791.8 533.5,1789.4 532.1,1791.2 530.7,1788.5 529.3,1791.1 527.9,1787.9 526.5,1788.9 525.1,1783.5 523.7,1782.9 522.3,1784.5 520.9,1782.0 519.5,1780.9 518.1,1780.2 516.7,1781.9 515.3,1776.3 513.9,1775.9 512.5,1778.0 511.1,1781.0 509.7,1776.6 508.3,1774.2 507.0,1772.6 505.6,1772.5 504.2,1768.5 502.8,1768.1 501.4,1771.3 500.0,1767.7 498.6,1769.7 497.2,1764.9 495.8,1768.4 494.4,1764.4 493.0,1770.2 491.6,1766.4 490.2,1760.7 488.8,1763.0 487.4,1763.8 486.0,1760.0 484.6,1763.6 483.2,1754.8 481.8,1757.8 480.4,1762.9 479.0,1753.2 477.6,1753.8 476.2,1749.6 474.8,1750.3 473.4,1748.7 472.0,1749.5 470.6,1751.4 469.2,1748.0 467.8,1755.1 466.4,1745.3 465.0,1745.8 463.6,1748.3 462.2,1742.0 460.8,1745.5 459.4,1738.4 458.0,1744.1 456.6,1737.9 455.2,1745.4 453.8,1735.5 452.4,1736.0 451.0,1734.6 449.6,1736.5 448.2,1731.8 446.8,1729.9 445.4,1731.4 444.0,1730.6 442.6,1730.2 441.2,1727.0 439.8,1727.6 438.4,1724.9 437.0,1725.4 435.6,1722.9 434.2,1727.4 432.8,1722.1 431.4,1720.3 430.0,1724.5 428.6,1717.5 427.2,1718.6 425.8,1719.6 424.4,1720.2 423.1,1714.3 421.7,1713.2 420.3,1717.8 418.9,1714.2 417.5,1711.6 416.1,1709.1 414.7,1708.7 413.3,1712.6 411.9,1707.3 410.5,1706.0 409.1,1704.3 407.7,1704.9 406.3,1705.3 404.9,1706.2 403.5,1706.1 402.1,1703.1 400.7,1699.6 399.3,1699.0 397.9,1701.1 396.5,1707.3 395.1,1700.5 393.7,1698.3 392.3,1695.7 390.9,1696.2 389.5,1693.8 388.1,1693.5 386.7,1700.5 385.3,1694.4 383.9,1691.5 382.5,1688.2 381.1,1688.3 379.7,1693.1 378.3,1689.0 376.9,1685.3 375.5,1686.9 374.1,1688.0 372.7,1691.9 371.3,1680.1 369.9,1684.2 368.5,1681.6 367.1,1677.3 365.7,1686.3 364.3,1680.7 362.9,1673.4 361.5,1673.5 360.1,1674.5 358.7,1674.4 357.3,1672.2 355.9,1672.5 354.5,1669.0 353.1,1670.7 351.7,1669.2 350.3,1666.5 348.9,1670.0 347.5,1663.9 346.1,1664.2 344.7,1663.6 343.3,1660.2 341.9,1663.5 340.5,1658.9 339.2,1660.0 337.8,1658.6 336.4,1656.5 335.0,1656.8 333.6,1656.5 332.2,1665.0 330.8,1652.6 329.4,1652.2 328.0,1652.6 326.6,1654.6 325.2,1655.1 323.8,1651.0 322.4,1646.6 321.0,1647.5 319.6,1646.4 318.2,1646.7 316.8,1642.8 315.4,1640.5 314.0,1643.7 312.6,1641.6 311.2,1637.7 309.8,1639.1 308.4,1636.8 307.0,1637.7 305.6,1636.0 304.2,1636.0 302.8,1636.7 301.4,1635.0 300.0,1635.4 298.6,1632.3 297.2,1633.1 295.8,1630.7 294.4,1633.9 293.0,1628.5 291.6,1626.5 290.2,1625.4 288.8,1624.6 287.4,1623.7 286.0,1622.7 284.6,1623.2 283.2,1623.3 281.8,1620.3 280.4,1619.0 279.0,1619.1 277.6,1617.3 276.2,1618.0 274.8,1617.9 273.4,1616.7 272.0,1615.2 270.6,1616.5 269.2,1614.6 267.8,1613.4" fill="#2e5ca8" stroke="#2e5ca8" stroke-width="1.6" stroke-linejoin="round"/>
<polyline points="177.4,1563.5 202.6,1580.1 217.4,1582.0 227.9,1586.2 236.0,1580.7 242.6,1590.8 248.2,1603.4 253.1,1585.7 257.4,1584.8 261.2,1590.3 264.7,1587.9 267.8,1594.5 267.8,1591.8 269.2,1596.8 270.6,1596.1 272.0,1598.9 273.4,1596.4 274.8,1598.1 276.2,1597.6 277.6,1597.7 279.0,1597.9 280.4,1600.0 281.8,1595.9 283.2,1601.0 284.6,1599.3 286.0,1602.0 287.4,1599.6 288.8,1604.8 290.2,1601.5 291.6,1607.5 293.0,1600.5 294.4,1609.3 295.8,1607.0 297.2,1611.9 298.6,1607.3 300.0,1615.1 301.4,1610.0 302.8,1615.6 304.2,1610.3 305.6,1617.2 307.0,1614.0 308.4,1621.6 309.8,1615.5 311.2,1622.7 312.6,1615.4 314.0,1625.5 315.4,1619.7 316.8,1627.6 318.2,1619.5 319.6,1628.7 321.0,1618.0 322.4,1630.9 323.8,1620.3 325.2,1629.3 326.6,1618.0 328.0,1632.5 329.4,1623.5 330.8,1633.3 332.2,1626.2 333.6,1637.5 335.0,1628.8 336.4,1639.7" fill="none" stroke="#7d4f4f" stroke-width="2.6" stroke-linejoin="round"/>
<polygon points="267.8,1591.8 269.2,1595.5 270.6,1596.1 272.0,1595.7 273.4,1596.4 274.8,1597.3 276.2,1597.6 277.6,1596.6 279.0,1597.9 280.4,1598.3 281.8,1595.9 283.2,1599.0 284.6,1599.3 286.0,1600.9 287.4,1599.6 288.8,1602.8 290.2,1601.5 291.6,1604.3 293.0,1600.5 294.4,1605.6 295.8,1607.0 297.2,1607.1 298.6,1607.3 300.0,1607.5 301.4,1610.0 302.8,1610.9 304.2,1610.3 305.6,1612.3 307.0,1614.0 308.4,1615.1 309.8,1615.5 311.2,1616.6 312.6,1615.4 314.0,1617.8 315.4,1619.7 316.8,1618.1 318.2,1619.5 319.6,1620.0 321.0,1618.0 322.4,1622.1 323.8,1620.3 325.2,1623.3 326.6,1618.0 328.0,1623.9 329.4,1623.5 330.8,1626.9 332.2,1626.2 333.6,1625.9 335.0,1628.8 336.4,1630.4 337.8,1631.1 339.2,1629.7 340.5,1632.7 341.9,1633.0 343.3,1630.9 344.7,1634.2 346.1,1636.1 347.5,1634.9 348.9,1635.6 350.3,1636.8 351.7,1637.6 353.1,1638.5 354.5,1636.8 355.9,1639.6 357.3,1641.2 358.7,1643.2 360.1,1643.1 361.5,1643.2 362.9,1645.1 364.3,1647.3 365.7,1647.8 367.1,1646.7 368.5,1650.5 369.9,1651.7 371.3,1652.2 372.7,1640.6 374.1,1653.4 375.5,1652.3 376.9,1653.5 378.3,1653.7 379.7,1655.2 381.1,1658.1 382.5,1654.0 383.9,1659.6 385.3,1660.0 386.7,1660.6 388.1,1662.7 389.5,1660.3 390.9,1661.0 392.3,1663.2 393.7,1667.3 395.1,1667.0 396.5,1668.9 397.9,1668.3 399.3,1668.0 400.7,1669.2 402.1,1670.0 403.5,1671.1 404.9,1672.3 406.3,1674.1 407.7,1675.3 409.1,1675.3 410.5,1674.9 411.9,1674.5 413.3,1679.0 414.7,1679.9 416.1,1680.5 417.5,1679.6 418.9,1684.3 420.3,1684.8 421.7,1684.0 423.1,1681.5 424.4,1682.3 425.8,1688.6 427.2,1690.3 428.6,1689.9 430.0,1691.6 431.4,1692.2 432.8,1693.7 434.2,1694.8 435.6,1692.6 437.0,1694.7 438.4,1696.3 439.8,1695.8 441.2,1691.4 442.6,1696.6 444.0,1698.6 445.4,1698.6 446.8,1700.3 448.2,1701.2 449.6,1701.0 451.0,1703.7 452.4,1705.2 453.8,1704.8 455.2,1704.8 456.6,1708.0 458.0,1708.4 459.4,1705.6 460.8,1711.3 462.2,1712.0 463.6,1708.3 465.0,1712.0 466.4,1714.7 467.8,1715.0 469.2,1716.5 470.6,1718.5 472.0,1715.9 473.4,1718.8 474.8,1719.9 476.2,1709.6 477.6,1721.4 479.0,1720.9 480.4,1720.9 481.8,1719.2 483.2,1727.0 484.6,1728.5 486.0,1728.1 487.4,1728.5 488.8,1728.2 490.2,1729.9 491.6,1730.2 493.0,1730.3 494.4,1732.8 495.8,1728.9 497.2,1731.8 498.6,1734.3 500.0,1733.5 501.4,1733.0 502.8,1737.9 504.2,1736.4 505.6,1738.9 507.0,1740.1 508.3,1742.4 509.7,1736.2 511.1,1744.9 512.5,1745.7 513.9,1744.5 515.3,1743.5 516.7,1745.2 518.1,1748.2 519.5,1746.9 520.9,1750.3 522.3,1749.3 523.7,1751.6 525.1,1751.7 526.5,1751.1 527.9,1755.5 529.3,1753.2 530.7,1754.3 532.1,1751.3 533.5,1756.0 534.9,1754.3 536.3,1758.0 537.7,1761.3 539.1,1762.4 540.5,1764.3 541.9,1765.5 543.3,1768.0 544.7,1767.7 546.1,1766.6 547.5,1770.4 548.9,1772.4 550.3,1771.9 551.7,1773.7 553.1,1774.5 554.5,1775.3 555.9,1775.2 557.3,1773.0 558.7,1779.9 560.1,1778.6 561.5,1781.9 562.9,1782.4 564.3,1784.0 565.7,1782.7 567.1,1785.9 568.5,1785.9 569.9,1789.0 571.3,1788.3 572.7,1789.7 574.1,1790.7 575.5,1791.6 576.9,1795.7 578.3,1794.2 579.7,1798.2 581.1,1799.3 582.5,1792.3 583.9,1800.5 585.3,1800.9 586.7,1802.8 588.1,1803.4 589.5,1802.6 590.8,1806.7 592.2,1806.9 593.6,1801.8 595.0,1810.7 595.0,1822.8 593.6,1821.2 592.2,1818.7 590.8,1822.8 589.5,1817.4 588.1,1816.2 586.7,1816.8 585.3,1820.3 583.9,1812.8 582.5,1816.6 581.1,1808.8 579.7,1809.7 578.3,1807.3 576.9,1813.4 575.5,1804.9 574.1,1804.6 572.7,1804.9 571.3,1800.4 569.9,1799.8 568.5,1804.6 567.1,1799.4 565.7,1803.9 564.3,1795.7 562.9,1799.7 561.5,1791.8 560.1,1793.9 558.7,1793.1 557.3,1789.0 555.9,1790.2 554.5,1788.2 553.1,1788.5 551.7,1791.1 550.3,1786.1 548.9,1786.2 547.5,1789.2 546.1,1780.4 544.7,1783.1 543.3,1779.8 541.9,1780.8 540.5,1777.4 539.1,1781.4 537.7,1772.8 536.3,1772.6 534.9,1774.2 533.5,1770.6 532.1,1771.3 530.7,1770.7 529.3,1766.1 527.9,1766.6 526.5,1767.2 525.1,1764.1 523.7,1762.9 522.3,1764.6 520.9,1761.4 519.5,1761.1 518.1,1760.7 516.7,1758.7 515.3,1760.7 513.9,1759.0 512.5,1759.5 511.1,1757.5 509.7,1756.7 508.3,1756.8 507.0,1760.3 505.6,1753.4 504.2,1749.5 502.8,1748.0 501.4,1753.3 500.0,1755.4 498.6,1748.8 497.2,1744.4 495.8,1745.0 494.4,1745.8 493.0,1745.2 491.6,1745.4 490.2,1741.0 488.8,1741.8 487.4,1739.3 486.0,1741.3 484.6,1738.7 483.2,1746.0 481.8,1740.4 480.4,1736.6 479.0,1734.6 477.6,1738.5 476.2,1736.3 474.8,1731.8 473.4,1738.0 472.0,1728.7 470.6,1735.3 469.2,1729.1 467.8,1726.5 466.4,1725.8 465.0,1727.4 463.6,1728.0 462.2,1726.8 460.8,1727.3 459.4,1721.6 458.0,1731.0 456.6,1719.0 455.2,1718.3 453.8,1717.7 452.4,1716.7 451.0,1714.8 449.6,1716.4 448.2,1712.0 446.8,1712.7 445.4,1711.1 444.0,1711.0 442.6,1715.3 441.2,1709.0 439.8,1709.4 438.4,1707.6 437.0,1708.9 435.6,1708.2 434.2,1705.2 432.8,1705.3 431.4,1714.7 430.0,1702.8 428.6,1702.5 427.2,1700.5 425.8,1704.1 424.4,1701.8 423.1,1700.4 421.7,1697.5 420.3,1696.8 418.9,1696.3 417.5,1694.7 416.1,1697.6 414.7,1691.0 413.3,1692.3 411.9,1688.7 410.5,1690.8 409.1,1686.5 407.7,1688.4 406.3,1691.4 404.9,1684.4 403.5,1681.8 402.1,1680.7 400.7,1681.3 399.3,1684.6 397.9,1682.1 396.5,1682.9 395.1,1684.5 393.7,1679.7 392.3,1687.4 390.9,1677.7 389.5,1676.2 388.1,1675.1 386.7,1679.2 385.3,1672.9 383.9,1672.3 382.5,1672.6 381.1,1669.8 379.7,1674.4 378.3,1666.5 376.9,1666.9 375.5,1665.5 374.1,1664.7 372.7,1663.4 371.3,1663.0 369.9,1662.8 368.5,1666.5 367.1,1659.6 365.7,1660.5 364.3,1657.0 362.9,1656.3 361.5,1658.4 360.1,1657.8 358.7,1653.8 357.3,1665.3 355.9,1656.1 354.5,1649.3 353.1,1650.3 351.7,1657.5 350.3,1649.9 348.9,1649.2 347.5,1646.2 346.1,1645.9 344.7,1643.3 343.3,1643.3 341.9,1649.6 340.5,1642.7 339.2,1643.0 337.8,1641.8 336.4,1639.7 335.0,1637.4 333.6,1637.5 332.2,1635.6 330.8,1633.3 329.4,1632.8 328.0,1632.5 326.6,1632.2 325.2,1629.3 323.8,1629.7 322.4,1630.9 321.0,1638.7 319.6,1628.7 318.2,1628.2 316.8,1627.6 315.4,1633.3 314.0,1625.5 312.6,1624.8 311.2,1622.7 309.8,1620.1 308.4,1621.6 307.0,1619.3 305.6,1617.2 304.2,1615.3 302.8,1615.6 301.4,1618.4 300.0,1615.1 298.6,1612.3 297.2,1611.9 295.8,1611.5 294.4,1609.3 293.0,1608.2 291.6,1607.5 290.2,1606.1 288.8,1604.8 287.4,1604.4 286.0,1602.0 284.6,1603.2 283.2,1601.0 281.8,1600.8 280.4,1600.0 279.0,1600.3 277.6,1597.7 276.2,1598.3 274.8,1598.1 273.4,1597.2 272.0,1598.9 270.6,1597.0 269.2,1596.8 267.8,1594.9" fill="#7d4f4f" stroke="#7d4f4f" stroke-width="1.6" stroke-linejoin="round"/>
<line x1="181.3" y1="1465.3" x2="592.9" y2="1739.1" stroke="#000" stroke-width="3" stroke-dasharray="0.1 6" stroke-linecap="round"/>
<rect x="152.5" y="1462.9" width="460.4" height="560.5" fill="none" stroke="#000" stroke-width="5" stroke-linejoin="miter"/>
<text x="456" y="1618.7" font-size="31.5" text-anchor="middle" fill="#141a2e" font-family="'Liberation Sans',Arial,sans-serif" font-weight="bold" >1/f</text>
<text x="563.5" y="1518.6" font-size="31.5" text-anchor="end" fill="#000" font-family="'Liberation Sans',Arial,sans-serif" font-weight="bold" >PEAI</text>
<text x="166.5" y="1949" font-size="30.5" textLength="115" lengthAdjust="spacingAndGlyphs" font-family="'Liberation Sans',Arial,sans-serif" font-weight="bold">V<tspan font-size="19.5" dy="7.5">DS</tspan><tspan dy="-7.5">=-1 V</tspan></text>
<text x="166.5" y="1994" font-size="30.5" textLength="432.5" lengthAdjust="spacingAndGlyphs" font-family="'Liberation Sans',Arial,sans-serif" font-weight="bold">V<tspan font-size="19.5" dy="7.5">GS</tspan><tspan dy="-7.5"> from -4 V to -32 V,step=-4 V</tspan></text>
<text x="693.4" y="1448.8" font-size="50" text-anchor="start" fill="#000" font-family="'Liberation Serif','Times New Roman',serif" font-weight="bold" >h</text>
<line x1="840.8" y1="2023.8" x2="840.8" y2="2035.3" stroke="#000" stroke-width="5" />
<line x1="924.8" y1="2023.8" x2="924.8" y2="2035.3" stroke="#000" stroke-width="5" />
<line x1="1008.8" y1="2023.8" x2="1008.8" y2="2035.3" stroke="#000" stroke-width="5" />
<line x1="1092.8" y1="2023.8" x2="1092.8" y2="2035.3" stroke="#000" stroke-width="5" />
<line x1="1176.8" y1="2023.8" x2="1176.8" y2="2035.3" stroke="#000" stroke-width="5" />
<line x1="1260.8" y1="2023.8" x2="1260.8" y2="2035.3" stroke="#000" stroke-width="5" />
<line x1="822.16" y1="2023.8" x2="822.16" y2="2029.3" stroke="#000" stroke-width="4" />
<line x1="827.79" y1="2023.8" x2="827.79" y2="2029.3" stroke="#000" stroke-width="4" />
<line x1="832.66" y1="2023.8" x2="832.66" y2="2029.3" stroke="#000" stroke-width="4" />
<line x1="836.96" y1="2023.8" x2="836.96" y2="2029.3" stroke="#000" stroke-width="4" />
<line x1="866.09" y1="2023.8" x2="866.09" y2="2029.3" stroke="#000" stroke-width="4" />
<line x1="880.88" y1="2023.8" x2="880.88" y2="2029.3" stroke="#000" stroke-width="4" />
<line x1="891.37" y1="2023.8" x2="891.37" y2="2029.3" stroke="#000" stroke-width="4" />
<line x1="899.51" y1="2023.8" x2="899.51" y2="2029.3" stroke="#000" stroke-width="4" />
<line x1="906.16" y1="2023.8" x2="906.16" y2="2029.3" stroke="#000" stroke-width="4" />
<line x1="911.79" y1="2023.8" x2="911.79" y2="2029.3" stroke="#000" stroke-width="4" />
<line x1="916.66" y1="2023.8" x2="916.66" y2="2029.3" stroke="#000" stroke-width="4" />
<line x1="920.96" y1="2023.8" x2="920.96" y2="2029.3" stroke="#000" stroke-width="4" />
<line x1="950.09" y1="2023.8" x2="950.09" y2="2029.3" stroke="#000" stroke-width="4" />
<line x1="964.88" y1="2023.8" x2="964.88" y2="2029.3" stroke="#000" stroke-width="4" />
<line x1="975.37" y1="2023.8" x2="975.37" y2="2029.3" stroke="#000" stroke-width="4" />
<line x1="983.51" y1="2023.8" x2="983.51" y2="2029.3" stroke="#000" stroke-width="4" />
<line x1="990.16" y1="2023.8" x2="990.16" y2="2029.3" stroke="#000" stroke-width="4" />
<line x1="995.79" y1="2023.8" x2="995.79" y2="2029.3" stroke="#000" stroke-width="4" />
<line x1="1000.66" y1="2023.8" x2="1000.66" y2="2029.3" stroke="#000" stroke-width="4" />
<line x1="1004.96" y1="2023.8" x2="1004.96" y2="2029.3" stroke="#000" stroke-width="4" />
<line x1="1034.09" y1="2023.8" x2="1034.09" y2="2029.3" stroke="#000" stroke-width="4" />
<line x1="1048.88" y1="2023.8" x2="1048.88" y2="2029.3" stroke="#000" stroke-width="4" />
<line x1="1059.37" y1="2023.8" x2="1059.37" y2="2029.3" stroke="#000" stroke-width="4" />
<line x1="1067.51" y1="2023.8" x2="1067.51" y2="2029.3" stroke="#000" stroke-width="4" />
<line x1="1074.16" y1="2023.8" x2="1074.16" y2="2029.3" stroke="#000" stroke-width="4" />
<line x1="1079.79" y1="2023.8" x2="1079.79" y2="2029.3" stroke="#000" stroke-width="4" />
<line x1="1084.66" y1="2023.8" x2="1084.66" y2="2029.3" stroke="#000" stroke-width="4" />
<line x1="1088.96" y1="2023.8" x2="1088.96" y2="2029.3" stroke="#000" stroke-width="4" />
<line x1="1118.09" y1="2023.8" x2="1118.09" y2="2029.3" stroke="#000" stroke-width="4" />
<line x1="1132.88" y1="2023.8" x2="1132.88" y2="2029.3" stroke="#000" stroke-width="4" />
<line x1="1143.37" y1="2023.8" x2="1143.37" y2="2029.3" stroke="#000" stroke-width="4" />
<line x1="1151.51" y1="2023.8" x2="1151.51" y2="2029.3" stroke="#000" stroke-width="4" />
<line x1="1158.16" y1="2023.8" x2="1158.16" y2="2029.3" stroke="#000" stroke-width="4" />
<line x1="1163.79" y1="2023.8" x2="1163.79" y2="2029.3" stroke="#000" stroke-width="4" />
<line x1="1168.66" y1="2023.8" x2="1168.66" y2="2029.3" stroke="#000" stroke-width="4" />
<line x1="1172.96" y1="2023.8" x2="1172.96" y2="2029.3" stroke="#000" stroke-width="4" />
<line x1="1202.09" y1="2023.8" x2="1202.09" y2="2029.3" stroke="#000" stroke-width="4" />
<line x1="1216.88" y1="2023.8" x2="1216.88" y2="2029.3" stroke="#000" stroke-width="4" />
<line x1="1227.37" y1="2023.8" x2="1227.37" y2="2029.3" stroke="#000" stroke-width="4" />
<line x1="1235.51" y1="2023.8" x2="1235.51" y2="2029.3" stroke="#000" stroke-width="4" />
<line x1="1242.16" y1="2023.8" x2="1242.16" y2="2029.3" stroke="#000" stroke-width="4" />
<line x1="1247.79" y1="2023.8" x2="1247.79" y2="2029.3" stroke="#000" stroke-width="4" />
<line x1="1252.66" y1="2023.8" x2="1252.66" y2="2029.3" stroke="#000" stroke-width="4" />
<line x1="1256.96" y1="2023.8" x2="1256.96" y2="2029.3" stroke="#000" stroke-width="4" />
<line x1="815.5" y1="2024.3" x2="804" y2="2024.3" stroke="#000" stroke-width="5" />
<line x1="815.5" y1="1968.15" x2="804" y2="1968.15" stroke="#000" stroke-width="5" />
<line x1="815.5" y1="1912" x2="804" y2="1912" stroke="#000" stroke-width="5" />
<line x1="815.5" y1="1855.85" x2="804" y2="1855.85" stroke="#000" stroke-width="5" />
<line x1="815.5" y1="1799.7" x2="804" y2="1799.7" stroke="#000" stroke-width="5" />
<line x1="815.5" y1="1743.55" x2="804" y2="1743.55" stroke="#000" stroke-width="5" />
<line x1="815.5" y1="1687.4" x2="804" y2="1687.4" stroke="#000" stroke-width="5" />
<line x1="815.5" y1="1631.25" x2="804" y2="1631.25" stroke="#000" stroke-width="5" />
<line x1="815.5" y1="1575.1" x2="804" y2="1575.1" stroke="#000" stroke-width="5" />
<line x1="815.5" y1="1518.95" x2="804" y2="1518.95" stroke="#000" stroke-width="5" />
<line x1="815.5" y1="1462.8" x2="804" y2="1462.8" stroke="#000" stroke-width="5" />
<line x1="815.5" y1="2007.4" x2="810" y2="2007.4" stroke="#000" stroke-width="4" />
<line x1="815.5" y1="1997.51" x2="810" y2="1997.51" stroke="#000" stroke-width="4" />
<line x1="815.5" y1="1990.49" x2="810" y2="1990.49" stroke="#000" stroke-width="4" />
<line x1="815.5" y1="1985.05" x2="810" y2="1985.05" stroke="#000" stroke-width="4" />
<line x1="815.5" y1="1980.61" x2="810" y2="1980.61" stroke="#000" stroke-width="4" />
<line x1="815.5" y1="1976.85" x2="810" y2="1976.85" stroke="#000" stroke-width="4" />
<line x1="815.5" y1="1973.59" x2="810" y2="1973.59" stroke="#000" stroke-width="4" />
<line x1="815.5" y1="1970.72" x2="810" y2="1970.72" stroke="#000" stroke-width="4" />
<line x1="815.5" y1="1951.25" x2="810" y2="1951.25" stroke="#000" stroke-width="4" />
<line x1="815.5" y1="1941.36" x2="810" y2="1941.36" stroke="#000" stroke-width="4" />
<line x1="815.5" y1="1934.34" x2="810" y2="1934.34" stroke="#000" stroke-width="4" />
<line x1="815.5" y1="1928.9" x2="810" y2="1928.9" stroke="#000" stroke-width="4" />
<line x1="815.5" y1="1924.46" x2="810" y2="1924.46" stroke="#000" stroke-width="4" />
<line x1="815.5" y1="1920.7" x2="810" y2="1920.7" stroke="#000" stroke-width="4" />
<line x1="815.5" y1="1917.44" x2="810" y2="1917.44" stroke="#000" stroke-width="4" />
<line x1="815.5" y1="1914.57" x2="810" y2="1914.57" stroke="#000" stroke-width="4" />
<line x1="815.5" y1="1895.1" x2="810" y2="1895.1" stroke="#000" stroke-width="4" />
<line x1="815.5" y1="1885.21" x2="810" y2="1885.21" stroke="#000" stroke-width="4" />
<line x1="815.5" y1="1878.19" x2="810" y2="1878.19" stroke="#000" stroke-width="4" />
<line x1="815.5" y1="1872.75" x2="810" y2="1872.75" stroke="#000" stroke-width="4" />
<line x1="815.5" y1="1868.31" x2="810" y2="1868.31" stroke="#000" stroke-width="4" />
<line x1="815.5" y1="1864.55" x2="810" y2="1864.55" stroke="#000" stroke-width="4" />
<line x1="815.5" y1="1861.29" x2="810" y2="1861.29" stroke="#000" stroke-width="4" />
<line x1="815.5" y1="1858.42" x2="810" y2="1858.42" stroke="#000" stroke-width="4" />
<line x1="815.5" y1="1838.95" x2="810" y2="1838.95" stroke="#000" stroke-width="4" />
<line x1="815.5" y1="1829.06" x2="810" y2="1829.06" stroke="#000" stroke-width="4" />
<line x1="815.5" y1="1822.04" x2="810" y2="1822.04" stroke="#000" stroke-width="4" />
<line x1="815.5" y1="1816.6" x2="810" y2="1816.6" stroke="#000" stroke-width="4" />
<line x1="815.5" y1="1812.16" x2="810" y2="1812.16" stroke="#000" stroke-width="4" />
<line x1="815.5" y1="1808.4" x2="810" y2="1808.4" stroke="#000" stroke-width="4" />
<line x1="815.5" y1="1805.14" x2="810" y2="1805.14" stroke="#000" stroke-width="4" />
<line x1="815.5" y1="1802.27" x2="810" y2="1802.27" stroke="#000" stroke-width="4" />
<line x1="815.5" y1="1782.8" x2="810" y2="1782.8" stroke="#000" stroke-width="4" />
<line x1="815.5" y1="1772.91" x2="810" y2="1772.91" stroke="#000" stroke-width="4" />
<line x1="815.5" y1="1765.89" x2="810" y2="1765.89" stroke="#000" stroke-width="4" />
<line x1="815.5" y1="1760.45" x2="810" y2="1760.45" stroke="#000" stroke-width="4" />
<line x1="815.5" y1="1756.01" x2="810" y2="1756.01" stroke="#000" stroke-width="4" />
<line x1="815.5" y1="1752.25" x2="810" y2="1752.25" stroke="#000" stroke-width="4" />
<line x1="815.5" y1="1748.99" x2="810" y2="1748.99" stroke="#000" stroke-width="4" />
<line x1="815.5" y1="1746.12" x2="810" y2="1746.12" stroke="#000" stroke-width="4" />
<line x1="815.5" y1="1726.65" x2="810" y2="1726.65" stroke="#000" stroke-width="4" />
<line x1="815.5" y1="1716.76" x2="810" y2="1716.76" stroke="#000" stroke-width="4" />
<line x1="815.5" y1="1709.74" x2="810" y2="1709.74" stroke="#000" stroke-width="4" />
<line x1="815.5" y1="1704.3" x2="810" y2="1704.3" stroke="#000" stroke-width="4" />
<line x1="815.5" y1="1699.86" x2="810" y2="1699.86" stroke="#000" stroke-width="4" />
<line x1="815.5" y1="1696.1" x2="810" y2="1696.1" stroke="#000" stroke-width="4" />
<line x1="815.5" y1="1692.84" x2="810" y2="1692.84" stroke="#000" stroke-width="4" />
<line x1="815.5" y1="1689.97" x2="810" y2="1689.97" stroke="#000" stroke-width="4" />
<line x1="815.5" y1="1670.5" x2="810" y2="1670.5" stroke="#000" stroke-width="4" />
<line x1="815.5" y1="1660.61" x2="810" y2="1660.61" stroke="#000" stroke-width="4" />
<line x1="815.5" y1="1653.59" x2="810" y2="1653.59" stroke="#000" stroke-width="4" />
<line x1="815.5" y1="1648.15" x2="810" y2="1648.15" stroke="#000" stroke-width="4" />
<line x1="815.5" y1="1643.71" x2="810" y2="1643.71" stroke="#000" stroke-width="4" />
<line x1="815.5" y1="1639.95" x2="810" y2="1639.95" stroke="#000" stroke-width="4" />
<line x1="815.5" y1="1636.69" x2="810" y2="1636.69" stroke="#000" stroke-width="4" />
<line x1="815.5" y1="1633.82" x2="810" y2="1633.82" stroke="#000" stroke-width="4" />
<line x1="815.5" y1="1614.35" x2="810" y2="1614.35" stroke="#000" stroke-width="4" />
<line x1="815.5" y1="1604.46" x2="810" y2="1604.46" stroke="#000" stroke-width="4" />
<line x1="815.5" y1="1597.44" x2="810" y2="1597.44" stroke="#000" stroke-width="4" />
<line x1="815.5" y1="1592" x2="810" y2="1592" stroke="#000" stroke-width="4" />
<line x1="815.5" y1="1587.56" x2="810" y2="1587.56" stroke="#000" stroke-width="4" />
<line x1="815.5" y1="1583.8" x2="810" y2="1583.8" stroke="#000" stroke-width="4" />
<line x1="815.5" y1="1580.54" x2="810" y2="1580.54" stroke="#000" stroke-width="4" />
<line x1="815.5" y1="1577.67" x2="810" y2="1577.67" stroke="#000" stroke-width="4" />
<line x1="815.5" y1="1558.2" x2="810" y2="1558.2" stroke="#000" stroke-width="4" />
<line x1="815.5" y1="1548.31" x2="810" y2="1548.31" stroke="#000" stroke-width="4" />
<line x1="815.5" y1="1541.29" x2="810" y2="1541.29" stroke="#000" stroke-width="4" />
<line x1="815.5" y1="1535.85" x2="810" y2="1535.85" stroke="#000" stroke-width="4" />
<line x1="815.5" y1="1531.41" x2="810" y2="1531.41" stroke="#000" stroke-width="4" />
<line x1="815.5" y1="1527.65" x2="810" y2="1527.65" stroke="#000" stroke-width="4" />
<line x1="815.5" y1="1524.39" x2="810" y2="1524.39" stroke="#000" stroke-width="4" />
<line x1="815.5" y1="1521.52" x2="810" y2="1521.52" stroke="#000" stroke-width="4" />
<line x1="815.5" y1="1502.05" x2="810" y2="1502.05" stroke="#000" stroke-width="4" />
<line x1="815.5" y1="1492.16" x2="810" y2="1492.16" stroke="#000" stroke-width="4" />
<line x1="815.5" y1="1485.14" x2="810" y2="1485.14" stroke="#000" stroke-width="4" />
<line x1="815.5" y1="1479.7" x2="810" y2="1479.7" stroke="#000" stroke-width="4" />
<line x1="815.5" y1="1475.26" x2="810" y2="1475.26" stroke="#000" stroke-width="4" />
<line x1="815.5" y1="1471.5" x2="810" y2="1471.5" stroke="#000" stroke-width="4" />
<line x1="815.5" y1="1468.24" x2="810" y2="1468.24" stroke="#000" stroke-width="4" />
<line x1="815.5" y1="1465.37" x2="810" y2="1465.37" stroke="#000" stroke-width="4" />
<text x="853.1" y="2076.8" font-size="38" text-anchor="end" font-family="'Liberation Sans',Arial,sans-serif" font-weight="bold">10</text>
<text x="854.4" y="2061.5" font-size="25" font-family="'Liberation Sans',Arial,sans-serif" font-weight="bold">0</text>
<text x="937.1" y="2076.8" font-size="38" text-anchor="end" font-family="'Liberation Sans',Arial,sans-serif" font-weight="bold">10</text>
<text x="938.4" y="2061.5" font-size="25" font-family="'Liberation Sans',Arial,sans-serif" font-weight="bold">1</text>
<text x="1021.1" y="2076.8" font-size="38" text-anchor="end" font-family="'Liberation Sans',Arial,sans-serif" font-weight="bold">10</text>
<text x="1022.4" y="2061.5" font-size="25" font-family="'Liberation Sans',Arial,sans-serif" font-weight="bold">2</text>
<text x="1105.1" y="2076.8" font-size="38" text-anchor="end" font-family="'Liberation Sans',Arial,sans-serif" font-weight="bold">10</text>
<text x="1106.4" y="2061.5" font-size="25" font-family="'Liberation Sans',Arial,sans-serif" font-weight="bold">3</text>
<text x="1189.1" y="2076.8" font-size="38" text-anchor="end" font-family="'Liberation Sans',Arial,sans-serif" font-weight="bold">10</text>
<text x="1190.4" y="2061.5" font-size="25" font-family="'Liberation Sans',Arial,sans-serif" font-weight="bold">4</text>
<text x="1273.1" y="2076.8" font-size="38" text-anchor="end" font-family="'Liberation Sans',Arial,sans-serif" font-weight="bold">10</text>
<text x="1274.4" y="2061.5" font-size="25" font-family="'Liberation Sans',Arial,sans-serif" font-weight="bold">5</text>
<text x="760.3" y="1476.2" font-size="38" text-anchor="end" font-family="'Liberation Sans',Arial,sans-serif" font-weight="bold">10</text>
<text x="761.2" y="1461.1" font-size="25" font-family="'Liberation Sans',Arial,sans-serif" font-weight="bold">-15</text>
<text x="760.3" y="1588.5" font-size="38" text-anchor="end" font-family="'Liberation Sans',Arial,sans-serif" font-weight="bold">10</text>
<text x="761.2" y="1573.4" font-size="25" font-family="'Liberation Sans',Arial,sans-serif" font-weight="bold">-17</text>
<text x="760.3" y="1700.8" font-size="38" text-anchor="end" font-family="'Liberation Sans',Arial,sans-serif" font-weight="bold">10</text>
<text x="761.2" y="1685.7" font-size="25" font-family="'Liberation Sans',Arial,sans-serif" font-weight="bold">-19</text>
<text x="760.3" y="1813.1" font-size="38" text-anchor="end" font-family="'Liberation Sans',Arial,sans-serif" font-weight="bold">10</text>
<text x="761.2" y="1798" font-size="25" font-family="'Liberation Sans',Arial,sans-serif" font-weight="bold">-21</text>
<text x="760.3" y="1925.4" font-size="38" text-anchor="end" font-family="'Liberation Sans',Arial,sans-serif" font-weight="bold">10</text>
<text x="761.2" y="1910.3" font-size="25" font-family="'Liberation Sans',Arial,sans-serif" font-weight="bold">-23</text>
<text x="760.3" y="2037.7" font-size="38" text-anchor="end" font-family="'Liberation Sans',Arial,sans-serif" font-weight="bold">10</text>
<text x="761.2" y="2022.6" font-size="25" font-family="'Liberation Sans',Arial,sans-serif" font-weight="bold">-25</text>
<text x="1045" y="2116" font-size="40" text-anchor="middle" fill="#000" font-family="'Liberation Sans',Arial,sans-serif" font-weight="bold" >Frequency (Hz)</text>
<text transform="translate(701,1722) rotate(-90)" font-size="40" text-anchor="middle" font-family="'Liberation Sans',Arial,sans-serif" font-weight="bold">S<tspan font-size="25" dy="8">I</tspan><tspan dy="-8"> (A</tspan><tspan font-size="25" dy="-14">2</tspan><tspan dy="14">Hz</tspan><tspan font-size="25" dy="-14">-1</tspan><tspan dy="14">)</tspan></text>
<polyline points="840.8,1709.9 866.1,1714.7 880.9,1724.5 891.4,1748.3 899.5,1732.9 906.2,1737.7 911.8,1741.1 916.7,1737.7 921.0,1739.1 924.8,1749.8 928.3,1750.7 931.5,1750.3 931.5,1750.2 932.9,1750.0 934.3,1747.9 935.7,1749.6 937.1,1748.0 938.5,1751.5 939.9,1752.9 941.3,1758.0 942.7,1753.9 944.1,1757.0 945.5,1757.2 946.9,1762.4 948.3,1759.6 949.7,1763.1 951.1,1762.0 952.5,1766.2 953.9,1763.9 955.3,1770.5 956.7,1761.9 958.1,1771.1 959.5,1768.3 960.9,1772.8 962.3,1770.0 963.7,1776.0 965.1,1772.0 966.5,1777.5 967.9,1775.1 969.3,1781.0 970.7,1772.0 972.1,1784.4 973.5,1777.2 974.9,1783.9 976.3,1779.7 977.7,1787.6 979.1,1780.3 980.5,1790.1 981.9,1783.6 983.3,1789.0 984.7,1777.4 986.1,1792.5 987.5,1781.5 988.9,1794.4 990.3,1789.0 991.7,1797.6 993.1,1791.1 994.5,1799.8 995.9,1788.9 997.3,1802.0 998.7,1788.5 1000.1,1803.9" fill="none" stroke="#4d4d4d" stroke-width="2.6" stroke-linejoin="round"/>
<polygon points="931.5,1750.2 932.9,1747.1 934.3,1747.9 935.7,1748.9 937.1,1748.0 938.5,1751.2 939.9,1752.9 941.3,1754.2 942.7,1753.9 944.1,1756.5 945.5,1757.2 946.9,1758.3 948.3,1759.6 949.7,1761.3 951.1,1762.0 952.5,1762.4 953.9,1763.9 955.3,1765.1 956.7,1761.9 958.1,1767.3 959.5,1768.3 960.9,1768.1 962.3,1770.0 963.7,1770.8 965.1,1772.0 966.5,1772.7 967.9,1775.1 969.3,1775.5 970.7,1772.0 972.1,1777.9 973.5,1777.2 974.9,1768.4 976.3,1779.7 977.7,1779.0 979.1,1780.3 980.5,1781.8 981.9,1783.6 983.3,1780.4 984.7,1777.4 986.1,1782.9 987.5,1781.5 988.9,1787.2 990.3,1789.0 991.7,1790.4 993.1,1791.1 994.5,1792.0 995.9,1788.9 997.3,1792.9 998.7,1788.5 1000.1,1795.3 1001.5,1795.8 1002.9,1791.4 1004.3,1793.1 1005.7,1798.1 1007.1,1799.0 1008.5,1795.7 1009.9,1798.0 1011.3,1800.9 1012.7,1797.3 1014.1,1804.2 1015.5,1804.6 1016.9,1802.8 1018.3,1804.1 1019.7,1804.6 1021.1,1806.9 1022.5,1803.5 1023.9,1809.1 1025.3,1804.0 1026.7,1805.5 1028.1,1810.7 1029.5,1810.4 1030.9,1812.3 1032.3,1809.6 1033.7,1812.2 1035.1,1813.0 1036.5,1814.4 1037.9,1814.1 1039.3,1813.1 1040.7,1816.2 1042.1,1814.7 1043.5,1817.3 1044.9,1816.2 1046.3,1813.3 1047.7,1818.8 1049.1,1818.3 1050.5,1811.2 1051.9,1818.0 1053.3,1818.9 1054.7,1820.5 1056.1,1822.9 1057.5,1824.3 1058.9,1822.3 1060.3,1823.3 1061.7,1821.2 1063.1,1824.5 1064.5,1826.9 1065.9,1826.6 1067.3,1825.2 1068.7,1828.7 1070.1,1830.0 1071.5,1831.8 1072.9,1825.5 1074.3,1832.2 1075.7,1829.2 1077.1,1833.5 1078.5,1833.5 1079.9,1837.3 1081.3,1838.6 1082.7,1839.7 1084.1,1839.9 1085.5,1839.5 1086.9,1841.9 1088.3,1841.7 1089.7,1842.0 1091.1,1841.0 1092.5,1845.1 1093.9,1846.5 1095.3,1847.3 1096.7,1847.2 1098.1,1849.5 1099.5,1851.4 1100.9,1852.0 1102.3,1851.8 1103.7,1853.3 1105.1,1854.8 1106.5,1855.1 1107.9,1858.0 1109.3,1849.4 1110.7,1858.0 1112.1,1859.9 1113.5,1857.2 1114.9,1861.6 1116.3,1861.7 1117.7,1864.1 1119.1,1862.3 1120.5,1860.8 1121.9,1867.2 1123.3,1867.3 1124.7,1867.1 1126.1,1870.1 1127.5,1870.3 1128.9,1871.3 1130.3,1870.6 1131.7,1871.6 1133.1,1873.2 1134.5,1871.4 1135.9,1874.2 1137.3,1873.3 1138.7,1874.6 1140.1,1876.2 1141.5,1868.0 1142.9,1877.2 1144.3,1877.5 1145.7,1878.1 1147.1,1878.4 1148.5,1881.6 1149.9,1883.1 1151.3,1879.0 1152.7,1885.5 1154.1,1880.1 1155.5,1884.7 1156.9,1886.3 1158.3,1888.2 1159.7,1886.9 1161.1,1888.7 1162.5,1890.4 1163.9,1891.5 1165.3,1891.8 1166.7,1891.4 1168.1,1892.8 1169.5,1887.6 1170.9,1891.4 1172.3,1895.4 1173.7,1896.5 1175.1,1894.9 1176.5,1894.8 1177.9,1897.7 1179.3,1898.9 1180.7,1896.6 1182.1,1899.3 1183.5,1898.5 1184.9,1892.5 1186.3,1898.7 1187.7,1901.5 1189.1,1902.1 1190.5,1902.0 1191.9,1903.7 1193.3,1904.0 1194.7,1904.3 1196.1,1906.6 1197.5,1907.9 1198.9,1907.8 1200.3,1902.2 1201.7,1904.7 1203.1,1909.8 1204.5,1904.4 1205.9,1907.7 1207.3,1910.7 1208.7,1909.8 1210.1,1913.9 1211.5,1913.4 1212.9,1913.5 1214.3,1916.4 1215.7,1914.3 1217.1,1917.8 1218.5,1918.1 1219.9,1917.5 1221.3,1919.3 1222.7,1920.0 1224.1,1918.3 1225.5,1919.5 1226.9,1918.2 1228.3,1923.9 1229.7,1920.4 1231.1,1926.9 1232.5,1922.2 1233.9,1927.6 1235.3,1926.1 1236.7,1930.1 1238.1,1930.8 1239.5,1930.0 1240.9,1930.3 1242.3,1935.0 1243.7,1935.1 1245.1,1935.9 1246.5,1937.4 1247.9,1939.3 1249.3,1939.6 1250.7,1941.8 1252.1,1942.0 1253.5,1945.0 1254.9,1945.6 1256.3,1943.2 1257.7,1947.9 1259.1,1943.0 1260.5,1949.8 1260.5,1961.6 1259.1,1959.3 1257.7,1959.6 1256.3,1958.3 1254.9,1959.0 1253.5,1957.1 1252.1,1954.5 1250.7,1953.8 1249.3,1955.4 1247.9,1951.7 1246.5,1948.5 1245.1,1951.2 1243.7,1946.1 1242.3,1954.5 1240.9,1950.4 1239.5,1943.4 1238.1,1944.6 1236.7,1940.6 1235.3,1941.9 1233.9,1944.9 1232.5,1942.1 1231.1,1938.3 1229.7,1937.7 1228.3,1935.0 1226.9,1936.9 1225.5,1933.4 1224.1,1938.1 1222.7,1932.5 1221.3,1934.5 1219.9,1932.9 1218.5,1929.7 1217.1,1929.9 1215.7,1929.1 1214.3,1926.7 1212.9,1927.2 1211.5,1927.3 1210.1,1931.7 1208.7,1922.7 1207.3,1922.6 1205.9,1927.6 1204.5,1922.2 1203.1,1920.4 1201.7,1921.6 1200.3,1918.9 1198.9,1918.4 1197.5,1926.1 1196.1,1917.8 1194.7,1917.1 1193.3,1915.9 1191.9,1918.2 1190.5,1917.0 1189.1,1914.5 1187.7,1912.8 1186.3,1912.2 1184.9,1911.1 1183.5,1913.1 1182.1,1912.8 1180.7,1915.9 1179.3,1911.7 1177.9,1913.9 1176.5,1910.4 1175.1,1909.9 1173.7,1909.0 1172.3,1908.1 1170.9,1907.9 1169.5,1911.1 1168.1,1909.3 1166.7,1905.3 1165.3,1906.2 1163.9,1903.0 1162.5,1901.3 1161.1,1901.4 1159.7,1900.5 1158.3,1898.4 1156.9,1897.2 1155.5,1897.7 1154.1,1897.9 1152.7,1895.5 1151.3,1894.6 1149.9,1895.3 1148.5,1893.1 1147.1,1892.2 1145.7,1894.4 1144.3,1893.0 1142.9,1888.5 1141.5,1887.2 1140.1,1887.0 1138.7,1887.3 1137.3,1884.8 1135.9,1889.0 1134.5,1886.9 1133.1,1883.9 1131.7,1888.7 1130.3,1884.2 1128.9,1886.0 1127.5,1883.1 1126.1,1882.0 1124.7,1879.2 1123.3,1881.7 1121.9,1882.6 1120.5,1879.2 1119.1,1876.8 1117.7,1876.0 1116.3,1875.1 1114.9,1873.3 1113.5,1875.5 1112.1,1870.8 1110.7,1870.7 1109.3,1869.4 1107.9,1870.9 1106.5,1868.9 1105.1,1868.1 1103.7,1866.5 1102.3,1864.6 1100.9,1867.5 1099.5,1864.6 1098.1,1861.7 1096.7,1861.8 1095.3,1868.0 1093.9,1864.9 1092.5,1858.5 1091.1,1856.0 1089.7,1863.7 1088.3,1857.3 1086.9,1856.4 1085.5,1852.9 1084.1,1859.0 1082.7,1851.4 1081.3,1848.5 1079.9,1850.8 1078.5,1847.4 1077.1,1851.1 1075.7,1844.8 1074.3,1847.3 1072.9,1848.8 1071.5,1846.5 1070.1,1843.6 1068.7,1844.8 1067.3,1848.7 1065.9,1840.6 1064.5,1841.6 1063.1,1838.2 1061.7,1838.1 1060.3,1836.2 1058.9,1836.0 1057.5,1835.5 1056.1,1833.2 1054.7,1839.3 1053.3,1836.6 1051.9,1833.6 1050.5,1838.2 1049.1,1831.6 1047.7,1833.3 1046.3,1832.9 1044.9,1830.2 1043.5,1828.2 1042.1,1827.4 1040.7,1833.0 1039.3,1826.3 1037.9,1828.9 1036.5,1825.6 1035.1,1825.2 1033.7,1829.9 1032.3,1824.5 1030.9,1824.3 1029.5,1822.2 1028.1,1827.0 1026.7,1824.3 1025.3,1820.1 1023.9,1820.2 1022.5,1818.9 1021.1,1818.0 1019.7,1820.4 1018.3,1821.3 1016.9,1814.2 1015.5,1814.6 1014.1,1821.6 1012.7,1813.0 1011.3,1812.5 1009.9,1818.1 1008.5,1810.9 1007.1,1808.4 1005.7,1807.1 1004.3,1806.1 1002.9,1810.5 1001.5,1804.0 1000.1,1803.9 998.7,1805.8 997.3,1802.0 995.9,1799.7 994.5,1799.8 993.1,1808.0 991.7,1797.6 990.3,1795.5 988.9,1794.4 987.5,1794.0 986.1,1792.5 984.7,1791.9 983.3,1789.0 981.9,1789.0 980.5,1790.1 979.1,1794.4 977.7,1787.6 976.3,1784.1 974.9,1783.9 973.5,1789.3 972.1,1784.4 970.7,1782.2 969.3,1781.0 967.9,1778.8 966.5,1777.5 965.1,1776.4 963.7,1776.0 962.3,1773.0 960.9,1772.8 959.5,1772.2 958.1,1771.1 956.7,1769.0 955.3,1770.5 953.9,1769.8 952.5,1766.2 951.1,1765.2 949.7,1763.1 948.3,1761.3 946.9,1762.4 945.5,1758.4 944.1,1757.0 942.7,1756.9 941.3,1758.0 939.9,1754.1 938.5,1751.5 937.1,1750.4 935.7,1749.6 934.3,1749.8 932.9,1750.0 931.5,1751.6" fill="#4d4d4d" stroke="#4d4d4d" stroke-width="1.6" stroke-linejoin="round"/>
<polyline points="840.8,1688.5 866.1,1696.4 880.9,1698.7 891.4,1699.1 899.5,1718.6 906.2,1702.8 911.8,1716.0 916.7,1721.0 921.0,1729.9 924.8,1734.1 928.3,1720.4 931.5,1730.5 931.5,1730.4 932.9,1728.7 934.3,1728.2 935.7,1731.7 937.1,1731.3 938.5,1733.6 939.9,1732.1 941.3,1735.5 942.7,1734.7 944.1,1737.5 945.5,1737.4 946.9,1739.9 948.3,1739.1 949.7,1742.9 951.1,1741.9 952.5,1746.2 953.9,1743.7 955.3,1747.6 956.7,1746.3 958.1,1750.3 959.5,1748.1 960.9,1753.9 962.3,1750.0 963.7,1757.9 965.1,1754.2 966.5,1761.8 967.9,1753.0 969.3,1762.4 970.7,1756.2 972.1,1763.9 973.5,1757.1 974.9,1770.1 976.3,1761.5 977.7,1768.4 979.1,1760.9 980.5,1769.1 981.9,1763.0 983.3,1776.3 984.7,1761.3 986.1,1775.6 987.5,1768.6 988.9,1778.2 990.3,1771.2 991.7,1785.5 993.1,1769.3 994.5,1781.1 995.9,1770.7 997.3,1787.1 998.7,1776.7 1000.1,1788.3" fill="none" stroke="#ff7c0a" stroke-width="2.6" stroke-linejoin="round"/>
<polygon points="931.5,1730.4 932.9,1728.1 934.3,1728.2 935.7,1730.0 937.1,1731.3 938.5,1732.2 939.9,1732.1 941.3,1734.1 942.7,1734.7 944.1,1735.7 945.5,1737.4 946.9,1737.6 948.3,1739.1 949.7,1739.3 951.1,1741.9 952.5,1742.9 953.9,1743.7 955.3,1745.4 956.7,1746.3 958.1,1747.7 959.5,1748.1 960.9,1749.0 962.3,1750.0 963.7,1752.3 965.1,1754.2 966.5,1754.6 967.9,1753.0 969.3,1757.2 970.7,1756.2 972.1,1759.1 973.5,1757.1 974.9,1758.3 976.3,1761.5 977.7,1761.9 979.1,1760.9 980.5,1761.6 981.9,1763.0 983.3,1765.9 984.7,1761.3 986.1,1768.6 987.5,1768.6 988.9,1762.8 990.3,1771.2 991.7,1771.6 993.1,1769.3 994.5,1774.0 995.9,1770.7 997.3,1774.4 998.7,1776.7 1000.1,1774.1 1001.5,1778.1 1002.9,1774.7 1004.3,1776.7 1005.7,1779.7 1007.1,1782.6 1008.5,1780.2 1009.9,1785.1 1011.3,1783.7 1012.7,1784.9 1014.1,1786.6 1015.5,1783.5 1016.9,1787.5 1018.3,1790.3 1019.7,1788.2 1021.1,1791.4 1022.5,1791.1 1023.9,1792.3 1025.3,1791.9 1026.7,1790.4 1028.1,1793.4 1029.5,1794.2 1030.9,1795.1 1032.3,1793.2 1033.7,1793.0 1035.1,1798.1 1036.5,1792.5 1037.9,1797.5 1039.3,1796.9 1040.7,1797.7 1042.1,1798.7 1043.5,1800.6 1044.9,1798.1 1046.3,1800.3 1047.7,1800.3 1049.1,1798.6 1050.5,1801.8 1051.9,1802.5 1053.3,1800.5 1054.7,1805.6 1056.1,1806.6 1057.5,1807.6 1058.9,1808.7 1060.3,1805.4 1061.7,1808.5 1063.1,1808.2 1064.5,1810.3 1065.9,1811.7 1067.3,1812.9 1068.7,1813.1 1070.1,1809.4 1071.5,1814.1 1072.9,1815.1 1074.3,1816.2 1075.7,1816.1 1077.1,1818.2 1078.5,1818.7 1079.9,1821.8 1081.3,1821.4 1082.7,1817.7 1084.1,1825.2 1085.5,1825.8 1086.9,1822.0 1088.3,1825.7 1089.7,1828.0 1091.1,1823.6 1092.5,1829.6 1093.9,1825.2 1095.3,1830.5 1096.7,1832.7 1098.1,1833.7 1099.5,1830.4 1100.9,1833.7 1102.3,1834.7 1103.7,1836.2 1105.1,1836.8 1106.5,1838.1 1107.9,1842.2 1109.3,1842.4 1110.7,1843.2 1112.1,1842.1 1113.5,1846.9 1114.9,1843.4 1116.3,1848.0 1117.7,1848.7 1119.1,1848.5 1120.5,1844.4 1121.9,1849.3 1123.3,1850.9 1124.7,1850.9 1126.1,1851.3 1127.5,1851.2 1128.9,1853.1 1130.3,1854.6 1131.7,1849.9 1133.1,1855.2 1134.5,1856.5 1135.9,1856.1 1137.3,1857.3 1138.7,1857.0 1140.1,1856.0 1141.5,1857.5 1142.9,1862.9 1144.3,1863.9 1145.7,1864.2 1147.1,1866.2 1148.5,1865.7 1149.9,1868.0 1151.3,1868.9 1152.7,1869.2 1154.1,1870.6 1155.5,1872.2 1156.9,1872.8 1158.3,1874.0 1159.7,1876.3 1161.1,1875.4 1162.5,1877.3 1163.9,1877.7 1165.3,1872.5 1166.7,1874.3 1168.1,1881.3 1169.5,1881.4 1170.9,1883.2 1172.3,1881.9 1173.7,1884.1 1175.1,1880.3 1176.5,1881.3 1177.9,1877.4 1179.3,1879.0 1180.7,1885.4 1182.1,1886.4 1183.5,1887.0 1184.9,1888.7 1186.3,1887.5 1187.7,1889.2 1189.1,1888.3 1190.5,1890.2 1191.9,1890.0 1193.3,1890.2 1194.7,1892.1 1196.1,1893.5 1197.5,1892.4 1198.9,1893.8 1200.3,1893.8 1201.7,1893.6 1203.1,1896.5 1204.5,1896.3 1205.9,1896.5 1207.3,1897.6 1208.7,1896.5 1210.1,1898.7 1211.5,1898.8 1212.9,1895.8 1214.3,1900.6 1215.7,1900.7 1217.1,1901.5 1218.5,1903.7 1219.9,1901.3 1221.3,1904.3 1222.7,1905.7 1224.1,1909.4 1225.5,1908.8 1226.9,1907.8 1228.3,1912.3 1229.7,1913.3 1231.1,1913.8 1232.5,1915.5 1233.9,1909.3 1235.3,1918.2 1236.7,1917.1 1238.1,1912.3 1239.5,1912.6 1240.9,1919.4 1242.3,1922.0 1243.7,1923.0 1245.1,1924.1 1246.5,1926.4 1247.9,1926.6 1249.3,1926.5 1250.7,1930.0 1252.1,1922.6 1253.5,1931.8 1254.9,1932.7 1256.3,1932.4 1257.7,1934.1 1259.1,1935.7 1260.5,1938.5 1260.5,1952.8 1259.1,1949.2 1257.7,1949.4 1256.3,1950.7 1254.9,1944.1 1253.5,1943.2 1252.1,1945.2 1250.7,1940.1 1249.3,1938.7 1247.9,1939.0 1246.5,1938.8 1245.1,1938.3 1243.7,1934.5 1242.3,1932.4 1240.9,1932.1 1239.5,1930.6 1238.1,1931.7 1236.7,1929.1 1235.3,1929.5 1233.9,1927.8 1232.5,1929.6 1231.1,1932.3 1229.7,1923.8 1228.3,1923.5 1226.9,1924.2 1225.5,1920.5 1224.1,1921.1 1222.7,1930.1 1221.3,1917.6 1219.9,1922.5 1218.5,1915.2 1217.1,1914.8 1215.7,1920.4 1214.3,1912.1 1212.9,1911.6 1211.5,1912.6 1210.1,1909.4 1208.7,1908.9 1207.3,1916.0 1205.9,1909.3 1204.5,1908.2 1203.1,1908.7 1201.7,1906.4 1200.3,1905.8 1198.9,1904.5 1197.5,1904.8 1196.1,1905.1 1194.7,1904.5 1193.3,1903.8 1191.9,1903.6 1190.5,1901.9 1189.1,1900.8 1187.7,1901.6 1186.3,1903.2 1184.9,1902.7 1183.5,1899.9 1182.1,1897.9 1180.7,1896.6 1179.3,1902.3 1177.9,1895.9 1176.5,1895.2 1175.1,1896.6 1173.7,1897.1 1172.3,1898.7 1170.9,1900.5 1169.5,1904.6 1168.1,1902.0 1166.7,1894.0 1165.3,1891.6 1163.9,1891.1 1162.5,1888.3 1161.1,1888.5 1159.7,1887.4 1158.3,1886.8 1156.9,1890.0 1155.5,1884.5 1154.1,1880.8 1152.7,1880.2 1151.3,1878.9 1149.9,1879.3 1148.5,1879.1 1147.1,1878.4 1145.7,1875.3 1144.3,1876.2 1142.9,1877.9 1141.5,1873.3 1140.1,1881.0 1138.7,1870.7 1137.3,1869.3 1135.9,1873.4 1134.5,1867.0 1133.1,1867.6 1131.7,1866.5 1130.3,1870.9 1128.9,1866.6 1127.5,1864.3 1126.1,1862.8 1124.7,1864.0 1123.3,1864.9 1121.9,1862.2 1120.5,1871.2 1119.1,1860.3 1117.7,1860.3 1116.3,1863.1 1114.9,1860.8 1113.5,1867.4 1112.1,1858.2 1110.7,1855.1 1109.3,1854.6 1107.9,1854.9 1106.5,1854.0 1105.1,1850.6 1103.7,1848.0 1102.3,1851.2 1100.9,1850.9 1099.5,1844.2 1098.1,1845.0 1096.7,1844.4 1095.3,1843.3 1093.9,1841.7 1092.5,1843.7 1091.1,1838.7 1089.7,1838.3 1088.3,1839.7 1086.9,1840.9 1085.5,1836.9 1084.1,1841.0 1082.7,1833.8 1081.3,1833.4 1079.9,1832.0 1078.5,1836.8 1077.1,1832.3 1075.7,1829.4 1074.3,1829.0 1072.9,1827.8 1071.5,1826.2 1070.1,1829.1 1068.7,1833.6 1067.3,1824.8 1065.9,1822.7 1064.5,1825.2 1063.1,1820.9 1061.7,1821.5 1060.3,1821.5 1058.9,1820.6 1057.5,1818.5 1056.1,1821.9 1054.7,1819.6 1053.3,1825.8 1051.9,1815.5 1050.5,1818.4 1049.1,1814.1 1047.7,1815.2 1046.3,1813.6 1044.9,1817.0 1043.5,1812.8 1042.1,1810.4 1040.7,1810.1 1039.3,1809.3 1037.9,1817.8 1036.5,1810.9 1035.1,1813.0 1033.7,1807.5 1032.3,1806.7 1030.9,1817.3 1029.5,1813.2 1028.1,1805.6 1026.7,1803.4 1025.3,1805.7 1023.9,1803.7 1022.5,1806.4 1021.1,1800.6 1019.7,1805.7 1018.3,1802.4 1016.9,1805.8 1015.5,1800.7 1014.1,1799.3 1012.7,1799.6 1011.3,1794.5 1009.9,1796.7 1008.5,1794.3 1007.1,1791.3 1005.7,1797.1 1004.3,1790.0 1002.9,1788.0 1001.5,1793.4 1000.1,1788.3 998.7,1785.1 997.3,1787.1 995.9,1783.3 994.5,1781.1 993.1,1779.3 991.7,1785.5 990.3,1781.9 988.9,1778.2 987.5,1782.4 986.1,1775.6 984.7,1773.4 983.3,1776.3 981.9,1771.1 980.5,1769.1 979.1,1770.8 977.7,1768.4 976.3,1768.6 974.9,1770.1 973.5,1767.4 972.1,1763.9 970.7,1764.4 969.3,1762.4 967.9,1765.7 966.5,1761.8 965.1,1757.6 963.7,1757.9 962.3,1755.8 960.9,1753.9 959.5,1752.8 958.1,1750.3 956.7,1748.3 955.3,1747.6 953.9,1746.8 952.5,1746.2 951.1,1744.0 949.7,1742.9 948.3,1740.6 946.9,1739.9 945.5,1738.1 944.1,1737.5 942.7,1736.3 941.3,1735.5 939.9,1733.0 938.5,1733.6 937.1,1731.8 935.7,1731.7 934.3,1729.7 932.9,1728.7 931.5,1731.4" fill="#ff7c0a" stroke="#ff7c0a" stroke-width="1.6" stroke-linejoin="round"/>
<polyline points="840.8,1666.1 866.1,1676.3 880.9,1667.9 891.4,1677.1 899.5,1683.3 906.2,1704.8 911.8,1688.0 916.7,1704.7 921.0,1700.1 924.8,1703.4 928.3,1695.2 931.5,1701.3 931.5,1699.6 932.9,1708.0 934.3,1708.4 935.7,1709.4 937.1,1708.9 938.5,1711.7 939.9,1711.9 941.3,1713.6 942.7,1713.9 944.1,1716.5 945.5,1716.8 946.9,1719.9 948.3,1718.5 949.7,1721.0 951.1,1720.4 952.5,1724.5 953.9,1724.0 955.3,1727.5 956.7,1724.6 958.1,1730.8 959.5,1728.5 960.9,1732.7 962.3,1731.5 963.7,1741.5 965.1,1735.2 966.5,1742.6 967.9,1737.3 969.3,1744.7 970.7,1739.4 972.1,1745.1 973.5,1740.3 974.9,1748.1 976.3,1743.3 977.7,1749.2 979.1,1739.9 980.5,1751.4 981.9,1747.1 983.3,1758.6 984.7,1747.7 986.1,1755.1 987.5,1749.0 988.9,1760.3 990.3,1752.2 991.7,1759.8 993.1,1753.2 994.5,1763.7 995.9,1748.6 997.3,1764.1 998.7,1755.7 1000.1,1765.8" fill="none" stroke="#1f74dc" stroke-width="2.6" stroke-linejoin="round"/>
<polygon points="931.5,1699.6 932.9,1706.3 934.3,1708.4 935.7,1708.8 937.1,1708.9 938.5,1709.4 939.9,1711.9 941.3,1712.7 942.7,1713.9 944.1,1715.2 945.5,1716.8 946.9,1717.8 948.3,1718.5 949.7,1718.9 951.1,1720.4 952.5,1721.9 953.9,1724.0 955.3,1722.0 956.7,1724.6 958.1,1725.4 959.5,1728.5 960.9,1728.4 962.3,1731.5 963.7,1732.8 965.1,1735.2 966.5,1735.9 967.9,1737.3 969.3,1739.0 970.7,1739.4 972.1,1739.8 973.5,1740.3 974.9,1741.5 976.3,1743.3 977.7,1742.6 979.1,1739.9 980.5,1745.5 981.9,1747.1 983.3,1745.5 984.7,1747.7 986.1,1747.0 987.5,1749.0 988.9,1751.2 990.3,1752.2 991.7,1752.5 993.1,1753.2 994.5,1752.4 995.9,1748.6 997.3,1755.1 998.7,1755.7 1000.1,1757.9 1001.5,1758.3 1002.9,1757.5 1004.3,1758.5 1005.7,1760.5 1007.1,1763.4 1008.5,1763.7 1009.9,1765.8 1011.3,1767.1 1012.7,1766.9 1014.1,1767.6 1015.5,1768.3 1016.9,1769.9 1018.3,1766.7 1019.7,1766.9 1021.1,1772.5 1022.5,1772.8 1023.9,1768.9 1025.3,1772.3 1026.7,1774.1 1028.1,1775.0 1029.5,1774.8 1030.9,1775.6 1032.3,1776.3 1033.7,1777.7 1035.1,1778.1 1036.5,1779.7 1037.9,1774.6 1039.3,1771.9 1040.7,1781.2 1042.1,1782.7 1043.5,1781.8 1044.9,1784.5 1046.3,1783.2 1047.7,1780.9 1049.1,1783.8 1050.5,1785.8 1051.9,1786.5 1053.3,1785.2 1054.7,1787.9 1056.1,1787.5 1057.5,1787.4 1058.9,1789.4 1060.3,1789.3 1061.7,1791.6 1063.1,1789.9 1064.5,1791.4 1065.9,1789.6 1067.3,1795.1 1068.7,1795.0 1070.1,1795.1 1071.5,1795.2 1072.9,1798.9 1074.3,1797.4 1075.7,1795.1 1077.1,1799.5 1078.5,1801.6 1079.9,1802.6 1081.3,1803.7 1082.7,1804.3 1084.1,1806.5 1085.5,1805.4 1086.9,1809.0 1088.3,1810.9 1089.7,1811.2 1091.1,1812.3 1092.5,1814.4 1093.9,1816.6 1095.3,1816.6 1096.7,1814.2 1098.1,1819.1 1099.5,1815.1 1100.9,1820.0 1102.3,1821.2 1103.7,1821.7 1105.1,1823.4 1106.5,1825.5 1107.9,1825.8 1109.3,1824.0 1110.7,1828.2 1112.1,1829.2 1113.5,1829.7 1114.9,1829.9 1116.3,1831.1 1117.7,1833.1 1119.1,1835.0 1120.5,1835.2 1121.9,1835.8 1123.3,1836.6 1124.7,1836.5 1126.1,1838.5 1127.5,1835.6 1128.9,1837.7 1130.3,1840.4 1131.7,1842.8 1133.1,1838.2 1134.5,1843.0 1135.9,1842.6 1137.3,1844.8 1138.7,1846.2 1140.1,1845.2 1141.5,1847.4 1142.9,1849.2 1144.3,1844.2 1145.7,1844.8 1147.1,1849.7 1148.5,1849.0 1149.9,1851.9 1151.3,1852.7 1152.7,1853.7 1154.1,1853.3 1155.5,1853.6 1156.9,1855.2 1158.3,1857.0 1159.7,1857.5 1161.1,1858.1 1162.5,1860.9 1163.9,1861.2 1165.3,1860.6 1166.7,1854.3 1168.1,1862.0 1169.5,1860.6 1170.9,1862.4 1172.3,1864.3 1173.7,1863.4 1175.1,1861.7 1176.5,1865.0 1177.9,1867.8 1179.3,1863.0 1180.7,1869.3 1182.1,1870.3 1183.5,1870.4 1184.9,1868.3 1186.3,1869.2 1187.7,1872.7 1189.1,1871.0 1190.5,1870.0 1191.9,1874.1 1193.3,1875.1 1194.7,1875.5 1196.1,1868.3 1197.5,1875.5 1198.9,1878.2 1200.3,1879.3 1201.7,1879.9 1203.1,1879.1 1204.5,1879.9 1205.9,1881.6 1207.3,1879.1 1208.7,1883.4 1210.1,1884.0 1211.5,1884.2 1212.9,1886.4 1214.3,1886.8 1215.7,1889.1 1217.1,1888.1 1218.5,1889.3 1219.9,1891.0 1221.3,1894.0 1222.7,1893.2 1224.1,1895.1 1225.5,1896.5 1226.9,1893.4 1228.3,1898.2 1229.7,1898.3 1231.1,1898.5 1232.5,1901.3 1233.9,1899.0 1235.3,1903.9 1236.7,1900.7 1238.1,1902.4 1239.5,1907.8 1240.9,1907.3 1242.3,1908.4 1243.7,1908.6 1245.1,1912.4 1246.5,1912.6 1247.9,1914.7 1249.3,1915.8 1250.7,1914.1 1252.1,1919.0 1253.5,1921.4 1254.9,1921.8 1256.3,1923.6 1257.7,1924.1 1259.1,1925.8 1260.5,1925.5 1260.5,1940.0 1259.1,1938.4 1257.7,1935.6 1256.3,1934.4 1254.9,1935.4 1253.5,1932.6 1252.1,1932.3 1250.7,1930.6 1249.3,1930.4 1247.9,1927.0 1246.5,1927.9 1245.1,1924.7 1243.7,1921.5 1242.3,1922.8 1240.9,1920.7 1239.5,1919.1 1238.1,1918.7 1236.7,1915.2 1235.3,1916.2 1233.9,1916.3 1232.5,1911.5 1231.1,1912.5 1229.7,1912.9 1228.3,1909.3 1226.9,1907.6 1225.5,1910.9 1224.1,1906.7 1222.7,1906.0 1221.3,1904.1 1219.9,1903.1 1218.5,1903.7 1217.1,1900.5 1215.7,1899.0 1214.3,1897.2 1212.9,1903.3 1211.5,1904.2 1210.1,1894.2 1208.7,1893.9 1207.3,1893.9 1205.9,1895.6 1204.5,1891.1 1203.1,1891.9 1201.7,1890.6 1200.3,1889.4 1198.9,1889.1 1197.5,1888.1 1196.1,1889.6 1194.7,1891.0 1193.3,1887.4 1191.9,1886.6 1190.5,1887.9 1189.1,1887.4 1187.7,1890.6 1186.3,1882.9 1184.9,1884.3 1183.5,1884.3 1182.1,1886.4 1180.7,1879.3 1179.3,1885.2 1177.9,1882.4 1176.5,1879.2 1175.1,1880.2 1173.7,1874.8 1172.3,1874.3 1170.9,1874.9 1169.5,1880.4 1168.1,1873.2 1166.7,1874.9 1165.3,1871.9 1163.9,1875.6 1162.5,1871.4 1161.1,1872.3 1159.7,1868.3 1158.3,1868.1 1156.9,1868.6 1155.5,1868.7 1154.1,1864.4 1152.7,1867.2 1151.3,1862.5 1149.9,1866.1 1148.5,1868.0 1147.1,1863.3 1145.7,1861.1 1144.3,1861.0 1142.9,1859.1 1141.5,1862.3 1140.1,1859.5 1138.7,1860.1 1137.3,1856.1 1135.9,1854.6 1134.5,1858.5 1133.1,1862.6 1131.7,1855.0 1130.3,1852.1 1128.9,1851.5 1127.5,1854.8 1126.1,1847.7 1124.7,1849.1 1123.3,1846.1 1121.9,1848.1 1120.5,1848.1 1119.1,1845.5 1117.7,1843.8 1116.3,1845.9 1114.9,1843.6 1113.5,1841.4 1112.1,1842.0 1110.7,1838.1 1109.3,1837.7 1107.9,1838.8 1106.5,1842.9 1105.1,1834.8 1103.7,1841.8 1102.3,1834.9 1100.9,1832.0 1099.5,1837.4 1098.1,1832.2 1096.7,1833.9 1095.3,1829.5 1093.9,1828.1 1092.5,1824.7 1091.1,1825.7 1089.7,1822.5 1088.3,1830.6 1086.9,1818.9 1085.5,1822.2 1084.1,1820.7 1082.7,1818.5 1081.3,1815.5 1079.9,1814.5 1078.5,1819.7 1077.1,1810.7 1075.7,1809.8 1074.3,1815.9 1072.9,1808.7 1071.5,1807.9 1070.1,1809.0 1068.7,1810.2 1067.3,1809.0 1065.9,1803.5 1064.5,1804.6 1063.1,1804.3 1061.7,1804.0 1060.3,1802.8 1058.9,1800.2 1057.5,1800.0 1056.1,1802.0 1054.7,1804.6 1053.3,1796.5 1051.9,1799.3 1050.5,1804.9 1049.1,1795.6 1047.7,1795.4 1046.3,1795.3 1044.9,1799.3 1043.5,1795.2 1042.1,1796.5 1040.7,1793.6 1039.3,1799.9 1037.9,1791.8 1036.5,1790.5 1035.1,1791.3 1033.7,1791.0 1032.3,1788.8 1030.9,1795.0 1029.5,1792.1 1028.1,1786.4 1026.7,1785.1 1025.3,1784.3 1023.9,1784.0 1022.5,1783.6 1021.1,1785.4 1019.7,1784.6 1018.3,1781.0 1016.9,1781.3 1015.5,1786.1 1014.1,1777.8 1012.7,1777.7 1011.3,1775.7 1009.9,1779.2 1008.5,1780.8 1007.1,1772.6 1005.7,1771.2 1004.3,1770.5 1002.9,1771.4 1001.5,1767.3 1000.1,1765.8 998.7,1764.1 997.3,1764.1 995.9,1769.2 994.5,1763.7 993.1,1761.1 991.7,1759.8 990.3,1759.2 988.9,1760.3 987.5,1765.5 986.1,1755.1 984.7,1758.9 983.3,1758.6 981.9,1757.5 980.5,1751.4 979.1,1751.0 977.7,1749.2 976.3,1749.7 974.9,1748.1 973.5,1747.0 972.1,1745.1 970.7,1743.7 969.3,1744.7 967.9,1742.5 966.5,1742.6 965.1,1739.6 963.7,1741.5 962.3,1736.6 960.9,1732.7 959.5,1731.2 958.1,1730.8 956.7,1729.0 955.3,1727.5 953.9,1726.6 952.5,1724.5 951.1,1722.6 949.7,1721.0 948.3,1722.3 946.9,1719.9 945.5,1720.9 944.1,1716.5 942.7,1715.2 941.3,1713.6 939.9,1714.5 938.5,1711.7 937.1,1709.9 935.7,1709.4 934.3,1708.8 932.9,1708.0 931.5,1701.5" fill="#1f74dc" stroke="#1f74dc" stroke-width="1.6" stroke-linejoin="round"/>
<polyline points="840.8,1659.3 866.1,1669.6 880.9,1672.8 891.4,1686.5 899.5,1682.3 906.2,1698.9 911.8,1684.7 916.7,1687.9 921.0,1695.9 924.8,1696.0 928.3,1692.4 931.5,1692.1 931.5,1692.1 932.9,1703.4 934.3,1703.7 935.7,1705.0 937.1,1704.3 938.5,1706.9 939.9,1707.4 941.3,1710.7 942.7,1708.5 944.1,1714.2 945.5,1712.7 946.9,1714.9 948.3,1714.8 949.7,1719.0 951.1,1716.4 952.5,1722.4 953.9,1717.3 955.3,1722.7 956.7,1721.1 958.1,1726.4 959.5,1722.0 960.9,1728.4 962.3,1724.2 963.7,1730.0 965.1,1725.9 966.5,1730.9 967.9,1724.8 969.3,1732.8 970.7,1729.2 972.1,1736.5 973.5,1730.3 974.9,1745.9 976.3,1735.1 977.7,1742.2 979.1,1733.3 980.5,1743.6 981.9,1739.8 983.3,1748.0 984.7,1739.0 986.1,1750.1 987.5,1743.2 988.9,1759.6 990.3,1744.6 991.7,1761.7 993.1,1745.7 994.5,1756.1 995.9,1745.7 997.3,1757.5 998.7,1751.0 1000.1,1759.0" fill="none" stroke="#3cb371" stroke-width="2.6" stroke-linejoin="round"/>
<polygon points="931.5,1692.1 932.9,1702.4 934.3,1703.7 935.7,1704.0 937.1,1704.3 938.5,1706.1 939.9,1707.4 941.3,1707.4 942.7,1708.5 944.1,1710.5 945.5,1712.7 946.9,1714.2 948.3,1714.8 949.7,1715.9 951.1,1716.4 952.5,1718.5 953.9,1717.3 955.3,1720.4 956.7,1721.1 958.1,1721.6 959.5,1722.0 960.9,1722.1 962.3,1724.2 963.7,1724.5 965.1,1725.9 966.5,1726.5 967.9,1724.8 969.3,1729.2 970.7,1729.2 972.1,1731.8 973.5,1730.3 974.9,1733.4 976.3,1735.1 977.7,1735.6 979.1,1733.3 980.5,1738.1 981.9,1739.8 983.3,1736.5 984.7,1739.0 986.1,1740.7 987.5,1743.2 988.9,1744.2 990.3,1744.6 991.7,1743.8 993.1,1745.7 994.5,1748.8 995.9,1745.7 997.3,1750.0 998.7,1751.0 1000.1,1750.8 1001.5,1753.4 1002.9,1744.8 1004.3,1755.6 1005.7,1756.4 1007.1,1756.0 1008.5,1757.1 1009.9,1759.5 1011.3,1756.4 1012.7,1763.8 1014.1,1765.3 1015.5,1758.3 1016.9,1765.1 1018.3,1767.3 1019.7,1767.6 1021.1,1769.5 1022.5,1770.6 1023.9,1768.3 1025.3,1769.0 1026.7,1771.6 1028.1,1770.0 1029.5,1772.4 1030.9,1772.6 1032.3,1773.4 1033.7,1771.3 1035.1,1771.5 1036.5,1770.6 1037.9,1773.0 1039.3,1770.4 1040.7,1773.7 1042.1,1776.4 1043.5,1777.0 1044.9,1777.7 1046.3,1778.9 1047.7,1779.4 1049.1,1772.9 1050.5,1778.9 1051.9,1783.0 1053.3,1780.9 1054.7,1782.8 1056.1,1785.7 1057.5,1785.6 1058.9,1786.1 1060.3,1787.5 1061.7,1788.4 1063.1,1788.5 1064.5,1788.5 1065.9,1790.5 1067.3,1792.4 1068.7,1793.1 1070.1,1789.7 1071.5,1794.9 1072.9,1793.1 1074.3,1790.9 1075.7,1796.0 1077.1,1799.2 1078.5,1796.9 1079.9,1800.2 1081.3,1801.8 1082.7,1801.3 1084.1,1798.3 1085.5,1799.3 1086.9,1803.1 1088.3,1800.9 1089.7,1803.0 1091.1,1805.0 1092.5,1808.5 1093.9,1808.1 1095.3,1810.4 1096.7,1812.2 1098.1,1810.9 1099.5,1811.5 1100.9,1816.9 1102.3,1817.4 1103.7,1818.1 1105.1,1809.9 1106.5,1820.0 1107.9,1820.6 1109.3,1820.3 1110.7,1823.2 1112.1,1822.5 1113.5,1817.1 1114.9,1827.1 1116.3,1823.9 1117.7,1828.2 1119.1,1828.6 1120.5,1828.4 1121.9,1831.3 1123.3,1833.1 1124.7,1833.4 1126.1,1833.6 1127.5,1835.9 1128.9,1835.3 1130.3,1836.8 1131.7,1836.9 1133.1,1836.6 1134.5,1839.5 1135.9,1837.6 1137.3,1839.8 1138.7,1842.2 1140.1,1840.1 1141.5,1842.8 1142.9,1844.6 1144.3,1841.4 1145.7,1843.0 1147.1,1838.0 1148.5,1841.0 1149.9,1849.2 1151.3,1847.9 1152.7,1851.1 1154.1,1851.1 1155.5,1852.4 1156.9,1851.0 1158.3,1855.8 1159.7,1855.4 1161.1,1856.7 1162.5,1858.2 1163.9,1858.5 1165.3,1859.0 1166.7,1859.3 1168.1,1859.2 1169.5,1859.5 1170.9,1856.5 1172.3,1863.1 1173.7,1863.6 1175.1,1861.3 1176.5,1865.2 1177.9,1860.9 1179.3,1866.0 1180.7,1867.4 1182.1,1867.8 1183.5,1867.0 1184.9,1867.3 1186.3,1869.5 1187.7,1869.8 1189.1,1871.4 1190.5,1870.9 1191.9,1871.5 1193.3,1873.7 1194.7,1869.2 1196.1,1871.0 1197.5,1874.5 1198.9,1874.2 1200.3,1876.4 1201.7,1874.2 1203.1,1878.8 1204.5,1872.5 1205.9,1878.4 1207.3,1878.4 1208.7,1880.1 1210.1,1882.8 1211.5,1882.7 1212.9,1882.7 1214.3,1881.5 1215.7,1884.2 1217.1,1884.4 1218.5,1881.3 1219.9,1886.3 1221.3,1885.0 1222.7,1889.5 1224.1,1885.9 1225.5,1890.9 1226.9,1891.7 1228.3,1890.3 1229.7,1895.9 1231.1,1896.7 1232.5,1895.4 1233.9,1898.9 1235.3,1900.0 1236.7,1900.6 1238.1,1901.9 1239.5,1903.8 1240.9,1904.0 1242.3,1904.7 1243.7,1906.6 1245.1,1906.9 1246.5,1909.7 1247.9,1910.8 1249.3,1912.7 1250.7,1913.9 1252.1,1912.7 1253.5,1914.4 1254.9,1911.4 1256.3,1918.9 1257.7,1919.7 1259.1,1919.1 1260.5,1918.6 1260.5,1937.1 1259.1,1935.6 1257.7,1935.4 1256.3,1929.2 1254.9,1927.7 1253.5,1927.8 1252.1,1925.8 1250.7,1924.5 1249.3,1927.1 1247.9,1921.4 1246.5,1920.8 1245.1,1920.8 1243.7,1919.9 1242.3,1920.4 1240.9,1916.1 1239.5,1914.7 1238.1,1914.1 1236.7,1912.4 1235.3,1912.3 1233.9,1909.7 1232.5,1909.9 1231.1,1911.1 1229.7,1905.9 1228.3,1905.1 1226.9,1903.3 1225.5,1905.3 1224.1,1905.0 1222.7,1904.2 1221.3,1909.6 1219.9,1901.2 1218.5,1898.8 1217.1,1898.1 1215.7,1897.1 1214.3,1895.1 1212.9,1894.1 1211.5,1894.2 1210.1,1897.2 1208.7,1891.4 1207.3,1891.5 1205.9,1890.7 1204.5,1899.0 1203.1,1888.5 1201.7,1894.5 1200.3,1888.2 1198.9,1887.7 1197.5,1885.3 1196.1,1891.4 1194.7,1886.2 1193.3,1885.4 1191.9,1882.5 1190.5,1882.3 1189.1,1884.9 1187.7,1881.5 1186.3,1882.5 1184.9,1888.7 1183.5,1887.8 1182.1,1881.6 1180.7,1878.3 1179.3,1877.0 1177.9,1876.7 1176.5,1884.5 1175.1,1874.2 1173.7,1874.4 1172.3,1877.5 1170.9,1873.3 1169.5,1877.7 1168.1,1873.5 1166.7,1871.5 1165.3,1872.8 1163.9,1870.1 1162.5,1868.5 1161.1,1873.2 1159.7,1869.0 1158.3,1871.4 1156.9,1870.7 1155.5,1867.5 1154.1,1864.0 1152.7,1862.4 1151.3,1863.9 1149.9,1859.6 1148.5,1858.8 1147.1,1863.5 1145.7,1855.8 1144.3,1856.0 1142.9,1855.8 1141.5,1857.4 1140.1,1854.0 1138.7,1852.4 1137.3,1855.7 1135.9,1851.8 1134.5,1849.8 1133.1,1848.8 1131.7,1852.6 1130.3,1848.1 1128.9,1846.1 1127.5,1849.2 1126.1,1847.9 1124.7,1853.4 1123.3,1843.3 1121.9,1842.3 1120.5,1847.8 1119.1,1838.7 1117.7,1840.2 1116.3,1840.2 1114.9,1840.7 1113.5,1838.7 1112.1,1842.3 1110.7,1839.3 1109.3,1833.3 1107.9,1834.7 1106.5,1832.6 1105.1,1830.8 1103.7,1834.6 1102.3,1827.5 1100.9,1828.5 1099.5,1827.8 1098.1,1825.0 1096.7,1823.9 1095.3,1820.9 1093.9,1819.6 1092.5,1822.0 1091.1,1818.8 1089.7,1818.3 1088.3,1814.6 1086.9,1813.9 1085.5,1814.4 1084.1,1813.8 1082.7,1812.2 1081.3,1812.4 1079.9,1816.9 1078.5,1809.7 1077.1,1812.5 1075.7,1807.7 1074.3,1806.2 1072.9,1806.3 1071.5,1804.6 1070.1,1805.3 1068.7,1802.4 1067.3,1807.2 1065.9,1801.0 1064.5,1800.0 1063.1,1799.9 1061.7,1802.6 1060.3,1799.1 1058.9,1799.3 1057.5,1798.3 1056.1,1797.0 1054.7,1794.9 1053.3,1796.5 1051.9,1795.3 1050.5,1795.8 1049.1,1791.4 1047.7,1792.2 1046.3,1789.9 1044.9,1790.4 1043.5,1789.4 1042.1,1788.2 1040.7,1787.3 1039.3,1785.2 1037.9,1786.5 1036.5,1787.6 1035.1,1783.5 1033.7,1790.9 1032.3,1783.6 1030.9,1783.3 1029.5,1784.6 1028.1,1784.4 1026.7,1784.5 1025.3,1789.1 1023.9,1781.1 1022.5,1781.9 1021.1,1781.0 1019.7,1780.2 1018.3,1777.3 1016.9,1776.0 1015.5,1775.1 1014.1,1775.7 1012.7,1775.1 1011.3,1772.3 1009.9,1768.5 1008.5,1766.4 1007.1,1764.7 1005.7,1764.4 1004.3,1764.9 1002.9,1763.0 1001.5,1760.7 1000.1,1759.0 998.7,1761.8 997.3,1757.5 995.9,1755.9 994.5,1756.1 993.1,1754.8 991.7,1761.7 990.3,1753.3 988.9,1759.6 987.5,1751.4 986.1,1750.1 984.7,1747.5 983.3,1748.0 981.9,1744.8 980.5,1743.6 979.1,1741.7 977.7,1742.2 976.3,1739.5 974.9,1745.9 973.5,1743.6 972.1,1736.5 970.7,1734.3 969.3,1732.8 967.9,1734.4 966.5,1730.9 965.1,1730.0 963.7,1730.0 962.3,1727.6 960.9,1728.4 959.5,1725.6 958.1,1726.4 956.7,1724.5 955.3,1722.7 953.9,1723.0 952.5,1722.4 951.1,1719.1 949.7,1719.0 948.3,1719.4 946.9,1714.9 945.5,1714.7 944.1,1714.2 942.7,1712.3 941.3,1710.7 939.9,1709.1 938.5,1706.9 937.1,1708.0 935.7,1705.0 934.3,1704.2 932.9,1703.4 931.5,1692.1" fill="#3cb371" stroke="#3cb371" stroke-width="1.6" stroke-linejoin="round"/>
<polyline points="840.8,1657.1 866.1,1659.0 880.9,1675.7 891.4,1680.0 899.5,1673.9 906.2,1676.9 911.8,1692.5 916.7,1686.9 921.0,1684.5 924.8,1690.2 928.3,1693.1 931.5,1704.6 931.5,1704.5 932.9,1700.4 934.3,1700.6 935.7,1703.8 937.1,1702.8 938.5,1705.2 939.9,1705.6 941.3,1709.6 942.7,1708.0 944.1,1710.7 945.5,1710.7 946.9,1712.9 948.3,1713.4 949.7,1716.6 951.1,1714.0 952.5,1719.1 953.9,1717.4 955.3,1721.2 956.7,1717.2 958.1,1726.6 959.5,1721.8 960.9,1726.1 962.3,1723.5 963.7,1729.4 965.1,1726.5 966.5,1731.3 967.9,1726.4 969.3,1734.0 970.7,1727.6 972.1,1740.7 973.5,1732.6 974.9,1739.6 976.3,1734.9 977.7,1740.7 979.1,1734.1 980.5,1748.5 981.9,1737.3 983.3,1745.3 984.7,1739.2 986.1,1750.3 987.5,1741.1 988.9,1750.1 990.3,1744.9 991.7,1756.0 993.1,1744.8 994.5,1755.8 995.9,1741.9 997.3,1764.5 998.7,1751.8 1000.1,1760.8" fill="none" stroke="#b07ce0" stroke-width="2.6" stroke-linejoin="round"/>
<polygon points="931.5,1704.5 932.9,1698.8 934.3,1700.6 935.7,1701.7 937.1,1702.8 938.5,1704.3 939.9,1705.6 941.3,1707.3 942.7,1708.0 944.1,1707.9 945.5,1710.7 946.9,1711.1 948.3,1713.4 949.7,1712.1 951.1,1714.0 952.5,1716.3 953.9,1717.4 955.3,1718.5 956.7,1717.2 958.1,1720.8 959.5,1721.8 960.9,1722.9 962.3,1723.5 963.7,1722.5 965.1,1726.5 966.5,1727.3 967.9,1726.4 969.3,1730.0 970.7,1727.6 972.1,1731.7 973.5,1732.6 974.9,1734.2 976.3,1734.9 977.7,1734.2 979.1,1734.1 980.5,1736.1 981.9,1737.3 983.3,1737.6 984.7,1739.2 986.1,1741.3 987.5,1741.1 988.9,1739.5 990.3,1744.9 991.7,1746.2 993.1,1744.8 994.5,1746.8 995.9,1741.9 997.3,1750.5 998.7,1751.8 1000.1,1752.9 1001.5,1754.6 1002.9,1755.0 1004.3,1755.0 1005.7,1757.9 1007.1,1757.0 1008.5,1757.2 1009.9,1760.4 1011.3,1754.2 1012.7,1762.0 1014.1,1755.8 1015.5,1762.2 1016.9,1762.7 1018.3,1759.8 1019.7,1763.3 1021.1,1765.8 1022.5,1765.3 1023.9,1763.2 1025.3,1764.9 1026.7,1762.3 1028.1,1765.2 1029.5,1767.3 1030.9,1769.3 1032.3,1769.4 1033.7,1767.5 1035.1,1765.6 1036.5,1766.1 1037.9,1771.6 1039.3,1774.6 1040.7,1774.4 1042.1,1776.0 1043.5,1771.1 1044.9,1776.1 1046.3,1776.8 1047.7,1779.6 1049.1,1780.4 1050.5,1781.3 1051.9,1782.1 1053.3,1779.8 1054.7,1779.8 1056.1,1779.5 1057.5,1782.2 1058.9,1785.3 1060.3,1785.9 1061.7,1787.5 1063.1,1785.9 1064.5,1788.6 1065.9,1789.5 1067.3,1789.5 1068.7,1791.1 1070.1,1789.9 1071.5,1792.0 1072.9,1793.4 1074.3,1791.3 1075.7,1794.1 1077.1,1797.5 1078.5,1797.5 1079.9,1795.4 1081.3,1798.6 1082.7,1802.0 1084.1,1802.2 1085.5,1802.5 1086.9,1804.5 1088.3,1805.6 1089.7,1801.3 1091.1,1807.9 1092.5,1808.7 1093.9,1808.3 1095.3,1810.2 1096.7,1811.8 1098.1,1813.1 1099.5,1812.3 1100.9,1814.4 1102.3,1814.9 1103.7,1817.5 1105.1,1818.7 1106.5,1817.8 1107.9,1820.7 1109.3,1819.5 1110.7,1821.4 1112.1,1822.5 1113.5,1819.4 1114.9,1823.4 1116.3,1826.1 1117.7,1826.4 1119.1,1827.8 1120.5,1828.4 1121.9,1827.3 1123.3,1827.9 1124.7,1830.7 1126.1,1831.6 1127.5,1832.9 1128.9,1834.4 1130.3,1835.9 1131.7,1831.7 1133.1,1837.8 1134.5,1836.3 1135.9,1837.5 1137.3,1841.2 1138.7,1838.3 1140.1,1840.3 1141.5,1839.5 1142.9,1844.2 1144.3,1840.6 1145.7,1846.6 1147.1,1846.6 1148.5,1846.2 1149.9,1845.6 1151.3,1850.1 1152.7,1848.5 1154.1,1850.6 1155.5,1850.9 1156.9,1852.2 1158.3,1852.2 1159.7,1852.1 1161.1,1852.7 1162.5,1856.8 1163.9,1858.0 1165.3,1857.3 1166.7,1855.5 1168.1,1859.6 1169.5,1854.6 1170.9,1860.5 1172.3,1862.2 1173.7,1861.3 1175.1,1863.6 1176.5,1864.3 1177.9,1865.3 1179.3,1865.8 1180.7,1866.7 1182.1,1867.4 1183.5,1867.7 1184.9,1868.5 1186.3,1868.0 1187.7,1870.6 1189.1,1870.1 1190.5,1871.7 1191.9,1871.0 1193.3,1872.2 1194.7,1874.4 1196.1,1874.6 1197.5,1873.4 1198.9,1875.2 1200.3,1875.3 1201.7,1876.9 1203.1,1876.9 1204.5,1878.6 1205.9,1876.1 1207.3,1879.3 1208.7,1874.1 1210.1,1881.8 1211.5,1881.1 1212.9,1882.4 1214.3,1882.0 1215.7,1884.7 1217.1,1884.6 1218.5,1886.5 1219.9,1886.0 1221.3,1888.9 1222.7,1890.0 1224.1,1889.7 1225.5,1891.8 1226.9,1894.1 1228.3,1894.4 1229.7,1896.7 1231.1,1898.2 1232.5,1899.2 1233.9,1898.5 1235.3,1899.8 1236.7,1901.6 1238.1,1903.5 1239.5,1903.1 1240.9,1905.7 1242.3,1908.1 1243.7,1907.1 1245.1,1910.2 1246.5,1910.3 1247.9,1910.6 1249.3,1912.5 1250.7,1913.9 1252.1,1912.5 1253.5,1913.0 1254.9,1916.7 1256.3,1916.6 1257.7,1920.6 1259.1,1916.5 1260.5,1922.9 1260.5,1935.9 1259.1,1943.0 1257.7,1931.9 1256.3,1930.2 1254.9,1929.8 1253.5,1928.8 1252.1,1926.0 1250.7,1925.1 1249.3,1924.6 1247.9,1925.0 1246.5,1925.7 1245.1,1921.4 1243.7,1921.3 1242.3,1920.5 1240.9,1915.8 1239.5,1916.6 1238.1,1920.2 1236.7,1914.6 1235.3,1913.8 1233.9,1910.3 1232.5,1909.7 1231.1,1910.0 1229.7,1906.9 1228.3,1905.1 1226.9,1907.1 1225.5,1904.8 1224.1,1903.8 1222.7,1901.2 1221.3,1902.4 1219.9,1901.0 1218.5,1898.2 1217.1,1895.0 1215.7,1894.8 1214.3,1901.5 1212.9,1895.3 1211.5,1892.0 1210.1,1899.9 1208.7,1890.5 1207.3,1892.6 1205.9,1892.5 1204.5,1890.5 1203.1,1888.9 1201.7,1889.3 1200.3,1887.0 1198.9,1886.4 1197.5,1892.4 1196.1,1884.6 1194.7,1890.7 1193.3,1883.8 1191.9,1885.5 1190.5,1882.4 1189.1,1886.2 1187.7,1885.2 1186.3,1888.4 1184.9,1878.9 1183.5,1879.2 1182.1,1884.2 1180.7,1881.9 1179.3,1878.2 1177.9,1885.1 1176.5,1881.7 1175.1,1879.1 1173.7,1873.5 1172.3,1872.2 1170.9,1877.0 1169.5,1872.0 1168.1,1874.3 1166.7,1872.9 1165.3,1867.8 1163.9,1870.1 1162.5,1868.3 1161.1,1867.2 1159.7,1864.4 1158.3,1870.1 1156.9,1873.8 1155.5,1863.1 1154.1,1871.4 1152.7,1863.0 1151.3,1869.4 1149.9,1865.0 1148.5,1857.8 1147.1,1857.8 1145.7,1857.6 1144.3,1855.9 1142.9,1861.5 1141.5,1860.5 1140.1,1853.9 1138.7,1853.4 1137.3,1854.3 1135.9,1855.7 1134.5,1850.0 1133.1,1852.5 1131.7,1846.7 1130.3,1849.8 1128.9,1845.7 1127.5,1846.0 1126.1,1844.7 1124.7,1842.8 1123.3,1840.1 1121.9,1840.8 1120.5,1839.3 1119.1,1838.8 1117.7,1844.5 1116.3,1837.7 1114.9,1838.7 1113.5,1835.1 1112.1,1840.2 1110.7,1833.1 1109.3,1832.0 1107.9,1833.5 1106.5,1831.9 1105.1,1829.9 1103.7,1828.7 1102.3,1829.3 1100.9,1827.2 1099.5,1826.0 1098.1,1822.9 1096.7,1822.2 1095.3,1820.9 1093.9,1821.7 1092.5,1819.5 1091.1,1819.5 1089.7,1822.0 1088.3,1817.4 1086.9,1820.0 1085.5,1814.5 1084.1,1818.7 1082.7,1811.4 1081.3,1810.4 1079.9,1816.0 1078.5,1815.8 1077.1,1807.1 1075.7,1815.4 1074.3,1810.0 1072.9,1804.7 1071.5,1803.5 1070.1,1803.9 1068.7,1807.9 1067.3,1804.0 1065.9,1804.7 1064.5,1807.9 1063.1,1797.9 1061.7,1801.0 1060.3,1796.3 1058.9,1798.7 1057.5,1800.4 1056.1,1793.9 1054.7,1794.3 1053.3,1794.0 1051.9,1795.0 1050.5,1790.7 1049.1,1793.5 1047.7,1789.5 1046.3,1788.3 1044.9,1788.0 1043.5,1790.7 1042.1,1787.4 1040.7,1787.5 1039.3,1785.0 1037.9,1785.8 1036.5,1783.8 1035.1,1781.6 1033.7,1780.8 1032.3,1782.9 1030.9,1786.3 1029.5,1785.3 1028.1,1778.3 1026.7,1785.9 1025.3,1782.5 1023.9,1786.5 1022.5,1776.0 1021.1,1778.3 1019.7,1776.0 1018.3,1777.9 1016.9,1773.2 1015.5,1772.3 1014.1,1770.2 1012.7,1774.7 1011.3,1772.5 1009.9,1770.7 1008.5,1768.5 1007.1,1766.6 1005.7,1767.9 1004.3,1765.5 1002.9,1762.6 1001.5,1766.3 1000.1,1760.8 998.7,1762.9 997.3,1764.5 995.9,1762.1 994.5,1755.8 993.1,1757.0 991.7,1756.0 990.3,1750.7 988.9,1750.1 987.5,1750.9 986.1,1750.3 984.7,1746.0 983.3,1745.3 981.9,1746.0 980.5,1748.5 979.1,1750.9 977.7,1740.7 976.3,1740.4 974.9,1739.6 973.5,1742.8 972.1,1740.7 970.7,1735.0 969.3,1734.0 967.9,1733.0 966.5,1731.3 965.1,1730.9 963.7,1729.4 962.3,1728.8 960.9,1726.1 959.5,1726.7 958.1,1726.6 956.7,1721.8 955.3,1721.2 953.9,1722.1 952.5,1719.1 951.1,1717.4 949.7,1716.6 948.3,1715.5 946.9,1712.9 945.5,1711.6 944.1,1710.7 942.7,1709.2 941.3,1709.6 939.9,1706.5 938.5,1705.2 937.1,1703.6 935.7,1703.8 934.3,1703.6 932.9,1700.4 931.5,1704.7" fill="#b07ce0" stroke="#b07ce0" stroke-width="1.6" stroke-linejoin="round"/>
<polyline points="840.8,1653.1 866.1,1649.5 880.9,1649.1 891.4,1680.0 899.5,1666.7 906.2,1674.6 911.8,1679.9 916.7,1674.9 921.0,1685.8 924.8,1692.6 928.3,1689.9 931.5,1691.1 931.5,1689.7 932.9,1693.5 934.3,1693.3 935.7,1696.1 937.1,1696.4 938.5,1698.2 939.9,1697.8 941.3,1699.9 942.7,1700.4 944.1,1701.7 945.5,1702.0 946.9,1703.2 948.3,1702.6 949.7,1705.8 951.1,1705.6 952.5,1708.7 953.9,1707.9 955.3,1711.4 956.7,1710.3 958.1,1713.8 959.5,1712.7 960.9,1717.9 962.3,1715.9 963.7,1720.4 965.1,1717.8 966.5,1722.6 967.9,1720.6 969.3,1727.2 970.7,1721.2 972.1,1729.7 973.5,1725.7 974.9,1734.5 976.3,1726.5 977.7,1736.0 979.1,1727.6 980.5,1734.8 981.9,1731.1 983.3,1739.7 984.7,1732.3 986.1,1740.3 987.5,1734.7 988.9,1742.3 990.3,1736.9 991.7,1745.0 993.1,1739.5 994.5,1747.5 995.9,1740.9 997.3,1757.1 998.7,1743.8 1000.1,1753.4" fill="none" stroke="#c9a00f" stroke-width="2.6" stroke-linejoin="round"/>
<polygon points="931.5,1689.7 932.9,1692.9 934.3,1693.3 935.7,1695.5 937.1,1696.4 938.5,1697.1 939.9,1697.8 941.3,1698.2 942.7,1700.4 944.1,1701.1 945.5,1702.0 946.9,1701.8 948.3,1702.6 949.7,1704.7 951.1,1705.6 952.5,1706.6 953.9,1707.9 955.3,1709.2 956.7,1710.3 958.1,1709.3 959.5,1712.7 960.9,1713.3 962.3,1715.9 963.7,1717.9 965.1,1717.8 966.5,1719.4 967.9,1720.6 969.3,1722.3 970.7,1721.2 972.1,1720.8 973.5,1725.7 974.9,1725.8 976.3,1726.5 977.7,1727.0 979.1,1727.6 980.5,1728.0 981.9,1731.1 983.3,1729.6 984.7,1732.3 986.1,1733.3 987.5,1734.7 988.9,1734.6 990.3,1736.9 991.7,1737.8 993.1,1739.5 994.5,1739.4 995.9,1740.9 997.3,1742.0 998.7,1743.8 1000.1,1743.1 1001.5,1743.3 1002.9,1745.3 1004.3,1744.8 1005.7,1745.3 1007.1,1748.3 1008.5,1746.9 1009.9,1747.4 1011.3,1748.7 1012.7,1747.3 1014.1,1748.0 1015.5,1750.8 1016.9,1752.5 1018.3,1754.2 1019.7,1752.0 1021.1,1753.5 1022.5,1753.7 1023.9,1755.9 1025.3,1757.6 1026.7,1755.8 1028.1,1758.2 1029.5,1759.5 1030.9,1758.3 1032.3,1759.5 1033.7,1759.3 1035.1,1760.4 1036.5,1760.4 1037.9,1762.7 1039.3,1762.5 1040.7,1763.8 1042.1,1764.5 1043.5,1765.2 1044.9,1764.8 1046.3,1765.9 1047.7,1764.5 1049.1,1767.8 1050.5,1765.5 1051.9,1767.2 1053.3,1770.8 1054.7,1770.9 1056.1,1772.0 1057.5,1764.5 1058.9,1772.8 1060.3,1772.9 1061.7,1774.2 1063.1,1769.9 1064.5,1771.0 1065.9,1775.7 1067.3,1777.6 1068.7,1778.7 1070.1,1777.4 1071.5,1777.9 1072.9,1778.9 1074.3,1777.4 1075.7,1783.6 1077.1,1783.5 1078.5,1785.2 1079.9,1785.7 1081.3,1787.2 1082.7,1788.2 1084.1,1788.7 1085.5,1790.0 1086.9,1789.4 1088.3,1789.7 1089.7,1789.0 1091.1,1793.0 1092.5,1787.9 1093.9,1795.6 1095.3,1794.8 1096.7,1795.2 1098.1,1798.9 1099.5,1799.0 1100.9,1800.3 1102.3,1802.8 1103.7,1804.7 1105.1,1805.0 1106.5,1799.2 1107.9,1805.9 1109.3,1809.9 1110.7,1802.3 1112.1,1811.1 1113.5,1812.0 1114.9,1812.2 1116.3,1812.8 1117.7,1813.8 1119.1,1814.2 1120.5,1815.3 1121.9,1816.0 1123.3,1816.8 1124.7,1816.0 1126.1,1815.7 1127.5,1818.7 1128.9,1818.8 1130.3,1820.9 1131.7,1819.5 1133.1,1822.9 1134.5,1822.0 1135.9,1819.2 1137.3,1826.0 1138.7,1820.8 1140.1,1825.6 1141.5,1827.1 1142.9,1828.7 1144.3,1829.1 1145.7,1828.0 1147.1,1831.5 1148.5,1828.2 1149.9,1833.6 1151.3,1833.6 1152.7,1834.8 1154.1,1835.1 1155.5,1834.8 1156.9,1829.4 1158.3,1835.5 1159.7,1839.9 1161.1,1840.3 1162.5,1841.9 1163.9,1841.0 1165.3,1841.9 1166.7,1843.4 1168.1,1838.3 1169.5,1843.2 1170.9,1847.7 1172.3,1846.8 1173.7,1848.7 1175.1,1845.2 1176.5,1848.5 1177.9,1848.9 1179.3,1850.1 1180.7,1849.9 1182.1,1851.1 1183.5,1852.2 1184.9,1853.8 1186.3,1853.1 1187.7,1853.0 1189.1,1853.1 1190.5,1853.3 1191.9,1854.3 1193.3,1856.4 1194.7,1857.6 1196.1,1857.0 1197.5,1852.5 1198.9,1852.2 1200.3,1858.6 1201.7,1853.0 1203.1,1860.3 1204.5,1860.9 1205.9,1860.9 1207.3,1861.2 1208.7,1864.3 1210.1,1862.7 1211.5,1862.9 1212.9,1865.6 1214.3,1867.4 1215.7,1868.2 1217.1,1868.3 1218.5,1868.9 1219.9,1868.6 1221.3,1869.3 1222.7,1871.5 1224.1,1873.4 1225.5,1867.1 1226.9,1875.1 1228.3,1874.5 1229.7,1877.4 1231.1,1878.3 1232.5,1878.8 1233.9,1879.7 1235.3,1878.9 1236.7,1875.5 1238.1,1875.7 1239.5,1882.7 1240.9,1885.6 1242.3,1886.0 1243.7,1888.6 1245.1,1888.9 1246.5,1889.7 1247.9,1892.3 1249.3,1894.3 1250.7,1894.2 1252.1,1896.0 1253.5,1896.5 1254.9,1898.4 1256.3,1900.1 1257.7,1901.4 1259.1,1899.6 1260.5,1903.1 1260.5,1915.6 1259.1,1916.0 1257.7,1912.6 1256.3,1912.1 1254.9,1911.5 1253.5,1912.2 1252.1,1909.7 1250.7,1904.9 1249.3,1903.8 1247.9,1904.3 1246.5,1907.1 1245.1,1902.5 1243.7,1898.8 1242.3,1904.9 1240.9,1899.7 1239.5,1897.2 1238.1,1894.7 1236.7,1896.8 1235.3,1893.7 1233.9,1892.4 1232.5,1892.7 1231.1,1891.2 1229.7,1893.9 1228.3,1890.4 1226.9,1885.8 1225.5,1885.3 1224.1,1885.8 1222.7,1886.8 1221.3,1881.1 1219.9,1882.6 1218.5,1881.4 1217.1,1879.0 1215.7,1878.4 1214.3,1880.7 1212.9,1881.9 1211.5,1879.6 1210.1,1880.0 1208.7,1873.4 1207.3,1873.0 1205.9,1872.3 1204.5,1871.6 1203.1,1875.4 1201.7,1874.4 1200.3,1877.7 1198.9,1870.4 1197.5,1873.4 1196.1,1868.2 1194.7,1871.9 1193.3,1868.2 1191.9,1868.3 1190.5,1866.9 1189.1,1867.7 1187.7,1869.1 1186.3,1864.3 1184.9,1865.5 1183.5,1867.9 1182.1,1864.6 1180.7,1867.1 1179.3,1861.1 1177.9,1859.5 1176.5,1859.7 1175.1,1860.4 1173.7,1859.1 1172.3,1858.2 1170.9,1858.2 1169.5,1857.1 1168.1,1857.5 1166.7,1855.9 1165.3,1853.0 1163.9,1855.3 1162.5,1854.2 1161.1,1858.9 1159.7,1851.5 1158.3,1850.2 1156.9,1849.2 1155.5,1853.9 1154.1,1848.7 1152.7,1846.3 1151.3,1847.6 1149.9,1845.3 1148.5,1842.6 1147.1,1847.4 1145.7,1840.7 1144.3,1840.6 1142.9,1838.7 1141.5,1841.4 1140.1,1837.4 1138.7,1836.7 1137.3,1838.4 1135.9,1840.4 1134.5,1834.0 1133.1,1832.9 1131.7,1834.4 1130.3,1833.9 1128.9,1838.6 1127.5,1832.9 1126.1,1831.0 1124.7,1828.7 1123.3,1828.9 1121.9,1828.4 1120.5,1825.5 1119.1,1828.2 1117.7,1826.2 1116.3,1826.4 1114.9,1824.3 1113.5,1821.1 1112.1,1821.6 1110.7,1824.8 1109.3,1820.8 1107.9,1824.5 1106.5,1825.0 1105.1,1818.5 1103.7,1815.5 1102.3,1813.6 1100.9,1814.6 1099.5,1811.7 1098.1,1810.8 1096.7,1808.0 1095.3,1808.0 1093.9,1804.9 1092.5,1807.0 1091.1,1803.8 1089.7,1803.8 1088.3,1805.9 1086.9,1806.9 1085.5,1804.5 1084.1,1801.3 1082.7,1799.9 1081.3,1797.4 1079.9,1798.1 1078.5,1796.6 1077.1,1795.9 1075.7,1793.6 1074.3,1796.3 1072.9,1792.1 1071.5,1796.6 1070.1,1795.6 1068.7,1791.2 1067.3,1788.3 1065.9,1789.8 1064.5,1785.6 1063.1,1788.1 1061.7,1787.7 1060.3,1787.3 1058.9,1783.8 1057.5,1784.4 1056.1,1782.7 1054.7,1783.4 1053.3,1786.5 1051.9,1780.2 1050.5,1783.6 1049.1,1786.2 1047.7,1777.6 1046.3,1779.8 1044.9,1779.6 1043.5,1778.0 1042.1,1776.3 1040.7,1784.0 1039.3,1772.3 1037.9,1773.9 1036.5,1772.0 1035.1,1773.5 1033.7,1771.4 1032.3,1770.0 1030.9,1772.6 1029.5,1771.0 1028.1,1770.1 1026.7,1768.3 1025.3,1767.7 1023.9,1766.8 1022.5,1770.5 1021.1,1765.7 1019.7,1766.9 1018.3,1763.1 1016.9,1761.9 1015.5,1767.9 1014.1,1761.6 1012.7,1759.5 1011.3,1758.8 1009.9,1761.2 1008.5,1757.4 1007.1,1756.1 1005.7,1758.3 1004.3,1753.6 1002.9,1756.9 1001.5,1753.0 1000.1,1753.4 998.7,1752.3 997.3,1757.1 995.9,1752.8 994.5,1747.5 993.1,1748.6 991.7,1745.0 990.3,1744.6 988.9,1742.3 987.5,1744.5 986.1,1740.3 984.7,1738.0 983.3,1739.7 981.9,1739.6 980.5,1734.8 979.1,1735.2 977.7,1736.0 976.3,1730.6 974.9,1734.5 973.5,1734.9 972.1,1729.7 970.7,1727.3 969.3,1727.2 967.9,1725.1 966.5,1722.6 965.1,1721.8 963.7,1720.4 962.3,1718.6 960.9,1717.9 959.5,1716.5 958.1,1713.8 956.7,1714.4 955.3,1711.4 953.9,1709.9 952.5,1708.7 951.1,1709.8 949.7,1705.8 948.3,1705.2 946.9,1703.2 945.5,1702.6 944.1,1701.7 942.7,1700.8 941.3,1699.9 939.9,1698.7 938.5,1698.2 937.1,1697.3 935.7,1696.1 934.3,1694.5 932.9,1693.5 931.5,1691.1" fill="#c9a00f" stroke="#c9a00f" stroke-width="1.6" stroke-linejoin="round"/>
<polyline points="840.8,1654.3 866.1,1667.8 880.9,1668.5 891.4,1661.0 899.5,1675.3 906.2,1678.2 911.8,1691.6 916.7,1695.3 921.0,1699.8 924.8,1699.9 928.3,1700.1 931.5,1699.3 931.5,1697.0 932.9,1697.2 934.3,1696.6 935.7,1700.1 937.1,1699.7 938.5,1701.9 939.9,1701.2 941.3,1703.0 942.7,1704.2 944.1,1706.5 945.5,1706.3 946.9,1709.1 948.3,1707.9 949.7,1711.7 951.1,1711.9 952.5,1716.5 953.9,1714.1 955.3,1718.7 956.7,1715.8 958.1,1721.9 959.5,1716.8 960.9,1723.3 962.3,1719.5 963.7,1727.1 965.1,1721.1 966.5,1727.3 967.9,1723.1 969.3,1732.6 970.7,1723.0 972.1,1735.6 973.5,1728.1 974.9,1736.0 976.3,1729.2 977.7,1740.0 979.1,1730.7 980.5,1742.6 981.9,1735.2 983.3,1749.5 984.7,1734.5 986.1,1749.0 987.5,1734.9 988.9,1756.4 990.3,1738.5 991.7,1753.4 993.1,1741.9 994.5,1755.0 995.9,1745.3 997.3,1758.7 998.7,1747.9 1000.1,1760.7" fill="none" stroke="#2e5ca8" stroke-width="2.6" stroke-linejoin="round"/>
<polygon points="931.5,1697.0 932.9,1696.7 934.3,1696.6 935.7,1698.5 937.1,1699.7 938.5,1699.9 939.9,1701.2 941.3,1702.4 942.7,1704.2 944.1,1705.4 945.5,1706.3 946.9,1707.8 948.3,1707.9 949.7,1710.1 951.1,1711.9 952.5,1713.4 953.9,1714.1 955.3,1715.0 956.7,1715.8 958.1,1716.4 959.5,1716.8 960.9,1717.8 962.3,1719.5 963.7,1721.0 965.1,1721.1 966.5,1721.9 967.9,1723.1 969.3,1723.5 970.7,1723.0 972.1,1727.0 973.5,1728.1 974.9,1726.9 976.3,1729.2 977.7,1730.0 979.1,1730.7 980.5,1734.3 981.9,1735.2 983.3,1733.2 984.7,1734.5 986.1,1738.0 987.5,1734.9 988.9,1738.1 990.3,1738.5 991.7,1740.6 993.1,1741.9 994.5,1742.1 995.9,1745.3 997.3,1747.2 998.7,1747.9 1000.1,1747.6 1001.5,1745.4 1002.9,1749.6 1004.3,1751.5 1005.7,1750.8 1007.1,1751.6 1008.5,1754.0 1009.9,1753.4 1011.3,1752.8 1012.7,1748.2 1014.1,1749.3 1015.5,1754.9 1016.9,1757.0 1018.3,1757.6 1019.7,1757.0 1021.1,1759.8 1022.5,1760.0 1023.9,1758.4 1025.3,1760.6 1026.7,1762.6 1028.1,1764.0 1029.5,1765.3 1030.9,1759.9 1032.3,1766.3 1033.7,1764.4 1035.1,1758.6 1036.5,1767.6 1037.9,1768.6 1039.3,1768.0 1040.7,1763.5 1042.1,1769.5 1043.5,1770.3 1044.9,1771.0 1046.3,1771.5 1047.7,1771.4 1049.1,1771.6 1050.5,1773.1 1051.9,1774.3 1053.3,1773.8 1054.7,1775.2 1056.1,1774.8 1057.5,1776.7 1058.9,1775.9 1060.3,1774.3 1061.7,1776.7 1063.1,1779.1 1064.5,1778.2 1065.9,1782.6 1067.3,1782.7 1068.7,1783.1 1070.1,1785.5 1071.5,1786.9 1072.9,1785.2 1074.3,1789.1 1075.7,1788.5 1077.1,1789.0 1078.5,1789.5 1079.9,1791.4 1081.3,1792.0 1082.7,1793.1 1084.1,1795.1 1085.5,1795.5 1086.9,1797.8 1088.3,1798.7 1089.7,1795.7 1091.1,1797.7 1092.5,1802.1 1093.9,1804.7 1095.3,1803.2 1096.7,1804.9 1098.1,1806.4 1099.5,1807.7 1100.9,1808.7 1102.3,1808.9 1103.7,1810.4 1105.1,1811.1 1106.5,1812.5 1107.9,1810.0 1109.3,1815.5 1110.7,1815.2 1112.1,1815.7 1113.5,1816.5 1114.9,1819.6 1116.3,1818.7 1117.7,1820.7 1119.1,1822.5 1120.5,1822.8 1121.9,1821.3 1123.3,1824.2 1124.7,1822.9 1126.1,1826.4 1127.5,1825.3 1128.9,1826.9 1130.3,1825.3 1131.7,1830.6 1133.1,1831.7 1134.5,1832.9 1135.9,1832.0 1137.3,1835.5 1138.7,1833.2 1140.1,1836.6 1141.5,1837.1 1142.9,1837.8 1144.3,1838.7 1145.7,1838.6 1147.1,1835.2 1148.5,1839.6 1149.9,1842.6 1151.3,1843.1 1152.7,1840.4 1154.1,1844.9 1155.5,1842.5 1156.9,1845.2 1158.3,1848.4 1159.7,1847.0 1161.1,1848.4 1162.5,1851.3 1163.9,1849.2 1165.3,1852.0 1166.7,1853.0 1168.1,1852.7 1169.5,1854.9 1170.9,1848.1 1172.3,1854.8 1173.7,1848.4 1175.1,1855.8 1176.5,1857.5 1177.9,1859.4 1179.3,1860.3 1180.7,1862.0 1182.1,1858.6 1183.5,1862.2 1184.9,1863.5 1186.3,1865.2 1187.7,1864.8 1189.1,1864.8 1190.5,1867.2 1191.9,1863.5 1193.3,1867.6 1194.7,1864.6 1196.1,1868.4 1197.5,1860.5 1198.9,1870.1 1200.3,1862.2 1201.7,1866.9 1203.1,1869.3 1204.5,1873.7 1205.9,1874.4 1207.3,1868.3 1208.7,1875.8 1210.1,1874.6 1211.5,1877.3 1212.9,1877.4 1214.3,1872.2 1215.7,1880.6 1217.1,1881.4 1218.5,1881.3 1219.9,1882.5 1221.3,1879.6 1222.7,1884.3 1224.1,1884.0 1225.5,1886.7 1226.9,1884.7 1228.3,1888.2 1229.7,1890.0 1231.1,1889.9 1232.5,1891.8 1233.9,1892.3 1235.3,1894.5 1236.7,1896.2 1238.1,1894.4 1239.5,1895.1 1240.9,1899.8 1242.3,1899.6 1243.7,1898.5 1245.1,1902.2 1246.5,1905.0 1247.9,1905.7 1249.3,1904.2 1250.7,1906.7 1252.1,1909.5 1253.5,1911.4 1254.9,1912.4 1256.3,1913.4 1257.7,1915.7 1259.1,1915.5 1260.5,1915.4 1260.5,1938.4 1259.1,1932.3 1257.7,1932.1 1256.3,1931.6 1254.9,1932.1 1253.5,1928.4 1252.1,1926.8 1250.7,1933.4 1249.3,1932.5 1247.9,1931.8 1246.5,1922.2 1245.1,1920.1 1243.7,1919.8 1242.3,1922.1 1240.9,1920.8 1239.5,1918.5 1238.1,1914.9 1236.7,1913.4 1235.3,1915.1 1233.9,1910.7 1232.5,1910.9 1231.1,1914.9 1229.7,1906.3 1228.3,1907.9 1226.9,1908.6 1225.5,1904.7 1224.1,1901.9 1222.7,1901.2 1221.3,1899.4 1219.9,1898.1 1218.5,1900.8 1217.1,1898.4 1215.7,1897.9 1214.3,1894.4 1212.9,1894.6 1211.5,1900.3 1210.1,1902.5 1208.7,1895.6 1207.3,1892.0 1205.9,1890.0 1204.5,1888.7 1203.1,1890.5 1201.7,1886.8 1200.3,1886.0 1198.9,1889.8 1197.5,1884.6 1196.1,1887.3 1194.7,1885.3 1193.3,1885.1 1191.9,1885.5 1190.5,1886.1 1189.1,1881.8 1187.7,1887.1 1186.3,1880.7 1184.9,1888.0 1183.5,1885.4 1182.1,1880.1 1180.7,1880.8 1179.3,1875.7 1177.9,1874.2 1176.5,1874.3 1175.1,1872.9 1173.7,1872.8 1172.3,1871.7 1170.9,1870.9 1169.5,1871.3 1168.1,1871.5 1166.7,1868.4 1165.3,1869.8 1163.9,1874.2 1162.5,1867.2 1161.1,1868.7 1159.7,1875.8 1158.3,1867.6 1156.9,1865.4 1155.5,1861.9 1154.1,1861.1 1152.7,1860.1 1151.3,1859.1 1149.9,1860.1 1148.5,1857.8 1147.1,1866.8 1145.7,1858.9 1144.3,1854.9 1142.9,1854.0 1141.5,1860.8 1140.1,1857.0 1138.7,1853.1 1137.3,1854.9 1135.9,1849.9 1134.5,1853.8 1133.1,1849.3 1131.7,1846.6 1130.3,1846.8 1128.9,1848.2 1127.5,1849.2 1126.1,1841.6 1124.7,1842.7 1123.3,1840.1 1121.9,1847.2 1120.5,1841.9 1119.1,1838.3 1117.7,1839.0 1116.3,1835.8 1114.9,1834.7 1113.5,1839.0 1112.1,1833.9 1110.7,1832.6 1109.3,1831.3 1107.9,1835.5 1106.5,1830.3 1105.1,1828.6 1103.7,1831.2 1102.3,1833.4 1100.9,1826.5 1099.5,1824.7 1098.1,1823.4 1096.7,1824.1 1095.3,1821.8 1093.9,1819.7 1092.5,1823.1 1091.1,1825.3 1089.7,1815.5 1088.3,1815.1 1086.9,1815.4 1085.5,1813.0 1084.1,1811.9 1082.7,1811.9 1081.3,1809.5 1079.9,1808.5 1078.5,1807.5 1077.1,1807.9 1075.7,1811.2 1074.3,1808.0 1072.9,1803.2 1071.5,1802.0 1070.1,1805.5 1068.7,1800.4 1067.3,1798.7 1065.9,1803.7 1064.5,1796.7 1063.1,1796.5 1061.7,1799.8 1060.3,1795.3 1058.9,1794.5 1057.5,1793.0 1056.1,1795.9 1054.7,1792.6 1053.3,1790.2 1051.9,1791.3 1050.5,1789.5 1049.1,1791.0 1047.7,1789.4 1046.3,1788.2 1044.9,1789.7 1043.5,1792.8 1042.1,1786.2 1040.7,1784.9 1039.3,1786.0 1037.9,1787.6 1036.5,1791.0 1035.1,1785.9 1033.7,1785.3 1032.3,1781.7 1030.9,1781.7 1029.5,1781.6 1028.1,1781.7 1026.7,1778.6 1025.3,1779.5 1023.9,1779.8 1022.5,1775.0 1021.1,1777.5 1019.7,1773.7 1018.3,1773.5 1016.9,1774.1 1015.5,1770.4 1014.1,1769.3 1012.7,1768.9 1011.3,1770.1 1009.9,1768.0 1008.5,1768.2 1007.1,1766.3 1005.7,1763.3 1004.3,1763.0 1002.9,1768.7 1001.5,1763.1 1000.1,1760.7 998.7,1758.4 997.3,1758.7 995.9,1755.7 994.5,1755.0 993.1,1752.8 991.7,1753.4 990.3,1754.2 988.9,1756.4 987.5,1752.4 986.1,1749.0 984.7,1744.8 983.3,1749.5 981.9,1743.5 980.5,1742.6 979.1,1741.7 977.7,1740.0 976.3,1737.2 974.9,1736.0 973.5,1737.1 972.1,1735.6 970.7,1733.6 969.3,1732.6 967.9,1728.6 966.5,1727.3 965.1,1730.2 963.7,1727.1 962.3,1724.4 960.9,1723.3 959.5,1727.5 958.1,1721.9 956.7,1719.8 955.3,1718.7 953.9,1716.9 952.5,1716.5 951.1,1715.1 949.7,1711.7 948.3,1710.8 946.9,1709.1 945.5,1708.4 944.1,1706.5 942.7,1704.8 941.3,1703.0 939.9,1704.6 938.5,1701.9 937.1,1700.9 935.7,1700.1 934.3,1697.9 932.9,1697.2 931.5,1699.8" fill="#2e5ca8" stroke="#2e5ca8" stroke-width="1.6" stroke-linejoin="round"/>
<polyline points="840.8,1653.7 866.1,1677.4 880.9,1662.2 891.4,1670.7 899.5,1676.7 906.2,1683.4 911.8,1686.7 916.7,1680.0 921.0,1681.9 924.8,1685.8 928.3,1696.2 931.5,1689.5 931.5,1688.0 932.9,1696.8 934.3,1695.7 935.7,1697.1 937.1,1696.5 938.5,1698.0 939.9,1696.0 941.3,1700.0 942.7,1700.2 944.1,1702.6 945.5,1701.7 946.9,1705.2 948.3,1703.5 949.7,1707.1 951.1,1705.4 952.5,1712.5 953.9,1708.0 955.3,1712.7 956.7,1710.5 958.1,1714.7 959.5,1712.9 960.9,1718.4 962.3,1714.8 963.7,1719.3 965.1,1716.7 966.5,1724.0 967.9,1718.4 969.3,1724.5 970.7,1719.3 972.1,1729.4 973.5,1723.6 974.9,1736.4 976.3,1724.8 977.7,1732.1 979.1,1726.3 980.5,1734.6 981.9,1729.8 983.3,1738.5 984.7,1732.1 986.1,1739.1 987.5,1730.7 988.9,1742.1 990.3,1734.8 991.7,1748.4 993.1,1737.0 994.5,1748.5 995.9,1734.8 997.3,1749.2 998.7,1739.7 1000.1,1755.1" fill="none" stroke="#7d4f4f" stroke-width="2.6" stroke-linejoin="round"/>
<polygon points="931.5,1688.0 932.9,1695.1 934.3,1695.7 935.7,1695.5 937.1,1696.5 938.5,1697.3 939.9,1696.0 941.3,1699.3 942.7,1700.2 944.1,1701.4 945.5,1701.7 946.9,1703.2 948.3,1703.5 949.7,1703.4 951.1,1705.4 952.5,1706.8 953.9,1708.0 955.3,1709.3 956.7,1710.5 958.1,1710.0 959.5,1712.9 960.9,1713.8 962.3,1714.8 963.7,1715.6 965.1,1716.7 966.5,1718.0 967.9,1718.4 969.3,1719.8 970.7,1719.3 972.1,1722.0 973.5,1723.6 974.9,1724.7 976.3,1724.8 977.7,1726.6 979.1,1726.3 980.5,1726.3 981.9,1729.8 983.3,1728.0 984.7,1732.1 986.1,1731.0 987.5,1730.7 988.9,1730.1 990.3,1734.8 991.7,1728.9 993.1,1737.0 994.5,1737.2 995.9,1734.8 997.3,1739.3 998.7,1739.7 1000.1,1741.0 1001.5,1742.3 1002.9,1742.7 1004.3,1743.1 1005.7,1739.9 1007.1,1745.1 1008.5,1740.6 1009.9,1748.7 1011.3,1749.4 1012.7,1749.7 1014.1,1751.1 1015.5,1751.5 1016.9,1751.5 1018.3,1749.3 1019.7,1747.9 1021.1,1746.5 1022.5,1748.2 1023.9,1752.4 1025.3,1751.6 1026.7,1753.7 1028.1,1756.6 1029.5,1756.5 1030.9,1757.1 1032.3,1754.6 1033.7,1758.7 1035.1,1759.5 1036.5,1759.1 1037.9,1759.2 1039.3,1757.9 1040.7,1760.9 1042.1,1761.6 1043.5,1761.8 1044.9,1761.1 1046.3,1765.0 1047.7,1765.3 1049.1,1764.5 1050.5,1764.3 1051.9,1767.6 1053.3,1768.0 1054.7,1768.2 1056.1,1765.5 1057.5,1769.0 1058.9,1771.9 1060.3,1772.0 1061.7,1770.2 1063.1,1772.9 1064.5,1774.9 1065.9,1773.4 1067.3,1776.5 1068.7,1777.0 1070.1,1778.6 1071.5,1778.0 1072.9,1779.4 1074.3,1779.8 1075.7,1777.0 1077.1,1780.5 1078.5,1782.3 1079.9,1780.8 1081.3,1783.9 1082.7,1785.2 1084.1,1781.3 1085.5,1787.3 1086.9,1788.8 1088.3,1790.8 1089.7,1792.0 1091.1,1793.1 1092.5,1795.1 1093.9,1791.3 1095.3,1797.0 1096.7,1797.6 1098.1,1797.9 1099.5,1799.0 1100.9,1798.2 1102.3,1801.4 1103.7,1800.9 1105.1,1798.1 1106.5,1802.5 1107.9,1803.9 1109.3,1803.2 1110.7,1806.6 1112.1,1808.3 1113.5,1803.3 1114.9,1807.0 1116.3,1809.3 1117.7,1809.9 1119.1,1808.7 1120.5,1812.2 1121.9,1812.8 1123.3,1813.4 1124.7,1813.6 1126.1,1807.0 1127.5,1814.2 1128.9,1811.7 1130.3,1813.2 1131.7,1818.6 1133.1,1821.4 1134.5,1819.9 1135.9,1821.8 1137.3,1821.5 1138.7,1823.5 1140.1,1826.1 1141.5,1827.2 1142.9,1823.4 1144.3,1828.2 1145.7,1828.1 1147.1,1827.8 1148.5,1824.4 1149.9,1828.9 1151.3,1830.1 1152.7,1830.4 1154.1,1832.1 1155.5,1832.2 1156.9,1832.3 1158.3,1834.9 1159.7,1835.1 1161.1,1836.1 1162.5,1838.2 1163.9,1839.3 1165.3,1838.5 1166.7,1836.2 1168.1,1842.1 1169.5,1840.6 1170.9,1839.2 1172.3,1844.5 1173.7,1844.8 1175.1,1842.0 1176.5,1845.5 1177.9,1845.6 1179.3,1844.5 1180.7,1847.5 1182.1,1848.4 1183.5,1847.8 1184.9,1846.7 1186.3,1849.6 1187.7,1846.1 1189.1,1850.1 1190.5,1849.1 1191.9,1851.4 1193.3,1852.5 1194.7,1853.1 1196.1,1853.0 1197.5,1853.7 1198.9,1853.9 1200.3,1854.7 1201.7,1855.7 1203.1,1856.2 1204.5,1855.8 1205.9,1857.9 1207.3,1858.2 1208.7,1859.4 1210.1,1859.1 1211.5,1860.2 1212.9,1858.6 1214.3,1863.1 1215.7,1862.8 1217.1,1864.0 1218.5,1866.4 1219.9,1867.1 1221.3,1867.6 1222.7,1866.6 1224.1,1870.5 1225.5,1863.7 1226.9,1870.2 1228.3,1873.3 1229.7,1873.3 1231.1,1873.9 1232.5,1875.8 1233.9,1874.5 1235.3,1876.9 1236.7,1878.0 1238.1,1878.7 1239.5,1879.2 1240.9,1880.5 1242.3,1879.2 1243.7,1878.2 1245.1,1881.2 1246.5,1887.2 1247.9,1887.8 1249.3,1889.3 1250.7,1892.0 1252.1,1892.0 1253.5,1892.9 1254.9,1892.2 1256.3,1894.6 1257.7,1897.1 1259.1,1897.5 1260.5,1899.8 1260.5,1913.7 1259.1,1911.9 1257.7,1912.1 1256.3,1910.7 1254.9,1909.2 1253.5,1906.2 1252.1,1905.3 1250.7,1904.3 1249.3,1902.7 1247.9,1909.4 1246.5,1902.8 1245.1,1900.9 1243.7,1902.4 1242.3,1897.0 1240.9,1897.6 1239.5,1896.0 1238.1,1897.8 1236.7,1893.8 1235.3,1891.2 1233.9,1888.2 1232.5,1888.4 1231.1,1887.7 1229.7,1890.3 1228.3,1886.8 1226.9,1885.8 1225.5,1889.2 1224.1,1885.3 1222.7,1883.1 1221.3,1882.2 1219.9,1885.7 1218.5,1879.1 1217.1,1876.9 1215.7,1880.6 1214.3,1879.5 1212.9,1879.1 1211.5,1873.1 1210.1,1874.8 1208.7,1872.4 1207.3,1871.7 1205.9,1870.0 1204.5,1873.3 1203.1,1870.2 1201.7,1867.4 1200.3,1867.7 1198.9,1870.4 1197.5,1868.6 1196.1,1869.6 1194.7,1866.3 1193.3,1864.3 1191.9,1867.5 1190.5,1865.8 1189.1,1865.3 1187.7,1863.6 1186.3,1864.2 1184.9,1868.2 1183.5,1864.6 1182.1,1861.4 1180.7,1862.1 1179.3,1867.6 1177.9,1858.1 1176.5,1858.4 1175.1,1865.0 1173.7,1857.7 1172.3,1856.6 1170.9,1857.9 1169.5,1856.2 1168.1,1855.4 1166.7,1854.5 1165.3,1857.7 1163.9,1852.6 1162.5,1850.8 1161.1,1851.8 1159.7,1848.0 1158.3,1851.3 1156.9,1846.3 1155.5,1848.5 1154.1,1846.1 1152.7,1844.2 1151.3,1843.2 1149.9,1851.1 1148.5,1844.5 1147.1,1844.6 1145.7,1844.0 1144.3,1844.8 1142.9,1841.7 1141.5,1840.3 1140.1,1846.9 1138.7,1838.7 1137.3,1838.8 1135.9,1836.1 1134.5,1836.6 1133.1,1834.9 1131.7,1832.5 1130.3,1834.5 1128.9,1830.1 1127.5,1836.5 1126.1,1827.1 1124.7,1826.1 1123.3,1826.5 1121.9,1825.2 1120.5,1827.6 1119.1,1823.3 1117.7,1822.1 1116.3,1825.0 1114.9,1824.2 1113.5,1821.4 1112.1,1823.7 1110.7,1819.9 1109.3,1823.0 1107.9,1820.2 1106.5,1817.3 1105.1,1815.5 1103.7,1816.6 1102.3,1814.4 1100.9,1815.3 1099.5,1817.4 1098.1,1812.2 1096.7,1811.7 1095.3,1810.8 1093.9,1810.0 1092.5,1807.2 1091.1,1806.8 1089.7,1804.2 1088.3,1804.1 1086.9,1801.9 1085.5,1805.7 1084.1,1800.8 1082.7,1799.9 1081.3,1800.3 1079.9,1797.5 1078.5,1796.6 1077.1,1793.5 1075.7,1793.5 1074.3,1793.8 1072.9,1792.6 1071.5,1794.2 1070.1,1796.4 1068.7,1790.8 1067.3,1790.5 1065.9,1796.9 1064.5,1788.1 1063.1,1790.0 1061.7,1787.6 1060.3,1788.3 1058.9,1784.6 1057.5,1784.1 1056.1,1787.5 1054.7,1783.4 1053.3,1780.0 1051.9,1784.6 1050.5,1780.2 1049.1,1779.5 1047.7,1785.7 1046.3,1777.4 1044.9,1777.6 1043.5,1776.7 1042.1,1777.5 1040.7,1776.1 1039.3,1781.5 1037.9,1775.0 1036.5,1780.1 1035.1,1773.1 1033.7,1770.8 1032.3,1772.7 1030.9,1770.5 1029.5,1769.8 1028.1,1770.7 1026.7,1767.3 1025.3,1772.1 1023.9,1768.8 1022.5,1769.8 1021.1,1763.9 1019.7,1763.4 1018.3,1764.4 1016.9,1763.5 1015.5,1765.6 1014.1,1761.3 1012.7,1765.2 1011.3,1759.6 1009.9,1758.5 1008.5,1758.4 1007.1,1757.6 1005.7,1757.2 1004.3,1754.3 1002.9,1754.6 1001.5,1753.6 1000.1,1755.1 998.7,1752.5 997.3,1749.2 995.9,1751.2 994.5,1748.5 993.1,1746.7 991.7,1748.4 990.3,1751.0 988.9,1742.1 987.5,1742.0 986.1,1739.1 984.7,1746.0 983.3,1738.5 981.9,1735.9 980.5,1734.6 979.1,1734.1 977.7,1732.1 976.3,1732.1 974.9,1736.4 973.5,1730.5 972.1,1729.4 970.7,1726.3 969.3,1724.5 967.9,1724.4 966.5,1724.0 965.1,1721.0 963.7,1719.3 962.3,1723.4 960.9,1718.4 959.5,1717.1 958.1,1714.7 956.7,1713.8 955.3,1712.7 953.9,1713.6 952.5,1712.5 951.1,1707.6 949.7,1707.1 948.3,1705.6 946.9,1705.2 945.5,1703.5 944.1,1702.6 942.7,1701.0 941.3,1700.0 939.9,1698.2 938.5,1698.0 937.1,1697.9 935.7,1697.1 934.3,1696.8 932.9,1696.8 931.5,1689.6" fill="#7d4f4f" stroke="#7d4f4f" stroke-width="1.6" stroke-linejoin="round"/>
<line x1="839.5" y1="1574.1" x2="1256.5" y2="1852.6" stroke="#0b1780" stroke-width="3" stroke-dasharray="0.1 6" stroke-linecap="round"/>
<rect x="815.5" y="1462.8" width="460.2" height="561" fill="none" stroke="#000" stroke-width="5" stroke-linejoin="miter"/>
<text x="1072.5" y="1700" font-size="31.5" text-anchor="middle" fill="#1b237a" font-family="'Liberation Sans',Arial,sans-serif" font-weight="bold" >1/f</text>
<text x="1267" y="1514.3" font-size="32" text-anchor="end" fill="#000" font-family="'Liberation Sans',Arial,sans-serif" font-weight="bold" >PEASCN-FAHCOO</text>
<text x="835" y="1950" font-size="30.5" textLength="115" lengthAdjust="spacingAndGlyphs" font-family="'Liberation Sans',Arial,sans-serif" font-weight="bold">V<tspan font-size="19.5" dy="7.5">DS</tspan><tspan dy="-7.5">=-1 V</tspan></text>
<text x="835" y="1994.4" font-size="30.5" textLength="432.5" lengthAdjust="spacingAndGlyphs" font-family="'Liberation Sans',Arial,sans-serif" font-weight="bold">V<tspan font-size="19.5" dy="7.5">GS</tspan><tspan dy="-7.5"> from -4 V to -32 V,step=-4 V</tspan></text>
<text x="1366.6" y="1447.5" font-size="50" text-anchor="start" fill="#000" font-family="'Liberation Serif','Times New Roman',serif" font-weight="bold" >i</text>
<line x1="1508.1" y1="2018" x2="1508.1" y2="2029.5" stroke="#000" stroke-width="5" />
<line x1="1599" y1="2018" x2="1599" y2="2029.5" stroke="#000" stroke-width="5" />
<line x1="1689.9" y1="2018" x2="1689.9" y2="2029.5" stroke="#000" stroke-width="5" />
<line x1="1780.8" y1="2018" x2="1780.8" y2="2029.5" stroke="#000" stroke-width="5" />
<line x1="1871.7" y1="2018" x2="1871.7" y2="2029.5" stroke="#000" stroke-width="5" />
<line x1="1962.6" y1="2018" x2="1962.6" y2="2029.5" stroke="#000" stroke-width="5" />
<line x1="1553.55" y1="2018" x2="1553.55" y2="2024.5" stroke="#000" stroke-width="4" />
<line x1="1644.45" y1="2018" x2="1644.45" y2="2024.5" stroke="#000" stroke-width="4" />
<line x1="1735.35" y1="2018" x2="1735.35" y2="2024.5" stroke="#000" stroke-width="4" />
<line x1="1826.25" y1="2018" x2="1826.25" y2="2024.5" stroke="#000" stroke-width="4" />
<line x1="1917.15" y1="2018" x2="1917.15" y2="2024.5" stroke="#000" stroke-width="4" />
<line x1="1508.1" y1="2018" x2="1496.6" y2="2018" stroke="#000" stroke-width="5" />
<line x1="1508.1" y1="1906.8" x2="1496.6" y2="1906.8" stroke="#000" stroke-width="5" />
<line x1="1508.1" y1="1795.6" x2="1496.6" y2="1795.6" stroke="#000" stroke-width="5" />
<line x1="1508.1" y1="1684.4" x2="1496.6" y2="1684.4" stroke="#000" stroke-width="5" />
<line x1="1508.1" y1="1573.2" x2="1496.6" y2="1573.2" stroke="#000" stroke-width="5" />
<line x1="1508.1" y1="1462" x2="1496.6" y2="1462" stroke="#000" stroke-width="5" />
<line x1="1508.1" y1="1962.4" x2="1501.6" y2="1962.4" stroke="#000" stroke-width="4" />
<line x1="1508.1" y1="1851.2" x2="1501.6" y2="1851.2" stroke="#000" stroke-width="4" />
<line x1="1508.1" y1="1740" x2="1501.6" y2="1740" stroke="#000" stroke-width="4" />
<line x1="1508.1" y1="1628.8" x2="1501.6" y2="1628.8" stroke="#000" stroke-width="4" />
<line x1="1508.1" y1="1517.6" x2="1501.6" y2="1517.6" stroke="#000" stroke-width="4" />
<text x="1508.1" y="2063" font-size="34" text-anchor="middle" fill="#000" font-family="'Liberation Sans',Arial,sans-serif" font-weight="bold" >0</text>
<text x="1599" y="2063" font-size="34" text-anchor="middle" fill="#000" font-family="'Liberation Sans',Arial,sans-serif" font-weight="bold" >10</text>
<text x="1689.9" y="2063" font-size="34" text-anchor="middle" fill="#000" font-family="'Liberation Sans',Arial,sans-serif" font-weight="bold" >20</text>
<text x="1780.8" y="2063" font-size="34" text-anchor="middle" fill="#000" font-family="'Liberation Sans',Arial,sans-serif" font-weight="bold" >30</text>
<text x="1871.7" y="2063" font-size="34" text-anchor="middle" fill="#000" font-family="'Liberation Sans',Arial,sans-serif" font-weight="bold" >40</text>
<text x="1962.6" y="2063" font-size="34" text-anchor="middle" fill="#000" font-family="'Liberation Sans',Arial,sans-serif" font-weight="bold" >50</text>
<text x="1490" y="2030" font-size="34" text-anchor="end" fill="#000" font-family="'Liberation Sans',Arial,sans-serif" font-weight="bold" >0</text>
<text x="1490" y="1918.8" font-size="34" text-anchor="end" fill="#000" font-family="'Liberation Sans',Arial,sans-serif" font-weight="bold" >20</text>
<text x="1490" y="1807.6" font-size="34" text-anchor="end" fill="#000" font-family="'Liberation Sans',Arial,sans-serif" font-weight="bold" >40</text>
<text x="1490" y="1696.4" font-size="34" text-anchor="end" fill="#000" font-family="'Liberation Sans',Arial,sans-serif" font-weight="bold" >60</text>
<text x="1490" y="1585.2" font-size="34" text-anchor="end" fill="#000" font-family="'Liberation Sans',Arial,sans-serif" font-weight="bold" >80</text>
<text x="1490" y="1474" font-size="34" text-anchor="end" fill="#000" font-family="'Liberation Sans',Arial,sans-serif" font-weight="bold" >100</text>
<text x="1740" y="2128" font-size="40" text-anchor="middle" font-family="'Liberation Sans',Arial,sans-serif" font-weight="bold">Mobility (cm<tspan font-size="25" dy="-14">2</tspan><tspan dy="14"> V</tspan><tspan font-size="25" dy="-14">-1</tspan><tspan dy="14"> s</tspan><tspan font-size="25" dy="-14">-1</tspan><tspan dy="14">)</tspan></text>
<text transform="translate(1420.5,1739.5) rotate(-90)" font-size="40" text-anchor="middle" font-family="'Liberation Sans',Arial,sans-serif" font-weight="bold">Counts</text>
<rect x="1527.19" y="1962.4" width="8.73" height="55.6" fill="url(#hN)" stroke="#000" stroke-width="1.6"/>
<rect x="1535.92" y="1728.88" width="9.09" height="289.12" fill="url(#hN)" stroke="#000" stroke-width="1.6"/>
<rect x="1545.01" y="1550.96" width="9.18" height="467.04" fill="url(#hN)" stroke="#000" stroke-width="1.6"/>
<rect x="1554.19" y="1873.44" width="8.73" height="144.56" fill="url(#hN)" stroke="#000" stroke-width="1.6"/>
<rect x="1562.91" y="1884.56" width="9.18" height="133.44" fill="url(#hN)" stroke="#000" stroke-width="1.6"/>
<rect x="1572.09" y="1995.76" width="8.36" height="22.24" fill="url(#hN)" stroke="#000" stroke-width="1.6"/>
<rect x="1783.44" y="1923.48" width="17.54" height="94.52" fill="url(#hO)" stroke="#000" stroke-width="1.6"/>
<rect x="1806.07" y="1879" width="18.27" height="139" fill="url(#hO)" stroke="#000" stroke-width="1.6"/>
<rect x="1829.16" y="1767.8" width="17.54" height="250.2" fill="url(#hO)" stroke="#000" stroke-width="1.6"/>
<rect x="1851.79" y="1695.52" width="17.54" height="322.48" fill="url(#hO)" stroke="#000" stroke-width="1.6"/>
<rect x="1874.88" y="1823.4" width="17.54" height="194.6" fill="url(#hO)" stroke="#000" stroke-width="1.6"/>
<rect x="1897.52" y="1906.8" width="17.54" height="111.2" fill="url(#hO)" stroke="#000" stroke-width="1.6"/>
<polyline points="1535.92,1941.31 1536.31,1939.17 1536.7,1936.7 1537.09,1933.84 1537.49,1930.55 1537.88,1926.8 1538.27,1922.53 1538.66,1917.7 1539.06,1912.26 1539.45,1906.18 1539.84,1899.4 1540.23,1891.89 1540.63,1883.61 1541.02,1874.54 1541.41,1864.66 1541.8,1853.96 1542.2,1842.42 1542.59,1830.07 1542.98,1816.92 1543.38,1803.01 1543.77,1788.39 1544.16,1773.11 1544.55,1757.27 1544.95,1740.94 1545.34,1724.24 1545.73,1707.29 1546.12,1690.23 1546.52,1673.19 1546.91,1656.33 1547.3,1639.82 1547.69,1623.83 1548.09,1608.51 1548.48,1594.04 1548.87,1580.58 1549.26,1568.29 1549.66,1557.31 1550.05,1547.79 1550.44,1539.83 1550.84,1533.54 1551.23,1529 1551.62,1526.27 1552.01,1525.38 1552.41,1526.35 1552.8,1529.16 1553.19,1533.78 1553.58,1540.14 1553.98,1548.16 1554.37,1557.75 1554.76,1568.79 1555.15,1581.13 1555.55,1594.64 1555.94,1609.15 1556.33,1624.5 1556.72,1640.52 1557.12,1657.05 1557.51,1673.91 1557.9,1690.96 1558.3,1708.02 1558.69,1724.96 1559.08,1741.65 1559.47,1757.95 1559.87,1773.78 1560.26,1789.03 1560.65,1803.62 1561.04,1817.5 1561.44,1830.62 1561.83,1842.93 1562.22,1854.43 1562.61,1865.1 1563.01,1874.95 1563.4,1883.98 1563.79,1892.22 1564.18,1899.7 1564.58,1906.45 1564.97,1912.51 1565.36,1917.92 1565.76,1922.73 1566.15,1926.97 1566.54,1930.7 1566.93,1933.97 1567.33,1936.81 1567.72,1939.27 1568.11,1941.39 1568.5,1943.21 1568.9,1944.76 1569.29,1946.07 1569.68,1947.19 1570.07,1948.12 1570.47,1948.9 1570.86,1949.56 1571.25,1950.09 1571.64,1950.54 1572.04,1950.91 1572.43,1951.2 1572.82,1951.45 1573.21,1951.64 1573.61,1951.8 1574,1951.93 1574.39,1952.03 1574.79,1952.11 1575.18,1952.17 1575.57,1952.22 1575.96,1952.26 1576.36,1952.29 1576.75,1952.32 1577.14,1952.33 1577.53,1952.35 1577.93,1952.36 1578.32,1952.37 1578.71,1952.37 1579.1,1952.38 1579.5,1952.38 1579.89,1952.38 1580.28,1952.39 1580.67,1952.39 1581.07,1952.39 1581.46,1952.39 1581.85,1952.39 1582.25,1952.39 1582.64,1952.39" fill="none" stroke="#0e3f8a" stroke-width="3" stroke-linejoin="round" stroke-linecap="round" />
<polyline points="1792.62,1925.15 1793.57,1924.19 1794.53,1923.15 1795.48,1922.03 1796.44,1920.81 1797.39,1919.51 1798.35,1918.1 1799.3,1916.58 1800.26,1914.96 1801.21,1913.22 1802.17,1911.36 1803.12,1909.38 1804.07,1907.27 1805.03,1905.02 1805.98,1902.64 1806.94,1900.11 1807.89,1897.44 1808.85,1894.62 1809.8,1891.65 1810.76,1888.52 1811.71,1885.24 1812.67,1881.8 1813.62,1878.21 1814.58,1874.46 1815.53,1870.55 1816.49,1866.49 1817.44,1862.27 1818.4,1857.91 1819.35,1853.4 1820.31,1848.76 1821.26,1843.98 1822.22,1839.07 1823.17,1834.05 1824.13,1828.91 1825.08,1823.67 1826.04,1818.35 1826.99,1812.95 1827.95,1807.48 1828.9,1801.95 1829.86,1796.4 1830.81,1790.81 1831.77,1785.22 1832.72,1779.64 1833.67,1774.09 1834.63,1768.58 1835.58,1763.13 1836.54,1757.75 1837.49,1752.48 1838.45,1747.32 1839.4,1742.3 1840.36,1737.43 1841.31,1732.73 1842.27,1728.22 1843.22,1723.92 1844.18,1719.84 1845.13,1716.01 1846.09,1712.42 1847.04,1709.11 1848,1706.09 1848.95,1703.36 1849.91,1700.93 1850.86,1698.83 1851.82,1697.06 1852.77,1695.62 1853.73,1694.52 1854.68,1693.77 1855.64,1693.37 1856.59,1693.32 1857.55,1693.62 1858.5,1694.27 1859.46,1695.28 1860.41,1696.62 1861.36,1698.3 1862.32,1700.31 1863.27,1702.65 1864.23,1705.29 1865.18,1708.24 1866.14,1711.47 1867.09,1714.98 1868.05,1718.74 1869,1722.76 1869.96,1727 1870.91,1731.45 1871.87,1736.1 1872.82,1740.92 1873.78,1745.9 1874.73,1751.02 1875.69,1756.27 1876.64,1761.61 1877.6,1767.04 1878.55,1772.54 1879.51,1778.08 1880.46,1783.66 1881.42,1789.25 1882.37,1794.83 1883.33,1800.4 1884.28,1805.93 1885.24,1811.42 1886.19,1816.84 1887.15,1822.19 1888.1,1827.45 1889.06,1832.62 1890.01,1837.68 1890.96,1842.62 1891.92,1847.43 1892.87,1852.12 1893.83,1856.66 1894.78,1861.07 1895.74,1865.32 1896.69,1869.43 1897.65,1873.38 1898.6,1877.17 1899.56,1880.81 1900.51,1884.29 1901.47,1887.62 1902.42,1890.79 1903.38,1893.8 1904.33,1896.66 1905.29,1899.38 1906.24,1901.94" fill="none" stroke="#ff7c0a" stroke-width="3" stroke-linejoin="round" stroke-linecap="round" />
<rect x="1508.1" y="1462" width="454.5" height="556" fill="none" stroke="#000" stroke-width="5" stroke-linejoin="miter"/>
<rect x="1586.5" y="1475.5" width="69" height="34" fill="url(#hO)" stroke="#000" stroke-width="1.5"/>
<rect x="1586.5" y="1515.6" width="69" height="33.6" fill="url(#hN)" stroke="#000" stroke-width="1.5"/>
<text x="1665" y="1502.4" font-size="32" text-anchor="start" fill="#000" font-family="'Liberation Sans',Arial,sans-serif" font-weight="bold" >PEASCN-FAHCOO</text>
<text x="1665" y="1542.7" font-size="31.5" text-anchor="start" fill="#000" font-family="'Liberation Sans',Arial,sans-serif" font-weight="bold" >PEAI</text>
</svg></body></html>
